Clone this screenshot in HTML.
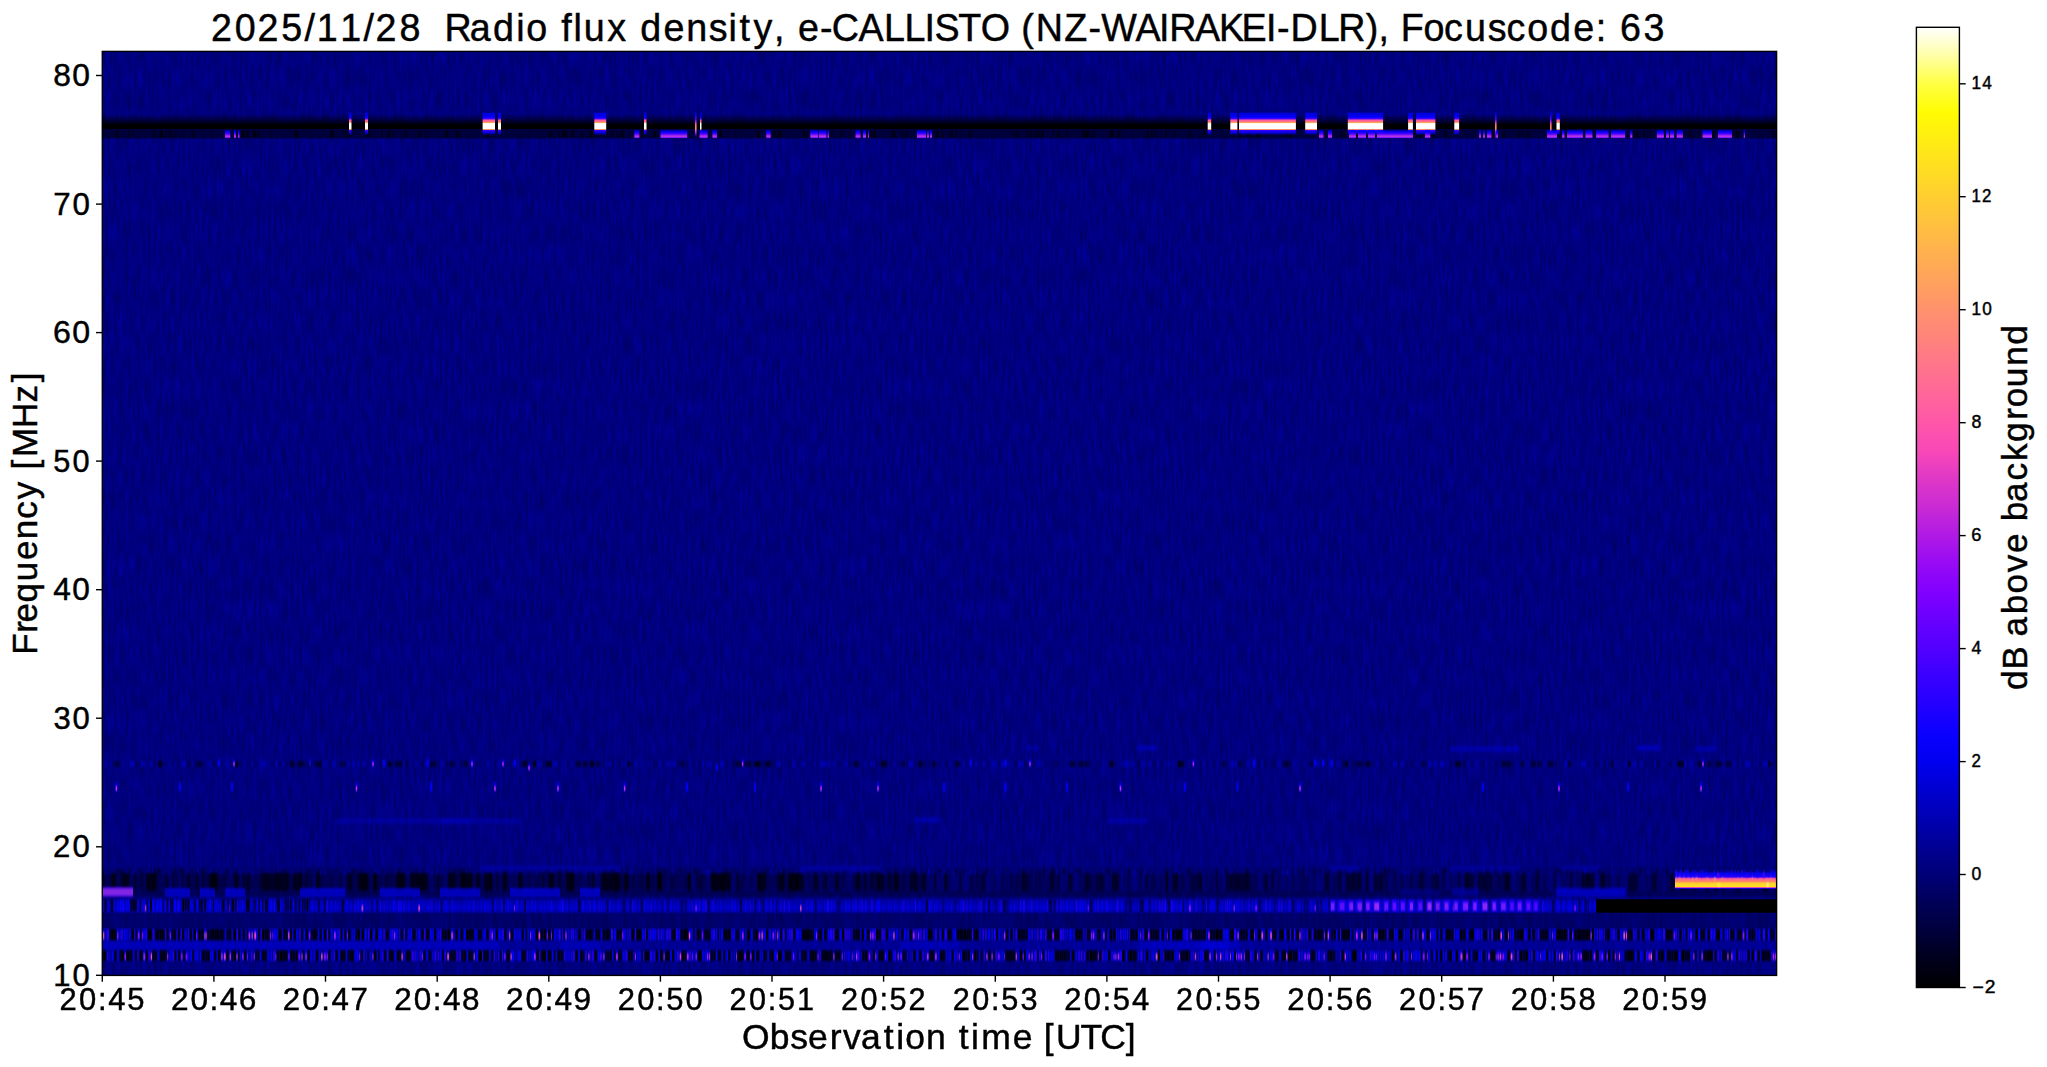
<!DOCTYPE html>
<html><head><meta charset="utf-8"><style>
html,body{margin:0;padding:0;background:#fff;width:2047px;height:1067px;overflow:hidden}
svg{display:block}
text{font-family:"Liberation Sans",sans-serif;fill:#000;stroke:#000;stroke-width:0.45px}
</style></head><body>
<svg width="2047" height="1067" viewBox="0 0 2047 1067">
<defs>
<linearGradient id="cb" x1="0" y1="1" x2="0" y2="0">
<stop offset="0.0000" stop-color="#000000"/>
<stop offset="0.0294" stop-color="#00001c"/>
<stop offset="0.0588" stop-color="#00003c"/>
<stop offset="0.0882" stop-color="#000058"/>
<stop offset="0.1176" stop-color="#000078"/>
<stop offset="0.1471" stop-color="#000094"/>
<stop offset="0.1765" stop-color="#0000b4"/>
<stop offset="0.2059" stop-color="#0000d0"/>
<stop offset="0.2353" stop-color="#0000f0"/>
<stop offset="0.2647" stop-color="#0a00ff"/>
<stop offset="0.2941" stop-color="#2300ff"/>
<stop offset="0.3235" stop-color="#3900ff"/>
<stop offset="0.3529" stop-color="#5200ff"/>
<stop offset="0.3824" stop-color="#6800ff"/>
<stop offset="0.4118" stop-color="#8100ff"/>
<stop offset="0.4412" stop-color="#970af5"/>
<stop offset="0.4706" stop-color="#b01ae5"/>
<stop offset="0.5000" stop-color="#c92ad5"/>
<stop offset="0.5294" stop-color="#df38c7"/>
<stop offset="0.5588" stop-color="#f848b7"/>
<stop offset="0.5882" stop-color="#ff56a9"/>
<stop offset="0.6176" stop-color="#ff6699"/>
<stop offset="0.6471" stop-color="#ff748b"/>
<stop offset="0.6765" stop-color="#ff847b"/>
<stop offset="0.7059" stop-color="#ff926d"/>
<stop offset="0.7353" stop-color="#ffa25d"/>
<stop offset="0.7647" stop-color="#ffb04f"/>
<stop offset="0.7941" stop-color="#ffc03f"/>
<stop offset="0.8235" stop-color="#ffce31"/>
<stop offset="0.8529" stop-color="#ffde21"/>
<stop offset="0.8824" stop-color="#ffec13"/>
<stop offset="0.9118" stop-color="#fffc03"/>
<stop offset="0.9412" stop-color="#ffff43"/>
<stop offset="0.9706" stop-color="#ffffa7"/>
<stop offset="1.0000" stop-color="#ffffff"/>
</linearGradient>
</defs>

<rect x="102.3" y="51.4" width="1674.3" height="924.0" fill="#00007d"/>
<defs><filter id="tex" x="0" y="0" width="100%" height="100%" color-interpolation-filters="sRGB">
<feTurbulence type="fractalNoise" baseFrequency="0.35 0.045" numOctaves="3" seed="3"/>
<feColorMatrix type="matrix" values="0 0 0 0 0  0 0 0 0 0  0.3 0 0 0 0.345  0 0 0 0 1"/>
</filter>
<linearGradient id="gTopDark" x1="0" y1="0" x2="0" y2="1"><stop offset="0" stop-color="#000" stop-opacity="0"/><stop offset="1" stop-color="#000" stop-opacity="0.8"/></linearGradient>
<linearGradient id="gWhite" x1="0" y1="0" x2="0" y2="1">
<stop offset="0" stop-color="#0000ff" stop-opacity="0"/>
<stop offset="0.065" stop-color="#0000ff" stop-opacity="0.7"/>
<stop offset="0.217" stop-color="#0000ff"/>
<stop offset="0.296" stop-color="#4000ff"/>
<stop offset="0.348" stop-color="#ff56a9"/>
<stop offset="0.448" stop-color="#ff8070"/>
<stop offset="0.474" stop-color="#ffe030"/>
<stop offset="0.504" stop-color="#ffffff"/>
<stop offset="0.717" stop-color="#ffffff"/>
<stop offset="0.748" stop-color="#ffd040"/>
<stop offset="0.774" stop-color="#ff5090"/>
<stop offset="0.804" stop-color="#3000ff"/>
<stop offset="0.913" stop-color="#0000ff" stop-opacity="0.8"/>
<stop offset="1" stop-color="#0000ff" stop-opacity="0"/>
</linearGradient>
<linearGradient id="gThin" x1="0" y1="0" x2="0" y2="1">
<stop offset="0" stop-color="#0000ff" stop-opacity="0"/>
<stop offset="0.15" stop-color="#0000ff" stop-opacity="0.8"/>
<stop offset="0.35" stop-color="#6000ff"/>
<stop offset="0.5" stop-color="#ff60a0"/>
<stop offset="0.65" stop-color="#ff9060"/>
<stop offset="0.8" stop-color="#c030e0"/>
<stop offset="1" stop-color="#0000ff" stop-opacity="0"/>
</linearGradient>
<linearGradient id="gPurp" x1="0" y1="0" x2="0" y2="1">
<stop offset="0" stop-color="#0000ff" stop-opacity="0.2"/>
<stop offset="0.25" stop-color="#0000ff"/>
<stop offset="0.5" stop-color="#5000ff"/>
<stop offset="0.75" stop-color="#c038e0"/>
<stop offset="0.9" stop-color="#8010ff"/>
<stop offset="1" stop-color="#2000ff" stop-opacity="0.4"/>
</linearGradient>
<linearGradient id="gYel" x1="0" y1="0" x2="0" y2="1">
<stop offset="0" stop-color="#0000ff" stop-opacity="0"/>
<stop offset="0.06" stop-color="#0000ff" stop-opacity="0.8"/>
<stop offset="0.29" stop-color="#2000ff"/>
<stop offset="0.34" stop-color="#d040c0"/>
<stop offset="0.40" stop-color="#ff6090"/>
<stop offset="0.57" stop-color="#ff9060"/>
<stop offset="0.63" stop-color="#ffd030"/>
<stop offset="0.83" stop-color="#ffe020"/>
<stop offset="0.88" stop-color="#ff60a0"/>
<stop offset="0.92" stop-color="#3000ff"/>
<stop offset="1" stop-color="#0000ff" stop-opacity="0"/>
</linearGradient>
<linearGradient id="gFade" x1="0" y1="0" x2="0" y2="1">
<stop offset="0" stop-color="#fff" stop-opacity="0"/>
<stop offset="0.25" stop-color="#fff" stop-opacity="1"/>
<stop offset="0.8" stop-color="#fff" stop-opacity="1"/>
<stop offset="1" stop-color="#fff" stop-opacity="0"/>
</linearGradient>
<mask id="m1" maskUnits="userSpaceOnUse" x="102.3" y="128.3" width="1674.3" height="11.2"><rect x="102.3" y="129.3" width="1674.3" height="9.2" fill="url(#gFade)"/></mask><filter id="blx" x="-2%" y="-20%" width="104%" height="140%"><feGaussianBlur stdDeviation="0.6 0.2"/></filter><filter id="bl" x="-2%" y="-50%" width="104%" height="200%"><feGaussianBlur stdDeviation="0.35 1.0"/></filter><filter id="bl2" x="-2%" y="-50%" width="104%" height="200%"><feGaussianBlur stdDeviation="0.8 1.5"/></filter><clipPath id="plotclip"><rect x="102.3" y="51.4" width="1674.3" height="924.0"/></clipPath></defs>
<g clip-path="url(#plotclip)">
<rect x="102.3" y="51.4" width="1674.3" height="924.0" fill="#000078"/>
<rect x="102.3" y="51.4" width="1674.3" height="924.0" filter="url(#tex)"/>
<rect x="102.3" y="114.0" width="1674.3" height="9.3" fill="url(#gTopDark)"/>
<rect x="102.3" y="123.3" width="1674.3" height="6.0" fill="#000"/>
<rect x="102.3" y="129.3" width="1674.3" height="9.2" fill="#000020" opacity="0.7"/>
<g mask="url(#m1)"><rect x="115.0" y="129.3" width="3.4" height="9.2" fill="#000" opacity="0.45"/><rect x="128.1" y="129.3" width="2.8" height="9.2" fill="#000" opacity="0.31"/><rect x="132.6" y="129.3" width="1.2" height="9.2" fill="#000" opacity="0.42"/><rect x="153.2" y="129.3" width="3.1" height="9.2" fill="#000" opacity="0.41"/><rect x="159.6" y="129.3" width="3.5" height="9.2" fill="#000" opacity="0.78"/><rect x="165.6" y="129.3" width="1.0" height="9.2" fill="#000" opacity="0.76"/><rect x="168.1" y="129.3" width="3.9" height="9.2" fill="#000" opacity="0.34"/><rect x="173.9" y="129.3" width="3.3" height="9.2" fill="#000" opacity="0.34"/><rect x="182.5" y="129.3" width="1.7" height="9.2" fill="#000" opacity="0.33"/><rect x="191.4" y="129.3" width="2.9" height="9.2" fill="#000" opacity="0.51"/><rect x="210.6" y="129.3" width="1.9" height="9.2" fill="#000" opacity="0.35"/><rect x="228.1" y="129.3" width="1.7" height="9.2" fill="#000" opacity="0.67"/><rect x="241.8" y="129.3" width="3.1" height="9.2" fill="#000" opacity="0.71"/><rect x="246.7" y="129.3" width="1.9" height="9.2" fill="#000" opacity="0.66"/><rect x="253.0" y="129.3" width="2.8" height="9.2" fill="#000" opacity="0.76"/><rect x="256.5" y="129.3" width="1.0" height="9.2" fill="#000" opacity="0.52"/><rect x="257.7" y="129.3" width="1.5" height="9.2" fill="#000" opacity="0.59"/><rect x="269.4" y="129.3" width="1.4" height="9.2" fill="#000" opacity="0.31"/><rect x="294.9" y="129.3" width="3.7" height="9.2" fill="#000" opacity="0.64"/><rect x="330.4" y="129.3" width="3.5" height="9.2" fill="#000" opacity="0.68"/><rect x="342.4" y="129.3" width="3.8" height="9.2" fill="#000" opacity="0.31"/><rect x="347.1" y="129.3" width="3.0" height="9.2" fill="#000" opacity="0.38"/><rect x="366.1" y="129.3" width="3.6" height="9.2" fill="#000" opacity="0.59"/><rect x="381.0" y="129.3" width="1.8" height="9.2" fill="#000" opacity="0.53"/><rect x="387.2" y="129.3" width="2.5" height="9.2" fill="#000" opacity="0.72"/><rect x="392.6" y="129.3" width="2.4" height="9.2" fill="#000" opacity="0.32"/><rect x="403.9" y="129.3" width="3.5" height="9.2" fill="#000" opacity="0.37"/><rect x="418.1" y="129.3" width="3.1" height="9.2" fill="#000" opacity="0.54"/><rect x="424.9" y="129.3" width="1.5" height="9.2" fill="#000" opacity="0.47"/><rect x="444.9" y="129.3" width="3.7" height="9.2" fill="#000" opacity="0.58"/><rect x="456.1" y="129.3" width="3.0" height="9.2" fill="#000" opacity="0.66"/><rect x="486.3" y="129.3" width="3.4" height="9.2" fill="#000" opacity="0.70"/><rect x="548.8" y="129.3" width="3.8" height="9.2" fill="#000" opacity="0.54"/><rect x="558.0" y="129.3" width="2.4" height="9.2" fill="#000" opacity="0.40"/><rect x="562.3" y="129.3" width="3.8" height="9.2" fill="#000" opacity="0.69"/><rect x="566.1" y="129.3" width="1.6" height="9.2" fill="#000" opacity="0.64"/><rect x="571.0" y="129.3" width="3.2" height="9.2" fill="#000" opacity="0.56"/><rect x="581.6" y="129.3" width="1.5" height="9.2" fill="#000" opacity="0.62"/><rect x="589.4" y="129.3" width="3.6" height="9.2" fill="#000" opacity="0.67"/><rect x="595.4" y="129.3" width="3.7" height="9.2" fill="#000" opacity="0.46"/><rect x="606.2" y="129.3" width="1.4" height="9.2" fill="#000" opacity="0.66"/><rect x="610.9" y="129.3" width="3.4" height="9.2" fill="#000" opacity="0.50"/><rect x="616.4" y="129.3" width="1.1" height="9.2" fill="#000" opacity="0.64"/><rect x="620.2" y="129.3" width="3.9" height="9.2" fill="#000" opacity="0.55"/><rect x="629.4" y="129.3" width="1.2" height="9.2" fill="#000" opacity="0.32"/><rect x="635.3" y="129.3" width="1.6" height="9.2" fill="#000" opacity="0.72"/><rect x="639.8" y="129.3" width="3.8" height="9.2" fill="#000" opacity="0.33"/><rect x="653.5" y="129.3" width="2.8" height="9.2" fill="#000" opacity="0.65"/><rect x="662.6" y="129.3" width="2.2" height="9.2" fill="#000" opacity="0.38"/><rect x="706.8" y="129.3" width="1.2" height="9.2" fill="#000" opacity="0.53"/><rect x="719.4" y="129.3" width="2.6" height="9.2" fill="#000" opacity="0.80"/><rect x="735.2" y="129.3" width="1.6" height="9.2" fill="#000" opacity="0.35"/><rect x="755.8" y="129.3" width="3.8" height="9.2" fill="#000" opacity="0.54"/><rect x="768.1" y="129.3" width="2.8" height="9.2" fill="#000" opacity="0.44"/><rect x="772.9" y="129.3" width="2.7" height="9.2" fill="#000" opacity="0.66"/><rect x="776.5" y="129.3" width="1.0" height="9.2" fill="#000" opacity="0.32"/><rect x="778.0" y="129.3" width="3.3" height="9.2" fill="#000" opacity="0.75"/><rect x="802.7" y="129.3" width="2.8" height="9.2" fill="#000" opacity="0.61"/><rect x="806.9" y="129.3" width="1.6" height="9.2" fill="#000" opacity="0.56"/><rect x="830.2" y="129.3" width="2.9" height="9.2" fill="#000" opacity="0.44"/><rect x="839.8" y="129.3" width="3.3" height="9.2" fill="#000" opacity="0.42"/><rect x="849.8" y="129.3" width="1.2" height="9.2" fill="#000" opacity="0.51"/><rect x="857.3" y="129.3" width="2.9" height="9.2" fill="#000" opacity="0.54"/><rect x="865.4" y="129.3" width="1.2" height="9.2" fill="#000" opacity="0.70"/><rect x="868.5" y="129.3" width="3.3" height="9.2" fill="#000" opacity="0.51"/><rect x="872.6" y="129.3" width="3.4" height="9.2" fill="#000" opacity="0.63"/><rect x="892.3" y="129.3" width="3.1" height="9.2" fill="#000" opacity="0.69"/><rect x="901.4" y="129.3" width="1.8" height="9.2" fill="#000" opacity="0.48"/><rect x="905.5" y="129.3" width="2.1" height="9.2" fill="#000" opacity="0.65"/><rect x="919.0" y="129.3" width="2.0" height="9.2" fill="#000" opacity="0.77"/><rect x="923.6" y="129.3" width="1.7" height="9.2" fill="#000" opacity="0.48"/><rect x="926.5" y="129.3" width="2.2" height="9.2" fill="#000" opacity="0.40"/><rect x="936.2" y="129.3" width="2.7" height="9.2" fill="#000" opacity="0.68"/><rect x="941.6" y="129.3" width="1.8" height="9.2" fill="#000" opacity="0.56"/><rect x="949.7" y="129.3" width="3.4" height="9.2" fill="#000" opacity="0.57"/><rect x="955.5" y="129.3" width="1.3" height="9.2" fill="#000" opacity="0.67"/><rect x="968.3" y="129.3" width="3.3" height="9.2" fill="#000" opacity="0.47"/><rect x="1013.0" y="129.3" width="1.5" height="9.2" fill="#000" opacity="0.51"/><rect x="1015.3" y="129.3" width="3.9" height="9.2" fill="#000" opacity="0.45"/><rect x="1026.0" y="129.3" width="3.7" height="9.2" fill="#000" opacity="0.35"/><rect x="1030.3" y="129.3" width="1.7" height="9.2" fill="#000" opacity="0.66"/><rect x="1033.7" y="129.3" width="1.7" height="9.2" fill="#000" opacity="0.44"/><rect x="1035.9" y="129.3" width="3.3" height="9.2" fill="#000" opacity="0.57"/><rect x="1041.6" y="129.3" width="2.4" height="9.2" fill="#000" opacity="0.74"/><rect x="1051.7" y="129.3" width="2.4" height="9.2" fill="#000" opacity="0.32"/><rect x="1057.0" y="129.3" width="3.4" height="9.2" fill="#000" opacity="0.56"/><rect x="1065.8" y="129.3" width="1.7" height="9.2" fill="#000" opacity="0.54"/><rect x="1073.8" y="129.3" width="1.5" height="9.2" fill="#000" opacity="0.46"/><rect x="1081.6" y="129.3" width="4.0" height="9.2" fill="#000" opacity="0.57"/><rect x="1086.0" y="129.3" width="3.3" height="9.2" fill="#000" opacity="0.71"/><rect x="1091.8" y="129.3" width="3.5" height="9.2" fill="#000" opacity="0.43"/><rect x="1109.8" y="129.3" width="3.8" height="9.2" fill="#000" opacity="0.71"/><rect x="1117.2" y="129.3" width="3.5" height="9.2" fill="#000" opacity="0.46"/><rect x="1146.2" y="129.3" width="2.8" height="9.2" fill="#000" opacity="0.49"/><rect x="1150.7" y="129.3" width="1.9" height="9.2" fill="#000" opacity="0.50"/><rect x="1154.6" y="129.3" width="1.8" height="9.2" fill="#000" opacity="0.67"/><rect x="1165.6" y="129.3" width="1.4" height="9.2" fill="#000" opacity="0.64"/><rect x="1173.2" y="129.3" width="2.8" height="9.2" fill="#000" opacity="0.41"/><rect x="1188.7" y="129.3" width="2.2" height="9.2" fill="#000" opacity="0.51"/><rect x="1201.3" y="129.3" width="1.1" height="9.2" fill="#000" opacity="0.47"/><rect x="1204.3" y="129.3" width="1.3" height="9.2" fill="#000" opacity="0.55"/><rect x="1232.2" y="129.3" width="1.2" height="9.2" fill="#000" opacity="0.59"/><rect x="1238.6" y="129.3" width="2.4" height="9.2" fill="#000" opacity="0.79"/><rect x="1246.8" y="129.3" width="2.7" height="9.2" fill="#000" opacity="0.75"/><rect x="1256.3" y="129.3" width="3.5" height="9.2" fill="#000" opacity="0.75"/><rect x="1263.8" y="129.3" width="2.6" height="9.2" fill="#000" opacity="0.32"/><rect x="1281.6" y="129.3" width="1.0" height="9.2" fill="#000" opacity="0.53"/><rect x="1285.7" y="129.3" width="2.6" height="9.2" fill="#000" opacity="0.58"/><rect x="1289.3" y="129.3" width="2.9" height="9.2" fill="#000" opacity="0.64"/><rect x="1340.3" y="129.3" width="2.2" height="9.2" fill="#000" opacity="0.65"/><rect x="1344.1" y="129.3" width="1.7" height="9.2" fill="#000" opacity="0.50"/><rect x="1354.9" y="129.3" width="3.4" height="9.2" fill="#000" opacity="0.67"/><rect x="1360.0" y="129.3" width="3.7" height="9.2" fill="#000" opacity="0.70"/><rect x="1366.7" y="129.3" width="1.7" height="9.2" fill="#000" opacity="0.46"/><rect x="1383.1" y="129.3" width="2.4" height="9.2" fill="#000" opacity="0.45"/><rect x="1388.3" y="129.3" width="3.7" height="9.2" fill="#000" opacity="0.72"/><rect x="1393.1" y="129.3" width="2.4" height="9.2" fill="#000" opacity="0.74"/><rect x="1400.7" y="129.3" width="3.6" height="9.2" fill="#000" opacity="0.35"/><rect x="1411.0" y="129.3" width="3.1" height="9.2" fill="#000" opacity="0.65"/><rect x="1417.0" y="129.3" width="2.3" height="9.2" fill="#000" opacity="0.41"/><rect x="1420.2" y="129.3" width="3.1" height="9.2" fill="#000" opacity="0.39"/><rect x="1432.9" y="129.3" width="1.7" height="9.2" fill="#000" opacity="0.76"/><rect x="1444.3" y="129.3" width="2.6" height="9.2" fill="#000" opacity="0.60"/><rect x="1482.3" y="129.3" width="3.3" height="9.2" fill="#000" opacity="0.60"/><rect x="1491.0" y="129.3" width="3.4" height="9.2" fill="#000" opacity="0.54"/><rect x="1502.4" y="129.3" width="3.6" height="9.2" fill="#000" opacity="0.38"/><rect x="1517.2" y="129.3" width="3.4" height="9.2" fill="#000" opacity="0.37"/><rect x="1521.6" y="129.3" width="1.1" height="9.2" fill="#000" opacity="0.61"/><rect x="1526.3" y="129.3" width="3.5" height="9.2" fill="#000" opacity="0.43"/><rect x="1548.8" y="129.3" width="1.1" height="9.2" fill="#000" opacity="0.75"/><rect x="1550.4" y="129.3" width="2.2" height="9.2" fill="#000" opacity="0.51"/><rect x="1556.2" y="129.3" width="3.2" height="9.2" fill="#000" opacity="0.43"/><rect x="1565.6" y="129.3" width="2.1" height="9.2" fill="#000" opacity="0.79"/><rect x="1572.6" y="129.3" width="1.2" height="9.2" fill="#000" opacity="0.65"/><rect x="1583.8" y="129.3" width="3.3" height="9.2" fill="#000" opacity="0.47"/><rect x="1587.7" y="129.3" width="2.6" height="9.2" fill="#000" opacity="0.40"/><rect x="1591.0" y="129.3" width="2.4" height="9.2" fill="#000" opacity="0.52"/><rect x="1600.0" y="129.3" width="2.1" height="9.2" fill="#000" opacity="0.65"/><rect x="1603.3" y="129.3" width="1.8" height="9.2" fill="#000" opacity="0.39"/><rect x="1610.2" y="129.3" width="1.8" height="9.2" fill="#000" opacity="0.38"/><rect x="1619.1" y="129.3" width="3.7" height="9.2" fill="#000" opacity="0.46"/><rect x="1629.6" y="129.3" width="2.2" height="9.2" fill="#000" opacity="0.32"/><rect x="1632.3" y="129.3" width="2.8" height="9.2" fill="#000" opacity="0.46"/><rect x="1636.3" y="129.3" width="2.6" height="9.2" fill="#000" opacity="0.65"/><rect x="1643.4" y="129.3" width="1.6" height="9.2" fill="#000" opacity="0.66"/><rect x="1649.0" y="129.3" width="1.9" height="9.2" fill="#000" opacity="0.41"/><rect x="1667.7" y="129.3" width="3.6" height="9.2" fill="#000" opacity="0.62"/><rect x="1671.6" y="129.3" width="2.3" height="9.2" fill="#000" opacity="0.33"/><rect x="1683.0" y="129.3" width="1.3" height="9.2" fill="#000" opacity="0.51"/><rect x="1689.1" y="129.3" width="3.1" height="9.2" fill="#000" opacity="0.50"/><rect x="1698.6" y="129.3" width="2.0" height="9.2" fill="#000" opacity="0.31"/><rect x="1706.0" y="129.3" width="3.0" height="9.2" fill="#000" opacity="0.53"/><rect x="1710.9" y="129.3" width="3.9" height="9.2" fill="#000" opacity="0.59"/><rect x="1730.4" y="129.3" width="3.7" height="9.2" fill="#000" opacity="0.37"/><rect x="1735.7" y="129.3" width="1.9" height="9.2" fill="#000" opacity="0.79"/><rect x="1738.1" y="129.3" width="1.6" height="9.2" fill="#000" opacity="0.64"/><rect x="1772.1" y="129.3" width="2.1" height="9.2" fill="#000" opacity="0.67"/><rect x="1775.8" y="129.3" width="1.7" height="9.2" fill="#000" opacity="0.46"/></g>
<g filter="url(#blx)"><rect x="349.0" y="112.0" width="2.5" height="23.0" fill="url(#gWhite)"/><rect x="365.0" y="112.0" width="3.0" height="23.0" fill="url(#gWhite)"/><rect x="482.6" y="112.0" width="12.4" height="23.0" fill="url(#gWhite)"/><rect x="498.0" y="112.0" width="3.0" height="23.0" fill="url(#gWhite)"/><rect x="594.3" y="112.0" width="11.9" height="23.0" fill="url(#gWhite)"/><rect x="644.0" y="112.0" width="2.5" height="23.0" fill="url(#gWhite)"/><rect x="700.0" y="112.0" width="1.5" height="23.0" fill="url(#gWhite)"/><rect x="1207.7" y="112.0" width="3.5" height="23.0" fill="url(#gWhite)"/><rect x="1230.3" y="112.0" width="7.1" height="23.0" fill="url(#gWhite)"/><rect x="1239.0" y="112.0" width="56.9" height="23.0" fill="url(#gWhite)"/><rect x="1305.2" y="112.0" width="11.8" height="23.0" fill="url(#gWhite)"/><rect x="1347.8" y="112.0" width="35.3" height="23.0" fill="url(#gWhite)"/><rect x="1408.1" y="112.0" width="4.8" height="23.0" fill="url(#gWhite)"/><rect x="1416.0" y="112.0" width="19.4" height="23.0" fill="url(#gWhite)"/><rect x="1454.3" y="112.0" width="4.8" height="23.0" fill="url(#gWhite)"/><rect x="1556.5" y="112.0" width="3.3" height="23.0" fill="url(#gWhite)"/><rect x="695.0" y="110.0" width="1.6" height="28.0" fill="url(#gThin)"/><rect x="1495.0" y="110.0" width="1.6" height="28.0" fill="url(#gThin)"/><rect x="1550.0" y="110.0" width="1.6" height="28.0" fill="url(#gThin)"/></g>
<g filter="url(#blx)"><rect x="225.0" y="129.5" width="5.3" height="9.0" fill="url(#gPurp)"/><rect x="234.0" y="129.5" width="2.0" height="9.0" fill="url(#gPurp)"/><rect x="238.0" y="129.5" width="1.5" height="9.0" fill="url(#gPurp)"/><rect x="634.3" y="129.5" width="5.1" height="9.0" fill="url(#gPurp)"/><rect x="660.5" y="129.5" width="26.7" height="9.0" fill="url(#gPurp)"/><rect x="699.5" y="129.5" width="8.2" height="9.0" fill="url(#gPurp)"/><rect x="712.4" y="129.5" width="4.5" height="9.0" fill="url(#gPurp)"/><rect x="766.2" y="129.5" width="4.5" height="9.0" fill="url(#gPurp)"/><rect x="810.3" y="129.5" width="7.7" height="9.0" fill="url(#gPurp)"/><rect x="818.8" y="129.5" width="7.6" height="9.0" fill="url(#gPurp)"/><rect x="827.5" y="129.5" width="1.5" height="9.0" fill="url(#gPurp)"/><rect x="855.5" y="129.5" width="5.0" height="9.0" fill="url(#gPurp)"/><rect x="863.0" y="129.5" width="3.0" height="9.0" fill="url(#gPurp)"/><rect x="868.0" y="129.5" width="1.0" height="9.0" fill="url(#gPurp)"/><rect x="917.0" y="129.5" width="9.0" height="9.0" fill="url(#gPurp)"/><rect x="927.0" y="129.5" width="2.0" height="9.0" fill="url(#gPurp)"/><rect x="930.0" y="129.5" width="2.0" height="9.0" fill="url(#gPurp)"/><rect x="1319.0" y="129.5" width="4.5" height="9.0" fill="url(#gPurp)"/><rect x="1328.0" y="129.5" width="4.0" height="9.0" fill="url(#gPurp)"/><rect x="1349.0" y="129.5" width="7.0" height="9.0" fill="url(#gPurp)"/><rect x="1358.0" y="129.5" width="8.0" height="9.0" fill="url(#gPurp)"/><rect x="1368.0" y="129.5" width="7.0" height="9.0" fill="url(#gPurp)"/><rect x="1377.0" y="129.5" width="36.0" height="9.0" fill="url(#gPurp)"/><rect x="1425.0" y="129.5" width="5.3" height="9.0" fill="url(#gPurp)"/><rect x="1479.0" y="129.5" width="2.0" height="9.0" fill="url(#gPurp)"/><rect x="1483.0" y="129.5" width="2.0" height="9.0" fill="url(#gPurp)"/><rect x="1487.0" y="129.5" width="4.5" height="9.0" fill="url(#gPurp)"/><rect x="1495.6" y="129.5" width="2.4" height="9.0" fill="url(#gPurp)"/><rect x="1547.0" y="129.5" width="10.0" height="9.0" fill="url(#gPurp)"/><rect x="1562.0" y="129.5" width="2.6" height="9.0" fill="url(#gPurp)"/><rect x="1567.0" y="129.5" width="15.9" height="9.0" fill="url(#gPurp)"/><rect x="1585.3" y="129.5" width="7.2" height="9.0" fill="url(#gPurp)"/><rect x="1596.1" y="129.5" width="12.5" height="9.0" fill="url(#gPurp)"/><rect x="1611.0" y="129.5" width="14.2" height="9.0" fill="url(#gPurp)"/><rect x="1630.2" y="129.5" width="2.2" height="9.0" fill="url(#gPurp)"/><rect x="1656.8" y="129.5" width="7.1" height="9.0" fill="url(#gPurp)"/><rect x="1666.0" y="129.5" width="3.0" height="9.0" fill="url(#gPurp)"/><rect x="1670.0" y="129.5" width="4.2" height="9.0" fill="url(#gPurp)"/><rect x="1676.7" y="129.5" width="6.2" height="9.0" fill="url(#gPurp)"/><rect x="1702.5" y="129.5" width="9.5" height="9.0" fill="url(#gPurp)"/><rect x="1718.0" y="129.5" width="13.9" height="9.0" fill="url(#gPurp)"/><rect x="1743.7" y="129.5" width="1.3" height="9.0" fill="url(#gPurp)"/></g>
<g filter="url(#bl2)"><rect x="102.3" y="874.0" width="797.7" height="15.0" fill="#000010" opacity="0.6"/><rect x="900.0" y="874.0" width="876.6" height="15.0" fill="#000010" opacity="0.45"/><rect x="102.3" y="868.0" width="1674.3" height="6.0" fill="#000020" opacity="0.25"/><rect x="102.3" y="889.0" width="1674.3" height="8.0" fill="#000020" opacity="0.45"/></g>
<g filter="url(#bl)"><rect x="102.3" y="869.0" width="2.0" height="6.0" fill="#000" opacity="0.22"/><rect x="104.7" y="869.0" width="1.2" height="6.0" fill="#0000ff" opacity="0.35"/><rect x="110.0" y="869.0" width="1.1" height="6.0" fill="#0000c0" opacity="0.36"/><rect x="112.6" y="869.0" width="2.0" height="6.0" fill="#0000c0" opacity="0.18"/><rect x="116.8" y="869.0" width="2.4" height="6.0" fill="#000" opacity="0.46"/><rect x="120.4" y="869.0" width="2.1" height="6.0" fill="#000" opacity="0.50"/><rect x="126.4" y="869.0" width="1.3" height="6.0" fill="#0000c0" opacity="0.34"/><rect x="129.9" y="869.0" width="2.3" height="6.0" fill="#000" opacity="0.26"/><rect x="132.3" y="869.0" width="2.2" height="6.0" fill="#0000ff" opacity="0.18"/><rect x="136.0" y="869.0" width="2.3" height="6.0" fill="#0000ff" opacity="0.11"/><rect x="139.1" y="869.0" width="1.1" height="6.0" fill="#000" opacity="0.42"/><rect x="146.1" y="869.0" width="1.2" height="6.0" fill="#0000ff" opacity="0.35"/><rect x="148.4" y="869.0" width="1.1" height="6.0" fill="#0000c0" opacity="0.17"/><rect x="152.0" y="869.0" width="1.3" height="6.0" fill="#0000ff" opacity="0.26"/><rect x="154.1" y="869.0" width="1.4" height="6.0" fill="#000" opacity="0.48"/><rect x="157.0" y="869.0" width="2.0" height="6.0" fill="#000" opacity="0.30"/><rect x="159.1" y="869.0" width="2.1" height="6.0" fill="#000" opacity="0.39"/><rect x="162.9" y="869.0" width="1.5" height="6.0" fill="#0000c0" opacity="0.27"/><rect x="165.2" y="869.0" width="1.0" height="6.0" fill="#0000ff" opacity="0.10"/><rect x="167.1" y="869.0" width="2.6" height="6.0" fill="#0000c0" opacity="0.25"/><rect x="174.5" y="869.0" width="1.8" height="6.0" fill="#000" opacity="0.37"/><rect x="180.2" y="869.0" width="2.2" height="6.0" fill="#000" opacity="0.48"/><rect x="187.7" y="869.0" width="3.0" height="6.0" fill="#0000ff" opacity="0.15"/><rect x="191.7" y="869.0" width="1.2" height="6.0" fill="#000" opacity="0.31"/><rect x="197.4" y="869.0" width="1.6" height="6.0" fill="#0000ff" opacity="0.37"/><rect x="201.2" y="869.0" width="2.5" height="6.0" fill="#000" opacity="0.27"/><rect x="209.3" y="869.0" width="2.0" height="6.0" fill="#0000ff" opacity="0.38"/><rect x="216.3" y="869.0" width="1.8" height="6.0" fill="#0000ff" opacity="0.10"/><rect x="220.1" y="869.0" width="2.4" height="6.0" fill="#0000c0" opacity="0.34"/><rect x="226.4" y="869.0" width="1.7" height="6.0" fill="#000" opacity="0.47"/><rect x="230.0" y="869.0" width="1.2" height="6.0" fill="#0000ff" opacity="0.16"/><rect x="234.5" y="869.0" width="2.4" height="6.0" fill="#000" opacity="0.23"/><rect x="237.7" y="869.0" width="1.7" height="6.0" fill="#0000ff" opacity="0.22"/><rect x="240.0" y="869.0" width="2.9" height="6.0" fill="#0000ff" opacity="0.11"/><rect x="243.3" y="869.0" width="2.2" height="6.0" fill="#0000c0" opacity="0.23"/><rect x="246.8" y="869.0" width="1.8" height="6.0" fill="#0000ff" opacity="0.34"/><rect x="250.9" y="869.0" width="2.8" height="6.0" fill="#0000c0" opacity="0.26"/><rect x="258.1" y="869.0" width="2.3" height="6.0" fill="#0000ff" opacity="0.16"/><rect x="265.8" y="869.0" width="2.7" height="6.0" fill="#0000ff" opacity="0.14"/><rect x="273.0" y="869.0" width="1.9" height="6.0" fill="#0000c0" opacity="0.25"/><rect x="278.1" y="869.0" width="1.1" height="6.0" fill="#0000c0" opacity="0.23"/><rect x="282.7" y="869.0" width="2.9" height="6.0" fill="#000" opacity="0.34"/><rect x="291.6" y="869.0" width="2.5" height="6.0" fill="#0000c0" opacity="0.40"/><rect x="299.2" y="869.0" width="1.3" height="6.0" fill="#0000c0" opacity="0.13"/><rect x="306.0" y="869.0" width="2.6" height="6.0" fill="#000" opacity="0.23"/><rect x="309.3" y="869.0" width="1.5" height="6.0" fill="#000" opacity="0.26"/><rect x="311.0" y="869.0" width="1.7" height="6.0" fill="#0000c0" opacity="0.24"/><rect x="317.9" y="869.0" width="1.4" height="6.0" fill="#000" opacity="0.39"/><rect x="319.7" y="869.0" width="2.1" height="6.0" fill="#0000c0" opacity="0.36"/><rect x="324.8" y="869.0" width="1.1" height="6.0" fill="#0000ff" opacity="0.34"/><rect x="328.1" y="869.0" width="1.2" height="6.0" fill="#000" opacity="0.30"/><rect x="334.5" y="869.0" width="2.7" height="6.0" fill="#000" opacity="0.25"/><rect x="339.5" y="869.0" width="2.7" height="6.0" fill="#0000c0" opacity="0.12"/><rect x="343.4" y="869.0" width="2.3" height="6.0" fill="#0000ff" opacity="0.27"/><rect x="347.9" y="869.0" width="2.6" height="6.0" fill="#0000c0" opacity="0.30"/><rect x="351.8" y="869.0" width="2.5" height="6.0" fill="#000" opacity="0.37"/><rect x="354.6" y="869.0" width="1.6" height="6.0" fill="#000" opacity="0.30"/><rect x="359.9" y="869.0" width="1.6" height="6.0" fill="#000" opacity="0.22"/><rect x="362.8" y="869.0" width="2.4" height="6.0" fill="#0000c0" opacity="0.16"/><rect x="366.8" y="869.0" width="1.7" height="6.0" fill="#0000c0" opacity="0.24"/><rect x="374.2" y="869.0" width="1.7" height="6.0" fill="#0000ff" opacity="0.25"/><rect x="376.6" y="869.0" width="2.8" height="6.0" fill="#0000ff" opacity="0.30"/><rect x="385.0" y="869.0" width="1.8" height="6.0" fill="#0000ff" opacity="0.23"/><rect x="389.3" y="869.0" width="1.6" height="6.0" fill="#0000c0" opacity="0.19"/><rect x="394.9" y="869.0" width="1.5" height="6.0" fill="#0000ff" opacity="0.28"/><rect x="398.7" y="869.0" width="1.6" height="6.0" fill="#000" opacity="0.46"/><rect x="404.9" y="869.0" width="1.2" height="6.0" fill="#0000c0" opacity="0.37"/><rect x="408.2" y="869.0" width="1.7" height="6.0" fill="#0000c0" opacity="0.40"/><rect x="415.2" y="869.0" width="2.3" height="6.0" fill="#000" opacity="0.22"/><rect x="418.6" y="869.0" width="2.0" height="6.0" fill="#0000ff" opacity="0.39"/><rect x="426.6" y="869.0" width="1.8" height="6.0" fill="#0000ff" opacity="0.40"/><rect x="431.1" y="869.0" width="1.8" height="6.0" fill="#0000ff" opacity="0.26"/><rect x="435.9" y="869.0" width="2.7" height="6.0" fill="#0000ff" opacity="0.32"/><rect x="439.6" y="869.0" width="2.3" height="6.0" fill="#0000c0" opacity="0.30"/><rect x="444.7" y="869.0" width="2.8" height="6.0" fill="#0000ff" opacity="0.10"/><rect x="453.1" y="869.0" width="2.8" height="6.0" fill="#000" opacity="0.31"/><rect x="459.2" y="869.0" width="2.1" height="6.0" fill="#000" opacity="0.44"/><rect x="463.0" y="869.0" width="2.0" height="6.0" fill="#000" opacity="0.37"/><rect x="465.8" y="869.0" width="1.2" height="6.0" fill="#0000c0" opacity="0.21"/><rect x="470.5" y="869.0" width="1.9" height="6.0" fill="#0000c0" opacity="0.15"/><rect x="473.3" y="869.0" width="2.8" height="6.0" fill="#0000ff" opacity="0.14"/><rect x="477.1" y="869.0" width="2.2" height="6.0" fill="#0000ff" opacity="0.22"/><rect x="480.3" y="869.0" width="2.6" height="6.0" fill="#0000c0" opacity="0.15"/><rect x="483.1" y="869.0" width="1.2" height="6.0" fill="#0000ff" opacity="0.22"/><rect x="485.6" y="869.0" width="2.1" height="6.0" fill="#0000c0" opacity="0.20"/><rect x="491.6" y="869.0" width="2.8" height="6.0" fill="#0000ff" opacity="0.22"/><rect x="498.8" y="869.0" width="1.5" height="6.0" fill="#0000c0" opacity="0.34"/><rect x="504.2" y="869.0" width="1.7" height="6.0" fill="#000" opacity="0.29"/><rect x="509.1" y="869.0" width="1.3" height="6.0" fill="#0000c0" opacity="0.22"/><rect x="511.0" y="869.0" width="1.7" height="6.0" fill="#0000c0" opacity="0.39"/><rect x="515.9" y="869.0" width="2.5" height="6.0" fill="#0000ff" opacity="0.10"/><rect x="524.1" y="869.0" width="1.7" height="6.0" fill="#0000c0" opacity="0.35"/><rect x="530.4" y="869.0" width="1.1" height="6.0" fill="#000" opacity="0.24"/><rect x="536.1" y="869.0" width="1.7" height="6.0" fill="#0000ff" opacity="0.18"/><rect x="542.6" y="869.0" width="1.9" height="6.0" fill="#0000c0" opacity="0.13"/><rect x="545.0" y="869.0" width="1.8" height="6.0" fill="#000" opacity="0.28"/><rect x="547.0" y="869.0" width="1.3" height="6.0" fill="#000" opacity="0.29"/><rect x="550.0" y="869.0" width="3.0" height="6.0" fill="#0000c0" opacity="0.29"/><rect x="558.6" y="869.0" width="2.3" height="6.0" fill="#000" opacity="0.48"/><rect x="565.3" y="869.0" width="2.2" height="6.0" fill="#000" opacity="0.42"/><rect x="570.0" y="869.0" width="2.4" height="6.0" fill="#0000ff" opacity="0.15"/><rect x="576.5" y="869.0" width="1.3" height="6.0" fill="#0000c0" opacity="0.34"/><rect x="583.2" y="869.0" width="2.5" height="6.0" fill="#0000c0" opacity="0.30"/><rect x="586.3" y="869.0" width="1.2" height="6.0" fill="#0000ff" opacity="0.38"/><rect x="590.0" y="869.0" width="2.1" height="6.0" fill="#0000ff" opacity="0.15"/><rect x="594.5" y="869.0" width="2.8" height="6.0" fill="#0000ff" opacity="0.30"/><rect x="600.3" y="869.0" width="2.4" height="6.0" fill="#0000c0" opacity="0.13"/><rect x="603.7" y="869.0" width="2.2" height="6.0" fill="#000" opacity="0.30"/><rect x="606.8" y="869.0" width="1.7" height="6.0" fill="#0000c0" opacity="0.24"/><rect x="611.3" y="869.0" width="2.5" height="6.0" fill="#000" opacity="0.41"/><rect x="616.2" y="869.0" width="1.2" height="6.0" fill="#0000c0" opacity="0.21"/><rect x="617.7" y="869.0" width="2.8" height="6.0" fill="#0000c0" opacity="0.21"/><rect x="623.1" y="869.0" width="2.2" height="6.0" fill="#0000c0" opacity="0.37"/><rect x="628.3" y="869.0" width="1.5" height="6.0" fill="#0000ff" opacity="0.30"/><rect x="630.6" y="869.0" width="3.0" height="6.0" fill="#0000ff" opacity="0.27"/><rect x="634.5" y="869.0" width="2.9" height="6.0" fill="#0000c0" opacity="0.13"/><rect x="638.7" y="869.0" width="1.4" height="6.0" fill="#0000c0" opacity="0.14"/><rect x="643.6" y="869.0" width="2.8" height="6.0" fill="#0000c0" opacity="0.21"/><rect x="650.7" y="869.0" width="1.6" height="6.0" fill="#0000c0" opacity="0.13"/><rect x="653.4" y="869.0" width="2.8" height="6.0" fill="#0000c0" opacity="0.18"/><rect x="659.0" y="869.0" width="1.5" height="6.0" fill="#000" opacity="0.28"/><rect x="663.6" y="869.0" width="2.7" height="6.0" fill="#000" opacity="0.46"/><rect x="671.5" y="869.0" width="2.2" height="6.0" fill="#0000ff" opacity="0.26"/><rect x="679.3" y="869.0" width="2.6" height="6.0" fill="#000" opacity="0.22"/><rect x="687.4" y="869.0" width="1.7" height="6.0" fill="#0000ff" opacity="0.24"/><rect x="691.2" y="869.0" width="1.4" height="6.0" fill="#0000c0" opacity="0.27"/><rect x="694.0" y="869.0" width="2.9" height="6.0" fill="#000" opacity="0.48"/><rect x="700.9" y="869.0" width="1.1" height="6.0" fill="#0000ff" opacity="0.38"/><rect x="703.2" y="869.0" width="1.7" height="6.0" fill="#0000ff" opacity="0.12"/><rect x="705.3" y="869.0" width="1.1" height="6.0" fill="#0000ff" opacity="0.23"/><rect x="706.9" y="869.0" width="2.4" height="6.0" fill="#0000ff" opacity="0.36"/><rect x="710.1" y="869.0" width="1.4" height="6.0" fill="#0000ff" opacity="0.27"/><rect x="714.9" y="869.0" width="1.3" height="6.0" fill="#0000c0" opacity="0.17"/><rect x="717.1" y="869.0" width="2.1" height="6.0" fill="#0000ff" opacity="0.36"/><rect x="719.3" y="869.0" width="2.0" height="6.0" fill="#0000c0" opacity="0.38"/><rect x="724.4" y="869.0" width="2.9" height="6.0" fill="#000" opacity="0.23"/><rect x="732.5" y="869.0" width="2.9" height="6.0" fill="#000" opacity="0.21"/><rect x="740.4" y="869.0" width="2.4" height="6.0" fill="#0000ff" opacity="0.10"/><rect x="747.5" y="869.0" width="3.0" height="6.0" fill="#0000c0" opacity="0.21"/><rect x="752.9" y="869.0" width="2.8" height="6.0" fill="#000" opacity="0.21"/><rect x="757.9" y="869.0" width="2.4" height="6.0" fill="#0000c0" opacity="0.24"/><rect x="765.6" y="869.0" width="1.4" height="6.0" fill="#000" opacity="0.28"/><rect x="769.8" y="869.0" width="2.6" height="6.0" fill="#0000ff" opacity="0.30"/><rect x="776.0" y="869.0" width="2.1" height="6.0" fill="#0000ff" opacity="0.16"/><rect x="779.9" y="869.0" width="1.7" height="6.0" fill="#0000ff" opacity="0.34"/><rect x="782.1" y="869.0" width="2.5" height="6.0" fill="#000" opacity="0.27"/><rect x="787.1" y="869.0" width="3.0" height="6.0" fill="#0000c0" opacity="0.12"/><rect x="795.1" y="869.0" width="3.0" height="6.0" fill="#0000ff" opacity="0.20"/><rect x="800.3" y="869.0" width="1.6" height="6.0" fill="#0000ff" opacity="0.24"/><rect x="802.0" y="869.0" width="2.0" height="6.0" fill="#0000ff" opacity="0.23"/><rect x="804.4" y="869.0" width="1.3" height="6.0" fill="#0000ff" opacity="0.38"/><rect x="811.3" y="869.0" width="1.3" height="6.0" fill="#0000ff" opacity="0.16"/><rect x="816.7" y="869.0" width="2.8" height="6.0" fill="#0000c0" opacity="0.21"/><rect x="825.0" y="869.0" width="1.3" height="6.0" fill="#0000ff" opacity="0.32"/><rect x="827.0" y="869.0" width="1.6" height="6.0" fill="#0000c0" opacity="0.26"/><rect x="832.0" y="869.0" width="2.5" height="6.0" fill="#0000ff" opacity="0.12"/><rect x="835.0" y="869.0" width="1.6" height="6.0" fill="#0000ff" opacity="0.15"/><rect x="840.1" y="869.0" width="1.6" height="6.0" fill="#0000c0" opacity="0.21"/><rect x="844.6" y="869.0" width="1.1" height="6.0" fill="#000" opacity="0.34"/><rect x="849.7" y="869.0" width="1.9" height="6.0" fill="#0000ff" opacity="0.18"/><rect x="854.0" y="869.0" width="2.6" height="6.0" fill="#0000ff" opacity="0.17"/><rect x="859.7" y="869.0" width="2.3" height="6.0" fill="#0000ff" opacity="0.20"/><rect x="867.8" y="869.0" width="1.7" height="6.0" fill="#0000c0" opacity="0.31"/><rect x="873.9" y="869.0" width="1.3" height="6.0" fill="#000" opacity="0.37"/><rect x="878.9" y="869.0" width="1.9" height="6.0" fill="#0000c0" opacity="0.20"/><rect x="882.2" y="869.0" width="2.9" height="6.0" fill="#0000ff" opacity="0.24"/><rect x="890.6" y="869.0" width="2.5" height="6.0" fill="#0000c0" opacity="0.17"/><rect x="894.0" y="869.0" width="2.9" height="6.0" fill="#000" opacity="0.23"/><rect x="901.1" y="869.0" width="1.7" height="6.0" fill="#0000c0" opacity="0.32"/><rect x="906.7" y="869.0" width="2.4" height="6.0" fill="#0000c0" opacity="0.18"/><rect x="912.8" y="869.0" width="1.9" height="6.0" fill="#000" opacity="0.35"/><rect x="917.6" y="869.0" width="2.3" height="6.0" fill="#0000c0" opacity="0.26"/><rect x="921.6" y="869.0" width="1.1" height="6.0" fill="#0000c0" opacity="0.34"/><rect x="928.1" y="869.0" width="2.0" height="6.0" fill="#0000ff" opacity="0.38"/><rect x="933.0" y="869.0" width="1.6" height="6.0" fill="#0000c0" opacity="0.38"/><rect x="938.7" y="869.0" width="1.9" height="6.0" fill="#000" opacity="0.40"/><rect x="941.4" y="869.0" width="1.5" height="6.0" fill="#0000c0" opacity="0.34"/><rect x="944.0" y="869.0" width="2.6" height="6.0" fill="#0000ff" opacity="0.11"/><rect x="952.3" y="869.0" width="2.3" height="6.0" fill="#0000c0" opacity="0.38"/><rect x="955.0" y="869.0" width="2.3" height="6.0" fill="#000" opacity="0.49"/><rect x="962.6" y="869.0" width="1.6" height="6.0" fill="#000" opacity="0.41"/><rect x="968.8" y="869.0" width="3.0" height="6.0" fill="#0000ff" opacity="0.32"/><rect x="974.3" y="869.0" width="1.8" height="6.0" fill="#0000ff" opacity="0.27"/><rect x="980.0" y="869.0" width="2.0" height="6.0" fill="#0000c0" opacity="0.11"/><rect x="985.0" y="869.0" width="3.0" height="6.0" fill="#000" opacity="0.39"/><rect x="988.6" y="869.0" width="1.3" height="6.0" fill="#0000c0" opacity="0.18"/><rect x="993.8" y="869.0" width="2.4" height="6.0" fill="#0000c0" opacity="0.20"/><rect x="996.4" y="869.0" width="2.1" height="6.0" fill="#0000c0" opacity="0.39"/><rect x="1000.4" y="869.0" width="1.6" height="6.0" fill="#0000c0" opacity="0.12"/><rect x="1006.2" y="869.0" width="1.1" height="6.0" fill="#0000ff" opacity="0.19"/><rect x="1009.5" y="869.0" width="1.9" height="6.0" fill="#0000c0" opacity="0.12"/><rect x="1014.5" y="869.0" width="2.9" height="6.0" fill="#0000c0" opacity="0.16"/><rect x="1022.2" y="869.0" width="2.8" height="6.0" fill="#000" opacity="0.33"/><rect x="1027.9" y="869.0" width="1.8" height="6.0" fill="#0000c0" opacity="0.28"/><rect x="1029.8" y="869.0" width="1.2" height="6.0" fill="#000" opacity="0.50"/><rect x="1034.6" y="869.0" width="1.4" height="6.0" fill="#0000c0" opacity="0.18"/><rect x="1036.3" y="869.0" width="1.1" height="6.0" fill="#000" opacity="0.49"/><rect x="1043.1" y="869.0" width="1.4" height="6.0" fill="#000" opacity="0.47"/><rect x="1047.8" y="869.0" width="1.0" height="6.0" fill="#0000c0" opacity="0.36"/><rect x="1051.8" y="869.0" width="2.6" height="6.0" fill="#000" opacity="0.44"/><rect x="1055.8" y="869.0" width="2.7" height="6.0" fill="#0000ff" opacity="0.31"/><rect x="1058.8" y="869.0" width="1.9" height="6.0" fill="#000" opacity="0.22"/><rect x="1063.1" y="869.0" width="1.9" height="6.0" fill="#000" opacity="0.49"/><rect x="1070.2" y="869.0" width="2.0" height="6.0" fill="#0000c0" opacity="0.38"/><rect x="1074.2" y="869.0" width="1.0" height="6.0" fill="#0000c0" opacity="0.32"/><rect x="1076.4" y="869.0" width="1.1" height="6.0" fill="#000" opacity="0.28"/><rect x="1078.7" y="869.0" width="2.3" height="6.0" fill="#000" opacity="0.33"/><rect x="1082.3" y="869.0" width="1.0" height="6.0" fill="#0000ff" opacity="0.24"/><rect x="1088.6" y="869.0" width="1.9" height="6.0" fill="#0000c0" opacity="0.37"/><rect x="1091.8" y="869.0" width="1.5" height="6.0" fill="#0000c0" opacity="0.23"/><rect x="1094.7" y="869.0" width="2.5" height="6.0" fill="#0000c0" opacity="0.27"/><rect x="1102.2" y="869.0" width="1.7" height="6.0" fill="#0000ff" opacity="0.28"/><rect x="1106.3" y="869.0" width="3.0" height="6.0" fill="#000" opacity="0.47"/><rect x="1109.7" y="869.0" width="2.2" height="6.0" fill="#0000c0" opacity="0.12"/><rect x="1116.1" y="869.0" width="1.7" height="6.0" fill="#0000c0" opacity="0.18"/><rect x="1121.2" y="869.0" width="2.1" height="6.0" fill="#0000ff" opacity="0.33"/><rect x="1128.1" y="869.0" width="2.0" height="6.0" fill="#000" opacity="0.43"/><rect x="1132.2" y="869.0" width="2.9" height="6.0" fill="#0000c0" opacity="0.30"/><rect x="1139.9" y="869.0" width="1.8" height="6.0" fill="#000" opacity="0.38"/><rect x="1144.5" y="869.0" width="2.1" height="6.0" fill="#0000ff" opacity="0.39"/><rect x="1151.1" y="869.0" width="1.2" height="6.0" fill="#0000ff" opacity="0.31"/><rect x="1154.6" y="869.0" width="1.5" height="6.0" fill="#0000ff" opacity="0.26"/><rect x="1158.5" y="869.0" width="2.6" height="6.0" fill="#0000ff" opacity="0.16"/><rect x="1166.6" y="869.0" width="2.3" height="6.0" fill="#000" opacity="0.26"/><rect x="1169.0" y="869.0" width="1.1" height="6.0" fill="#0000c0" opacity="0.36"/><rect x="1174.3" y="869.0" width="2.4" height="6.0" fill="#0000ff" opacity="0.35"/><rect x="1176.9" y="869.0" width="2.8" height="6.0" fill="#0000c0" opacity="0.28"/><rect x="1181.1" y="869.0" width="1.4" height="6.0" fill="#0000ff" opacity="0.29"/><rect x="1187.2" y="869.0" width="2.8" height="6.0" fill="#000" opacity="0.25"/><rect x="1193.6" y="869.0" width="2.5" height="6.0" fill="#0000c0" opacity="0.16"/><rect x="1201.3" y="869.0" width="1.5" height="6.0" fill="#0000ff" opacity="0.25"/><rect x="1207.9" y="869.0" width="2.5" height="6.0" fill="#0000ff" opacity="0.13"/><rect x="1212.5" y="869.0" width="3.0" height="6.0" fill="#0000c0" opacity="0.12"/><rect x="1215.6" y="869.0" width="2.4" height="6.0" fill="#000" opacity="0.28"/><rect x="1222.0" y="869.0" width="2.4" height="6.0" fill="#0000c0" opacity="0.33"/><rect x="1224.5" y="869.0" width="1.5" height="6.0" fill="#000" opacity="0.48"/><rect x="1227.8" y="869.0" width="1.0" height="6.0" fill="#0000c0" opacity="0.28"/><rect x="1229.5" y="869.0" width="2.7" height="6.0" fill="#0000ff" opacity="0.19"/><rect x="1236.7" y="869.0" width="2.2" height="6.0" fill="#0000ff" opacity="0.22"/><rect x="1242.0" y="869.0" width="1.9" height="6.0" fill="#0000ff" opacity="0.19"/><rect x="1246.3" y="869.0" width="2.3" height="6.0" fill="#000" opacity="0.34"/><rect x="1251.7" y="869.0" width="1.7" height="6.0" fill="#0000c0" opacity="0.31"/><rect x="1256.2" y="869.0" width="1.8" height="6.0" fill="#0000ff" opacity="0.12"/><rect x="1263.8" y="869.0" width="2.1" height="6.0" fill="#0000c0" opacity="0.11"/><rect x="1268.0" y="869.0" width="2.9" height="6.0" fill="#0000ff" opacity="0.10"/><rect x="1273.3" y="869.0" width="2.3" height="6.0" fill="#000" opacity="0.37"/><rect x="1281.2" y="869.0" width="1.9" height="6.0" fill="#0000ff" opacity="0.27"/><rect x="1285.8" y="869.0" width="2.8" height="6.0" fill="#0000ff" opacity="0.38"/><rect x="1293.5" y="869.0" width="3.0" height="6.0" fill="#0000ff" opacity="0.10"/><rect x="1302.0" y="869.0" width="2.2" height="6.0" fill="#000" opacity="0.29"/><rect x="1305.3" y="869.0" width="2.8" height="6.0" fill="#0000ff" opacity="0.18"/><rect x="1312.4" y="869.0" width="2.5" height="6.0" fill="#000" opacity="0.21"/><rect x="1319.7" y="869.0" width="1.3" height="6.0" fill="#000" opacity="0.21"/><rect x="1322.0" y="869.0" width="1.9" height="6.0" fill="#0000c0" opacity="0.34"/><rect x="1328.4" y="869.0" width="1.6" height="6.0" fill="#000" opacity="0.20"/><rect x="1334.1" y="869.0" width="2.7" height="6.0" fill="#0000c0" opacity="0.22"/><rect x="1339.4" y="869.0" width="2.3" height="6.0" fill="#000" opacity="0.38"/><rect x="1343.3" y="869.0" width="1.4" height="6.0" fill="#000" opacity="0.28"/><rect x="1348.9" y="869.0" width="1.8" height="6.0" fill="#0000ff" opacity="0.39"/><rect x="1354.4" y="869.0" width="1.8" height="6.0" fill="#0000c0" opacity="0.10"/><rect x="1359.7" y="869.0" width="1.2" height="6.0" fill="#000" opacity="0.24"/><rect x="1363.1" y="869.0" width="2.2" height="6.0" fill="#0000c0" opacity="0.14"/><rect x="1370.8" y="869.0" width="1.4" height="6.0" fill="#0000c0" opacity="0.30"/><rect x="1375.9" y="869.0" width="1.9" height="6.0" fill="#0000ff" opacity="0.12"/><rect x="1378.0" y="869.0" width="1.4" height="6.0" fill="#0000c0" opacity="0.29"/><rect x="1384.0" y="869.0" width="2.4" height="6.0" fill="#000" opacity="0.45"/><rect x="1387.3" y="869.0" width="1.3" height="6.0" fill="#000" opacity="0.21"/><rect x="1393.9" y="869.0" width="1.8" height="6.0" fill="#000" opacity="0.21"/><rect x="1400.7" y="869.0" width="2.2" height="6.0" fill="#0000ff" opacity="0.28"/><rect x="1404.0" y="869.0" width="1.9" height="6.0" fill="#0000ff" opacity="0.29"/><rect x="1406.9" y="869.0" width="2.1" height="6.0" fill="#0000ff" opacity="0.21"/><rect x="1409.6" y="869.0" width="1.0" height="6.0" fill="#0000ff" opacity="0.16"/><rect x="1410.6" y="869.0" width="2.8" height="6.0" fill="#0000c0" opacity="0.19"/><rect x="1417.4" y="869.0" width="1.3" height="6.0" fill="#0000c0" opacity="0.38"/><rect x="1422.6" y="869.0" width="1.5" height="6.0" fill="#000" opacity="0.27"/><rect x="1430.1" y="869.0" width="1.2" height="6.0" fill="#0000ff" opacity="0.29"/><rect x="1433.4" y="869.0" width="1.5" height="6.0" fill="#0000ff" opacity="0.32"/><rect x="1437.1" y="869.0" width="2.2" height="6.0" fill="#0000c0" opacity="0.40"/><rect x="1443.2" y="869.0" width="2.9" height="6.0" fill="#000" opacity="0.32"/><rect x="1449.5" y="869.0" width="1.3" height="6.0" fill="#0000ff" opacity="0.23"/><rect x="1452.0" y="869.0" width="2.9" height="6.0" fill="#0000c0" opacity="0.23"/><rect x="1460.9" y="869.0" width="1.5" height="6.0" fill="#0000ff" opacity="0.26"/><rect x="1464.7" y="869.0" width="2.2" height="6.0" fill="#0000ff" opacity="0.10"/><rect x="1468.9" y="869.0" width="1.6" height="6.0" fill="#0000ff" opacity="0.12"/><rect x="1471.8" y="869.0" width="2.0" height="6.0" fill="#0000c0" opacity="0.38"/><rect x="1475.7" y="869.0" width="1.8" height="6.0" fill="#0000c0" opacity="0.26"/><rect x="1483.0" y="869.0" width="2.3" height="6.0" fill="#0000ff" opacity="0.28"/><rect x="1485.5" y="869.0" width="1.8" height="6.0" fill="#000" opacity="0.42"/><rect x="1490.7" y="869.0" width="2.3" height="6.0" fill="#0000ff" opacity="0.21"/><rect x="1493.9" y="869.0" width="2.4" height="6.0" fill="#000" opacity="0.28"/><rect x="1499.0" y="869.0" width="2.7" height="6.0" fill="#0000ff" opacity="0.29"/><rect x="1503.1" y="869.0" width="1.1" height="6.0" fill="#000" opacity="0.22"/><rect x="1507.3" y="869.0" width="1.3" height="6.0" fill="#0000c0" opacity="0.38"/><rect x="1512.5" y="869.0" width="1.7" height="6.0" fill="#0000ff" opacity="0.36"/><rect x="1520.0" y="869.0" width="1.6" height="6.0" fill="#0000c0" opacity="0.24"/><rect x="1524.5" y="869.0" width="1.5" height="6.0" fill="#0000ff" opacity="0.25"/><rect x="1526.8" y="869.0" width="2.2" height="6.0" fill="#0000c0" opacity="0.12"/><rect x="1531.5" y="869.0" width="1.6" height="6.0" fill="#0000c0" opacity="0.38"/><rect x="1538.2" y="869.0" width="1.2" height="6.0" fill="#000" opacity="0.41"/><rect x="1542.6" y="869.0" width="2.9" height="6.0" fill="#0000c0" opacity="0.14"/><rect x="1549.1" y="869.0" width="2.5" height="6.0" fill="#0000c0" opacity="0.19"/><rect x="1557.1" y="869.0" width="2.5" height="6.0" fill="#000" opacity="0.25"/><rect x="1560.4" y="869.0" width="1.3" height="6.0" fill="#000" opacity="0.46"/><rect x="1566.2" y="869.0" width="2.1" height="6.0" fill="#000" opacity="0.30"/><rect x="1569.4" y="869.0" width="3.0" height="6.0" fill="#000" opacity="0.21"/><rect x="1576.6" y="869.0" width="1.8" height="6.0" fill="#000" opacity="0.37"/><rect x="1584.3" y="869.0" width="1.7" height="6.0" fill="#0000ff" opacity="0.35"/><rect x="1587.0" y="869.0" width="2.0" height="6.0" fill="#0000c0" opacity="0.16"/><rect x="1589.4" y="869.0" width="2.8" height="6.0" fill="#0000ff" opacity="0.20"/><rect x="1597.7" y="869.0" width="2.6" height="6.0" fill="#000" opacity="0.35"/><rect x="1601.1" y="869.0" width="2.1" height="6.0" fill="#0000c0" opacity="0.17"/><rect x="1605.1" y="869.0" width="1.3" height="6.0" fill="#0000ff" opacity="0.20"/><rect x="1610.7" y="869.0" width="2.5" height="6.0" fill="#0000ff" opacity="0.25"/><rect x="1614.6" y="869.0" width="1.8" height="6.0" fill="#0000c0" opacity="0.21"/><rect x="1617.5" y="869.0" width="2.9" height="6.0" fill="#0000ff" opacity="0.13"/><rect x="1623.5" y="869.0" width="3.0" height="6.0" fill="#0000c0" opacity="0.22"/><rect x="1628.7" y="869.0" width="1.8" height="6.0" fill="#0000c0" opacity="0.21"/><rect x="1635.6" y="869.0" width="2.6" height="6.0" fill="#0000c0" opacity="0.22"/><rect x="1639.7" y="869.0" width="1.6" height="6.0" fill="#000" opacity="0.44"/><rect x="1646.9" y="869.0" width="1.6" height="6.0" fill="#0000ff" opacity="0.31"/><rect x="1651.7" y="869.0" width="2.3" height="6.0" fill="#0000c0" opacity="0.17"/><rect x="1656.1" y="869.0" width="1.9" height="6.0" fill="#000" opacity="0.29"/><rect x="1660.6" y="869.0" width="1.6" height="6.0" fill="#0000ff" opacity="0.16"/><rect x="1666.8" y="869.0" width="2.0" height="6.0" fill="#000" opacity="0.33"/><rect x="1669.3" y="869.0" width="2.5" height="6.0" fill="#0000ff" opacity="0.24"/><rect x="1673.7" y="869.0" width="1.1" height="6.0" fill="#0000c0" opacity="0.18"/><rect x="1678.5" y="869.0" width="2.5" height="6.0" fill="#0000ff" opacity="0.14"/><rect x="1681.6" y="869.0" width="2.1" height="6.0" fill="#000" opacity="0.23"/><rect x="1686.1" y="869.0" width="1.3" height="6.0" fill="#0000c0" opacity="0.37"/><rect x="1692.0" y="869.0" width="2.3" height="6.0" fill="#0000c0" opacity="0.30"/><rect x="1697.5" y="869.0" width="1.8" height="6.0" fill="#0000c0" opacity="0.13"/><rect x="1699.6" y="869.0" width="1.3" height="6.0" fill="#0000c0" opacity="0.13"/><rect x="1701.9" y="869.0" width="2.1" height="6.0" fill="#0000c0" opacity="0.13"/><rect x="1706.6" y="869.0" width="2.0" height="6.0" fill="#0000ff" opacity="0.12"/><rect x="1713.2" y="869.0" width="2.2" height="6.0" fill="#0000c0" opacity="0.20"/><rect x="1717.9" y="869.0" width="1.1" height="6.0" fill="#000" opacity="0.34"/><rect x="1722.3" y="869.0" width="2.2" height="6.0" fill="#0000c0" opacity="0.10"/><rect x="1729.5" y="869.0" width="1.8" height="6.0" fill="#000" opacity="0.45"/><rect x="1737.1" y="869.0" width="1.4" height="6.0" fill="#0000c0" opacity="0.38"/><rect x="1739.2" y="869.0" width="1.3" height="6.0" fill="#000" opacity="0.47"/><rect x="1746.0" y="869.0" width="1.9" height="6.0" fill="#000" opacity="0.31"/><rect x="1749.4" y="869.0" width="2.3" height="6.0" fill="#0000c0" opacity="0.23"/><rect x="1754.5" y="869.0" width="1.7" height="6.0" fill="#0000c0" opacity="0.39"/><rect x="1757.1" y="869.0" width="2.1" height="6.0" fill="#0000ff" opacity="0.27"/><rect x="1763.2" y="869.0" width="1.4" height="6.0" fill="#0000ff" opacity="0.20"/><rect x="1766.5" y="869.0" width="1.3" height="6.0" fill="#0000c0" opacity="0.20"/><rect x="1769.8" y="869.0" width="1.9" height="6.0" fill="#0000ff" opacity="0.32"/><rect x="1772.2" y="869.0" width="1.4" height="6.0" fill="#0000ff" opacity="0.32"/><rect x="1776.3" y="869.0" width="0.3" height="6.0" fill="#0000c0" opacity="0.38"/></g>
<g filter="url(#bl2)"><rect x="102.3" y="873.0" width="1.7" height="18.0" fill="#000" opacity="0.64"/><rect x="105.0" y="873.0" width="1.7" height="18.0" fill="#0000b0" opacity="0.13"/><rect x="107.2" y="873.0" width="2.7" height="18.0" fill="#0000b0" opacity="0.12"/><rect x="110.8" y="873.0" width="1.1" height="18.0" fill="#000" opacity="0.97"/><rect x="112.9" y="873.0" width="1.8" height="18.0" fill="#000" opacity="0.94"/><rect x="115.2" y="873.0" width="1.8" height="18.0" fill="#000" opacity="0.84"/><rect x="117.5" y="873.0" width="2.0" height="18.0" fill="#0000e0" opacity="0.20"/><rect x="120.0" y="873.0" width="2.1" height="18.0" fill="#000" opacity="0.61"/><rect x="122.9" y="873.0" width="1.7" height="18.0" fill="#000" opacity="0.75"/><rect x="124.9" y="873.0" width="1.1" height="18.0" fill="#000" opacity="0.72"/><rect x="126.2" y="873.0" width="1.1" height="18.0" fill="#000" opacity="0.61"/><rect x="128.3" y="873.0" width="1.7" height="18.0" fill="#000" opacity="0.81"/><rect x="130.0" y="873.0" width="1.2" height="18.0" fill="#0000e0" opacity="0.12"/><rect x="131.6" y="873.0" width="1.8" height="18.0" fill="#0000b0" opacity="0.27"/><rect x="134.0" y="873.0" width="2.2" height="18.0" fill="#000" opacity="0.93"/><rect x="137.2" y="873.0" width="1.1" height="18.0" fill="#0000b0" opacity="0.25"/><rect x="138.3" y="873.0" width="2.2" height="18.0" fill="#0000e0" opacity="0.14"/><rect x="141.0" y="873.0" width="2.5" height="18.0" fill="#000" opacity="0.95"/><rect x="143.5" y="873.0" width="1.4" height="18.0" fill="#0000e0" opacity="0.34"/><rect x="145.5" y="873.0" width="2.9" height="18.0" fill="#000" opacity="0.88"/><rect x="148.5" y="873.0" width="1.9" height="18.0" fill="#000" opacity="0.67"/><rect x="151.1" y="873.0" width="1.8" height="18.0" fill="#000" opacity="0.92"/><rect x="153.0" y="873.0" width="2.1" height="18.0" fill="#000" opacity="0.67"/><rect x="155.5" y="873.0" width="2.0" height="18.0" fill="#000" opacity="0.65"/><rect x="157.9" y="873.0" width="1.0" height="18.0" fill="#0000b0" opacity="0.28"/><rect x="160.1" y="873.0" width="2.0" height="18.0" fill="#0000e0" opacity="0.18"/><rect x="162.2" y="873.0" width="1.4" height="18.0" fill="#0000b0" opacity="0.26"/><rect x="163.7" y="873.0" width="1.2" height="18.0" fill="#0000b0" opacity="0.21"/><rect x="166.0" y="873.0" width="2.2" height="18.0" fill="#000" opacity="0.74"/><rect x="169.2" y="873.0" width="2.5" height="18.0" fill="#0000e0" opacity="0.29"/><rect x="172.0" y="873.0" width="2.9" height="18.0" fill="#000" opacity="0.90"/><rect x="175.1" y="873.0" width="1.1" height="18.0" fill="#0000e0" opacity="0.31"/><rect x="176.8" y="873.0" width="1.1" height="18.0" fill="#0000b0" opacity="0.11"/><rect x="178.9" y="873.0" width="2.0" height="18.0" fill="#0000e0" opacity="0.31"/><rect x="181.2" y="873.0" width="1.9" height="18.0" fill="#000" opacity="0.99"/><rect x="184.0" y="873.0" width="1.8" height="18.0" fill="#0000e0" opacity="0.22"/><rect x="186.3" y="873.0" width="2.4" height="18.0" fill="#000" opacity="0.64"/><rect x="188.7" y="873.0" width="1.8" height="18.0" fill="#000" opacity="0.69"/><rect x="190.7" y="873.0" width="1.8" height="18.0" fill="#0000b0" opacity="0.27"/><rect x="193.6" y="873.0" width="2.2" height="18.0" fill="#0000b0" opacity="0.19"/><rect x="195.9" y="873.0" width="2.3" height="18.0" fill="#000" opacity="0.87"/><rect x="199.3" y="873.0" width="2.3" height="18.0" fill="#0000b0" opacity="0.34"/><rect x="202.9" y="873.0" width="1.9" height="18.0" fill="#000" opacity="0.85"/><rect x="205.5" y="873.0" width="2.7" height="18.0" fill="#0000e0" opacity="0.12"/><rect x="208.7" y="873.0" width="2.0" height="18.0" fill="#000" opacity="0.68"/><rect x="210.7" y="873.0" width="2.2" height="18.0" fill="#000" opacity="0.96"/><rect x="213.6" y="873.0" width="2.4" height="18.0" fill="#000" opacity="0.97"/><rect x="216.1" y="873.0" width="2.1" height="18.0" fill="#000" opacity="0.63"/><rect x="219.3" y="873.0" width="2.2" height="18.0" fill="#0000b0" opacity="0.12"/><rect x="221.9" y="873.0" width="1.1" height="18.0" fill="#0000b0" opacity="0.24"/><rect x="223.4" y="873.0" width="2.0" height="18.0" fill="#000" opacity="0.88"/><rect x="225.8" y="873.0" width="2.7" height="18.0" fill="#0000e0" opacity="0.12"/><rect x="228.9" y="873.0" width="2.6" height="18.0" fill="#0000b0" opacity="0.32"/><rect x="231.6" y="873.0" width="1.3" height="18.0" fill="#0000b0" opacity="0.31"/><rect x="233.4" y="873.0" width="1.9" height="18.0" fill="#000" opacity="0.73"/><rect x="236.5" y="873.0" width="1.1" height="18.0" fill="#000" opacity="0.93"/><rect x="238.5" y="873.0" width="1.0" height="18.0" fill="#000" opacity="0.67"/><rect x="240.0" y="873.0" width="1.9" height="18.0" fill="#0000b0" opacity="0.32"/><rect x="242.2" y="873.0" width="2.6" height="18.0" fill="#000" opacity="0.83"/><rect x="244.9" y="873.0" width="1.2" height="18.0" fill="#0000b0" opacity="0.16"/><rect x="246.8" y="873.0" width="2.7" height="18.0" fill="#000" opacity="0.94"/><rect x="250.4" y="873.0" width="2.5" height="18.0" fill="#0000e0" opacity="0.11"/><rect x="252.9" y="873.0" width="2.1" height="18.0" fill="#0000b0" opacity="0.18"/><rect x="255.5" y="873.0" width="2.4" height="18.0" fill="#0000b0" opacity="0.20"/><rect x="258.3" y="873.0" width="1.6" height="18.0" fill="#0000e0" opacity="0.12"/><rect x="260.1" y="873.0" width="2.8" height="18.0" fill="#000" opacity="0.64"/><rect x="264.1" y="873.0" width="2.6" height="18.0" fill="#000" opacity="0.79"/><rect x="267.7" y="873.0" width="2.4" height="18.0" fill="#000" opacity="0.76"/><rect x="271.3" y="873.0" width="1.5" height="18.0" fill="#000" opacity="0.61"/><rect x="273.9" y="873.0" width="1.3" height="18.0" fill="#000" opacity="0.77"/><rect x="275.9" y="873.0" width="2.8" height="18.0" fill="#000" opacity="0.68"/><rect x="279.2" y="873.0" width="1.9" height="18.0" fill="#000" opacity="0.85"/><rect x="281.7" y="873.0" width="1.5" height="18.0" fill="#000" opacity="0.73"/><rect x="284.2" y="873.0" width="2.6" height="18.0" fill="#000" opacity="0.72"/><rect x="287.4" y="873.0" width="2.0" height="18.0" fill="#000" opacity="0.69"/><rect x="290.0" y="873.0" width="2.6" height="18.0" fill="#0000b0" opacity="0.12"/><rect x="292.7" y="873.0" width="2.8" height="18.0" fill="#000" opacity="0.63"/><rect x="295.9" y="873.0" width="1.4" height="18.0" fill="#000" opacity="0.85"/><rect x="298.1" y="873.0" width="1.2" height="18.0" fill="#000" opacity="0.62"/><rect x="299.8" y="873.0" width="2.6" height="18.0" fill="#000" opacity="0.93"/><rect x="302.7" y="873.0" width="1.8" height="18.0" fill="#0000b0" opacity="0.24"/><rect x="304.8" y="873.0" width="1.9" height="18.0" fill="#000" opacity="0.79"/><rect x="307.9" y="873.0" width="1.2" height="18.0" fill="#0000b0" opacity="0.24"/><rect x="310.0" y="873.0" width="1.8" height="18.0" fill="#000" opacity="0.65"/><rect x="312.9" y="873.0" width="2.7" height="18.0" fill="#0000e0" opacity="0.35"/><rect x="315.7" y="873.0" width="1.9" height="18.0" fill="#000" opacity="1.00"/><rect x="317.9" y="873.0" width="1.9" height="18.0" fill="#000" opacity="0.94"/><rect x="320.8" y="873.0" width="1.8" height="18.0" fill="#0000b0" opacity="0.13"/><rect x="323.4" y="873.0" width="2.3" height="18.0" fill="#0000b0" opacity="0.25"/><rect x="326.1" y="873.0" width="2.0" height="18.0" fill="#0000b0" opacity="0.27"/><rect x="328.8" y="873.0" width="2.8" height="18.0" fill="#0000b0" opacity="0.18"/><rect x="332.1" y="873.0" width="1.9" height="18.0" fill="#000" opacity="0.65"/><rect x="334.4" y="873.0" width="2.5" height="18.0" fill="#0000e0" opacity="0.29"/><rect x="338.0" y="873.0" width="1.5" height="18.0" fill="#0000b0" opacity="0.35"/><rect x="340.2" y="873.0" width="2.2" height="18.0" fill="#000" opacity="0.81"/><rect x="342.9" y="873.0" width="3.0" height="18.0" fill="#0000e0" opacity="0.30"/><rect x="346.9" y="873.0" width="1.9" height="18.0" fill="#000" opacity="0.62"/><rect x="349.8" y="873.0" width="2.1" height="18.0" fill="#000" opacity="0.66"/><rect x="352.5" y="873.0" width="1.1" height="18.0" fill="#000" opacity="0.63"/><rect x="354.1" y="873.0" width="1.3" height="18.0" fill="#0000b0" opacity="0.32"/><rect x="355.6" y="873.0" width="1.6" height="18.0" fill="#0000b0" opacity="0.11"/><rect x="357.2" y="873.0" width="2.5" height="18.0" fill="#000" opacity="0.63"/><rect x="359.9" y="873.0" width="1.4" height="18.0" fill="#000" opacity="0.94"/><rect x="362.0" y="873.0" width="1.9" height="18.0" fill="#000" opacity="0.76"/><rect x="364.0" y="873.0" width="2.7" height="18.0" fill="#000" opacity="0.86"/><rect x="367.1" y="873.0" width="1.7" height="18.0" fill="#000" opacity="0.68"/><rect x="370.0" y="873.0" width="2.1" height="18.0" fill="#0000e0" opacity="0.17"/><rect x="372.9" y="873.0" width="2.6" height="18.0" fill="#000" opacity="0.82"/><rect x="375.7" y="873.0" width="2.1" height="18.0" fill="#000" opacity="0.92"/><rect x="377.9" y="873.0" width="2.5" height="18.0" fill="#0000b0" opacity="0.16"/><rect x="381.3" y="873.0" width="1.3" height="18.0" fill="#0000e0" opacity="0.15"/><rect x="382.6" y="873.0" width="2.3" height="18.0" fill="#0000b0" opacity="0.25"/><rect x="385.6" y="873.0" width="2.2" height="18.0" fill="#000" opacity="0.75"/><rect x="388.4" y="873.0" width="1.5" height="18.0" fill="#0000b0" opacity="0.28"/><rect x="390.0" y="873.0" width="1.7" height="18.0" fill="#000" opacity="0.94"/><rect x="392.4" y="873.0" width="2.0" height="18.0" fill="#0000b0" opacity="0.27"/><rect x="395.1" y="873.0" width="1.5" height="18.0" fill="#000" opacity="0.78"/><rect x="397.6" y="873.0" width="2.9" height="18.0" fill="#000" opacity="0.83"/><rect x="401.1" y="873.0" width="1.9" height="18.0" fill="#000" opacity="0.92"/><rect x="403.1" y="873.0" width="1.5" height="18.0" fill="#000" opacity="0.68"/><rect x="404.8" y="873.0" width="1.2" height="18.0" fill="#000" opacity="0.67"/><rect x="406.7" y="873.0" width="2.2" height="18.0" fill="#0000e0" opacity="0.22"/><rect x="409.5" y="873.0" width="2.1" height="18.0" fill="#000" opacity="0.71"/><rect x="411.7" y="873.0" width="2.9" height="18.0" fill="#000" opacity="0.71"/><rect x="415.5" y="873.0" width="1.4" height="18.0" fill="#000" opacity="0.91"/><rect x="417.5" y="873.0" width="2.8" height="18.0" fill="#000" opacity="0.74"/><rect x="420.5" y="873.0" width="2.0" height="18.0" fill="#000" opacity="0.74"/><rect x="422.6" y="873.0" width="1.9" height="18.0" fill="#000" opacity="0.73"/><rect x="425.4" y="873.0" width="2.7" height="18.0" fill="#000" opacity="0.91"/><rect x="429.3" y="873.0" width="2.0" height="18.0" fill="#0000e0" opacity="0.27"/><rect x="431.4" y="873.0" width="2.3" height="18.0" fill="#0000e0" opacity="0.22"/><rect x="434.6" y="873.0" width="1.8" height="18.0" fill="#0000e0" opacity="0.14"/><rect x="436.6" y="873.0" width="2.4" height="18.0" fill="#000" opacity="0.81"/><rect x="440.3" y="873.0" width="1.2" height="18.0" fill="#0000b0" opacity="0.24"/><rect x="442.5" y="873.0" width="1.2" height="18.0" fill="#0000b0" opacity="0.31"/><rect x="444.0" y="873.0" width="2.6" height="18.0" fill="#0000e0" opacity="0.30"/><rect x="447.3" y="873.0" width="1.8" height="18.0" fill="#000" opacity="1.00"/><rect x="449.9" y="873.0" width="1.7" height="18.0" fill="#000" opacity="0.84"/><rect x="452.7" y="873.0" width="1.5" height="18.0" fill="#000" opacity="0.80"/><rect x="454.7" y="873.0" width="1.4" height="18.0" fill="#000" opacity="0.74"/><rect x="457.2" y="873.0" width="1.9" height="18.0" fill="#0000b0" opacity="0.16"/><rect x="459.8" y="873.0" width="1.7" height="18.0" fill="#000" opacity="0.89"/><rect x="462.0" y="873.0" width="2.4" height="18.0" fill="#000" opacity="0.94"/><rect x="464.7" y="873.0" width="2.7" height="18.0" fill="#000" opacity="0.76"/><rect x="468.1" y="873.0" width="2.0" height="18.0" fill="#000" opacity="0.82"/><rect x="471.3" y="873.0" width="2.5" height="18.0" fill="#000" opacity="1.00"/><rect x="473.8" y="873.0" width="1.1" height="18.0" fill="#0000e0" opacity="0.34"/><rect x="476.0" y="873.0" width="1.2" height="18.0" fill="#000" opacity="0.98"/><rect x="477.6" y="873.0" width="2.4" height="18.0" fill="#000" opacity="0.79"/><rect x="481.0" y="873.0" width="2.2" height="18.0" fill="#0000b0" opacity="0.25"/><rect x="484.0" y="873.0" width="1.5" height="18.0" fill="#000" opacity="0.79"/><rect x="485.6" y="873.0" width="2.8" height="18.0" fill="#000" opacity="0.68"/><rect x="489.1" y="873.0" width="2.6" height="18.0" fill="#000" opacity="0.84"/><rect x="491.8" y="873.0" width="1.5" height="18.0" fill="#000" opacity="0.80"/><rect x="494.1" y="873.0" width="1.5" height="18.0" fill="#0000e0" opacity="0.29"/><rect x="496.0" y="873.0" width="3.0" height="18.0" fill="#000" opacity="0.80"/><rect x="499.2" y="873.0" width="1.2" height="18.0" fill="#0000b0" opacity="0.31"/><rect x="500.4" y="873.0" width="1.1" height="18.0" fill="#0000e0" opacity="0.18"/><rect x="502.5" y="873.0" width="2.1" height="18.0" fill="#000" opacity="0.89"/><rect x="504.8" y="873.0" width="2.5" height="18.0" fill="#000" opacity="0.81"/><rect x="507.4" y="873.0" width="2.6" height="18.0" fill="#0000b0" opacity="0.23"/><rect x="510.7" y="873.0" width="1.6" height="18.0" fill="#0000e0" opacity="0.33"/><rect x="513.0" y="873.0" width="1.5" height="18.0" fill="#000" opacity="0.99"/><rect x="514.9" y="873.0" width="1.8" height="18.0" fill="#0000e0" opacity="0.27"/><rect x="517.3" y="873.0" width="1.7" height="18.0" fill="#000" opacity="0.91"/><rect x="519.0" y="873.0" width="2.0" height="18.0" fill="#000" opacity="0.66"/><rect x="521.9" y="873.0" width="1.5" height="18.0" fill="#000" opacity="0.70"/><rect x="524.1" y="873.0" width="1.9" height="18.0" fill="#0000e0" opacity="0.23"/><rect x="526.8" y="873.0" width="2.0" height="18.0" fill="#0000e0" opacity="0.21"/><rect x="528.9" y="873.0" width="1.7" height="18.0" fill="#000" opacity="0.96"/><rect x="531.1" y="873.0" width="2.7" height="18.0" fill="#0000b0" opacity="0.33"/><rect x="534.2" y="873.0" width="1.0" height="18.0" fill="#0000b0" opacity="0.11"/><rect x="535.3" y="873.0" width="1.5" height="18.0" fill="#0000b0" opacity="0.22"/><rect x="537.5" y="873.0" width="1.4" height="18.0" fill="#000" opacity="0.69"/><rect x="539.8" y="873.0" width="1.6" height="18.0" fill="#0000e0" opacity="0.22"/><rect x="542.0" y="873.0" width="2.3" height="18.0" fill="#000" opacity="0.94"/><rect x="544.9" y="873.0" width="2.8" height="18.0" fill="#0000b0" opacity="0.25"/><rect x="548.0" y="873.0" width="2.3" height="18.0" fill="#000" opacity="0.77"/><rect x="550.7" y="873.0" width="2.8" height="18.0" fill="#000" opacity="0.96"/><rect x="553.6" y="873.0" width="1.3" height="18.0" fill="#000" opacity="0.80"/><rect x="554.9" y="873.0" width="2.1" height="18.0" fill="#0000b0" opacity="0.29"/><rect x="557.9" y="873.0" width="2.9" height="18.0" fill="#000" opacity="0.78"/><rect x="561.7" y="873.0" width="1.6" height="18.0" fill="#0000e0" opacity="0.16"/><rect x="563.8" y="873.0" width="1.6" height="18.0" fill="#0000e0" opacity="0.23"/><rect x="565.5" y="873.0" width="3.0" height="18.0" fill="#000" opacity="0.87"/><rect x="569.4" y="873.0" width="2.3" height="18.0" fill="#000" opacity="0.98"/><rect x="572.1" y="873.0" width="2.3" height="18.0" fill="#000" opacity="0.85"/><rect x="575.6" y="873.0" width="2.8" height="18.0" fill="#0000e0" opacity="0.16"/><rect x="579.2" y="873.0" width="2.3" height="18.0" fill="#0000e0" opacity="0.16"/><rect x="582.3" y="873.0" width="2.2" height="18.0" fill="#0000e0" opacity="0.22"/><rect x="584.5" y="873.0" width="2.1" height="18.0" fill="#0000e0" opacity="0.29"/><rect x="587.7" y="873.0" width="1.7" height="18.0" fill="#000" opacity="1.00"/><rect x="589.9" y="873.0" width="1.5" height="18.0" fill="#0000b0" opacity="0.31"/><rect x="591.6" y="873.0" width="1.9" height="18.0" fill="#000" opacity="0.74"/><rect x="594.3" y="873.0" width="1.3" height="18.0" fill="#000" opacity="0.65"/><rect x="595.6" y="873.0" width="2.1" height="18.0" fill="#0000e0" opacity="0.31"/><rect x="598.1" y="873.0" width="1.7" height="18.0" fill="#0000e0" opacity="0.29"/><rect x="600.0" y="873.0" width="1.9" height="18.0" fill="#000" opacity="0.64"/><rect x="602.0" y="873.0" width="1.6" height="18.0" fill="#000" opacity="0.70"/><rect x="603.9" y="873.0" width="1.5" height="18.0" fill="#000" opacity="0.86"/><rect x="605.8" y="873.0" width="2.6" height="18.0" fill="#000" opacity="0.67"/><rect x="609.5" y="873.0" width="1.4" height="18.0" fill="#000" opacity="0.80"/><rect x="611.2" y="873.0" width="1.8" height="18.0" fill="#000" opacity="0.67"/><rect x="613.5" y="873.0" width="1.1" height="18.0" fill="#000" opacity="0.76"/><rect x="615.0" y="873.0" width="2.9" height="18.0" fill="#000" opacity="0.92"/><rect x="617.9" y="873.0" width="2.4" height="18.0" fill="#000" opacity="0.63"/><rect x="621.5" y="873.0" width="1.6" height="18.0" fill="#0000b0" opacity="0.20"/><rect x="623.7" y="873.0" width="1.5" height="18.0" fill="#000" opacity="0.98"/><rect x="625.7" y="873.0" width="1.5" height="18.0" fill="#000" opacity="0.87"/><rect x="628.3" y="873.0" width="1.2" height="18.0" fill="#000" opacity="0.89"/><rect x="630.0" y="873.0" width="2.4" height="18.0" fill="#0000b0" opacity="0.26"/><rect x="632.9" y="873.0" width="1.5" height="18.0" fill="#000" opacity="0.88"/><rect x="634.8" y="873.0" width="2.4" height="18.0" fill="#0000b0" opacity="0.27"/><rect x="637.7" y="873.0" width="2.1" height="18.0" fill="#0000b0" opacity="0.17"/><rect x="640.4" y="873.0" width="2.0" height="18.0" fill="#000" opacity="0.61"/><rect x="643.4" y="873.0" width="1.8" height="18.0" fill="#0000b0" opacity="0.26"/><rect x="646.2" y="873.0" width="2.4" height="18.0" fill="#000" opacity="0.94"/><rect x="649.0" y="873.0" width="1.9" height="18.0" fill="#000" opacity="0.71"/><rect x="651.0" y="873.0" width="1.2" height="18.0" fill="#0000e0" opacity="0.21"/><rect x="652.3" y="873.0" width="1.6" height="18.0" fill="#000" opacity="0.91"/><rect x="654.4" y="873.0" width="1.6" height="18.0" fill="#0000e0" opacity="0.18"/><rect x="656.5" y="873.0" width="2.4" height="18.0" fill="#000" opacity="0.91"/><rect x="659.2" y="873.0" width="3.0" height="18.0" fill="#000" opacity="0.92"/><rect x="663.3" y="873.0" width="2.2" height="18.0" fill="#0000e0" opacity="0.12"/><rect x="666.0" y="873.0" width="2.4" height="18.0" fill="#0000e0" opacity="0.21"/><rect x="668.4" y="873.0" width="1.5" height="18.0" fill="#0000b0" opacity="0.34"/><rect x="670.8" y="873.0" width="1.7" height="18.0" fill="#000" opacity="0.80"/><rect x="673.4" y="873.0" width="1.8" height="18.0" fill="#0000e0" opacity="0.11"/><rect x="675.4" y="873.0" width="2.1" height="18.0" fill="#0000b0" opacity="0.23"/><rect x="677.7" y="873.0" width="2.3" height="18.0" fill="#0000e0" opacity="0.17"/><rect x="681.0" y="873.0" width="1.6" height="18.0" fill="#0000e0" opacity="0.23"/><rect x="683.4" y="873.0" width="2.7" height="18.0" fill="#0000b0" opacity="0.22"/><rect x="687.1" y="873.0" width="1.3" height="18.0" fill="#000" opacity="0.78"/><rect x="689.1" y="873.0" width="2.7" height="18.0" fill="#000" opacity="0.96"/><rect x="691.9" y="873.0" width="1.4" height="18.0" fill="#0000e0" opacity="0.33"/><rect x="693.4" y="873.0" width="2.1" height="18.0" fill="#0000e0" opacity="0.34"/><rect x="695.6" y="873.0" width="2.4" height="18.0" fill="#000" opacity="0.67"/><rect x="698.3" y="873.0" width="1.1" height="18.0" fill="#0000b0" opacity="0.26"/><rect x="699.9" y="873.0" width="2.5" height="18.0" fill="#000" opacity="0.62"/><rect x="702.8" y="873.0" width="2.7" height="18.0" fill="#0000b0" opacity="0.16"/><rect x="706.6" y="873.0" width="1.8" height="18.0" fill="#0000e0" opacity="0.29"/><rect x="708.5" y="873.0" width="1.6" height="18.0" fill="#0000b0" opacity="0.28"/><rect x="710.4" y="873.0" width="1.9" height="18.0" fill="#000" opacity="0.78"/><rect x="712.4" y="873.0" width="1.5" height="18.0" fill="#000" opacity="0.93"/><rect x="714.6" y="873.0" width="2.5" height="18.0" fill="#000" opacity="0.94"/><rect x="717.7" y="873.0" width="1.9" height="18.0" fill="#000" opacity="0.76"/><rect x="719.8" y="873.0" width="3.0" height="18.0" fill="#000" opacity="0.78"/><rect x="722.9" y="873.0" width="1.9" height="18.0" fill="#000" opacity="0.95"/><rect x="725.7" y="873.0" width="1.6" height="18.0" fill="#000" opacity="0.97"/><rect x="728.1" y="873.0" width="2.9" height="18.0" fill="#000" opacity="0.69"/><rect x="732.2" y="873.0" width="2.4" height="18.0" fill="#0000e0" opacity="0.34"/><rect x="735.0" y="873.0" width="1.2" height="18.0" fill="#0000b0" opacity="0.30"/><rect x="736.5" y="873.0" width="1.9" height="18.0" fill="#000" opacity="0.93"/><rect x="738.6" y="873.0" width="1.0" height="18.0" fill="#000" opacity="0.62"/><rect x="739.7" y="873.0" width="2.2" height="18.0" fill="#0000b0" opacity="0.22"/><rect x="742.0" y="873.0" width="1.3" height="18.0" fill="#000" opacity="0.83"/><rect x="743.6" y="873.0" width="2.0" height="18.0" fill="#0000e0" opacity="0.15"/><rect x="746.0" y="873.0" width="3.0" height="18.0" fill="#0000e0" opacity="0.30"/><rect x="750.1" y="873.0" width="3.0" height="18.0" fill="#0000e0" opacity="0.10"/><rect x="753.2" y="873.0" width="2.9" height="18.0" fill="#0000e0" opacity="0.29"/><rect x="757.2" y="873.0" width="2.0" height="18.0" fill="#000" opacity="1.00"/><rect x="759.4" y="873.0" width="1.8" height="18.0" fill="#000" opacity="0.83"/><rect x="761.7" y="873.0" width="1.6" height="18.0" fill="#000" opacity="0.68"/><rect x="764.3" y="873.0" width="2.8" height="18.0" fill="#000" opacity="0.62"/><rect x="767.5" y="873.0" width="2.9" height="18.0" fill="#0000b0" opacity="0.27"/><rect x="770.5" y="873.0" width="1.2" height="18.0" fill="#0000e0" opacity="0.12"/><rect x="772.3" y="873.0" width="2.6" height="18.0" fill="#0000b0" opacity="0.25"/><rect x="775.3" y="873.0" width="1.8" height="18.0" fill="#0000b0" opacity="0.20"/><rect x="777.2" y="873.0" width="1.9" height="18.0" fill="#000" opacity="0.69"/><rect x="779.8" y="873.0" width="1.4" height="18.0" fill="#000" opacity="0.92"/><rect x="781.9" y="873.0" width="2.9" height="18.0" fill="#000" opacity="0.79"/><rect x="785.7" y="873.0" width="1.2" height="18.0" fill="#0000b0" opacity="0.33"/><rect x="787.1" y="873.0" width="1.9" height="18.0" fill="#000" opacity="0.81"/><rect x="789.1" y="873.0" width="1.3" height="18.0" fill="#000" opacity="0.82"/><rect x="790.6" y="873.0" width="2.2" height="18.0" fill="#000" opacity="0.88"/><rect x="792.9" y="873.0" width="2.7" height="18.0" fill="#000" opacity="0.67"/><rect x="795.9" y="873.0" width="2.3" height="18.0" fill="#000" opacity="0.96"/><rect x="798.4" y="873.0" width="1.8" height="18.0" fill="#000" opacity="0.78"/><rect x="801.4" y="873.0" width="1.4" height="18.0" fill="#000" opacity="0.82"/><rect x="803.5" y="873.0" width="1.3" height="18.0" fill="#000" opacity="0.84"/><rect x="805.1" y="873.0" width="1.1" height="18.0" fill="#0000e0" opacity="0.30"/><rect x="806.4" y="873.0" width="1.6" height="18.0" fill="#0000e0" opacity="0.24"/><rect x="808.3" y="873.0" width="1.2" height="18.0" fill="#000" opacity="0.83"/><rect x="809.6" y="873.0" width="2.8" height="18.0" fill="#0000b0" opacity="0.21"/><rect x="813.1" y="873.0" width="1.8" height="18.0" fill="#000" opacity="0.67"/><rect x="815.8" y="873.0" width="2.7" height="18.0" fill="#000" opacity="0.60"/><rect x="819.2" y="873.0" width="1.6" height="18.0" fill="#0000e0" opacity="0.32"/><rect x="821.8" y="873.0" width="1.7" height="18.0" fill="#0000b0" opacity="0.19"/><rect x="824.0" y="873.0" width="1.3" height="18.0" fill="#000" opacity="0.65"/><rect x="826.2" y="873.0" width="1.5" height="18.0" fill="#000" opacity="0.92"/><rect x="828.4" y="873.0" width="2.8" height="18.0" fill="#0000e0" opacity="0.29"/><rect x="832.3" y="873.0" width="2.2" height="18.0" fill="#0000e0" opacity="0.23"/><rect x="834.9" y="873.0" width="1.4" height="18.0" fill="#000" opacity="0.72"/><rect x="837.1" y="873.0" width="2.3" height="18.0" fill="#000" opacity="0.68"/><rect x="840.1" y="873.0" width="1.8" height="18.0" fill="#0000e0" opacity="0.19"/><rect x="842.4" y="873.0" width="1.7" height="18.0" fill="#000" opacity="0.78"/><rect x="845.0" y="873.0" width="1.3" height="18.0" fill="#0000e0" opacity="0.35"/><rect x="846.9" y="873.0" width="2.6" height="18.0" fill="#0000b0" opacity="0.35"/><rect x="849.9" y="873.0" width="2.2" height="18.0" fill="#0000e0" opacity="0.32"/><rect x="852.4" y="873.0" width="2.8" height="18.0" fill="#0000b0" opacity="0.12"/><rect x="855.3" y="873.0" width="1.1" height="18.0" fill="#000" opacity="0.80"/><rect x="856.7" y="873.0" width="1.3" height="18.0" fill="#000" opacity="0.81"/><rect x="859.0" y="873.0" width="1.6" height="18.0" fill="#000" opacity="0.81"/><rect x="861.6" y="873.0" width="1.6" height="18.0" fill="#0000e0" opacity="0.16"/><rect x="863.6" y="873.0" width="1.3" height="18.0" fill="#000" opacity="0.87"/><rect x="865.8" y="873.0" width="1.2" height="18.0" fill="#000" opacity="0.99"/><rect x="867.5" y="873.0" width="2.1" height="18.0" fill="#0000b0" opacity="0.29"/><rect x="870.3" y="873.0" width="2.8" height="18.0" fill="#000" opacity="0.96"/><rect x="873.7" y="873.0" width="2.0" height="18.0" fill="#0000b0" opacity="0.24"/><rect x="875.7" y="873.0" width="1.5" height="18.0" fill="#000" opacity="0.81"/><rect x="877.9" y="873.0" width="1.2" height="18.0" fill="#000" opacity="0.88"/><rect x="880.1" y="873.0" width="1.1" height="18.0" fill="#000" opacity="0.97"/><rect x="881.9" y="873.0" width="2.2" height="18.0" fill="#000" opacity="0.63"/><rect x="885.1" y="873.0" width="2.2" height="18.0" fill="#0000e0" opacity="0.15"/><rect x="888.3" y="873.0" width="2.7" height="18.0" fill="#000" opacity="0.87"/><rect x="891.3" y="873.0" width="1.4" height="18.0" fill="#0000b0" opacity="0.10"/><rect x="893.5" y="873.0" width="1.8" height="18.0" fill="#000" opacity="0.65"/><rect x="895.6" y="873.0" width="1.9" height="18.0" fill="#000" opacity="0.88"/><rect x="898.7" y="873.0" width="1.3" height="18.0" fill="#000" opacity="0.63"/></g>
<g filter="url(#bl2)"><rect x="900.0" y="873.0" width="1.1" height="18.0" fill="#0000ff" opacity="0.30"/><rect x="901.6" y="873.0" width="1.5" height="18.0" fill="#000" opacity="0.72"/><rect x="903.7" y="873.0" width="1.3" height="18.0" fill="#000" opacity="0.56"/><rect x="906.2" y="873.0" width="1.7" height="18.0" fill="#0000ff" opacity="0.16"/><rect x="909.1" y="873.0" width="1.7" height="18.0" fill="#000" opacity="0.71"/><rect x="911.1" y="873.0" width="1.2" height="18.0" fill="#000" opacity="0.36"/><rect x="912.8" y="873.0" width="1.6" height="18.0" fill="#000" opacity="0.78"/><rect x="915.4" y="873.0" width="2.1" height="18.0" fill="#000" opacity="0.81"/><rect x="917.5" y="873.0" width="1.1" height="18.0" fill="#000" opacity="0.63"/><rect x="919.2" y="873.0" width="1.3" height="18.0" fill="#0000c0" opacity="0.11"/><rect x="920.9" y="873.0" width="1.6" height="18.0" fill="#000" opacity="0.53"/><rect x="922.8" y="873.0" width="2.3" height="18.0" fill="#000" opacity="0.51"/><rect x="925.4" y="873.0" width="2.3" height="18.0" fill="#000" opacity="0.57"/><rect x="928.0" y="873.0" width="1.4" height="18.0" fill="#0000ff" opacity="0.32"/><rect x="930.8" y="873.0" width="2.4" height="18.0" fill="#0000c0" opacity="0.26"/><rect x="933.4" y="873.0" width="1.4" height="18.0" fill="#000" opacity="0.66"/><rect x="935.6" y="873.0" width="1.1" height="18.0" fill="#000" opacity="0.40"/><rect x="938.0" y="873.0" width="2.0" height="18.0" fill="#0000ff" opacity="0.30"/><rect x="941.4" y="873.0" width="1.4" height="18.0" fill="#0000ff" opacity="0.25"/><rect x="944.2" y="873.0" width="2.3" height="18.0" fill="#000" opacity="0.78"/><rect x="946.7" y="873.0" width="1.5" height="18.0" fill="#000" opacity="0.37"/><rect x="948.9" y="873.0" width="1.0" height="18.0" fill="#0000ff" opacity="0.14"/><rect x="951.0" y="873.0" width="2.3" height="18.0" fill="#0000ff" opacity="0.23"/><rect x="953.5" y="873.0" width="1.6" height="18.0" fill="#0000ff" opacity="0.23"/><rect x="956.1" y="873.0" width="1.8" height="18.0" fill="#0000ff" opacity="0.26"/><rect x="959.1" y="873.0" width="2.3" height="18.0" fill="#000" opacity="0.79"/><rect x="962.9" y="873.0" width="1.5" height="18.0" fill="#0000ff" opacity="0.31"/><rect x="965.0" y="873.0" width="1.3" height="18.0" fill="#0000c0" opacity="0.31"/><rect x="966.3" y="873.0" width="2.3" height="18.0" fill="#0000ff" opacity="0.27"/><rect x="969.9" y="873.0" width="1.2" height="18.0" fill="#000" opacity="0.54"/><rect x="972.2" y="873.0" width="1.5" height="18.0" fill="#000" opacity="0.60"/><rect x="973.9" y="873.0" width="1.1" height="18.0" fill="#0000c0" opacity="0.36"/><rect x="976.1" y="873.0" width="2.1" height="18.0" fill="#000" opacity="0.55"/><rect x="978.9" y="873.0" width="1.2" height="18.0" fill="#0000ff" opacity="0.13"/><rect x="980.1" y="873.0" width="1.3" height="18.0" fill="#000" opacity="0.39"/><rect x="981.6" y="873.0" width="2.4" height="18.0" fill="#000" opacity="0.39"/><rect x="984.5" y="873.0" width="2.2" height="18.0" fill="#000" opacity="0.47"/><rect x="987.1" y="873.0" width="1.9" height="18.0" fill="#0000ff" opacity="0.34"/><rect x="989.5" y="873.0" width="1.6" height="18.0" fill="#000" opacity="0.73"/><rect x="991.3" y="873.0" width="1.8" height="18.0" fill="#0000ff" opacity="0.30"/><rect x="994.2" y="873.0" width="1.8" height="18.0" fill="#000" opacity="0.43"/><rect x="996.5" y="873.0" width="2.1" height="18.0" fill="#0000ff" opacity="0.26"/><rect x="999.1" y="873.0" width="1.3" height="18.0" fill="#0000c0" opacity="0.40"/><rect x="1001.7" y="873.0" width="2.0" height="18.0" fill="#000" opacity="0.50"/><rect x="1004.7" y="873.0" width="2.1" height="18.0" fill="#0000ff" opacity="0.13"/><rect x="1007.7" y="873.0" width="1.5" height="18.0" fill="#0000c0" opacity="0.39"/><rect x="1010.1" y="873.0" width="2.4" height="18.0" fill="#000" opacity="0.48"/><rect x="1013.5" y="873.0" width="1.1" height="18.0" fill="#0000c0" opacity="0.21"/><rect x="1015.3" y="873.0" width="2.2" height="18.0" fill="#000" opacity="0.53"/><rect x="1018.7" y="873.0" width="1.4" height="18.0" fill="#0000c0" opacity="0.11"/><rect x="1021.6" y="873.0" width="1.6" height="18.0" fill="#000" opacity="0.85"/><rect x="1024.1" y="873.0" width="2.0" height="18.0" fill="#000" opacity="0.66"/><rect x="1026.7" y="873.0" width="1.4" height="18.0" fill="#000" opacity="0.46"/><rect x="1029.2" y="873.0" width="1.1" height="18.0" fill="#000" opacity="0.60"/><rect x="1031.8" y="873.0" width="2.2" height="18.0" fill="#0000ff" opacity="0.16"/><rect x="1034.0" y="873.0" width="1.8" height="18.0" fill="#000" opacity="0.41"/><rect x="1035.9" y="873.0" width="1.5" height="18.0" fill="#000" opacity="0.46"/><rect x="1037.6" y="873.0" width="1.2" height="18.0" fill="#0000c0" opacity="0.27"/><rect x="1039.1" y="873.0" width="2.1" height="18.0" fill="#000" opacity="0.55"/><rect x="1042.4" y="873.0" width="1.8" height="18.0" fill="#0000c0" opacity="0.32"/><rect x="1045.5" y="873.0" width="2.5" height="18.0" fill="#0000c0" opacity="0.23"/><rect x="1049.4" y="873.0" width="1.9" height="18.0" fill="#000" opacity="0.57"/><rect x="1052.6" y="873.0" width="2.1" height="18.0" fill="#000" opacity="0.82"/><rect x="1055.7" y="873.0" width="1.3" height="18.0" fill="#0000c0" opacity="0.23"/><rect x="1057.2" y="873.0" width="1.2" height="18.0" fill="#000" opacity="0.67"/><rect x="1058.7" y="873.0" width="1.9" height="18.0" fill="#000" opacity="0.78"/><rect x="1060.7" y="873.0" width="2.0" height="18.0" fill="#0000ff" opacity="0.27"/><rect x="1063.4" y="873.0" width="1.1" height="18.0" fill="#0000ff" opacity="0.32"/><rect x="1065.3" y="873.0" width="2.0" height="18.0" fill="#0000ff" opacity="0.15"/><rect x="1068.3" y="873.0" width="2.2" height="18.0" fill="#000" opacity="0.78"/><rect x="1071.7" y="873.0" width="1.2" height="18.0" fill="#000" opacity="0.68"/><rect x="1073.9" y="873.0" width="1.2" height="18.0" fill="#0000c0" opacity="0.25"/><rect x="1075.1" y="873.0" width="1.6" height="18.0" fill="#0000ff" opacity="0.37"/><rect x="1077.4" y="873.0" width="1.3" height="18.0" fill="#0000ff" opacity="0.29"/><rect x="1080.0" y="873.0" width="1.1" height="18.0" fill="#000" opacity="0.69"/><rect x="1081.2" y="873.0" width="1.6" height="18.0" fill="#0000c0" opacity="0.27"/><rect x="1084.0" y="873.0" width="1.5" height="18.0" fill="#000" opacity="0.38"/><rect x="1085.5" y="873.0" width="1.2" height="18.0" fill="#000" opacity="0.59"/><rect x="1087.0" y="873.0" width="1.9" height="18.0" fill="#000" opacity="0.46"/><rect x="1089.9" y="873.0" width="1.9" height="18.0" fill="#000" opacity="0.57"/><rect x="1092.8" y="873.0" width="1.1" height="18.0" fill="#0000ff" opacity="0.18"/><rect x="1094.4" y="873.0" width="2.5" height="18.0" fill="#000" opacity="0.38"/><rect x="1097.4" y="873.0" width="1.7" height="18.0" fill="#000" opacity="0.45"/><rect x="1100.4" y="873.0" width="1.9" height="18.0" fill="#000" opacity="0.58"/><rect x="1103.6" y="873.0" width="1.2" height="18.0" fill="#000" opacity="0.72"/><rect x="1105.7" y="873.0" width="2.4" height="18.0" fill="#0000c0" opacity="0.36"/><rect x="1108.9" y="873.0" width="1.9" height="18.0" fill="#0000ff" opacity="0.11"/><rect x="1112.2" y="873.0" width="1.4" height="18.0" fill="#000" opacity="0.79"/><rect x="1114.0" y="873.0" width="1.2" height="18.0" fill="#000" opacity="0.58"/><rect x="1115.9" y="873.0" width="1.7" height="18.0" fill="#000" opacity="0.74"/><rect x="1118.2" y="873.0" width="1.5" height="18.0" fill="#000" opacity="0.52"/><rect x="1120.8" y="873.0" width="2.0" height="18.0" fill="#0000ff" opacity="0.38"/><rect x="1123.1" y="873.0" width="1.0" height="18.0" fill="#000" opacity="0.62"/><rect x="1125.4" y="873.0" width="1.2" height="18.0" fill="#0000ff" opacity="0.25"/><rect x="1127.7" y="873.0" width="1.3" height="18.0" fill="#000" opacity="0.64"/><rect x="1129.4" y="873.0" width="2.3" height="18.0" fill="#0000c0" opacity="0.18"/><rect x="1132.5" y="873.0" width="1.2" height="18.0" fill="#0000ff" opacity="0.38"/><rect x="1134.2" y="873.0" width="2.1" height="18.0" fill="#0000ff" opacity="0.30"/><rect x="1136.9" y="873.0" width="1.6" height="18.0" fill="#0000c0" opacity="0.36"/><rect x="1139.4" y="873.0" width="1.8" height="18.0" fill="#000" opacity="0.43"/><rect x="1141.9" y="873.0" width="2.2" height="18.0" fill="#0000ff" opacity="0.28"/><rect x="1145.5" y="873.0" width="2.2" height="18.0" fill="#000" opacity="0.80"/><rect x="1148.7" y="873.0" width="1.5" height="18.0" fill="#0000ff" opacity="0.22"/><rect x="1151.1" y="873.0" width="1.6" height="18.0" fill="#000" opacity="0.48"/><rect x="1153.3" y="873.0" width="1.1" height="18.0" fill="#0000c0" opacity="0.13"/><rect x="1154.9" y="873.0" width="2.0" height="18.0" fill="#000" opacity="0.50"/><rect x="1157.2" y="873.0" width="1.4" height="18.0" fill="#0000ff" opacity="0.29"/><rect x="1159.8" y="873.0" width="1.6" height="18.0" fill="#000" opacity="0.68"/><rect x="1161.7" y="873.0" width="2.1" height="18.0" fill="#0000c0" opacity="0.29"/><rect x="1164.9" y="873.0" width="2.0" height="18.0" fill="#000" opacity="0.50"/><rect x="1167.0" y="873.0" width="2.2" height="18.0" fill="#000" opacity="0.83"/><rect x="1169.4" y="873.0" width="1.7" height="18.0" fill="#0000ff" opacity="0.31"/><rect x="1171.9" y="873.0" width="2.0" height="18.0" fill="#000" opacity="0.39"/><rect x="1174.5" y="873.0" width="2.0" height="18.0" fill="#000" opacity="0.83"/><rect x="1177.0" y="873.0" width="1.7" height="18.0" fill="#000" opacity="0.84"/><rect x="1178.9" y="873.0" width="1.4" height="18.0" fill="#0000ff" opacity="0.15"/><rect x="1181.5" y="873.0" width="2.0" height="18.0" fill="#000" opacity="0.37"/><rect x="1184.5" y="873.0" width="1.5" height="18.0" fill="#0000c0" opacity="0.12"/><rect x="1186.3" y="873.0" width="2.2" height="18.0" fill="#0000c0" opacity="0.35"/><rect x="1189.2" y="873.0" width="1.3" height="18.0" fill="#000" opacity="0.44"/><rect x="1191.6" y="873.0" width="2.3" height="18.0" fill="#000" opacity="0.36"/><rect x="1195.2" y="873.0" width="1.1" height="18.0" fill="#000" opacity="0.41"/><rect x="1197.6" y="873.0" width="1.2" height="18.0" fill="#000" opacity="0.40"/><rect x="1199.8" y="873.0" width="2.4" height="18.0" fill="#000" opacity="0.76"/><rect x="1203.6" y="873.0" width="1.3" height="18.0" fill="#0000ff" opacity="0.39"/><rect x="1206.4" y="873.0" width="1.1" height="18.0" fill="#000" opacity="0.83"/><rect x="1208.3" y="873.0" width="1.7" height="18.0" fill="#0000c0" opacity="0.38"/><rect x="1210.5" y="873.0" width="1.9" height="18.0" fill="#000" opacity="0.50"/><rect x="1212.9" y="873.0" width="1.8" height="18.0" fill="#0000c0" opacity="0.35"/><rect x="1216.0" y="873.0" width="2.1" height="18.0" fill="#000" opacity="0.70"/><rect x="1218.9" y="873.0" width="1.2" height="18.0" fill="#0000c0" opacity="0.37"/><rect x="1221.2" y="873.0" width="1.1" height="18.0" fill="#000" opacity="0.50"/><rect x="1223.0" y="873.0" width="1.6" height="18.0" fill="#0000ff" opacity="0.32"/><rect x="1225.7" y="873.0" width="1.5" height="18.0" fill="#000" opacity="0.71"/><rect x="1228.6" y="873.0" width="1.4" height="18.0" fill="#000" opacity="0.62"/><rect x="1231.1" y="873.0" width="1.5" height="18.0" fill="#000" opacity="0.73"/><rect x="1234.0" y="873.0" width="1.8" height="18.0" fill="#000" opacity="0.58"/><rect x="1236.0" y="873.0" width="1.7" height="18.0" fill="#000" opacity="0.53"/><rect x="1238.6" y="873.0" width="1.1" height="18.0" fill="#000" opacity="0.83"/><rect x="1239.8" y="873.0" width="1.9" height="18.0" fill="#000" opacity="0.39"/><rect x="1243.0" y="873.0" width="2.1" height="18.0" fill="#000" opacity="0.68"/><rect x="1246.0" y="873.0" width="2.0" height="18.0" fill="#000" opacity="0.71"/><rect x="1249.0" y="873.0" width="1.7" height="18.0" fill="#000" opacity="0.78"/><rect x="1251.6" y="873.0" width="1.4" height="18.0" fill="#0000c0" opacity="0.14"/><rect x="1254.4" y="873.0" width="1.1" height="18.0" fill="#000" opacity="0.65"/><rect x="1256.8" y="873.0" width="1.8" height="18.0" fill="#0000ff" opacity="0.18"/><rect x="1259.4" y="873.0" width="2.1" height="18.0" fill="#0000ff" opacity="0.33"/><rect x="1261.9" y="873.0" width="1.5" height="18.0" fill="#0000c0" opacity="0.15"/><rect x="1263.4" y="873.0" width="1.7" height="18.0" fill="#000" opacity="0.52"/><rect x="1266.3" y="873.0" width="1.3" height="18.0" fill="#000" opacity="0.79"/><rect x="1268.9" y="873.0" width="1.5" height="18.0" fill="#0000c0" opacity="0.27"/><rect x="1271.0" y="873.0" width="1.7" height="18.0" fill="#000" opacity="0.57"/><rect x="1273.0" y="873.0" width="1.1" height="18.0" fill="#000" opacity="0.36"/><rect x="1275.2" y="873.0" width="1.1" height="18.0" fill="#0000ff" opacity="0.36"/><rect x="1277.4" y="873.0" width="1.4" height="18.0" fill="#000" opacity="0.59"/><rect x="1279.7" y="873.0" width="1.4" height="18.0" fill="#0000c0" opacity="0.31"/><rect x="1282.0" y="873.0" width="1.5" height="18.0" fill="#0000ff" opacity="0.26"/><rect x="1283.9" y="873.0" width="1.1" height="18.0" fill="#0000c0" opacity="0.27"/><rect x="1285.7" y="873.0" width="2.3" height="18.0" fill="#0000ff" opacity="0.13"/><rect x="1288.8" y="873.0" width="2.2" height="18.0" fill="#0000ff" opacity="0.26"/><rect x="1291.4" y="873.0" width="1.6" height="18.0" fill="#000" opacity="0.71"/><rect x="1294.2" y="873.0" width="2.1" height="18.0" fill="#0000c0" opacity="0.33"/><rect x="1297.5" y="873.0" width="1.6" height="18.0" fill="#0000c0" opacity="0.27"/><rect x="1300.2" y="873.0" width="1.6" height="18.0" fill="#0000c0" opacity="0.16"/><rect x="1302.7" y="873.0" width="1.0" height="18.0" fill="#000" opacity="0.36"/><rect x="1305.1" y="873.0" width="2.3" height="18.0" fill="#0000c0" opacity="0.28"/><rect x="1307.7" y="873.0" width="1.2" height="18.0" fill="#000" opacity="0.82"/><rect x="1309.9" y="873.0" width="2.0" height="18.0" fill="#0000ff" opacity="0.36"/><rect x="1313.3" y="873.0" width="1.9" height="18.0" fill="#0000c0" opacity="0.21"/><rect x="1316.4" y="873.0" width="1.3" height="18.0" fill="#0000ff" opacity="0.29"/><rect x="1317.9" y="873.0" width="1.8" height="18.0" fill="#0000ff" opacity="0.39"/><rect x="1320.7" y="873.0" width="1.2" height="18.0" fill="#0000ff" opacity="0.25"/><rect x="1322.2" y="873.0" width="1.2" height="18.0" fill="#0000ff" opacity="0.32"/><rect x="1324.0" y="873.0" width="1.8" height="18.0" fill="#000" opacity="0.68"/><rect x="1326.5" y="873.0" width="2.2" height="18.0" fill="#000" opacity="0.54"/><rect x="1328.8" y="873.0" width="1.1" height="18.0" fill="#000" opacity="0.36"/><rect x="1330.5" y="873.0" width="1.6" height="18.0" fill="#0000c0" opacity="0.34"/><rect x="1333.1" y="873.0" width="1.1" height="18.0" fill="#000" opacity="0.43"/><rect x="1334.7" y="873.0" width="2.1" height="18.0" fill="#0000c0" opacity="0.18"/><rect x="1337.3" y="873.0" width="1.8" height="18.0" fill="#000" opacity="0.56"/><rect x="1340.5" y="873.0" width="1.4" height="18.0" fill="#000" opacity="0.80"/><rect x="1342.5" y="873.0" width="2.2" height="18.0" fill="#0000ff" opacity="0.22"/><rect x="1346.0" y="873.0" width="1.2" height="18.0" fill="#000" opacity="0.83"/><rect x="1348.1" y="873.0" width="2.5" height="18.0" fill="#000" opacity="0.55"/><rect x="1352.0" y="873.0" width="2.2" height="18.0" fill="#000" opacity="0.56"/><rect x="1355.2" y="873.0" width="1.8" height="18.0" fill="#000" opacity="0.37"/><rect x="1357.4" y="873.0" width="1.5" height="18.0" fill="#000" opacity="0.56"/><rect x="1359.8" y="873.0" width="2.4" height="18.0" fill="#000" opacity="0.72"/><rect x="1362.6" y="873.0" width="1.9" height="18.0" fill="#0000ff" opacity="0.31"/><rect x="1365.7" y="873.0" width="2.5" height="18.0" fill="#000" opacity="0.81"/><rect x="1368.3" y="873.0" width="1.2" height="18.0" fill="#000" opacity="0.44"/><rect x="1369.8" y="873.0" width="2.4" height="18.0" fill="#0000ff" opacity="0.38"/><rect x="1373.7" y="873.0" width="1.8" height="18.0" fill="#000" opacity="0.67"/><rect x="1376.5" y="873.0" width="1.4" height="18.0" fill="#000" opacity="0.36"/><rect x="1378.5" y="873.0" width="2.3" height="18.0" fill="#000" opacity="0.37"/><rect x="1381.3" y="873.0" width="1.6" height="18.0" fill="#000" opacity="0.75"/><rect x="1384.1" y="873.0" width="1.0" height="18.0" fill="#0000c0" opacity="0.14"/><rect x="1385.4" y="873.0" width="2.1" height="18.0" fill="#000" opacity="0.37"/><rect x="1388.5" y="873.0" width="1.4" height="18.0" fill="#0000c0" opacity="0.25"/><rect x="1390.0" y="873.0" width="2.4" height="18.0" fill="#0000c0" opacity="0.33"/><rect x="1393.7" y="873.0" width="1.2" height="18.0" fill="#000" opacity="0.54"/><rect x="1395.5" y="873.0" width="1.3" height="18.0" fill="#0000c0" opacity="0.16"/><rect x="1398.1" y="873.0" width="2.0" height="18.0" fill="#0000c0" opacity="0.38"/><rect x="1400.8" y="873.0" width="2.5" height="18.0" fill="#000" opacity="0.44"/><rect x="1404.2" y="873.0" width="2.2" height="18.0" fill="#0000ff" opacity="0.26"/><rect x="1407.5" y="873.0" width="2.2" height="18.0" fill="#0000c0" opacity="0.24"/><rect x="1410.4" y="873.0" width="2.4" height="18.0" fill="#000" opacity="0.61"/><rect x="1413.6" y="873.0" width="1.8" height="18.0" fill="#0000c0" opacity="0.33"/><rect x="1416.3" y="873.0" width="2.3" height="18.0" fill="#0000c0" opacity="0.12"/><rect x="1419.1" y="873.0" width="1.1" height="18.0" fill="#000" opacity="0.53"/><rect x="1420.8" y="873.0" width="1.1" height="18.0" fill="#000" opacity="0.83"/><rect x="1422.8" y="873.0" width="1.3" height="18.0" fill="#000" opacity="0.53"/><rect x="1424.8" y="873.0" width="1.3" height="18.0" fill="#0000c0" opacity="0.29"/><rect x="1427.3" y="873.0" width="1.8" height="18.0" fill="#0000c0" opacity="0.21"/><rect x="1429.8" y="873.0" width="2.2" height="18.0" fill="#0000c0" opacity="0.14"/><rect x="1432.7" y="873.0" width="1.6" height="18.0" fill="#000" opacity="0.42"/><rect x="1435.7" y="873.0" width="1.6" height="18.0" fill="#000" opacity="0.48"/><rect x="1437.6" y="873.0" width="2.5" height="18.0" fill="#000" opacity="0.42"/><rect x="1440.2" y="873.0" width="1.5" height="18.0" fill="#0000c0" opacity="0.36"/><rect x="1442.4" y="873.0" width="2.2" height="18.0" fill="#000" opacity="0.60"/><rect x="1444.7" y="873.0" width="1.7" height="18.0" fill="#0000ff" opacity="0.19"/><rect x="1447.1" y="873.0" width="1.7" height="18.0" fill="#0000ff" opacity="0.39"/><rect x="1450.1" y="873.0" width="2.0" height="18.0" fill="#0000c0" opacity="0.15"/><rect x="1452.3" y="873.0" width="1.8" height="18.0" fill="#0000ff" opacity="0.14"/><rect x="1455.5" y="873.0" width="1.3" height="18.0" fill="#0000ff" opacity="0.27"/><rect x="1457.2" y="873.0" width="1.5" height="18.0" fill="#000" opacity="0.61"/><rect x="1459.1" y="873.0" width="1.5" height="18.0" fill="#000" opacity="0.70"/><rect x="1461.3" y="873.0" width="2.0" height="18.0" fill="#0000ff" opacity="0.27"/><rect x="1463.9" y="873.0" width="2.5" height="18.0" fill="#000" opacity="0.60"/><rect x="1466.4" y="873.0" width="1.4" height="18.0" fill="#000" opacity="0.66"/><rect x="1468.1" y="873.0" width="1.3" height="18.0" fill="#000" opacity="0.72"/><rect x="1470.3" y="873.0" width="1.4" height="18.0" fill="#000" opacity="0.49"/><rect x="1472.6" y="873.0" width="1.9" height="18.0" fill="#000" opacity="0.43"/><rect x="1475.4" y="873.0" width="1.4" height="18.0" fill="#0000c0" opacity="0.36"/><rect x="1477.4" y="873.0" width="1.6" height="18.0" fill="#000" opacity="0.52"/><rect x="1479.2" y="873.0" width="2.5" height="18.0" fill="#000" opacity="0.44"/><rect x="1482.9" y="873.0" width="2.2" height="18.0" fill="#000" opacity="0.63"/><rect x="1486.6" y="873.0" width="2.3" height="18.0" fill="#000" opacity="0.39"/><rect x="1490.2" y="873.0" width="2.4" height="18.0" fill="#000" opacity="0.74"/><rect x="1492.7" y="873.0" width="1.6" height="18.0" fill="#0000ff" opacity="0.18"/><rect x="1495.5" y="873.0" width="1.2" height="18.0" fill="#0000c0" opacity="0.28"/><rect x="1498.1" y="873.0" width="2.2" height="18.0" fill="#000" opacity="0.55"/><rect x="1500.4" y="873.0" width="1.5" height="18.0" fill="#0000c0" opacity="0.27"/><rect x="1503.0" y="873.0" width="1.8" height="18.0" fill="#000" opacity="0.44"/><rect x="1506.0" y="873.0" width="1.9" height="18.0" fill="#000" opacity="0.84"/><rect x="1508.7" y="873.0" width="2.1" height="18.0" fill="#000" opacity="0.53"/><rect x="1511.7" y="873.0" width="1.4" height="18.0" fill="#0000c0" opacity="0.29"/><rect x="1513.5" y="873.0" width="2.2" height="18.0" fill="#0000ff" opacity="0.30"/><rect x="1516.3" y="873.0" width="1.2" height="18.0" fill="#000" opacity="0.77"/><rect x="1517.5" y="873.0" width="2.0" height="18.0" fill="#0000c0" opacity="0.21"/><rect x="1520.9" y="873.0" width="2.0" height="18.0" fill="#000" opacity="0.42"/><rect x="1523.6" y="873.0" width="1.0" height="18.0" fill="#000" opacity="0.78"/><rect x="1524.8" y="873.0" width="1.8" height="18.0" fill="#000" opacity="0.70"/><rect x="1527.8" y="873.0" width="2.3" height="18.0" fill="#0000ff" opacity="0.36"/><rect x="1531.5" y="873.0" width="1.3" height="18.0" fill="#000" opacity="0.70"/><rect x="1532.9" y="873.0" width="2.4" height="18.0" fill="#0000c0" opacity="0.18"/><rect x="1535.4" y="873.0" width="1.2" height="18.0" fill="#000" opacity="0.57"/><rect x="1537.5" y="873.0" width="2.4" height="18.0" fill="#000" opacity="0.49"/><rect x="1540.1" y="873.0" width="2.4" height="18.0" fill="#0000ff" opacity="0.17"/><rect x="1543.2" y="873.0" width="2.4" height="18.0" fill="#000" opacity="0.47"/><rect x="1546.7" y="873.0" width="1.1" height="18.0" fill="#0000ff" opacity="0.20"/><rect x="1548.1" y="873.0" width="1.5" height="18.0" fill="#0000ff" opacity="0.23"/><rect x="1549.9" y="873.0" width="1.8" height="18.0" fill="#0000ff" opacity="0.35"/><rect x="1552.6" y="873.0" width="1.1" height="18.0" fill="#0000c0" opacity="0.11"/><rect x="1554.9" y="873.0" width="1.7" height="18.0" fill="#000" opacity="0.84"/><rect x="1557.0" y="873.0" width="1.3" height="18.0" fill="#0000ff" opacity="0.31"/><rect x="1558.3" y="873.0" width="1.3" height="18.0" fill="#0000c0" opacity="0.35"/><rect x="1560.0" y="873.0" width="2.2" height="18.0" fill="#0000ff" opacity="0.27"/><rect x="1563.2" y="873.0" width="2.0" height="18.0" fill="#0000c0" opacity="0.20"/><rect x="1565.9" y="873.0" width="1.2" height="18.0" fill="#0000c0" opacity="0.35"/><rect x="1567.6" y="873.0" width="1.0" height="18.0" fill="#0000c0" opacity="0.32"/><rect x="1569.1" y="873.0" width="1.3" height="18.0" fill="#000" opacity="0.84"/><rect x="1571.9" y="873.0" width="1.1" height="18.0" fill="#000" opacity="0.39"/><rect x="1574.3" y="873.0" width="2.5" height="18.0" fill="#0000c0" opacity="0.32"/><rect x="1576.9" y="873.0" width="1.0" height="18.0" fill="#000" opacity="0.37"/><rect x="1578.4" y="873.0" width="1.7" height="18.0" fill="#0000ff" opacity="0.12"/><rect x="1581.3" y="873.0" width="2.4" height="18.0" fill="#000" opacity="0.68"/><rect x="1584.9" y="873.0" width="2.3" height="18.0" fill="#000" opacity="0.45"/><rect x="1587.3" y="873.0" width="2.0" height="18.0" fill="#000" opacity="0.70"/><rect x="1589.6" y="873.0" width="2.0" height="18.0" fill="#000" opacity="0.57"/><rect x="1592.5" y="873.0" width="2.4" height="18.0" fill="#000" opacity="0.74"/><rect x="1595.0" y="873.0" width="1.3" height="18.0" fill="#0000c0" opacity="0.35"/><rect x="1596.6" y="873.0" width="1.8" height="18.0" fill="#0000ff" opacity="0.37"/><rect x="1599.3" y="873.0" width="1.1" height="18.0" fill="#000" opacity="0.51"/><rect x="1601.5" y="873.0" width="2.5" height="18.0" fill="#000" opacity="0.75"/><rect x="1604.5" y="873.0" width="1.0" height="18.0" fill="#000" opacity="0.49"/><rect x="1606.2" y="873.0" width="2.3" height="18.0" fill="#0000c0" opacity="0.12"/><rect x="1609.2" y="873.0" width="1.3" height="18.0" fill="#000" opacity="0.76"/><rect x="1611.0" y="873.0" width="2.3" height="18.0" fill="#0000ff" opacity="0.13"/><rect x="1613.6" y="873.0" width="2.5" height="18.0" fill="#0000c0" opacity="0.36"/><rect x="1617.0" y="873.0" width="1.7" height="18.0" fill="#0000c0" opacity="0.14"/><rect x="1619.4" y="873.0" width="1.7" height="18.0" fill="#000" opacity="0.47"/><rect x="1621.4" y="873.0" width="1.4" height="18.0" fill="#0000ff" opacity="0.35"/><rect x="1623.1" y="873.0" width="2.1" height="18.0" fill="#000" opacity="0.42"/><rect x="1625.3" y="873.0" width="1.6" height="18.0" fill="#0000ff" opacity="0.34"/><rect x="1627.4" y="873.0" width="1.7" height="18.0" fill="#000" opacity="0.70"/><rect x="1630.0" y="873.0" width="2.1" height="18.0" fill="#000" opacity="0.50"/><rect x="1632.5" y="873.0" width="1.7" height="18.0" fill="#000" opacity="0.40"/><rect x="1634.4" y="873.0" width="1.1" height="18.0" fill="#000" opacity="0.67"/><rect x="1636.9" y="873.0" width="1.9" height="18.0" fill="#000" opacity="0.66"/><rect x="1639.6" y="873.0" width="1.4" height="18.0" fill="#0000ff" opacity="0.34"/><rect x="1642.0" y="873.0" width="2.0" height="18.0" fill="#0000c0" opacity="0.32"/><rect x="1644.4" y="873.0" width="1.5" height="18.0" fill="#0000ff" opacity="0.26"/><rect x="1647.0" y="873.0" width="1.1" height="18.0" fill="#000" opacity="0.53"/><rect x="1648.3" y="873.0" width="1.9" height="18.0" fill="#0000ff" opacity="0.19"/><rect x="1651.0" y="873.0" width="1.2" height="18.0" fill="#000" opacity="0.75"/><rect x="1653.5" y="873.0" width="1.2" height="18.0" fill="#000" opacity="0.52"/><rect x="1654.9" y="873.0" width="2.1" height="18.0" fill="#000" opacity="0.40"/><rect x="1658.4" y="873.0" width="1.2" height="18.0" fill="#0000ff" opacity="0.15"/><rect x="1659.9" y="873.0" width="2.0" height="18.0" fill="#0000c0" opacity="0.21"/><rect x="1662.9" y="873.0" width="2.0" height="18.0" fill="#0000ff" opacity="0.30"/><rect x="1665.6" y="873.0" width="2.0" height="18.0" fill="#0000c0" opacity="0.25"/><rect x="1668.4" y="873.0" width="1.1" height="18.0" fill="#0000c0" opacity="0.16"/><rect x="1670.3" y="873.0" width="2.3" height="18.0" fill="#000" opacity="0.82"/><rect x="1673.9" y="873.0" width="1.1" height="18.0" fill="#000" opacity="0.85"/><rect x="1675.7" y="873.0" width="2.2" height="18.0" fill="#0000ff" opacity="0.26"/><rect x="1679.2" y="873.0" width="2.3" height="18.0" fill="#000" opacity="0.38"/><rect x="1682.3" y="873.0" width="2.0" height="18.0" fill="#000" opacity="0.39"/><rect x="1685.6" y="873.0" width="1.1" height="18.0" fill="#000" opacity="0.51"/><rect x="1687.6" y="873.0" width="1.2" height="18.0" fill="#000" opacity="0.61"/><rect x="1689.3" y="873.0" width="1.5" height="18.0" fill="#0000ff" opacity="0.18"/><rect x="1691.9" y="873.0" width="2.4" height="18.0" fill="#000" opacity="0.50"/><rect x="1695.0" y="873.0" width="1.1" height="18.0" fill="#000" opacity="0.63"/><rect x="1696.4" y="873.0" width="1.4" height="18.0" fill="#0000ff" opacity="0.11"/><rect x="1699.0" y="873.0" width="2.2" height="18.0" fill="#000" opacity="0.70"/><rect x="1701.4" y="873.0" width="2.4" height="18.0" fill="#0000ff" opacity="0.27"/><rect x="1703.7" y="873.0" width="1.5" height="18.0" fill="#000" opacity="0.39"/><rect x="1705.5" y="873.0" width="1.6" height="18.0" fill="#000" opacity="0.62"/><rect x="1708.4" y="873.0" width="1.5" height="18.0" fill="#000" opacity="0.55"/><rect x="1711.0" y="873.0" width="1.4" height="18.0" fill="#0000ff" opacity="0.19"/><rect x="1713.1" y="873.0" width="2.4" height="18.0" fill="#000" opacity="0.80"/><rect x="1716.4" y="873.0" width="2.4" height="18.0" fill="#000" opacity="0.68"/><rect x="1718.8" y="873.0" width="1.3" height="18.0" fill="#0000ff" opacity="0.14"/><rect x="1720.7" y="873.0" width="1.1" height="18.0" fill="#000" opacity="0.83"/><rect x="1723.3" y="873.0" width="1.3" height="18.0" fill="#000" opacity="0.53"/><rect x="1726.1" y="873.0" width="1.5" height="18.0" fill="#0000ff" opacity="0.12"/><rect x="1728.3" y="873.0" width="1.4" height="18.0" fill="#0000ff" opacity="0.23"/><rect x="1731.1" y="873.0" width="1.0" height="18.0" fill="#000" opacity="0.65"/><rect x="1733.2" y="873.0" width="2.2" height="18.0" fill="#0000c0" opacity="0.18"/><rect x="1736.4" y="873.0" width="1.6" height="18.0" fill="#000" opacity="0.78"/><rect x="1738.6" y="873.0" width="2.3" height="18.0" fill="#000" opacity="0.76"/><rect x="1742.4" y="873.0" width="1.1" height="18.0" fill="#0000ff" opacity="0.12"/><rect x="1744.8" y="873.0" width="1.1" height="18.0" fill="#0000ff" opacity="0.29"/><rect x="1746.6" y="873.0" width="1.7" height="18.0" fill="#0000ff" opacity="0.16"/><rect x="1748.6" y="873.0" width="1.5" height="18.0" fill="#000" opacity="0.68"/><rect x="1750.1" y="873.0" width="1.8" height="18.0" fill="#0000c0" opacity="0.11"/><rect x="1752.1" y="873.0" width="1.4" height="18.0" fill="#0000ff" opacity="0.33"/><rect x="1754.8" y="873.0" width="1.5" height="18.0" fill="#000" opacity="0.48"/><rect x="1756.6" y="873.0" width="1.9" height="18.0" fill="#000" opacity="0.42"/><rect x="1758.9" y="873.0" width="2.1" height="18.0" fill="#0000c0" opacity="0.18"/><rect x="1762.2" y="873.0" width="2.3" height="18.0" fill="#000" opacity="0.55"/><rect x="1765.1" y="873.0" width="2.1" height="18.0" fill="#000" opacity="0.85"/><rect x="1767.3" y="873.0" width="2.3" height="18.0" fill="#000" opacity="0.38"/><rect x="1770.1" y="873.0" width="2.0" height="18.0" fill="#0000ff" opacity="0.13"/><rect x="1772.6" y="873.0" width="1.3" height="18.0" fill="#0000c0" opacity="0.29"/><rect x="1774.0" y="873.0" width="1.8" height="18.0" fill="#000" opacity="0.63"/><rect x="1776.1" y="873.0" width="0.5" height="18.0" fill="#0000c0" opacity="0.33"/></g>
<g filter="url(#bl2)"><rect x="480.0" y="866.0" width="140.0" height="5.0" fill="#0000ff" opacity="0.3"/><rect x="800.0" y="866.0" width="80.0" height="5.0" fill="#0000ff" opacity="0.3"/><rect x="1330.0" y="866.0" width="30.0" height="5.0" fill="#0000ff" opacity="0.3"/><rect x="1450.0" y="866.0" width="70.0" height="5.0" fill="#0000ff" opacity="0.25"/><rect x="1560.0" y="866.0" width="40.0" height="5.0" fill="#0000ff" opacity="0.25"/></g>
<g filter="url(#bl2)"><rect x="102.3" y="899.0" width="1674.3" height="13.0" fill="#0000c0" opacity="0.35"/><rect x="102.3" y="904.0" width="1674.3" height="7.0" fill="#0000ff" opacity="0.3"/></g>
<g filter="url(#bl)"><rect x="102.3" y="900.0" width="1.2" height="12.0" fill="#1800ff" opacity="0.57"/><rect x="106.0" y="900.0" width="1.7" height="12.0" fill="#1800ff" opacity="0.54"/><rect x="108.0" y="900.0" width="1.5" height="12.0" fill="#0000ff" opacity="0.36"/><rect x="110.1" y="900.0" width="1.5" height="12.0" fill="#000" opacity="0.57"/><rect x="111.8" y="900.0" width="1.4" height="12.0" fill="#000" opacity="0.58"/><rect x="113.8" y="900.0" width="1.8" height="12.0" fill="#000" opacity="0.53"/><rect x="116.4" y="900.0" width="2.3" height="12.0" fill="#1800ff" opacity="0.29"/><rect x="118.8" y="900.0" width="1.4" height="12.0" fill="#0000ff" opacity="0.34"/><rect x="120.3" y="900.0" width="1.0" height="12.0" fill="#1800ff" opacity="0.62"/><rect x="122.7" y="900.0" width="1.8" height="12.0" fill="#1800ff" opacity="0.64"/><rect x="125.9" y="900.0" width="2.0" height="12.0" fill="#0000ff" opacity="0.55"/><rect x="129.9" y="900.0" width="1.1" height="12.0" fill="#000" opacity="0.50"/><rect x="132.1" y="900.0" width="1.9" height="12.0" fill="#1800ff" opacity="0.78"/><rect x="136.2" y="900.0" width="2.4" height="12.0" fill="#0000ff" opacity="0.56"/><rect x="139.1" y="900.0" width="1.4" height="12.0" fill="#0000e0" opacity="0.26"/><rect x="141.0" y="900.0" width="2.1" height="12.0" fill="#1800ff" opacity="0.40"/><rect x="144.5" y="900.0" width="1.9" height="12.0" fill="#0000e0" opacity="0.58"/><rect x="144.7" y="906.0" width="1.6" height="4.8" fill="#ff56a9" opacity="0.67"/><rect x="147.4" y="900.0" width="2.4" height="12.0" fill="#0000e0" opacity="0.71"/><rect x="152.0" y="900.0" width="2.2" height="12.0" fill="#0000ff" opacity="0.70"/><rect x="156.4" y="900.0" width="1.1" height="12.0" fill="#0000ff" opacity="0.65"/><rect x="157.7" y="900.0" width="2.4" height="12.0" fill="#0000e0" opacity="0.70"/><rect x="160.2" y="900.0" width="1.6" height="12.0" fill="#0000ff" opacity="0.59"/><rect x="162.4" y="900.0" width="2.0" height="12.0" fill="#0000e0" opacity="0.77"/><rect x="165.4" y="900.0" width="1.9" height="12.0" fill="#1800ff" opacity="0.74"/><rect x="168.9" y="900.0" width="1.2" height="12.0" fill="#1800ff" opacity="0.59"/><rect x="171.7" y="900.0" width="1.1" height="12.0" fill="#0000e0" opacity="0.62"/><rect x="174.4" y="900.0" width="1.5" height="12.0" fill="#0000ff" opacity="0.62"/><rect x="177.3" y="900.0" width="1.9" height="12.0" fill="#1800ff" opacity="0.76"/><rect x="180.9" y="900.0" width="1.0" height="12.0" fill="#0000e0" opacity="0.32"/><rect x="184.3" y="900.0" width="2.0" height="12.0" fill="#1800ff" opacity="0.67"/><rect x="187.5" y="900.0" width="2.1" height="12.0" fill="#0000e0" opacity="0.68"/><rect x="191.2" y="900.0" width="1.8" height="12.0" fill="#0000e0" opacity="0.69"/><rect x="195.4" y="900.0" width="1.2" height="12.0" fill="#000" opacity="0.38"/><rect x="196.8" y="900.0" width="2.4" height="12.0" fill="#0000e0" opacity="0.52"/><rect x="201.5" y="900.0" width="1.3" height="12.0" fill="#000" opacity="0.65"/><rect x="205.2" y="900.0" width="1.5" height="12.0" fill="#1800ff" opacity="0.35"/><rect x="207.5" y="900.0" width="2.1" height="12.0" fill="#0000e0" opacity="0.52"/><rect x="212.1" y="900.0" width="1.7" height="12.0" fill="#1800ff" opacity="0.27"/><rect x="214.1" y="900.0" width="1.7" height="12.0" fill="#0000ff" opacity="0.46"/><rect x="217.9" y="900.0" width="1.2" height="12.0" fill="#1800ff" opacity="0.33"/><rect x="221.5" y="900.0" width="1.9" height="12.0" fill="#0000e0" opacity="0.71"/><rect x="224.4" y="900.0" width="1.8" height="12.0" fill="#0000ff" opacity="0.62"/><rect x="227.7" y="900.0" width="1.9" height="12.0" fill="#0000e0" opacity="0.75"/><rect x="227.9" y="906.0" width="1.6" height="4.8" fill="#9010ff" opacity="1.00"/><rect x="229.8" y="900.0" width="1.6" height="12.0" fill="#0000e0" opacity="0.70"/><rect x="233.9" y="900.0" width="1.1" height="12.0" fill="#1800ff" opacity="0.55"/><rect x="236.4" y="900.0" width="1.8" height="12.0" fill="#1800ff" opacity="0.66"/><rect x="239.6" y="900.0" width="1.3" height="12.0" fill="#0000e0" opacity="0.33"/><rect x="242.0" y="900.0" width="2.3" height="12.0" fill="#1800ff" opacity="0.31"/><rect x="245.3" y="900.0" width="1.1" height="12.0" fill="#1800ff" opacity="0.35"/><rect x="247.4" y="900.0" width="2.1" height="12.0" fill="#000" opacity="0.63"/><rect x="251.9" y="900.0" width="1.4" height="12.0" fill="#000" opacity="0.61"/><rect x="254.3" y="900.0" width="2.1" height="12.0" fill="#0000ff" opacity="0.39"/><rect x="256.9" y="900.0" width="1.7" height="12.0" fill="#0000e0" opacity="0.72"/><rect x="260.2" y="900.0" width="1.7" height="12.0" fill="#0000ff" opacity="0.68"/><rect x="263.1" y="900.0" width="1.9" height="12.0" fill="#0000ff" opacity="0.37"/><rect x="266.6" y="900.0" width="1.4" height="12.0" fill="#000" opacity="0.69"/><rect x="270.3" y="900.0" width="1.5" height="12.0" fill="#0000ff" opacity="0.45"/><rect x="273.5" y="900.0" width="1.7" height="12.0" fill="#1800ff" opacity="0.59"/><rect x="277.1" y="900.0" width="1.2" height="12.0" fill="#0000ff" opacity="0.27"/><rect x="279.7" y="900.0" width="1.9" height="12.0" fill="#0000e0" opacity="0.78"/><rect x="283.0" y="900.0" width="1.9" height="12.0" fill="#000" opacity="0.66"/><rect x="286.6" y="900.0" width="1.3" height="12.0" fill="#0000ff" opacity="0.67"/><rect x="288.0" y="900.0" width="1.8" height="12.0" fill="#0000e0" opacity="0.79"/><rect x="290.5" y="900.0" width="1.3" height="12.0" fill="#0000e0" opacity="0.76"/><rect x="293.9" y="900.0" width="2.2" height="12.0" fill="#0000e0" opacity="0.44"/><rect x="297.6" y="900.0" width="1.4" height="12.0" fill="#0000ff" opacity="0.37"/><rect x="301.3" y="900.0" width="1.4" height="12.0" fill="#0000e0" opacity="0.66"/><rect x="304.1" y="900.0" width="1.1" height="12.0" fill="#0000ff" opacity="0.37"/><rect x="305.4" y="900.0" width="1.9" height="12.0" fill="#0000ff" opacity="0.73"/><rect x="309.7" y="900.0" width="1.8" height="12.0" fill="#0000ff" opacity="0.37"/><rect x="311.6" y="900.0" width="2.0" height="12.0" fill="#0000ff" opacity="0.55"/><rect x="315.3" y="900.0" width="1.7" height="12.0" fill="#0000e0" opacity="0.50"/><rect x="318.5" y="900.0" width="1.1" height="12.0" fill="#000" opacity="0.65"/><rect x="320.7" y="900.0" width="2.0" height="12.0" fill="#0000e0" opacity="0.55"/><rect x="324.1" y="900.0" width="1.2" height="12.0" fill="#000" opacity="0.63"/><rect x="326.5" y="900.0" width="1.7" height="12.0" fill="#1800ff" opacity="0.66"/><rect x="330.7" y="900.0" width="2.3" height="12.0" fill="#0000e0" opacity="0.72"/><rect x="335.0" y="900.0" width="1.3" height="12.0" fill="#0000ff" opacity="0.68"/><rect x="337.0" y="900.0" width="2.2" height="12.0" fill="#0000e0" opacity="0.38"/><rect x="341.6" y="900.0" width="2.2" height="12.0" fill="#000" opacity="0.61"/><rect x="345.8" y="900.0" width="2.1" height="12.0" fill="#0000ff" opacity="0.60"/><rect x="350.1" y="900.0" width="1.7" height="12.0" fill="#0000ff" opacity="0.46"/><rect x="354.1" y="900.0" width="2.4" height="12.0" fill="#1800ff" opacity="0.38"/><rect x="357.1" y="900.0" width="2.0" height="12.0" fill="#0000ff" opacity="0.76"/><rect x="361.3" y="900.0" width="2.2" height="12.0" fill="#0000ff" opacity="0.79"/><rect x="361.5" y="906.0" width="1.8" height="4.8" fill="#ff56a9" opacity="0.71"/><rect x="364.4" y="900.0" width="2.1" height="12.0" fill="#0000e0" opacity="0.58"/><rect x="368.8" y="900.0" width="1.7" height="12.0" fill="#1800ff" opacity="0.27"/><rect x="371.2" y="900.0" width="1.6" height="12.0" fill="#000" opacity="0.31"/><rect x="374.1" y="900.0" width="1.7" height="12.0" fill="#0000ff" opacity="0.47"/><rect x="376.4" y="900.0" width="1.6" height="12.0" fill="#000" opacity="0.40"/><rect x="379.8" y="900.0" width="1.1" height="12.0" fill="#1800ff" opacity="0.59"/><rect x="382.8" y="900.0" width="2.2" height="12.0" fill="#1800ff" opacity="0.35"/><rect x="386.2" y="900.0" width="1.6" height="12.0" fill="#0000ff" opacity="0.26"/><rect x="389.4" y="900.0" width="1.7" height="12.0" fill="#0000e0" opacity="0.41"/><rect x="393.1" y="900.0" width="2.2" height="12.0" fill="#0000ff" opacity="0.77"/><rect x="395.5" y="900.0" width="1.1" height="12.0" fill="#0000e0" opacity="0.68"/><rect x="397.7" y="900.0" width="1.9" height="12.0" fill="#1800ff" opacity="0.71"/><rect x="400.0" y="900.0" width="2.3" height="12.0" fill="#0000ff" opacity="0.75"/><rect x="403.5" y="900.0" width="1.5" height="12.0" fill="#1800ff" opacity="0.55"/><rect x="405.9" y="900.0" width="1.4" height="12.0" fill="#0000ff" opacity="0.45"/><rect x="408.2" y="900.0" width="2.2" height="12.0" fill="#0000ff" opacity="0.44"/><rect x="412.4" y="900.0" width="2.1" height="12.0" fill="#0000ff" opacity="0.26"/><rect x="416.8" y="900.0" width="1.3" height="12.0" fill="#0000e0" opacity="0.28"/><rect x="418.2" y="900.0" width="1.8" height="12.0" fill="#0000ff" opacity="0.52"/><rect x="418.4" y="906.0" width="1.4" height="4.8" fill="#ff56a9" opacity="0.96"/><rect x="420.4" y="900.0" width="1.2" height="12.0" fill="#0000e0" opacity="0.50"/><rect x="422.6" y="900.0" width="1.9" height="12.0" fill="#0000ff" opacity="0.42"/><rect x="425.9" y="900.0" width="1.6" height="12.0" fill="#0000ff" opacity="0.33"/><rect x="428.0" y="900.0" width="1.5" height="12.0" fill="#0000ff" opacity="0.60"/><rect x="430.6" y="900.0" width="2.0" height="12.0" fill="#1800ff" opacity="0.45"/><rect x="435.0" y="900.0" width="2.1" height="12.0" fill="#0000e0" opacity="0.51"/><rect x="438.7" y="900.0" width="1.2" height="12.0" fill="#1800ff" opacity="0.48"/><rect x="440.6" y="900.0" width="1.9" height="12.0" fill="#000" opacity="0.38"/><rect x="443.2" y="900.0" width="2.0" height="12.0" fill="#0000e0" opacity="0.68"/><rect x="445.5" y="900.0" width="1.7" height="12.0" fill="#0000ff" opacity="0.71"/><rect x="447.9" y="900.0" width="1.2" height="12.0" fill="#0000e0" opacity="0.26"/><rect x="451.5" y="900.0" width="1.5" height="12.0" fill="#0000ff" opacity="0.67"/><rect x="453.5" y="900.0" width="2.4" height="12.0" fill="#0000ff" opacity="0.27"/><rect x="457.1" y="900.0" width="1.6" height="12.0" fill="#0000ff" opacity="0.28"/><rect x="459.2" y="900.0" width="2.1" height="12.0" fill="#0000e0" opacity="0.36"/><rect x="463.3" y="900.0" width="2.4" height="12.0" fill="#0000ff" opacity="0.32"/><rect x="468.1" y="900.0" width="2.1" height="12.0" fill="#0000e0" opacity="0.67"/><rect x="471.2" y="900.0" width="1.8" height="12.0" fill="#0000ff" opacity="0.34"/><rect x="473.3" y="900.0" width="1.5" height="12.0" fill="#1800ff" opacity="0.51"/><rect x="476.2" y="900.0" width="2.2" height="12.0" fill="#0000e0" opacity="0.40"/><rect x="480.7" y="900.0" width="1.4" height="12.0" fill="#0000e0" opacity="0.66"/><rect x="484.0" y="900.0" width="1.4" height="12.0" fill="#0000ff" opacity="0.78"/><rect x="486.8" y="900.0" width="2.1" height="12.0" fill="#0000e0" opacity="0.71"/><rect x="489.3" y="900.0" width="1.3" height="12.0" fill="#0000ff" opacity="0.50"/><rect x="492.0" y="900.0" width="2.1" height="12.0" fill="#000" opacity="0.38"/><rect x="494.4" y="900.0" width="1.7" height="12.0" fill="#0000ff" opacity="0.73"/><rect x="497.4" y="900.0" width="1.8" height="12.0" fill="#0000e0" opacity="0.28"/><rect x="501.1" y="900.0" width="1.5" height="12.0" fill="#1800ff" opacity="0.50"/><rect x="503.4" y="900.0" width="1.5" height="12.0" fill="#000" opacity="0.52"/><rect x="504.9" y="900.0" width="1.2" height="12.0" fill="#0000e0" opacity="0.40"/><rect x="507.3" y="900.0" width="1.7" height="12.0" fill="#0000ff" opacity="0.79"/><rect x="509.8" y="900.0" width="2.0" height="12.0" fill="#0000e0" opacity="0.40"/><rect x="513.7" y="900.0" width="1.4" height="12.0" fill="#0000ff" opacity="0.31"/><rect x="513.9" y="906.0" width="1.1" height="4.8" fill="#b028e8" opacity="0.68"/><rect x="515.6" y="900.0" width="2.3" height="12.0" fill="#1800ff" opacity="0.60"/><rect x="518.1" y="900.0" width="1.1" height="12.0" fill="#0000ff" opacity="0.26"/><rect x="520.6" y="900.0" width="1.9" height="12.0" fill="#0000e0" opacity="0.70"/><rect x="524.4" y="900.0" width="1.7" height="12.0" fill="#000" opacity="0.63"/><rect x="526.2" y="900.0" width="1.2" height="12.0" fill="#1800ff" opacity="0.44"/><rect x="527.8" y="900.0" width="1.7" height="12.0" fill="#0000e0" opacity="0.43"/><rect x="531.3" y="900.0" width="1.7" height="12.0" fill="#0000ff" opacity="0.65"/><rect x="534.8" y="900.0" width="1.3" height="12.0" fill="#0000ff" opacity="0.66"/><rect x="537.5" y="900.0" width="1.0" height="12.0" fill="#0000e0" opacity="0.42"/><rect x="540.6" y="900.0" width="1.8" height="12.0" fill="#0000e0" opacity="0.72"/><rect x="544.0" y="900.0" width="1.8" height="12.0" fill="#0000ff" opacity="0.40"/><rect x="547.2" y="900.0" width="2.4" height="12.0" fill="#0000e0" opacity="0.59"/><rect x="550.4" y="900.0" width="2.1" height="12.0" fill="#0000ff" opacity="0.71"/><rect x="553.6" y="900.0" width="1.4" height="12.0" fill="#0000e0" opacity="0.43"/><rect x="557.2" y="900.0" width="2.2" height="12.0" fill="#0000ff" opacity="0.34"/><rect x="559.7" y="900.0" width="1.6" height="12.0" fill="#0000ff" opacity="0.52"/><rect x="561.8" y="900.0" width="2.1" height="12.0" fill="#1800ff" opacity="0.66"/><rect x="565.0" y="900.0" width="1.2" height="12.0" fill="#0000e0" opacity="0.64"/><rect x="566.7" y="900.0" width="1.2" height="12.0" fill="#0000ff" opacity="0.55"/><rect x="570.1" y="900.0" width="1.3" height="12.0" fill="#0000e0" opacity="0.44"/><rect x="572.6" y="900.0" width="2.0" height="12.0" fill="#0000e0" opacity="0.58"/><rect x="575.6" y="900.0" width="1.3" height="12.0" fill="#0000ff" opacity="0.44"/><rect x="578.3" y="900.0" width="2.2" height="12.0" fill="#000" opacity="0.63"/><rect x="582.3" y="900.0" width="1.9" height="12.0" fill="#0000ff" opacity="0.80"/><rect x="586.5" y="900.0" width="2.0" height="12.0" fill="#0000e0" opacity="0.57"/><rect x="589.5" y="900.0" width="1.3" height="12.0" fill="#1800ff" opacity="0.57"/><rect x="593.2" y="900.0" width="2.3" height="12.0" fill="#0000ff" opacity="0.68"/><rect x="597.9" y="900.0" width="1.8" height="12.0" fill="#1800ff" opacity="0.43"/><rect x="600.8" y="900.0" width="1.1" height="12.0" fill="#1800ff" opacity="0.52"/><rect x="602.8" y="900.0" width="2.0" height="12.0" fill="#0000ff" opacity="0.51"/><rect x="606.8" y="900.0" width="1.8" height="12.0" fill="#000" opacity="0.56"/><rect x="608.9" y="900.0" width="1.8" height="12.0" fill="#0000ff" opacity="0.69"/><rect x="612.5" y="900.0" width="2.0" height="12.0" fill="#0000ff" opacity="0.28"/><rect x="617.0" y="900.0" width="2.3" height="12.0" fill="#0000ff" opacity="0.38"/><rect x="619.7" y="900.0" width="1.0" height="12.0" fill="#0000e0" opacity="0.37"/><rect x="623.1" y="900.0" width="2.1" height="12.0" fill="#000" opacity="0.49"/><rect x="627.1" y="900.0" width="1.2" height="12.0" fill="#0000ff" opacity="0.59"/><rect x="629.6" y="900.0" width="1.3" height="12.0" fill="#000" opacity="0.36"/><rect x="632.2" y="900.0" width="1.2" height="12.0" fill="#1800ff" opacity="0.77"/><rect x="634.3" y="900.0" width="2.1" height="12.0" fill="#0000e0" opacity="0.62"/><rect x="638.4" y="900.0" width="1.4" height="12.0" fill="#0000ff" opacity="0.29"/><rect x="641.0" y="900.0" width="2.0" height="12.0" fill="#000" opacity="0.58"/><rect x="643.4" y="900.0" width="2.1" height="12.0" fill="#0000ff" opacity="0.59"/><rect x="646.9" y="900.0" width="2.2" height="12.0" fill="#0000e0" opacity="0.58"/><rect x="650.5" y="900.0" width="1.7" height="12.0" fill="#1800ff" opacity="0.47"/><rect x="653.7" y="900.0" width="2.0" height="12.0" fill="#0000e0" opacity="0.56"/><rect x="657.7" y="900.0" width="2.0" height="12.0" fill="#0000e0" opacity="0.31"/><rect x="662.0" y="900.0" width="1.1" height="12.0" fill="#000" opacity="0.31"/><rect x="663.6" y="900.0" width="2.3" height="12.0" fill="#0000ff" opacity="0.52"/><rect x="667.5" y="900.0" width="1.1" height="12.0" fill="#000" opacity="0.46"/><rect x="670.1" y="900.0" width="1.8" height="12.0" fill="#0000ff" opacity="0.46"/><rect x="673.8" y="900.0" width="1.6" height="12.0" fill="#0000ff" opacity="0.26"/><rect x="676.8" y="900.0" width="2.3" height="12.0" fill="#0000e0" opacity="0.55"/><rect x="680.9" y="900.0" width="1.9" height="12.0" fill="#000" opacity="0.50"/><rect x="684.8" y="900.0" width="2.0" height="12.0" fill="#000" opacity="0.33"/><rect x="688.9" y="900.0" width="1.5" height="12.0" fill="#0000ff" opacity="0.34"/><rect x="691.1" y="900.0" width="2.4" height="12.0" fill="#1800ff" opacity="0.45"/><rect x="695.0" y="900.0" width="2.3" height="12.0" fill="#0000ff" opacity="0.71"/><rect x="695.2" y="906.0" width="1.8" height="4.8" fill="#9010ff" opacity="0.68"/><rect x="698.5" y="900.0" width="2.0" height="12.0" fill="#1800ff" opacity="0.56"/><rect x="702.0" y="900.0" width="2.1" height="12.0" fill="#0000ff" opacity="0.66"/><rect x="704.6" y="900.0" width="2.3" height="12.0" fill="#1800ff" opacity="0.65"/><rect x="707.8" y="900.0" width="1.9" height="12.0" fill="#000" opacity="0.45"/><rect x="709.9" y="900.0" width="1.9" height="12.0" fill="#0000e0" opacity="0.41"/><rect x="712.4" y="900.0" width="1.4" height="12.0" fill="#1800ff" opacity="0.64"/><rect x="714.1" y="900.0" width="1.1" height="12.0" fill="#0000e0" opacity="0.59"/><rect x="716.6" y="900.0" width="2.2" height="12.0" fill="#0000e0" opacity="0.53"/><rect x="720.0" y="900.0" width="2.1" height="12.0" fill="#0000e0" opacity="0.58"/><rect x="724.5" y="900.0" width="1.9" height="12.0" fill="#0000ff" opacity="0.25"/><rect x="727.9" y="900.0" width="1.7" height="12.0" fill="#0000e0" opacity="0.36"/><rect x="731.1" y="900.0" width="2.1" height="12.0" fill="#1800ff" opacity="0.32"/><rect x="733.7" y="900.0" width="2.3" height="12.0" fill="#0000ff" opacity="0.52"/><rect x="737.6" y="900.0" width="2.0" height="12.0" fill="#0000e0" opacity="0.42"/><rect x="739.8" y="900.0" width="1.9" height="12.0" fill="#000" opacity="0.57"/><rect x="743.0" y="900.0" width="1.4" height="12.0" fill="#0000e0" opacity="0.52"/><rect x="744.8" y="900.0" width="1.3" height="12.0" fill="#1800ff" opacity="0.52"/><rect x="746.8" y="900.0" width="1.5" height="12.0" fill="#0000e0" opacity="0.66"/><rect x="749.4" y="900.0" width="1.9" height="12.0" fill="#1800ff" opacity="0.42"/><rect x="752.7" y="900.0" width="1.1" height="12.0" fill="#1800ff" opacity="0.35"/><rect x="754.7" y="900.0" width="1.4" height="12.0" fill="#000" opacity="0.48"/><rect x="758.6" y="900.0" width="1.6" height="12.0" fill="#1800ff" opacity="0.48"/><rect x="762.6" y="900.0" width="1.6" height="12.0" fill="#000" opacity="0.46"/><rect x="765.4" y="900.0" width="1.3" height="12.0" fill="#0000ff" opacity="0.60"/><rect x="767.2" y="900.0" width="1.2" height="12.0" fill="#0000e0" opacity="0.73"/><rect x="770.0" y="900.0" width="1.6" height="12.0" fill="#1800ff" opacity="0.46"/><rect x="774.0" y="900.0" width="1.5" height="12.0" fill="#0000e0" opacity="0.52"/><rect x="776.0" y="900.0" width="1.5" height="12.0" fill="#000" opacity="0.33"/><rect x="779.7" y="900.0" width="2.2" height="12.0" fill="#1800ff" opacity="0.37"/><rect x="783.6" y="900.0" width="1.6" height="12.0" fill="#1800ff" opacity="0.66"/><rect x="787.7" y="900.0" width="2.4" height="12.0" fill="#1800ff" opacity="0.58"/><rect x="791.3" y="900.0" width="1.4" height="12.0" fill="#0000ff" opacity="0.33"/><rect x="794.2" y="900.0" width="1.3" height="12.0" fill="#0000e0" opacity="0.31"/><rect x="796.4" y="900.0" width="1.5" height="12.0" fill="#0000e0" opacity="0.30"/><rect x="800.0" y="900.0" width="1.7" height="12.0" fill="#0000e0" opacity="0.52"/><rect x="800.2" y="906.0" width="1.3" height="4.8" fill="#ff56a9" opacity="0.98"/><rect x="803.6" y="900.0" width="1.6" height="12.0" fill="#0000e0" opacity="0.29"/><rect x="806.4" y="900.0" width="1.2" height="12.0" fill="#1800ff" opacity="0.57"/><rect x="808.6" y="900.0" width="1.4" height="12.0" fill="#1800ff" opacity="0.37"/><rect x="810.9" y="900.0" width="2.0" height="12.0" fill="#0000ff" opacity="0.76"/><rect x="814.8" y="900.0" width="1.9" height="12.0" fill="#000" opacity="0.44"/><rect x="817.5" y="900.0" width="1.3" height="12.0" fill="#0000ff" opacity="0.30"/><rect x="819.4" y="900.0" width="2.1" height="12.0" fill="#0000e0" opacity="0.33"/><rect x="823.9" y="900.0" width="1.8" height="12.0" fill="#0000e0" opacity="0.54"/><rect x="826.9" y="900.0" width="2.3" height="12.0" fill="#1800ff" opacity="0.71"/><rect x="830.7" y="900.0" width="1.9" height="12.0" fill="#0000ff" opacity="0.77"/><rect x="833.6" y="900.0" width="1.3" height="12.0" fill="#1800ff" opacity="0.43"/><rect x="837.2" y="900.0" width="1.8" height="12.0" fill="#000" opacity="0.36"/><rect x="839.3" y="900.0" width="1.1" height="12.0" fill="#000" opacity="0.40"/><rect x="840.9" y="900.0" width="1.8" height="12.0" fill="#0000e0" opacity="0.39"/><rect x="844.7" y="900.0" width="2.3" height="12.0" fill="#0000ff" opacity="0.60"/><rect x="847.9" y="900.0" width="1.0" height="12.0" fill="#0000e0" opacity="0.36"/><rect x="849.1" y="900.0" width="1.2" height="12.0" fill="#0000ff" opacity="0.69"/><rect x="852.2" y="900.0" width="1.7" height="12.0" fill="#1800ff" opacity="0.37"/><rect x="854.8" y="900.0" width="2.2" height="12.0" fill="#0000ff" opacity="0.60"/><rect x="858.3" y="900.0" width="2.2" height="12.0" fill="#1800ff" opacity="0.29"/><rect x="861.1" y="900.0" width="2.1" height="12.0" fill="#1800ff" opacity="0.55"/><rect x="864.7" y="900.0" width="1.9" height="12.0" fill="#1800ff" opacity="0.58"/><rect x="867.5" y="900.0" width="1.3" height="12.0" fill="#0000e0" opacity="0.31"/><rect x="870.9" y="900.0" width="1.1" height="12.0" fill="#1800ff" opacity="0.54"/><rect x="872.3" y="900.0" width="1.2" height="12.0" fill="#1800ff" opacity="0.56"/><rect x="875.9" y="900.0" width="1.5" height="12.0" fill="#0000ff" opacity="0.67"/><rect x="877.8" y="900.0" width="2.4" height="12.0" fill="#0000ff" opacity="0.70"/><rect x="882.4" y="900.0" width="1.6" height="12.0" fill="#0000e0" opacity="0.50"/><rect x="885.4" y="900.0" width="1.1" height="12.0" fill="#0000e0" opacity="0.40"/><rect x="888.0" y="900.0" width="1.8" height="12.0" fill="#0000ff" opacity="0.31"/><rect x="890.6" y="900.0" width="1.5" height="12.0" fill="#0000e0" opacity="0.46"/><rect x="893.6" y="900.0" width="1.1" height="12.0" fill="#1800ff" opacity="0.49"/><rect x="895.3" y="900.0" width="2.3" height="12.0" fill="#0000e0" opacity="0.33"/><rect x="899.9" y="900.0" width="1.7" height="12.0" fill="#0000ff" opacity="0.37"/><rect x="902.3" y="900.0" width="2.3" height="12.0" fill="#1800ff" opacity="0.55"/><rect x="906.7" y="900.0" width="2.2" height="12.0" fill="#0000ff" opacity="0.44"/><rect x="911.0" y="900.0" width="1.6" height="12.0" fill="#0000e0" opacity="0.37"/><rect x="914.8" y="900.0" width="1.3" height="12.0" fill="#1800ff" opacity="0.80"/><rect x="918.5" y="900.0" width="2.2" height="12.0" fill="#0000ff" opacity="0.54"/><rect x="923.1" y="900.0" width="1.3" height="12.0" fill="#0000e0" opacity="0.54"/><rect x="926.2" y="900.0" width="1.7" height="12.0" fill="#000" opacity="0.68"/><rect x="928.7" y="900.0" width="1.2" height="12.0" fill="#1800ff" opacity="0.54"/><rect x="930.6" y="900.0" width="1.5" height="12.0" fill="#0000ff" opacity="0.72"/><rect x="933.9" y="900.0" width="1.3" height="12.0" fill="#1800ff" opacity="0.45"/><rect x="935.9" y="900.0" width="1.5" height="12.0" fill="#0000ff" opacity="0.42"/><rect x="938.9" y="900.0" width="1.9" height="12.0" fill="#0000ff" opacity="0.26"/><rect x="942.7" y="900.0" width="1.3" height="12.0" fill="#000" opacity="0.33"/><rect x="946.2" y="900.0" width="1.1" height="12.0" fill="#0000e0" opacity="0.31"/><rect x="947.7" y="900.0" width="2.2" height="12.0" fill="#0000e0" opacity="0.31"/><rect x="951.1" y="900.0" width="1.6" height="12.0" fill="#1800ff" opacity="0.31"/><rect x="954.7" y="900.0" width="1.5" height="12.0" fill="#000" opacity="0.31"/><rect x="957.0" y="900.0" width="1.1" height="12.0" fill="#0000e0" opacity="0.32"/><rect x="960.1" y="900.0" width="1.7" height="12.0" fill="#0000e0" opacity="0.69"/><rect x="962.6" y="900.0" width="1.8" height="12.0" fill="#1800ff" opacity="0.72"/><rect x="965.9" y="900.0" width="2.0" height="12.0" fill="#1800ff" opacity="0.34"/><rect x="968.9" y="900.0" width="2.4" height="12.0" fill="#0000ff" opacity="0.41"/><rect x="973.5" y="900.0" width="2.4" height="12.0" fill="#0000e0" opacity="0.26"/><rect x="978.3" y="900.0" width="1.2" height="12.0" fill="#1800ff" opacity="0.54"/><rect x="979.9" y="900.0" width="2.3" height="12.0" fill="#1800ff" opacity="0.46"/><rect x="983.5" y="900.0" width="1.1" height="12.0" fill="#000" opacity="0.54"/><rect x="985.5" y="900.0" width="2.2" height="12.0" fill="#0000e0" opacity="0.65"/><rect x="988.3" y="900.0" width="1.3" height="12.0" fill="#000" opacity="0.65"/><rect x="990.9" y="900.0" width="2.2" height="12.0" fill="#0000e0" opacity="0.37"/><rect x="995.1" y="900.0" width="1.3" height="12.0" fill="#000" opacity="0.53"/><rect x="998.7" y="900.0" width="1.1" height="12.0" fill="#0000e0" opacity="0.75"/><rect x="1000.5" y="900.0" width="1.4" height="12.0" fill="#1800ff" opacity="0.79"/><rect x="1003.4" y="900.0" width="2.1" height="12.0" fill="#000" opacity="0.69"/><rect x="1006.5" y="900.0" width="1.6" height="12.0" fill="#000" opacity="0.33"/><rect x="1010.4" y="900.0" width="1.3" height="12.0" fill="#0000e0" opacity="0.67"/><rect x="1013.6" y="900.0" width="1.8" height="12.0" fill="#1800ff" opacity="0.45"/><rect x="1017.1" y="900.0" width="1.2" height="12.0" fill="#0000e0" opacity="0.45"/><rect x="1019.9" y="900.0" width="1.4" height="12.0" fill="#1800ff" opacity="0.76"/><rect x="1022.9" y="900.0" width="2.4" height="12.0" fill="#1800ff" opacity="0.68"/><rect x="1027.4" y="900.0" width="2.1" height="12.0" fill="#0000e0" opacity="0.48"/><rect x="1030.5" y="900.0" width="2.1" height="12.0" fill="#1800ff" opacity="0.54"/><rect x="1033.8" y="900.0" width="1.2" height="12.0" fill="#0000e0" opacity="0.79"/><rect x="1036.6" y="900.0" width="1.3" height="12.0" fill="#0000ff" opacity="0.59"/><rect x="1037.9" y="900.0" width="1.4" height="12.0" fill="#0000e0" opacity="0.44"/><rect x="1040.1" y="900.0" width="2.0" height="12.0" fill="#0000ff" opacity="0.28"/><rect x="1042.7" y="900.0" width="2.0" height="12.0" fill="#0000ff" opacity="0.47"/><rect x="1046.1" y="900.0" width="1.8" height="12.0" fill="#1800ff" opacity="0.55"/><rect x="1049.5" y="900.0" width="2.0" height="12.0" fill="#000" opacity="0.66"/><rect x="1053.5" y="900.0" width="2.0" height="12.0" fill="#000" opacity="0.42"/><rect x="1056.1" y="900.0" width="2.2" height="12.0" fill="#1800ff" opacity="0.31"/><rect x="1060.3" y="900.0" width="1.6" height="12.0" fill="#1800ff" opacity="0.45"/><rect x="1063.1" y="900.0" width="1.3" height="12.0" fill="#0000ff" opacity="0.74"/><rect x="1066.1" y="900.0" width="1.9" height="12.0" fill="#0000ff" opacity="0.58"/><rect x="1069.4" y="900.0" width="1.5" height="12.0" fill="#0000e0" opacity="0.73"/><rect x="1071.2" y="900.0" width="2.3" height="12.0" fill="#0000e0" opacity="0.42"/><rect x="1075.6" y="900.0" width="1.8" height="12.0" fill="#1800ff" opacity="0.79"/><rect x="1078.2" y="900.0" width="1.3" height="12.0" fill="#0000e0" opacity="0.59"/><rect x="1079.5" y="900.0" width="1.9" height="12.0" fill="#0000ff" opacity="0.71"/><rect x="1082.0" y="900.0" width="2.2" height="12.0" fill="#0000ff" opacity="0.71"/><rect x="1084.7" y="900.0" width="1.8" height="12.0" fill="#1800ff" opacity="0.36"/><rect x="1087.6" y="900.0" width="1.4" height="12.0" fill="#0000ff" opacity="0.56"/><rect x="1087.7" y="906.0" width="1.1" height="4.8" fill="#9010ff" opacity="0.71"/><rect x="1090.0" y="900.0" width="2.3" height="12.0" fill="#000" opacity="0.49"/><rect x="1094.7" y="900.0" width="1.5" height="12.0" fill="#0000ff" opacity="0.71"/><rect x="1097.2" y="900.0" width="2.0" height="12.0" fill="#1800ff" opacity="0.58"/><rect x="1101.1" y="900.0" width="2.3" height="12.0" fill="#0000ff" opacity="0.67"/><rect x="1105.2" y="900.0" width="1.7" height="12.0" fill="#1800ff" opacity="0.48"/><rect x="1106.9" y="900.0" width="2.2" height="12.0" fill="#0000ff" opacity="0.61"/><rect x="1110.2" y="900.0" width="1.6" height="12.0" fill="#0000ff" opacity="0.40"/><rect x="1113.2" y="900.0" width="2.1" height="12.0" fill="#0000e0" opacity="0.44"/><rect x="1116.3" y="900.0" width="2.2" height="12.0" fill="#1800ff" opacity="0.72"/><rect x="1121.0" y="900.0" width="1.6" height="12.0" fill="#0000ff" opacity="0.76"/><rect x="1125.1" y="900.0" width="2.0" height="12.0" fill="#000" opacity="0.37"/><rect x="1129.1" y="900.0" width="2.3" height="12.0" fill="#000" opacity="0.55"/><rect x="1133.5" y="900.0" width="1.9" height="12.0" fill="#0000ff" opacity="0.35"/><rect x="1137.7" y="900.0" width="1.3" height="12.0" fill="#0000ff" opacity="0.46"/><rect x="1139.6" y="900.0" width="1.7" height="12.0" fill="#000" opacity="0.55"/><rect x="1141.7" y="900.0" width="1.6" height="12.0" fill="#000" opacity="0.69"/><rect x="1144.8" y="900.0" width="1.5" height="12.0" fill="#0000ff" opacity="0.52"/><rect x="1146.4" y="900.0" width="1.5" height="12.0" fill="#1800ff" opacity="0.36"/><rect x="1149.2" y="900.0" width="1.3" height="12.0" fill="#000" opacity="0.34"/><rect x="1151.7" y="900.0" width="1.6" height="12.0" fill="#0000e0" opacity="0.66"/><rect x="1155.1" y="900.0" width="1.5" height="12.0" fill="#1800ff" opacity="0.44"/><rect x="1158.9" y="900.0" width="1.7" height="12.0" fill="#1800ff" opacity="0.67"/><rect x="1161.4" y="900.0" width="1.7" height="12.0" fill="#1800ff" opacity="0.66"/><rect x="1164.1" y="900.0" width="2.1" height="12.0" fill="#1800ff" opacity="0.77"/><rect x="1168.4" y="900.0" width="1.8" height="12.0" fill="#000" opacity="0.57"/><rect x="1170.8" y="900.0" width="2.1" height="12.0" fill="#1800ff" opacity="0.72"/><rect x="1173.2" y="900.0" width="2.2" height="12.0" fill="#0000ff" opacity="0.71"/><rect x="1176.1" y="900.0" width="1.8" height="12.0" fill="#1800ff" opacity="0.29"/><rect x="1178.1" y="900.0" width="1.3" height="12.0" fill="#0000ff" opacity="0.27"/><rect x="1180.2" y="900.0" width="2.1" height="12.0" fill="#0000ff" opacity="0.76"/><rect x="1182.5" y="900.0" width="1.6" height="12.0" fill="#000" opacity="0.48"/><rect x="1184.8" y="900.0" width="1.7" height="12.0" fill="#0000e0" opacity="0.46"/><rect x="1188.7" y="900.0" width="2.4" height="12.0" fill="#1800ff" opacity="0.74"/><rect x="1188.9" y="906.0" width="1.9" height="4.8" fill="#b028e8" opacity="0.73"/><rect x="1191.1" y="900.0" width="1.9" height="12.0" fill="#0000e0" opacity="0.69"/><rect x="1195.0" y="900.0" width="2.2" height="12.0" fill="#1800ff" opacity="0.40"/><rect x="1199.5" y="900.0" width="1.3" height="12.0" fill="#0000e0" opacity="0.65"/><rect x="1202.7" y="900.0" width="1.6" height="12.0" fill="#000" opacity="0.40"/><rect x="1205.8" y="900.0" width="1.2" height="12.0" fill="#1800ff" opacity="0.67"/><rect x="1207.1" y="900.0" width="1.4" height="12.0" fill="#000" opacity="0.31"/><rect x="1210.1" y="900.0" width="2.0" height="12.0" fill="#0000ff" opacity="0.64"/><rect x="1212.7" y="900.0" width="1.0" height="12.0" fill="#1800ff" opacity="0.78"/><rect x="1214.4" y="900.0" width="1.3" height="12.0" fill="#0000e0" opacity="0.65"/><rect x="1216.9" y="900.0" width="1.6" height="12.0" fill="#000" opacity="0.56"/><rect x="1219.7" y="900.0" width="1.8" height="12.0" fill="#0000ff" opacity="0.48"/><rect x="1222.2" y="900.0" width="1.1" height="12.0" fill="#1800ff" opacity="0.50"/><rect x="1225.1" y="900.0" width="1.1" height="12.0" fill="#1800ff" opacity="0.58"/><rect x="1226.4" y="900.0" width="1.8" height="12.0" fill="#1800ff" opacity="0.65"/><rect x="1228.9" y="900.0" width="1.1" height="12.0" fill="#1800ff" opacity="0.73"/><rect x="1230.6" y="900.0" width="1.3" height="12.0" fill="#0000ff" opacity="0.73"/><rect x="1233.4" y="900.0" width="1.5" height="12.0" fill="#0000ff" opacity="0.74"/><rect x="1233.6" y="906.0" width="1.2" height="4.8" fill="#b028e8" opacity="0.84"/><rect x="1235.6" y="900.0" width="1.4" height="12.0" fill="#0000ff" opacity="0.67"/><rect x="1237.4" y="900.0" width="2.3" height="12.0" fill="#0000ff" opacity="0.60"/><rect x="1241.6" y="900.0" width="1.5" height="12.0" fill="#1800ff" opacity="0.34"/><rect x="1245.3" y="900.0" width="1.8" height="12.0" fill="#0000e0" opacity="0.39"/><rect x="1248.3" y="900.0" width="1.7" height="12.0" fill="#1800ff" opacity="0.43"/><rect x="1251.8" y="900.0" width="1.3" height="12.0" fill="#1800ff" opacity="0.62"/><rect x="1255.1" y="900.0" width="2.3" height="12.0" fill="#0000ff" opacity="0.66"/><rect x="1255.3" y="906.0" width="1.8" height="4.8" fill="#9010ff" opacity="0.81"/><rect x="1258.7" y="900.0" width="2.2" height="12.0" fill="#000" opacity="0.50"/><rect x="1263.3" y="900.0" width="1.3" height="12.0" fill="#1800ff" opacity="0.29"/><rect x="1265.4" y="900.0" width="1.5" height="12.0" fill="#1800ff" opacity="0.79"/><rect x="1269.1" y="900.0" width="1.6" height="12.0" fill="#0000ff" opacity="0.77"/><rect x="1271.8" y="900.0" width="1.4" height="12.0" fill="#0000ff" opacity="0.27"/><rect x="1273.8" y="900.0" width="1.8" height="12.0" fill="#000" opacity="0.35"/><rect x="1278.0" y="900.0" width="2.1" height="12.0" fill="#1800ff" opacity="0.52"/><rect x="1281.0" y="900.0" width="1.4" height="12.0" fill="#1800ff" opacity="0.66"/><rect x="1284.5" y="900.0" width="2.4" height="12.0" fill="#0000e0" opacity="0.34"/><rect x="1288.5" y="900.0" width="2.1" height="12.0" fill="#1800ff" opacity="0.57"/><rect x="1292.3" y="900.0" width="2.2" height="12.0" fill="#000" opacity="0.50"/><rect x="1296.9" y="900.0" width="1.5" height="12.0" fill="#1800ff" opacity="0.38"/><rect x="1298.9" y="900.0" width="1.6" height="12.0" fill="#0000ff" opacity="0.40"/><rect x="1302.6" y="900.0" width="1.1" height="12.0" fill="#1800ff" opacity="0.44"/><rect x="1303.7" y="900.0" width="1.4" height="12.0" fill="#000" opacity="0.57"/><rect x="1306.4" y="900.0" width="1.8" height="12.0" fill="#000" opacity="0.34"/><rect x="1310.1" y="900.0" width="1.9" height="12.0" fill="#1800ff" opacity="0.37"/><rect x="1312.3" y="900.0" width="1.1" height="12.0" fill="#0000e0" opacity="0.68"/><rect x="1314.5" y="900.0" width="1.1" height="12.0" fill="#0000e0" opacity="0.76"/><rect x="1314.7" y="906.0" width="0.9" height="4.8" fill="#b028e8" opacity="0.86"/><rect x="1316.9" y="900.0" width="1.9" height="12.0" fill="#000" opacity="0.35"/><rect x="1320.6" y="900.0" width="1.3" height="12.0" fill="#000" opacity="0.47"/><rect x="1323.4" y="900.0" width="1.5" height="12.0" fill="#0000e0" opacity="0.78"/><rect x="1325.6" y="900.0" width="2.4" height="12.0" fill="#0000e0" opacity="0.50"/><rect x="1328.7" y="900.0" width="2.2" height="12.0" fill="#000" opacity="0.41"/><rect x="1332.7" y="900.0" width="2.1" height="12.0" fill="#0000e0" opacity="0.51"/><rect x="1337.3" y="900.0" width="2.2" height="12.0" fill="#1800ff" opacity="0.46"/><rect x="1340.6" y="900.0" width="1.2" height="12.0" fill="#1800ff" opacity="0.33"/><rect x="1343.1" y="900.0" width="2.3" height="12.0" fill="#1800ff" opacity="0.32"/><rect x="1346.2" y="900.0" width="1.7" height="12.0" fill="#0000ff" opacity="0.64"/><rect x="1348.8" y="900.0" width="1.2" height="12.0" fill="#0000ff" opacity="0.75"/><rect x="1352.2" y="900.0" width="1.5" height="12.0" fill="#000" opacity="0.62"/><rect x="1355.0" y="900.0" width="2.3" height="12.0" fill="#0000ff" opacity="0.59"/><rect x="1358.8" y="900.0" width="2.3" height="12.0" fill="#1800ff" opacity="0.62"/><rect x="1359.1" y="906.0" width="1.9" height="4.8" fill="#c030e0" opacity="0.68"/><rect x="1362.2" y="900.0" width="2.4" height="12.0" fill="#000" opacity="0.33"/><rect x="1366.9" y="900.0" width="2.1" height="12.0" fill="#0000e0" opacity="0.45"/><rect x="1370.3" y="900.0" width="1.7" height="12.0" fill="#1800ff" opacity="0.53"/><rect x="1372.2" y="900.0" width="1.9" height="12.0" fill="#1800ff" opacity="0.42"/><rect x="1376.6" y="900.0" width="2.2" height="12.0" fill="#0000ff" opacity="0.59"/><rect x="1380.2" y="900.0" width="2.0" height="12.0" fill="#0000e0" opacity="0.63"/><rect x="1382.5" y="900.0" width="1.2" height="12.0" fill="#1800ff" opacity="0.46"/><rect x="1384.1" y="900.0" width="1.6" height="12.0" fill="#0000e0" opacity="0.37"/><rect x="1384.3" y="906.0" width="1.3" height="4.8" fill="#b028e8" opacity="0.67"/><rect x="1387.9" y="900.0" width="2.1" height="12.0" fill="#0000e0" opacity="0.30"/><rect x="1392.1" y="900.0" width="2.3" height="12.0" fill="#0000e0" opacity="0.74"/><rect x="1394.7" y="900.0" width="1.3" height="12.0" fill="#1800ff" opacity="0.40"/><rect x="1397.3" y="900.0" width="1.7" height="12.0" fill="#1800ff" opacity="0.78"/><rect x="1401.4" y="900.0" width="1.3" height="12.0" fill="#0000e0" opacity="0.50"/><rect x="1403.4" y="900.0" width="2.3" height="12.0" fill="#0000ff" opacity="0.50"/><rect x="1407.5" y="900.0" width="2.2" height="12.0" fill="#1800ff" opacity="0.55"/><rect x="1410.4" y="900.0" width="1.5" height="12.0" fill="#0000ff" opacity="0.48"/><rect x="1413.3" y="900.0" width="1.7" height="12.0" fill="#0000ff" opacity="0.56"/><rect x="1416.9" y="900.0" width="2.3" height="12.0" fill="#0000e0" opacity="0.71"/><rect x="1419.7" y="900.0" width="1.5" height="12.0" fill="#000" opacity="0.41"/><rect x="1422.0" y="900.0" width="1.2" height="12.0" fill="#0000e0" opacity="0.42"/><rect x="1423.2" y="900.0" width="2.1" height="12.0" fill="#000" opacity="0.35"/><rect x="1427.6" y="900.0" width="2.1" height="12.0" fill="#000" opacity="0.39"/><rect x="1430.8" y="900.0" width="1.0" height="12.0" fill="#1800ff" opacity="0.42"/><rect x="1431.9" y="900.0" width="1.5" height="12.0" fill="#000" opacity="0.36"/><rect x="1435.7" y="900.0" width="2.4" height="12.0" fill="#000" opacity="0.48"/><rect x="1440.2" y="900.0" width="1.1" height="12.0" fill="#0000e0" opacity="0.25"/><rect x="1441.4" y="900.0" width="1.5" height="12.0" fill="#0000ff" opacity="0.36"/><rect x="1443.4" y="900.0" width="1.3" height="12.0" fill="#1800ff" opacity="0.48"/><rect x="1446.9" y="900.0" width="1.2" height="12.0" fill="#0000ff" opacity="0.33"/><rect x="1449.1" y="900.0" width="2.1" height="12.0" fill="#0000ff" opacity="0.75"/><rect x="1452.5" y="900.0" width="2.0" height="12.0" fill="#0000e0" opacity="0.67"/><rect x="1452.7" y="906.0" width="1.6" height="4.8" fill="#b028e8" opacity="0.72"/><rect x="1454.8" y="900.0" width="2.4" height="12.0" fill="#0000e0" opacity="0.64"/><rect x="1458.0" y="900.0" width="2.1" height="12.0" fill="#0000e0" opacity="0.64"/><rect x="1460.7" y="900.0" width="2.3" height="12.0" fill="#0000ff" opacity="0.47"/><rect x="1464.7" y="900.0" width="1.4" height="12.0" fill="#1800ff" opacity="0.53"/><rect x="1467.5" y="900.0" width="1.4" height="12.0" fill="#000" opacity="0.51"/><rect x="1471.1" y="900.0" width="1.9" height="12.0" fill="#0000ff" opacity="0.28"/><rect x="1474.0" y="900.0" width="1.0" height="12.0" fill="#000" opacity="0.62"/><rect x="1476.2" y="900.0" width="1.9" height="12.0" fill="#0000ff" opacity="0.76"/><rect x="1478.6" y="900.0" width="1.5" height="12.0" fill="#1800ff" opacity="0.43"/><rect x="1481.3" y="900.0" width="2.1" height="12.0" fill="#0000e0" opacity="0.61"/><rect x="1483.8" y="900.0" width="1.3" height="12.0" fill="#000" opacity="0.40"/><rect x="1486.8" y="900.0" width="2.0" height="12.0" fill="#0000e0" opacity="0.30"/><rect x="1488.9" y="900.0" width="1.7" height="12.0" fill="#000" opacity="0.42"/><rect x="1491.5" y="900.0" width="1.4" height="12.0" fill="#0000ff" opacity="0.67"/><rect x="1495.4" y="900.0" width="2.0" height="12.0" fill="#0000e0" opacity="0.69"/><rect x="1499.3" y="900.0" width="1.5" height="12.0" fill="#1800ff" opacity="0.26"/><rect x="1500.8" y="900.0" width="1.4" height="12.0" fill="#0000ff" opacity="0.44"/><rect x="1503.4" y="900.0" width="1.9" height="12.0" fill="#0000e0" opacity="0.59"/><rect x="1506.2" y="900.0" width="1.0" height="12.0" fill="#0000ff" opacity="0.75"/><rect x="1509.5" y="900.0" width="1.4" height="12.0" fill="#1800ff" opacity="0.71"/><rect x="1513.2" y="900.0" width="1.9" height="12.0" fill="#0000e0" opacity="0.48"/><rect x="1517.4" y="900.0" width="1.5" height="12.0" fill="#0000e0" opacity="0.63"/><rect x="1520.2" y="900.0" width="1.6" height="12.0" fill="#1800ff" opacity="0.47"/><rect x="1523.2" y="900.0" width="1.0" height="12.0" fill="#0000e0" opacity="0.62"/><rect x="1524.8" y="900.0" width="2.2" height="12.0" fill="#1800ff" opacity="0.35"/><rect x="1527.1" y="900.0" width="1.5" height="12.0" fill="#1800ff" opacity="0.27"/><rect x="1528.9" y="900.0" width="1.3" height="12.0" fill="#000" opacity="0.42"/><rect x="1530.4" y="900.0" width="1.2" height="12.0" fill="#1800ff" opacity="0.60"/><rect x="1532.9" y="900.0" width="1.2" height="12.0" fill="#1800ff" opacity="0.64"/><rect x="1536.2" y="900.0" width="1.6" height="12.0" fill="#0000ff" opacity="0.28"/><rect x="1538.3" y="900.0" width="1.3" height="12.0" fill="#1800ff" opacity="0.34"/><rect x="1542.0" y="900.0" width="1.6" height="12.0" fill="#1800ff" opacity="0.74"/><rect x="1544.5" y="900.0" width="1.8" height="12.0" fill="#0000ff" opacity="0.30"/><rect x="1546.5" y="900.0" width="2.3" height="12.0" fill="#0000ff" opacity="0.43"/><rect x="1550.0" y="900.0" width="1.2" height="12.0" fill="#1800ff" opacity="0.30"/><rect x="1552.0" y="900.0" width="2.4" height="12.0" fill="#000" opacity="0.45"/><rect x="1556.6" y="900.0" width="1.7" height="12.0" fill="#0000ff" opacity="0.69"/><rect x="1558.4" y="900.0" width="1.7" height="12.0" fill="#1800ff" opacity="0.43"/><rect x="1562.4" y="900.0" width="2.2" height="12.0" fill="#0000ff" opacity="0.67"/><rect x="1564.7" y="900.0" width="1.1" height="12.0" fill="#0000e0" opacity="0.35"/><rect x="1567.5" y="900.0" width="2.0" height="12.0" fill="#0000ff" opacity="0.66"/><rect x="1570.1" y="900.0" width="2.1" height="12.0" fill="#0000ff" opacity="0.54"/><rect x="1574.1" y="900.0" width="2.2" height="12.0" fill="#0000e0" opacity="0.78"/><rect x="1574.3" y="906.0" width="1.8" height="4.8" fill="#9010ff" opacity="0.72"/><rect x="1576.8" y="900.0" width="1.4" height="12.0" fill="#1800ff" opacity="0.40"/><rect x="1578.8" y="900.0" width="1.2" height="12.0" fill="#000" opacity="0.44"/><rect x="1582.1" y="900.0" width="1.8" height="12.0" fill="#0000ff" opacity="0.53"/><rect x="1584.6" y="900.0" width="2.3" height="12.0" fill="#000" opacity="0.39"/><rect x="1587.8" y="900.0" width="1.2" height="12.0" fill="#000" opacity="0.42"/><rect x="1589.1" y="900.0" width="1.8" height="12.0" fill="#0000ff" opacity="0.58"/><rect x="1592.2" y="900.0" width="1.3" height="12.0" fill="#0000e0" opacity="0.31"/><rect x="1593.9" y="900.0" width="2.2" height="12.0" fill="#0000ff" opacity="0.55"/><rect x="1596.4" y="900.0" width="2.3" height="12.0" fill="#0000ff" opacity="0.42"/><rect x="1600.0" y="900.0" width="2.3" height="12.0" fill="#0000e0" opacity="0.31"/><rect x="1604.1" y="900.0" width="1.8" height="12.0" fill="#0000e0" opacity="0.77"/><rect x="1606.6" y="900.0" width="1.1" height="12.0" fill="#1800ff" opacity="0.45"/><rect x="1609.4" y="900.0" width="1.7" height="12.0" fill="#1800ff" opacity="0.71"/><rect x="1613.3" y="900.0" width="1.9" height="12.0" fill="#1800ff" opacity="0.70"/><rect x="1615.7" y="900.0" width="2.1" height="12.0" fill="#0000ff" opacity="0.50"/><rect x="1619.4" y="900.0" width="1.7" height="12.0" fill="#000" opacity="0.46"/><rect x="1621.5" y="900.0" width="1.8" height="12.0" fill="#1800ff" opacity="0.59"/><rect x="1625.2" y="900.0" width="1.3" height="12.0" fill="#1800ff" opacity="0.34"/><rect x="1628.0" y="900.0" width="2.2" height="12.0" fill="#1800ff" opacity="0.60"/><rect x="1632.0" y="900.0" width="1.4" height="12.0" fill="#1800ff" opacity="0.35"/><rect x="1635.5" y="900.0" width="1.4" height="12.0" fill="#1800ff" opacity="0.74"/><rect x="1639.4" y="900.0" width="1.1" height="12.0" fill="#1800ff" opacity="0.68"/><rect x="1642.8" y="900.0" width="2.2" height="12.0" fill="#0000ff" opacity="0.43"/><rect x="1647.4" y="900.0" width="1.5" height="12.0" fill="#000" opacity="0.65"/><rect x="1650.7" y="900.0" width="1.1" height="12.0" fill="#1800ff" opacity="0.66"/><rect x="1654.1" y="900.0" width="2.3" height="12.0" fill="#0000e0" opacity="0.79"/><rect x="1657.9" y="900.0" width="1.8" height="12.0" fill="#0000e0" opacity="0.57"/><rect x="1661.2" y="900.0" width="1.3" height="12.0" fill="#0000ff" opacity="0.39"/><rect x="1664.3" y="900.0" width="1.6" height="12.0" fill="#1800ff" opacity="0.79"/><rect x="1667.5" y="900.0" width="2.4" height="12.0" fill="#1800ff" opacity="0.43"/><rect x="1671.1" y="900.0" width="1.8" height="12.0" fill="#1800ff" opacity="0.34"/><rect x="1674.5" y="900.0" width="2.3" height="12.0" fill="#1800ff" opacity="0.35"/><rect x="1677.5" y="900.0" width="1.5" height="12.0" fill="#1800ff" opacity="0.35"/><rect x="1681.1" y="900.0" width="2.1" height="12.0" fill="#1800ff" opacity="0.76"/><rect x="1684.0" y="900.0" width="1.6" height="12.0" fill="#000" opacity="0.52"/><rect x="1687.0" y="900.0" width="1.8" height="12.0" fill="#0000e0" opacity="0.32"/><rect x="1690.8" y="900.0" width="2.0" height="12.0" fill="#0000ff" opacity="0.60"/><rect x="1692.9" y="900.0" width="1.8" height="12.0" fill="#1800ff" opacity="0.35"/><rect x="1695.4" y="900.0" width="1.8" height="12.0" fill="#0000e0" opacity="0.71"/><rect x="1698.7" y="900.0" width="1.0" height="12.0" fill="#1800ff" opacity="0.51"/><rect x="1702.0" y="900.0" width="1.3" height="12.0" fill="#000" opacity="0.60"/><rect x="1703.5" y="900.0" width="1.7" height="12.0" fill="#0000ff" opacity="0.54"/><rect x="1705.6" y="900.0" width="1.4" height="12.0" fill="#1800ff" opacity="0.56"/><rect x="1708.5" y="900.0" width="2.4" height="12.0" fill="#0000e0" opacity="0.55"/><rect x="1711.2" y="900.0" width="2.4" height="12.0" fill="#1800ff" opacity="0.55"/><rect x="1714.0" y="900.0" width="1.7" height="12.0" fill="#0000ff" opacity="0.48"/><rect x="1716.5" y="900.0" width="1.2" height="12.0" fill="#0000e0" opacity="0.33"/><rect x="1718.9" y="900.0" width="1.8" height="12.0" fill="#0000e0" opacity="0.74"/><rect x="1721.9" y="900.0" width="2.2" height="12.0" fill="#0000e0" opacity="0.37"/><rect x="1725.8" y="900.0" width="1.6" height="12.0" fill="#1800ff" opacity="0.79"/><rect x="1729.3" y="900.0" width="1.1" height="12.0" fill="#0000ff" opacity="0.34"/><rect x="1732.7" y="900.0" width="1.2" height="12.0" fill="#000" opacity="0.44"/><rect x="1734.8" y="900.0" width="1.4" height="12.0" fill="#1800ff" opacity="0.30"/><rect x="1737.6" y="900.0" width="2.3" height="12.0" fill="#0000e0" opacity="0.27"/><rect x="1740.4" y="900.0" width="1.2" height="12.0" fill="#1800ff" opacity="0.80"/><rect x="1740.5" y="906.0" width="1.0" height="4.8" fill="#c030e0" opacity="0.72"/><rect x="1741.7" y="900.0" width="1.8" height="12.0" fill="#0000e0" opacity="0.51"/><rect x="1743.5" y="900.0" width="1.7" height="12.0" fill="#000" opacity="0.69"/><rect x="1747.4" y="900.0" width="1.2" height="12.0" fill="#0000e0" opacity="0.54"/><rect x="1749.0" y="900.0" width="2.4" height="12.0" fill="#1800ff" opacity="0.57"/><rect x="1751.4" y="900.0" width="1.4" height="12.0" fill="#0000e0" opacity="0.42"/><rect x="1753.0" y="900.0" width="2.0" height="12.0" fill="#000" opacity="0.32"/><rect x="1756.7" y="900.0" width="1.6" height="12.0" fill="#0000e0" opacity="0.47"/><rect x="1758.4" y="900.0" width="1.1" height="12.0" fill="#000" opacity="0.48"/><rect x="1760.0" y="900.0" width="1.2" height="12.0" fill="#1800ff" opacity="0.68"/><rect x="1762.1" y="900.0" width="1.4" height="12.0" fill="#1800ff" opacity="0.42"/><rect x="1765.0" y="900.0" width="1.3" height="12.0" fill="#000" opacity="0.37"/><rect x="1768.4" y="900.0" width="2.2" height="12.0" fill="#1800ff" opacity="0.36"/><rect x="1773.0" y="900.0" width="2.1" height="12.0" fill="#0000ff" opacity="0.53"/><rect x="1775.9" y="900.0" width="0.7" height="12.0" fill="#0000e0" opacity="0.33"/></g>
<g filter="url(#bl)"><rect x="102.3" y="899.0" width="1.2" height="12.5" fill="#0000ff" opacity="0.52"/><rect x="104.7" y="899.0" width="1.2" height="12.5" fill="#000" opacity="0.89"/><rect x="106.0" y="899.0" width="1.1" height="12.5" fill="#000" opacity="0.63"/><rect x="109.4" y="899.0" width="1.1" height="12.5" fill="#0000ff" opacity="0.54"/><rect x="111.3" y="899.0" width="1.6" height="12.5" fill="#000" opacity="0.69"/><rect x="113.5" y="899.0" width="2.0" height="12.5" fill="#0000ff" opacity="0.78"/><rect x="117.4" y="899.0" width="1.7" height="12.5" fill="#0000ff" opacity="0.64"/><rect x="120.2" y="899.0" width="1.2" height="12.5" fill="#0000ff" opacity="0.90"/><rect x="121.7" y="899.0" width="1.1" height="12.5" fill="#0000ff" opacity="0.86"/><rect x="125.6" y="899.0" width="1.5" height="12.5" fill="#0000ff" opacity="0.51"/><rect x="128.0" y="899.0" width="1.5" height="12.5" fill="#0000ff" opacity="0.78"/><rect x="131.0" y="899.0" width="1.2" height="12.5" fill="#000" opacity="0.75"/><rect x="132.3" y="899.0" width="1.9" height="12.5" fill="#000" opacity="0.91"/><rect x="134.3" y="899.0" width="1.5" height="12.5" fill="#000" opacity="0.91"/><rect x="135.8" y="899.0" width="1.1" height="12.5" fill="#000" opacity="0.87"/><rect x="139.7" y="899.0" width="1.6" height="12.5" fill="#000" opacity="0.65"/><rect x="143.4" y="899.0" width="1.2" height="12.5" fill="#0000ff" opacity="0.86"/><rect x="146.8" y="899.0" width="1.3" height="12.5" fill="#000" opacity="0.68"/><rect x="150.0" y="899.0" width="1.8" height="12.5" fill="#000" opacity="0.94"/><rect x="152.5" y="899.0" width="1.8" height="12.5" fill="#0000ff" opacity="0.58"/><rect x="157.2" y="899.0" width="1.0" height="12.5" fill="#0000ff" opacity="0.90"/><rect x="159.7" y="899.0" width="1.8" height="12.5" fill="#0000ff" opacity="0.82"/><rect x="162.7" y="899.0" width="1.2" height="12.5" fill="#000" opacity="0.65"/><rect x="166.3" y="899.0" width="1.6" height="12.5" fill="#000" opacity="0.64"/><rect x="170.4" y="899.0" width="1.1" height="12.5" fill="#000" opacity="0.93"/><rect x="171.8" y="899.0" width="1.1" height="12.5" fill="#000" opacity="0.86"/><rect x="174.3" y="899.0" width="1.8" height="12.5" fill="#0000ff" opacity="0.86"/><rect x="178.6" y="899.0" width="1.4" height="12.5" fill="#0000ff" opacity="0.72"/><rect x="182.5" y="899.0" width="1.9" height="12.5" fill="#000" opacity="0.97"/><rect x="184.8" y="899.0" width="1.2" height="12.5" fill="#000" opacity="0.97"/><rect x="186.3" y="899.0" width="1.1" height="12.5" fill="#000" opacity="0.66"/><rect x="187.6" y="899.0" width="1.7" height="12.5" fill="#000" opacity="0.98"/><rect x="190.2" y="899.0" width="1.1" height="12.5" fill="#0000ff" opacity="0.61"/><rect x="194.3" y="899.0" width="1.1" height="12.5" fill="#000" opacity="0.66"/><rect x="196.0" y="899.0" width="2.0" height="12.5" fill="#0000ff" opacity="0.57"/><rect x="198.9" y="899.0" width="1.2" height="12.5" fill="#000" opacity="0.73"/><rect x="200.6" y="899.0" width="1.7" height="12.5" fill="#000" opacity="0.89"/><rect x="204.5" y="899.0" width="1.6" height="12.5" fill="#000" opacity="0.87"/><rect x="209.1" y="899.0" width="1.9" height="12.5" fill="#0000ff" opacity="0.90"/><rect x="213.1" y="899.0" width="1.0" height="12.5" fill="#000" opacity="0.99"/><rect x="215.7" y="899.0" width="1.6" height="12.5" fill="#0000ff" opacity="0.70"/><rect x="220.2" y="899.0" width="1.4" height="12.5" fill="#0000ff" opacity="0.62"/><rect x="221.6" y="899.0" width="1.1" height="12.5" fill="#000" opacity="0.79"/><rect x="222.8" y="899.0" width="1.9" height="12.5" fill="#000" opacity="0.86"/><rect x="227.6" y="899.0" width="1.3" height="12.5" fill="#000" opacity="0.98"/><rect x="231.6" y="899.0" width="1.8" height="12.5" fill="#000" opacity="0.96"/><rect x="233.4" y="899.0" width="1.1" height="12.5" fill="#000" opacity="0.62"/><rect x="234.9" y="899.0" width="2.0" height="12.5" fill="#000" opacity="0.65"/><rect x="239.5" y="899.0" width="1.2" height="12.5" fill="#0000ff" opacity="0.60"/><rect x="242.0" y="899.0" width="1.0" height="12.5" fill="#0000ff" opacity="0.52"/><rect x="245.9" y="899.0" width="1.3" height="12.5" fill="#000" opacity="0.75"/><rect x="247.3" y="899.0" width="1.6" height="12.5" fill="#000" opacity="0.94"/><rect x="251.4" y="899.0" width="1.5" height="12.5" fill="#0000ff" opacity="0.64"/><rect x="254.5" y="899.0" width="1.1" height="12.5" fill="#000" opacity="0.90"/><rect x="258.6" y="899.0" width="1.0" height="12.5" fill="#000" opacity="0.91"/><rect x="262.1" y="899.0" width="1.2" height="12.5" fill="#000" opacity="0.84"/><rect x="265.0" y="899.0" width="1.4" height="12.5" fill="#000" opacity="0.98"/><rect x="269.1" y="899.0" width="1.3" height="12.5" fill="#0000ff" opacity="0.59"/><rect x="270.9" y="899.0" width="1.1" height="12.5" fill="#0000ff" opacity="0.82"/><rect x="273.4" y="899.0" width="1.8" height="12.5" fill="#0000ff" opacity="0.89"/><rect x="277.1" y="899.0" width="1.5" height="12.5" fill="#000" opacity="0.94"/><rect x="278.7" y="899.0" width="1.1" height="12.5" fill="#000" opacity="0.97"/><rect x="282.7" y="899.0" width="1.9" height="12.5" fill="#0000ff" opacity="0.65"/><rect x="285.0" y="899.0" width="1.1" height="12.5" fill="#000" opacity="0.61"/><rect x="286.4" y="899.0" width="1.4" height="12.5" fill="#000" opacity="0.78"/><rect x="288.0" y="899.0" width="1.1" height="12.5" fill="#000" opacity="0.84"/><rect x="290.0" y="899.0" width="1.5" height="12.5" fill="#000" opacity="0.95"/><rect x="292.9" y="899.0" width="1.2" height="12.5" fill="#0000ff" opacity="0.67"/><rect x="294.7" y="899.0" width="1.9" height="12.5" fill="#000" opacity="0.69"/><rect x="298.6" y="899.0" width="1.4" height="12.5" fill="#000" opacity="0.84"/><rect x="301.9" y="899.0" width="1.5" height="12.5" fill="#000" opacity="0.79"/><rect x="304.1" y="899.0" width="1.6" height="12.5" fill="#000" opacity="0.64"/><rect x="306.4" y="899.0" width="1.8" height="12.5" fill="#000" opacity="0.99"/><rect x="309.4" y="899.0" width="0.6" height="12.5" fill="#000" opacity="0.64"/></g>
<rect x="102.3" y="913.0" width="1674.3" height="15.0" fill="#000000" opacity="0.15"/>
<g filter="url(#bl)"><rect x="102.3" y="929.0" width="1674.3" height="11.5" fill="#000000" opacity="0.3"/><rect x="102.3" y="929.0" width="2.3" height="11.5" fill="#0000ff" opacity="0.97"/><rect x="102.5" y="933.0" width="1.8" height="5.8" fill="#ff56a9" opacity="0.87"/><rect x="105.5" y="929.0" width="1.4" height="11.5" fill="#0000ff" opacity="0.72"/><rect x="107.0" y="929.0" width="2.0" height="11.5" fill="#2000ff" opacity="0.98"/><rect x="109.6" y="929.0" width="1.2" height="11.5" fill="#000" opacity="0.80"/><rect x="111.4" y="929.0" width="2.1" height="11.5" fill="#000" opacity="0.99"/><rect x="113.6" y="929.0" width="2.4" height="11.5" fill="#000" opacity="0.85"/><rect x="117.0" y="929.0" width="1.7" height="11.5" fill="#0000ff" opacity="0.99"/><rect x="117.2" y="933.0" width="1.3" height="5.8" fill="#c030e0" opacity="0.64"/><rect x="119.4" y="929.0" width="1.6" height="11.5" fill="#0000ff" opacity="0.75"/><rect x="121.1" y="929.0" width="1.8" height="11.5" fill="#2000ff" opacity="0.84"/><rect x="123.7" y="929.0" width="1.3" height="11.5" fill="#0000ff" opacity="0.99"/><rect x="125.3" y="929.0" width="1.4" height="11.5" fill="#0000ff" opacity="0.83"/><rect x="127.1" y="929.0" width="1.2" height="11.5" fill="#0000ff" opacity="0.82"/><rect x="129.0" y="929.0" width="1.8" height="11.5" fill="#0000ff" opacity="0.83"/><rect x="131.7" y="929.0" width="2.0" height="11.5" fill="#000" opacity="0.92"/><rect x="134.2" y="929.0" width="1.2" height="11.5" fill="#2000ff" opacity="0.84"/><rect x="135.6" y="929.0" width="1.3" height="11.5" fill="#000" opacity="0.81"/><rect x="137.6" y="929.0" width="2.2" height="11.5" fill="#0000ff" opacity="0.88"/><rect x="137.8" y="933.0" width="1.7" height="5.8" fill="#9010ff" opacity="0.93"/><rect x="140.0" y="929.0" width="1.1" height="11.5" fill="#000" opacity="0.81"/><rect x="141.7" y="929.0" width="1.7" height="11.5" fill="#0000ff" opacity="0.73"/><rect x="141.9" y="933.0" width="1.4" height="5.8" fill="#9010ff" opacity="0.78"/><rect x="143.5" y="929.0" width="1.8" height="11.5" fill="#0000ff" opacity="0.95"/><rect x="145.5" y="929.0" width="1.8" height="11.5" fill="#2000ff" opacity="0.92"/><rect x="147.7" y="929.0" width="1.6" height="11.5" fill="#000" opacity="0.97"/><rect x="149.5" y="929.0" width="2.2" height="11.5" fill="#000" opacity="0.99"/><rect x="152.4" y="929.0" width="2.2" height="11.5" fill="#2000ff" opacity="0.78"/><rect x="155.5" y="929.0" width="1.5" height="11.5" fill="#000" opacity="0.88"/><rect x="157.2" y="929.0" width="1.8" height="11.5" fill="#000" opacity="0.83"/><rect x="159.9" y="929.0" width="1.8" height="11.5" fill="#000" opacity="0.98"/><rect x="161.9" y="929.0" width="1.4" height="11.5" fill="#000" opacity="0.95"/><rect x="163.7" y="929.0" width="1.0" height="11.5" fill="#000" opacity="0.81"/><rect x="164.9" y="929.0" width="1.6" height="11.5" fill="#2000ff" opacity="0.76"/><rect x="166.8" y="929.0" width="1.5" height="11.5" fill="#000" opacity="0.81"/><rect x="169.4" y="929.0" width="1.8" height="11.5" fill="#0000ff" opacity="0.77"/><rect x="169.6" y="933.0" width="1.4" height="5.8" fill="#9010ff" opacity="0.74"/><rect x="171.9" y="929.0" width="1.3" height="11.5" fill="#000" opacity="0.84"/><rect x="174.2" y="929.0" width="1.4" height="11.5" fill="#000" opacity="0.83"/><rect x="176.3" y="929.0" width="1.4" height="11.5" fill="#2000ff" opacity="0.70"/><rect x="177.8" y="929.0" width="1.6" height="11.5" fill="#000" opacity="0.85"/><rect x="180.5" y="929.0" width="1.6" height="11.5" fill="#2000ff" opacity="0.79"/><rect x="182.3" y="929.0" width="2.1" height="11.5" fill="#000" opacity="0.88"/><rect x="184.6" y="929.0" width="2.0" height="11.5" fill="#0000ff" opacity="0.86"/><rect x="187.7" y="929.0" width="1.6" height="11.5" fill="#2000ff" opacity="0.79"/><rect x="189.8" y="929.0" width="1.7" height="11.5" fill="#000" opacity="0.83"/><rect x="192.1" y="929.0" width="1.2" height="11.5" fill="#0000ff" opacity="0.83"/><rect x="193.7" y="929.0" width="2.0" height="11.5" fill="#000" opacity="0.95"/><rect x="196.0" y="929.0" width="1.7" height="11.5" fill="#0000ff" opacity="0.93"/><rect x="196.2" y="933.0" width="1.3" height="5.8" fill="#9010ff" opacity="0.71"/><rect x="198.7" y="929.0" width="1.8" height="11.5" fill="#000" opacity="0.92"/><rect x="201.4" y="929.0" width="1.8" height="11.5" fill="#000" opacity="0.92"/><rect x="204.3" y="929.0" width="1.7" height="11.5" fill="#2000ff" opacity="0.86"/><rect x="204.4" y="933.0" width="1.3" height="5.8" fill="#ff56a9" opacity="0.77"/><rect x="205.9" y="929.0" width="1.0" height="11.5" fill="#0000ff" opacity="0.96"/><rect x="206.0" y="933.0" width="0.8" height="5.8" fill="#c030e0" opacity="0.83"/><rect x="207.0" y="929.0" width="2.1" height="11.5" fill="#000" opacity="0.87"/><rect x="210.2" y="929.0" width="1.1" height="11.5" fill="#000" opacity="0.99"/><rect x="211.9" y="929.0" width="1.8" height="11.5" fill="#000" opacity="1.00"/><rect x="214.5" y="929.0" width="2.2" height="11.5" fill="#000" opacity="0.83"/><rect x="217.0" y="929.0" width="2.1" height="11.5" fill="#000" opacity="0.99"/><rect x="220.2" y="929.0" width="1.5" height="11.5" fill="#000" opacity="0.92"/><rect x="222.4" y="929.0" width="1.2" height="11.5" fill="#000" opacity="0.82"/><rect x="224.8" y="929.0" width="1.3" height="11.5" fill="#0000ff" opacity="0.77"/><rect x="227.2" y="929.0" width="1.1" height="11.5" fill="#000" opacity="0.93"/><rect x="229.4" y="929.0" width="1.9" height="11.5" fill="#000" opacity="0.98"/><rect x="231.4" y="929.0" width="1.5" height="11.5" fill="#0000ff" opacity="0.80"/><rect x="233.7" y="929.0" width="2.3" height="11.5" fill="#000" opacity="0.97"/><rect x="236.2" y="929.0" width="1.8" height="11.5" fill="#2000ff" opacity="0.86"/><rect x="239.0" y="929.0" width="1.5" height="11.5" fill="#000" opacity="0.87"/><rect x="240.8" y="929.0" width="1.5" height="11.5" fill="#0000ff" opacity="0.72"/><rect x="243.0" y="929.0" width="2.2" height="11.5" fill="#000" opacity="0.84"/><rect x="245.3" y="929.0" width="1.3" height="11.5" fill="#0000ff" opacity="0.89"/><rect x="247.1" y="929.0" width="1.2" height="11.5" fill="#000" opacity="0.81"/><rect x="248.4" y="929.0" width="2.0" height="11.5" fill="#0000ff" opacity="0.78"/><rect x="248.6" y="933.0" width="1.6" height="5.8" fill="#c030e0" opacity="0.96"/><rect x="251.3" y="929.0" width="1.8" height="11.5" fill="#0000ff" opacity="0.82"/><rect x="251.5" y="933.0" width="1.4" height="5.8" fill="#b028e8" opacity="0.91"/><rect x="254.0" y="929.0" width="2.4" height="11.5" fill="#2000ff" opacity="0.92"/><rect x="254.3" y="933.0" width="1.9" height="5.8" fill="#ff56a9" opacity="0.86"/><rect x="256.5" y="929.0" width="1.5" height="11.5" fill="#0000ff" opacity="0.74"/><rect x="258.1" y="929.0" width="1.2" height="11.5" fill="#000" opacity="0.89"/><rect x="260.5" y="929.0" width="1.4" height="11.5" fill="#2000ff" opacity="0.86"/><rect x="261.9" y="929.0" width="2.1" height="11.5" fill="#000" opacity="0.84"/><rect x="265.0" y="929.0" width="1.0" height="11.5" fill="#000" opacity="0.89"/><rect x="266.4" y="929.0" width="2.1" height="11.5" fill="#000" opacity="0.90"/><rect x="268.6" y="929.0" width="1.0" height="11.5" fill="#000" opacity="0.82"/><rect x="269.7" y="929.0" width="1.5" height="11.5" fill="#2000ff" opacity="0.74"/><rect x="269.9" y="933.0" width="1.2" height="5.8" fill="#9010ff" opacity="0.88"/><rect x="272.1" y="929.0" width="1.4" height="11.5" fill="#0000ff" opacity="0.76"/><rect x="272.3" y="933.0" width="1.1" height="5.8" fill="#9010ff" opacity="0.69"/><rect x="273.9" y="929.0" width="2.1" height="11.5" fill="#0000ff" opacity="0.85"/><rect x="276.6" y="929.0" width="1.6" height="11.5" fill="#0000ff" opacity="0.88"/><rect x="278.9" y="929.0" width="2.2" height="11.5" fill="#000" opacity="0.87"/><rect x="282.0" y="929.0" width="1.1" height="11.5" fill="#0000ff" opacity="0.79"/><rect x="283.5" y="929.0" width="1.7" height="11.5" fill="#000" opacity="0.95"/><rect x="285.9" y="929.0" width="1.2" height="11.5" fill="#000" opacity="0.81"/><rect x="287.9" y="929.0" width="1.8" height="11.5" fill="#2000ff" opacity="0.99"/><rect x="288.1" y="933.0" width="1.5" height="5.8" fill="#ff56a9" opacity="0.78"/><rect x="289.9" y="929.0" width="2.0" height="11.5" fill="#000" opacity="0.80"/><rect x="292.0" y="929.0" width="1.2" height="11.5" fill="#0000ff" opacity="0.95"/><rect x="293.7" y="929.0" width="1.9" height="11.5" fill="#000" opacity="0.86"/><rect x="296.1" y="929.0" width="2.1" height="11.5" fill="#0000ff" opacity="0.76"/><rect x="298.9" y="929.0" width="2.1" height="11.5" fill="#2000ff" opacity="0.71"/><rect x="301.1" y="929.0" width="2.3" height="11.5" fill="#000" opacity="0.85"/><rect x="303.4" y="929.0" width="1.7" height="11.5" fill="#0000ff" opacity="0.98"/><rect x="305.8" y="929.0" width="1.7" height="11.5" fill="#000" opacity="0.96"/><rect x="308.6" y="929.0" width="2.0" height="11.5" fill="#0000ff" opacity="0.87"/><rect x="308.8" y="933.0" width="1.6" height="5.8" fill="#9010ff" opacity="0.81"/><rect x="311.2" y="929.0" width="1.4" height="11.5" fill="#000" opacity="0.87"/><rect x="313.3" y="929.0" width="2.4" height="11.5" fill="#000" opacity="0.87"/><rect x="315.7" y="929.0" width="1.2" height="11.5" fill="#000" opacity="0.91"/><rect x="317.7" y="929.0" width="1.5" height="11.5" fill="#0000ff" opacity="0.81"/><rect x="319.8" y="929.0" width="1.3" height="11.5" fill="#000" opacity="0.90"/><rect x="322.0" y="929.0" width="1.5" height="11.5" fill="#0000ff" opacity="0.94"/><rect x="323.8" y="929.0" width="2.2" height="11.5" fill="#000" opacity="0.82"/><rect x="327.0" y="929.0" width="1.2" height="11.5" fill="#2000ff" opacity="0.99"/><rect x="328.9" y="929.0" width="1.4" height="11.5" fill="#000" opacity="0.85"/><rect x="330.5" y="929.0" width="2.4" height="11.5" fill="#0000ff" opacity="0.80"/><rect x="333.8" y="929.0" width="2.1" height="11.5" fill="#0000ff" opacity="0.97"/><rect x="334.0" y="933.0" width="1.7" height="5.8" fill="#b028e8" opacity="0.90"/><rect x="336.4" y="929.0" width="1.9" height="11.5" fill="#0000ff" opacity="0.83"/><rect x="338.3" y="929.0" width="2.2" height="11.5" fill="#2000ff" opacity="0.75"/><rect x="340.8" y="929.0" width="1.4" height="11.5" fill="#000" opacity="0.96"/><rect x="342.9" y="929.0" width="1.4" height="11.5" fill="#0000ff" opacity="0.93"/><rect x="344.7" y="929.0" width="1.3" height="11.5" fill="#000" opacity="0.92"/><rect x="346.7" y="929.0" width="1.1" height="11.5" fill="#0000ff" opacity="0.83"/><rect x="346.8" y="933.0" width="0.9" height="5.8" fill="#c030e0" opacity="0.69"/><rect x="348.6" y="929.0" width="1.6" height="11.5" fill="#000" opacity="0.93"/><rect x="351.3" y="929.0" width="2.0" height="11.5" fill="#0000ff" opacity="0.75"/><rect x="353.7" y="929.0" width="1.3" height="11.5" fill="#0000ff" opacity="0.81"/><rect x="355.9" y="929.0" width="1.2" height="11.5" fill="#000" opacity="0.99"/><rect x="358.0" y="929.0" width="1.8" height="11.5" fill="#000" opacity="0.85"/><rect x="360.2" y="929.0" width="1.1" height="11.5" fill="#0000ff" opacity="0.73"/><rect x="361.9" y="929.0" width="2.1" height="11.5" fill="#000" opacity="0.87"/><rect x="364.5" y="929.0" width="2.4" height="11.5" fill="#0000ff" opacity="0.96"/><rect x="368.0" y="929.0" width="1.7" height="11.5" fill="#2000ff" opacity="0.82"/><rect x="370.1" y="929.0" width="2.0" height="11.5" fill="#000" opacity="0.96"/><rect x="372.7" y="929.0" width="2.2" height="11.5" fill="#0000ff" opacity="0.87"/><rect x="375.8" y="929.0" width="2.0" height="11.5" fill="#000" opacity="0.94"/><rect x="378.2" y="929.0" width="1.6" height="11.5" fill="#0000ff" opacity="0.87"/><rect x="379.8" y="929.0" width="2.4" height="11.5" fill="#0000ff" opacity="0.86"/><rect x="383.2" y="929.0" width="2.1" height="11.5" fill="#2000ff" opacity="0.71"/><rect x="386.4" y="929.0" width="2.1" height="11.5" fill="#000" opacity="0.85"/><rect x="389.6" y="929.0" width="2.3" height="11.5" fill="#0000ff" opacity="0.89"/><rect x="391.9" y="929.0" width="1.7" height="11.5" fill="#2000ff" opacity="0.82"/><rect x="393.9" y="929.0" width="1.6" height="11.5" fill="#0000ff" opacity="0.94"/><rect x="394.0" y="933.0" width="1.3" height="5.8" fill="#b028e8" opacity="0.88"/><rect x="395.8" y="929.0" width="2.0" height="11.5" fill="#0000ff" opacity="0.82"/><rect x="398.9" y="929.0" width="1.4" height="11.5" fill="#0000ff" opacity="0.81"/><rect x="401.3" y="929.0" width="1.5" height="11.5" fill="#000" opacity="0.96"/><rect x="403.6" y="929.0" width="1.6" height="11.5" fill="#2000ff" opacity="0.88"/><rect x="405.4" y="929.0" width="1.2" height="11.5" fill="#000" opacity="0.98"/><rect x="407.6" y="929.0" width="2.3" height="11.5" fill="#0000ff" opacity="0.77"/><rect x="410.4" y="929.0" width="1.6" height="11.5" fill="#0000ff" opacity="0.95"/><rect x="412.9" y="929.0" width="2.2" height="11.5" fill="#000" opacity="0.81"/><rect x="416.1" y="929.0" width="1.0" height="11.5" fill="#0000ff" opacity="0.79"/><rect x="418.3" y="929.0" width="2.2" height="11.5" fill="#0000ff" opacity="0.96"/><rect x="421.5" y="929.0" width="1.9" height="11.5" fill="#000" opacity="0.97"/><rect x="423.9" y="929.0" width="1.7" height="11.5" fill="#2000ff" opacity="0.84"/><rect x="426.4" y="929.0" width="1.5" height="11.5" fill="#000" opacity="0.97"/><rect x="428.1" y="929.0" width="1.1" height="11.5" fill="#000" opacity="0.95"/><rect x="429.8" y="929.0" width="2.0" height="11.5" fill="#0000ff" opacity="0.96"/><rect x="432.3" y="929.0" width="1.6" height="11.5" fill="#0000ff" opacity="0.92"/><rect x="434.0" y="929.0" width="1.8" height="11.5" fill="#000" opacity="0.91"/><rect x="436.5" y="929.0" width="1.1" height="11.5" fill="#0000ff" opacity="0.74"/><rect x="437.6" y="929.0" width="1.7" height="11.5" fill="#0000ff" opacity="0.90"/><rect x="439.7" y="929.0" width="1.9" height="11.5" fill="#2000ff" opacity="0.81"/><rect x="441.9" y="929.0" width="1.5" height="11.5" fill="#000" opacity="0.95"/><rect x="444.5" y="929.0" width="2.3" height="11.5" fill="#000" opacity="0.82"/><rect x="447.9" y="929.0" width="2.4" height="11.5" fill="#000" opacity="0.95"/><rect x="451.0" y="929.0" width="2.3" height="11.5" fill="#0000ff" opacity="0.89"/><rect x="451.3" y="933.0" width="1.9" height="5.8" fill="#c030e0" opacity="0.93"/><rect x="454.3" y="929.0" width="1.2" height="11.5" fill="#0000ff" opacity="0.81"/><rect x="455.5" y="929.0" width="1.7" height="11.5" fill="#000" opacity="0.99"/><rect x="458.3" y="929.0" width="1.6" height="11.5" fill="#0000ff" opacity="0.77"/><rect x="461.1" y="929.0" width="2.0" height="11.5" fill="#000" opacity="0.86"/><rect x="463.5" y="929.0" width="2.4" height="11.5" fill="#0000ff" opacity="0.86"/><rect x="466.3" y="929.0" width="1.9" height="11.5" fill="#000" opacity="0.95"/><rect x="469.0" y="929.0" width="2.1" height="11.5" fill="#000" opacity="0.93"/><rect x="471.5" y="929.0" width="1.0" height="11.5" fill="#000" opacity="0.88"/><rect x="472.8" y="929.0" width="1.7" height="11.5" fill="#000" opacity="0.81"/><rect x="474.4" y="929.0" width="1.6" height="11.5" fill="#0000ff" opacity="0.85"/><rect x="476.4" y="929.0" width="1.1" height="11.5" fill="#0000ff" opacity="0.91"/><rect x="478.2" y="929.0" width="1.3" height="11.5" fill="#000" opacity="0.87"/><rect x="480.5" y="929.0" width="1.1" height="11.5" fill="#000" opacity="0.93"/><rect x="482.7" y="929.0" width="1.1" height="11.5" fill="#0000ff" opacity="0.86"/><rect x="484.1" y="929.0" width="2.4" height="11.5" fill="#0000ff" opacity="0.80"/><rect x="486.5" y="929.0" width="1.9" height="11.5" fill="#000" opacity="0.95"/><rect x="489.3" y="929.0" width="1.8" height="11.5" fill="#2000ff" opacity="0.84"/><rect x="491.3" y="929.0" width="1.8" height="11.5" fill="#2000ff" opacity="0.93"/><rect x="491.5" y="933.0" width="1.4" height="5.8" fill="#b028e8" opacity="0.88"/><rect x="493.8" y="929.0" width="1.7" height="11.5" fill="#0000ff" opacity="0.98"/><rect x="495.7" y="929.0" width="2.1" height="11.5" fill="#000" opacity="0.84"/><rect x="498.3" y="929.0" width="1.7" height="11.5" fill="#0000ff" opacity="0.94"/><rect x="500.3" y="929.0" width="1.6" height="11.5" fill="#0000ff" opacity="0.89"/><rect x="502.0" y="929.0" width="1.9" height="11.5" fill="#2000ff" opacity="0.83"/><rect x="504.7" y="929.0" width="1.5" height="11.5" fill="#000" opacity="0.84"/><rect x="507.4" y="929.0" width="1.3" height="11.5" fill="#0000ff" opacity="0.86"/><rect x="509.0" y="929.0" width="1.5" height="11.5" fill="#2000ff" opacity="0.78"/><rect x="509.1" y="933.0" width="1.2" height="5.8" fill="#ff56a9" opacity="0.82"/><rect x="510.9" y="929.0" width="2.4" height="11.5" fill="#000" opacity="0.97"/><rect x="513.6" y="929.0" width="1.3" height="11.5" fill="#0000ff" opacity="0.81"/><rect x="515.1" y="929.0" width="1.1" height="11.5" fill="#0000ff" opacity="0.78"/><rect x="516.7" y="929.0" width="1.9" height="11.5" fill="#0000ff" opacity="0.76"/><rect x="519.0" y="929.0" width="2.1" height="11.5" fill="#0000ff" opacity="0.77"/><rect x="522.0" y="929.0" width="1.4" height="11.5" fill="#000" opacity="0.80"/><rect x="524.0" y="929.0" width="1.1" height="11.5" fill="#0000ff" opacity="0.91"/><rect x="526.1" y="929.0" width="1.0" height="11.5" fill="#000" opacity="0.93"/><rect x="527.4" y="929.0" width="1.5" height="11.5" fill="#0000ff" opacity="0.90"/><rect x="530.0" y="929.0" width="1.1" height="11.5" fill="#0000ff" opacity="0.78"/><rect x="530.1" y="933.0" width="0.9" height="5.8" fill="#c030e0" opacity="0.81"/><rect x="531.3" y="929.0" width="2.2" height="11.5" fill="#0000ff" opacity="0.97"/><rect x="533.8" y="929.0" width="1.5" height="11.5" fill="#0000ff" opacity="0.72"/><rect x="535.8" y="929.0" width="2.0" height="11.5" fill="#000" opacity="0.99"/><rect x="538.4" y="929.0" width="2.0" height="11.5" fill="#0000ff" opacity="0.75"/><rect x="538.6" y="933.0" width="1.6" height="5.8" fill="#ff56a9" opacity="0.97"/><rect x="540.7" y="929.0" width="2.3" height="11.5" fill="#000" opacity="0.88"/><rect x="544.0" y="929.0" width="2.0" height="11.5" fill="#000" opacity="0.91"/><rect x="546.7" y="929.0" width="1.2" height="11.5" fill="#0000ff" opacity="0.80"/><rect x="546.8" y="933.0" width="0.9" height="5.8" fill="#c030e0" opacity="0.73"/><rect x="548.4" y="929.0" width="2.3" height="11.5" fill="#000" opacity="0.83"/><rect x="551.1" y="929.0" width="1.1" height="11.5" fill="#2000ff" opacity="0.75"/><rect x="551.2" y="933.0" width="0.9" height="5.8" fill="#b028e8" opacity="0.77"/><rect x="552.3" y="929.0" width="1.1" height="11.5" fill="#000" opacity="0.91"/><rect x="554.2" y="929.0" width="2.2" height="11.5" fill="#0000ff" opacity="0.91"/><rect x="557.1" y="929.0" width="1.5" height="11.5" fill="#0000ff" opacity="0.82"/><rect x="559.0" y="929.0" width="1.7" height="11.5" fill="#2000ff" opacity="0.99"/><rect x="561.8" y="929.0" width="1.0" height="11.5" fill="#2000ff" opacity="0.88"/><rect x="563.7" y="929.0" width="1.2" height="11.5" fill="#000" opacity="1.00"/><rect x="565.0" y="929.0" width="2.0" height="11.5" fill="#0000ff" opacity="0.91"/><rect x="565.2" y="933.0" width="1.6" height="5.8" fill="#9010ff" opacity="0.95"/><rect x="567.8" y="929.0" width="1.8" height="11.5" fill="#0000ff" opacity="0.75"/><rect x="570.6" y="929.0" width="2.0" height="11.5" fill="#2000ff" opacity="0.79"/><rect x="572.7" y="929.0" width="1.5" height="11.5" fill="#2000ff" opacity="0.86"/><rect x="575.1" y="929.0" width="1.2" height="11.5" fill="#0000ff" opacity="0.94"/><rect x="576.6" y="929.0" width="1.1" height="11.5" fill="#0000ff" opacity="0.74"/><rect x="578.5" y="929.0" width="1.8" height="11.5" fill="#000" opacity="0.86"/><rect x="581.5" y="929.0" width="1.1" height="11.5" fill="#2000ff" opacity="0.78"/><rect x="583.5" y="929.0" width="1.9" height="11.5" fill="#2000ff" opacity="0.80"/><rect x="585.8" y="929.0" width="1.7" height="11.5" fill="#000" opacity="0.81"/><rect x="588.6" y="929.0" width="2.3" height="11.5" fill="#000" opacity="0.86"/><rect x="591.3" y="929.0" width="1.1" height="11.5" fill="#000" opacity="0.97"/><rect x="593.6" y="929.0" width="1.3" height="11.5" fill="#0000ff" opacity="0.75"/><rect x="595.9" y="929.0" width="1.5" height="11.5" fill="#000" opacity="0.92"/><rect x="598.3" y="929.0" width="1.5" height="11.5" fill="#000" opacity="0.91"/><rect x="600.8" y="929.0" width="1.4" height="11.5" fill="#0000ff" opacity="0.91"/><rect x="602.9" y="929.0" width="2.3" height="11.5" fill="#000" opacity="0.83"/><rect x="606.3" y="929.0" width="2.3" height="11.5" fill="#000" opacity="0.84"/><rect x="609.2" y="929.0" width="1.4" height="11.5" fill="#000" opacity="0.97"/><rect x="610.8" y="929.0" width="2.2" height="11.5" fill="#2000ff" opacity="0.97"/><rect x="614.1" y="929.0" width="2.2" height="11.5" fill="#0000ff" opacity="0.94"/><rect x="616.8" y="929.0" width="2.3" height="11.5" fill="#000" opacity="0.95"/><rect x="620.1" y="929.0" width="1.3" height="11.5" fill="#000" opacity="0.98"/><rect x="622.2" y="929.0" width="1.4" height="11.5" fill="#2000ff" opacity="0.90"/><rect x="622.3" y="933.0" width="1.1" height="5.8" fill="#9010ff" opacity="0.93"/><rect x="623.7" y="929.0" width="2.1" height="11.5" fill="#0000ff" opacity="0.82"/><rect x="627.0" y="929.0" width="1.6" height="11.5" fill="#0000ff" opacity="0.76"/><rect x="629.4" y="929.0" width="1.3" height="11.5" fill="#2000ff" opacity="0.93"/><rect x="631.8" y="929.0" width="2.4" height="11.5" fill="#000" opacity="0.91"/><rect x="634.9" y="929.0" width="1.3" height="11.5" fill="#2000ff" opacity="0.90"/><rect x="636.7" y="929.0" width="2.0" height="11.5" fill="#000" opacity="0.97"/><rect x="638.8" y="929.0" width="2.3" height="11.5" fill="#000" opacity="0.95"/><rect x="642.1" y="929.0" width="1.9" height="11.5" fill="#0000ff" opacity="0.91"/><rect x="644.7" y="929.0" width="1.2" height="11.5" fill="#2000ff" opacity="0.90"/><rect x="646.5" y="929.0" width="1.3" height="11.5" fill="#000" opacity="0.86"/><rect x="647.9" y="929.0" width="1.9" height="11.5" fill="#0000ff" opacity="0.76"/><rect x="650.1" y="929.0" width="1.6" height="11.5" fill="#2000ff" opacity="0.75"/><rect x="652.1" y="929.0" width="2.2" height="11.5" fill="#0000ff" opacity="0.91"/><rect x="654.5" y="929.0" width="1.9" height="11.5" fill="#0000ff" opacity="0.92"/><rect x="657.6" y="929.0" width="1.4" height="11.5" fill="#2000ff" opacity="0.86"/><rect x="659.4" y="929.0" width="1.1" height="11.5" fill="#2000ff" opacity="0.70"/><rect x="660.8" y="929.0" width="1.2" height="11.5" fill="#2000ff" opacity="0.77"/><rect x="662.3" y="929.0" width="1.6" height="11.5" fill="#0000ff" opacity="0.81"/><rect x="664.6" y="929.0" width="1.1" height="11.5" fill="#0000ff" opacity="0.75"/><rect x="666.3" y="929.0" width="2.4" height="11.5" fill="#2000ff" opacity="0.85"/><rect x="669.1" y="929.0" width="1.8" height="11.5" fill="#2000ff" opacity="0.92"/><rect x="671.8" y="929.0" width="1.3" height="11.5" fill="#000" opacity="0.92"/><rect x="673.7" y="929.0" width="2.0" height="11.5" fill="#000" opacity="0.90"/><rect x="675.8" y="929.0" width="2.0" height="11.5" fill="#2000ff" opacity="0.90"/><rect x="678.5" y="929.0" width="1.6" height="11.5" fill="#0000ff" opacity="0.99"/><rect x="680.8" y="929.0" width="1.8" height="11.5" fill="#000" opacity="0.94"/><rect x="683.5" y="929.0" width="2.4" height="11.5" fill="#000" opacity="0.88"/><rect x="686.4" y="929.0" width="1.7" height="11.5" fill="#000" opacity="0.94"/><rect x="688.7" y="929.0" width="1.9" height="11.5" fill="#0000ff" opacity="0.91"/><rect x="688.8" y="933.0" width="1.5" height="5.8" fill="#ff56a9" opacity="0.96"/><rect x="690.9" y="929.0" width="1.9" height="11.5" fill="#0000ff" opacity="0.88"/><rect x="693.3" y="929.0" width="1.0" height="11.5" fill="#000" opacity="0.83"/><rect x="695.3" y="929.0" width="1.2" height="11.5" fill="#0000ff" opacity="0.80"/><rect x="696.9" y="929.0" width="2.0" height="11.5" fill="#000" opacity="0.95"/><rect x="699.4" y="929.0" width="1.2" height="11.5" fill="#000" opacity="0.85"/><rect x="701.7" y="929.0" width="1.7" height="11.5" fill="#2000ff" opacity="0.81"/><rect x="701.8" y="933.0" width="1.3" height="5.8" fill="#9010ff" opacity="0.64"/><rect x="704.4" y="929.0" width="1.1" height="11.5" fill="#000" opacity="0.95"/><rect x="706.3" y="929.0" width="1.2" height="11.5" fill="#000" opacity="0.91"/><rect x="708.6" y="929.0" width="1.8" height="11.5" fill="#000" opacity="0.85"/><rect x="711.1" y="929.0" width="1.8" height="11.5" fill="#0000ff" opacity="0.92"/><rect x="713.1" y="929.0" width="2.1" height="11.5" fill="#2000ff" opacity="0.84"/><rect x="715.7" y="929.0" width="1.7" height="11.5" fill="#0000ff" opacity="0.88"/><rect x="717.7" y="929.0" width="1.4" height="11.5" fill="#000" opacity="0.98"/><rect x="719.3" y="929.0" width="1.0" height="11.5" fill="#0000ff" opacity="0.99"/><rect x="721.1" y="929.0" width="1.9" height="11.5" fill="#0000ff" opacity="0.97"/><rect x="723.2" y="929.0" width="1.9" height="11.5" fill="#000" opacity="0.98"/><rect x="725.4" y="929.0" width="2.0" height="11.5" fill="#000" opacity="0.93"/><rect x="728.3" y="929.0" width="2.2" height="11.5" fill="#000" opacity="0.97"/><rect x="731.4" y="929.0" width="1.2" height="11.5" fill="#2000ff" opacity="0.85"/><rect x="732.9" y="929.0" width="2.3" height="11.5" fill="#0000ff" opacity="0.98"/><rect x="735.4" y="929.0" width="1.1" height="11.5" fill="#000" opacity="0.92"/><rect x="737.5" y="929.0" width="2.0" height="11.5" fill="#000" opacity="0.89"/><rect x="739.5" y="929.0" width="1.4" height="11.5" fill="#0000ff" opacity="1.00"/><rect x="741.7" y="929.0" width="2.3" height="11.5" fill="#0000ff" opacity="0.80"/><rect x="741.9" y="933.0" width="1.8" height="5.8" fill="#c030e0" opacity="0.72"/><rect x="745.1" y="929.0" width="1.3" height="11.5" fill="#0000ff" opacity="0.73"/><rect x="747.5" y="929.0" width="2.4" height="11.5" fill="#000" opacity="1.00"/><rect x="750.7" y="929.0" width="2.2" height="11.5" fill="#0000ff" opacity="0.91"/><rect x="753.0" y="929.0" width="1.4" height="11.5" fill="#000" opacity="0.93"/><rect x="755.3" y="929.0" width="2.3" height="11.5" fill="#000" opacity="0.88"/><rect x="758.4" y="929.0" width="2.1" height="11.5" fill="#0000ff" opacity="0.73"/><rect x="758.6" y="933.0" width="1.7" height="5.8" fill="#b028e8" opacity="0.90"/><rect x="761.2" y="929.0" width="2.1" height="11.5" fill="#2000ff" opacity="0.91"/><rect x="761.4" y="933.0" width="1.7" height="5.8" fill="#ff56a9" opacity="0.64"/><rect x="764.0" y="929.0" width="1.7" height="11.5" fill="#0000ff" opacity="0.96"/><rect x="766.0" y="929.0" width="1.9" height="11.5" fill="#000" opacity="0.88"/><rect x="768.9" y="929.0" width="2.2" height="11.5" fill="#0000ff" opacity="0.93"/><rect x="772.2" y="929.0" width="2.3" height="11.5" fill="#0000ff" opacity="0.71"/><rect x="772.4" y="933.0" width="1.8" height="5.8" fill="#b028e8" opacity="0.70"/><rect x="774.8" y="929.0" width="1.3" height="11.5" fill="#2000ff" opacity="0.82"/><rect x="777.2" y="929.0" width="1.2" height="11.5" fill="#2000ff" opacity="0.83"/><rect x="777.3" y="933.0" width="1.0" height="5.8" fill="#ff56a9" opacity="0.78"/><rect x="778.8" y="929.0" width="1.4" height="11.5" fill="#0000ff" opacity="0.89"/><rect x="780.3" y="929.0" width="1.8" height="11.5" fill="#000" opacity="0.82"/><rect x="782.6" y="929.0" width="2.1" height="11.5" fill="#2000ff" opacity="0.93"/><rect x="785.4" y="929.0" width="1.4" height="11.5" fill="#000" opacity="0.82"/><rect x="786.8" y="929.0" width="1.9" height="11.5" fill="#0000ff" opacity="0.81"/><rect x="789.1" y="929.0" width="1.5" height="11.5" fill="#2000ff" opacity="0.83"/><rect x="790.7" y="929.0" width="2.2" height="11.5" fill="#2000ff" opacity="0.90"/><rect x="793.6" y="929.0" width="1.8" height="11.5" fill="#000" opacity="0.93"/><rect x="795.7" y="929.0" width="1.5" height="11.5" fill="#0000ff" opacity="0.88"/><rect x="797.2" y="929.0" width="1.8" height="11.5" fill="#0000ff" opacity="0.98"/><rect x="799.3" y="929.0" width="2.2" height="11.5" fill="#0000ff" opacity="0.71"/><rect x="802.6" y="929.0" width="2.3" height="11.5" fill="#000" opacity="0.97"/><rect x="805.2" y="929.0" width="1.7" height="11.5" fill="#000" opacity="0.90"/><rect x="807.1" y="929.0" width="2.4" height="11.5" fill="#000" opacity="0.97"/><rect x="810.3" y="929.0" width="1.8" height="11.5" fill="#000" opacity="0.82"/><rect x="812.9" y="929.0" width="1.1" height="11.5" fill="#000" opacity="0.82"/><rect x="814.0" y="929.0" width="1.7" height="11.5" fill="#0000ff" opacity="0.73"/><rect x="815.9" y="929.0" width="1.5" height="11.5" fill="#0000ff" opacity="0.96"/><rect x="816.0" y="933.0" width="1.2" height="5.8" fill="#b028e8" opacity="0.74"/><rect x="818.5" y="929.0" width="1.0" height="11.5" fill="#000" opacity="0.83"/><rect x="820.4" y="929.0" width="1.3" height="11.5" fill="#000" opacity="0.98"/><rect x="822.6" y="929.0" width="1.6" height="11.5" fill="#0000ff" opacity="0.92"/><rect x="824.4" y="929.0" width="2.0" height="11.5" fill="#000" opacity="0.98"/><rect x="827.6" y="929.0" width="2.0" height="11.5" fill="#0000ff" opacity="0.97"/><rect x="829.8" y="929.0" width="2.2" height="11.5" fill="#2000ff" opacity="0.92"/><rect x="832.4" y="929.0" width="2.3" height="11.5" fill="#2000ff" opacity="0.88"/><rect x="834.9" y="929.0" width="1.5" height="11.5" fill="#000" opacity="0.94"/><rect x="836.7" y="929.0" width="2.2" height="11.5" fill="#000" opacity="0.83"/><rect x="839.4" y="929.0" width="2.3" height="11.5" fill="#0000ff" opacity="0.90"/><rect x="842.2" y="929.0" width="2.3" height="11.5" fill="#000" opacity="0.96"/><rect x="844.6" y="929.0" width="1.3" height="11.5" fill="#2000ff" opacity="0.95"/><rect x="846.3" y="929.0" width="1.7" height="11.5" fill="#2000ff" opacity="0.75"/><rect x="848.4" y="929.0" width="1.9" height="11.5" fill="#2000ff" opacity="0.83"/><rect x="851.1" y="929.0" width="1.6" height="11.5" fill="#0000ff" opacity="0.72"/><rect x="853.3" y="929.0" width="2.0" height="11.5" fill="#000" opacity="0.95"/><rect x="856.1" y="929.0" width="1.1" height="11.5" fill="#000" opacity="0.87"/><rect x="857.4" y="929.0" width="2.2" height="11.5" fill="#000" opacity="0.81"/><rect x="860.2" y="929.0" width="1.4" height="11.5" fill="#0000ff" opacity="0.89"/><rect x="861.6" y="929.0" width="2.3" height="11.5" fill="#000" opacity="0.91"/><rect x="864.2" y="929.0" width="2.4" height="11.5" fill="#0000ff" opacity="0.85"/><rect x="867.0" y="929.0" width="2.3" height="11.5" fill="#000" opacity="0.82"/><rect x="869.9" y="929.0" width="1.5" height="11.5" fill="#0000ff" opacity="0.82"/><rect x="870.1" y="933.0" width="1.2" height="5.8" fill="#b028e8" opacity="0.98"/><rect x="871.6" y="929.0" width="2.3" height="11.5" fill="#2000ff" opacity="0.82"/><rect x="871.9" y="933.0" width="1.8" height="5.8" fill="#b028e8" opacity="0.67"/><rect x="874.2" y="929.0" width="1.7" height="11.5" fill="#2000ff" opacity="0.97"/><rect x="876.0" y="929.0" width="2.2" height="11.5" fill="#000" opacity="0.86"/><rect x="879.0" y="929.0" width="1.9" height="11.5" fill="#000" opacity="0.96"/><rect x="881.3" y="929.0" width="2.4" height="11.5" fill="#2000ff" opacity="0.85"/><rect x="883.7" y="929.0" width="1.8" height="11.5" fill="#2000ff" opacity="0.72"/><rect x="886.5" y="929.0" width="1.3" height="11.5" fill="#000" opacity="0.97"/><rect x="888.7" y="929.0" width="1.4" height="11.5" fill="#0000ff" opacity="0.89"/><rect x="890.6" y="929.0" width="2.0" height="11.5" fill="#0000ff" opacity="0.75"/><rect x="892.8" y="929.0" width="2.2" height="11.5" fill="#0000ff" opacity="0.71"/><rect x="893.0" y="933.0" width="1.8" height="5.8" fill="#c030e0" opacity="0.90"/><rect x="896.0" y="929.0" width="2.2" height="11.5" fill="#0000ff" opacity="0.79"/><rect x="899.4" y="929.0" width="1.3" height="11.5" fill="#0000ff" opacity="0.80"/><rect x="901.1" y="929.0" width="2.2" height="11.5" fill="#000" opacity="0.81"/><rect x="903.9" y="929.0" width="1.9" height="11.5" fill="#0000ff" opacity="0.97"/><rect x="906.9" y="929.0" width="2.0" height="11.5" fill="#0000ff" opacity="0.87"/><rect x="909.8" y="929.0" width="1.9" height="11.5" fill="#000" opacity="0.81"/><rect x="912.6" y="929.0" width="2.3" height="11.5" fill="#2000ff" opacity="0.76"/><rect x="912.8" y="933.0" width="1.8" height="5.8" fill="#b028e8" opacity="0.89"/><rect x="915.3" y="929.0" width="2.2" height="11.5" fill="#2000ff" opacity="0.74"/><rect x="918.0" y="929.0" width="1.4" height="11.5" fill="#0000ff" opacity="0.93"/><rect x="918.1" y="933.0" width="1.1" height="5.8" fill="#b028e8" opacity="0.75"/><rect x="919.6" y="929.0" width="2.4" height="11.5" fill="#2000ff" opacity="0.73"/><rect x="923.1" y="929.0" width="2.1" height="11.5" fill="#2000ff" opacity="0.90"/><rect x="926.1" y="929.0" width="1.4" height="11.5" fill="#0000ff" opacity="0.89"/><rect x="928.0" y="929.0" width="1.9" height="11.5" fill="#000" opacity="0.89"/><rect x="930.4" y="929.0" width="1.8" height="11.5" fill="#000" opacity="0.91"/><rect x="933.4" y="929.0" width="1.1" height="11.5" fill="#0000ff" opacity="0.75"/><rect x="935.0" y="929.0" width="2.2" height="11.5" fill="#2000ff" opacity="0.77"/><rect x="937.5" y="929.0" width="1.5" height="11.5" fill="#000" opacity="0.85"/><rect x="939.0" y="929.0" width="2.4" height="11.5" fill="#0000ff" opacity="0.87"/><rect x="942.1" y="929.0" width="1.6" height="11.5" fill="#000" opacity="0.94"/><rect x="944.5" y="929.0" width="2.4" height="11.5" fill="#2000ff" opacity="0.93"/><rect x="948.0" y="929.0" width="1.4" height="11.5" fill="#000" opacity="1.00"/><rect x="950.4" y="929.0" width="1.1" height="11.5" fill="#000" opacity="0.94"/><rect x="952.5" y="929.0" width="2.4" height="11.5" fill="#0000ff" opacity="0.75"/><rect x="954.9" y="929.0" width="1.2" height="11.5" fill="#0000ff" opacity="0.94"/><rect x="957.2" y="929.0" width="1.8" height="11.5" fill="#000" opacity="0.98"/><rect x="959.5" y="929.0" width="1.6" height="11.5" fill="#000" opacity="0.83"/><rect x="961.3" y="929.0" width="2.2" height="11.5" fill="#000" opacity="0.89"/><rect x="964.1" y="929.0" width="2.1" height="11.5" fill="#000" opacity="1.00"/><rect x="966.8" y="929.0" width="1.4" height="11.5" fill="#000" opacity="0.87"/><rect x="968.7" y="929.0" width="1.2" height="11.5" fill="#000" opacity="0.89"/><rect x="970.4" y="929.0" width="1.3" height="11.5" fill="#000" opacity="0.87"/><rect x="971.8" y="929.0" width="1.6" height="11.5" fill="#2000ff" opacity="0.98"/><rect x="973.6" y="929.0" width="1.9" height="11.5" fill="#000" opacity="0.92"/><rect x="976.0" y="929.0" width="1.2" height="11.5" fill="#000" opacity="0.98"/><rect x="977.4" y="929.0" width="1.1" height="11.5" fill="#000" opacity="0.84"/><rect x="979.1" y="929.0" width="2.0" height="11.5" fill="#0000ff" opacity="0.74"/><rect x="982.3" y="929.0" width="1.8" height="11.5" fill="#2000ff" opacity="0.83"/><rect x="985.0" y="929.0" width="1.9" height="11.5" fill="#2000ff" opacity="0.78"/><rect x="987.9" y="929.0" width="2.1" height="11.5" fill="#0000ff" opacity="0.95"/><rect x="991.2" y="929.0" width="1.8" height="11.5" fill="#0000ff" opacity="0.88"/><rect x="993.9" y="929.0" width="1.8" height="11.5" fill="#2000ff" opacity="0.95"/><rect x="996.5" y="929.0" width="1.3" height="11.5" fill="#000" opacity="0.82"/><rect x="998.3" y="929.0" width="2.1" height="11.5" fill="#0000ff" opacity="0.79"/><rect x="1001.4" y="929.0" width="1.2" height="11.5" fill="#0000ff" opacity="0.80"/><rect x="1003.7" y="929.0" width="1.8" height="11.5" fill="#0000ff" opacity="0.72"/><rect x="1003.9" y="933.0" width="1.4" height="5.8" fill="#c030e0" opacity="0.86"/><rect x="1006.5" y="929.0" width="2.0" height="11.5" fill="#000" opacity="0.92"/><rect x="1008.7" y="929.0" width="1.4" height="11.5" fill="#0000ff" opacity="0.76"/><rect x="1010.8" y="929.0" width="1.7" height="11.5" fill="#000" opacity="0.93"/><rect x="1013.1" y="929.0" width="1.2" height="11.5" fill="#0000ff" opacity="0.89"/><rect x="1015.4" y="929.0" width="1.8" height="11.5" fill="#2000ff" opacity="0.83"/><rect x="1018.3" y="929.0" width="1.7" height="11.5" fill="#000" opacity="0.94"/><rect x="1020.9" y="929.0" width="1.9" height="11.5" fill="#000" opacity="0.91"/><rect x="1023.3" y="929.0" width="1.7" height="11.5" fill="#000" opacity="0.83"/><rect x="1026.1" y="929.0" width="1.0" height="11.5" fill="#000" opacity="0.97"/><rect x="1028.2" y="929.0" width="2.4" height="11.5" fill="#0000ff" opacity="0.84"/><rect x="1031.3" y="929.0" width="1.6" height="11.5" fill="#2000ff" opacity="0.74"/><rect x="1033.8" y="929.0" width="2.1" height="11.5" fill="#0000ff" opacity="0.71"/><rect x="1036.7" y="929.0" width="2.0" height="11.5" fill="#2000ff" opacity="0.77"/><rect x="1039.8" y="929.0" width="2.4" height="11.5" fill="#2000ff" opacity="0.85"/><rect x="1042.7" y="929.0" width="1.2" height="11.5" fill="#0000ff" opacity="0.84"/><rect x="1044.9" y="929.0" width="1.8" height="11.5" fill="#2000ff" opacity="0.89"/><rect x="1047.2" y="929.0" width="2.0" height="11.5" fill="#000" opacity="0.91"/><rect x="1050.2" y="929.0" width="1.2" height="11.5" fill="#000" opacity="0.84"/><rect x="1052.1" y="929.0" width="2.3" height="11.5" fill="#2000ff" opacity="0.74"/><rect x="1052.3" y="933.0" width="1.9" height="5.8" fill="#9010ff" opacity="0.85"/><rect x="1054.4" y="929.0" width="2.2" height="11.5" fill="#000" opacity="0.97"/><rect x="1057.3" y="929.0" width="2.3" height="11.5" fill="#000" opacity="0.89"/><rect x="1059.7" y="929.0" width="2.2" height="11.5" fill="#2000ff" opacity="0.95"/><rect x="1062.3" y="929.0" width="1.5" height="11.5" fill="#2000ff" opacity="0.95"/><rect x="1064.4" y="929.0" width="2.0" height="11.5" fill="#0000ff" opacity="0.73"/><rect x="1067.2" y="929.0" width="1.1" height="11.5" fill="#0000ff" opacity="0.94"/><rect x="1069.3" y="929.0" width="2.4" height="11.5" fill="#0000ff" opacity="0.99"/><rect x="1072.7" y="929.0" width="2.2" height="11.5" fill="#0000ff" opacity="0.72"/><rect x="1075.5" y="929.0" width="2.1" height="11.5" fill="#000" opacity="0.96"/><rect x="1078.4" y="929.0" width="2.0" height="11.5" fill="#000" opacity="0.86"/><rect x="1080.9" y="929.0" width="1.5" height="11.5" fill="#000" opacity="0.94"/><rect x="1083.1" y="929.0" width="1.4" height="11.5" fill="#0000ff" opacity="0.84"/><rect x="1085.5" y="929.0" width="1.3" height="11.5" fill="#2000ff" opacity="0.71"/><rect x="1086.8" y="929.0" width="1.0" height="11.5" fill="#000" opacity="0.86"/><rect x="1088.7" y="929.0" width="2.0" height="11.5" fill="#000" opacity="0.99"/><rect x="1090.7" y="929.0" width="1.7" height="11.5" fill="#0000ff" opacity="0.80"/><rect x="1090.9" y="933.0" width="1.4" height="5.8" fill="#9010ff" opacity="0.82"/><rect x="1092.5" y="929.0" width="2.0" height="11.5" fill="#2000ff" opacity="0.70"/><rect x="1092.7" y="933.0" width="1.6" height="5.8" fill="#b028e8" opacity="0.84"/><rect x="1094.7" y="929.0" width="2.0" height="11.5" fill="#0000ff" opacity="0.79"/><rect x="1097.2" y="929.0" width="1.0" height="11.5" fill="#000" opacity="0.80"/><rect x="1098.8" y="929.0" width="1.7" height="11.5" fill="#000" opacity="0.91"/><rect x="1101.3" y="929.0" width="1.6" height="11.5" fill="#0000ff" opacity="0.70"/><rect x="1103.1" y="929.0" width="1.8" height="11.5" fill="#0000ff" opacity="0.74"/><rect x="1103.2" y="933.0" width="1.4" height="5.8" fill="#b028e8" opacity="0.87"/><rect x="1105.8" y="929.0" width="1.2" height="11.5" fill="#000" opacity="0.94"/><rect x="1107.3" y="929.0" width="2.0" height="11.5" fill="#0000ff" opacity="0.84"/><rect x="1109.7" y="929.0" width="2.2" height="11.5" fill="#000" opacity="0.82"/><rect x="1113.1" y="929.0" width="2.3" height="11.5" fill="#000" opacity="0.83"/><rect x="1115.9" y="929.0" width="1.3" height="11.5" fill="#0000ff" opacity="0.92"/><rect x="1118.1" y="929.0" width="1.2" height="11.5" fill="#0000ff" opacity="0.78"/><rect x="1119.8" y="929.0" width="1.9" height="11.5" fill="#2000ff" opacity="0.77"/><rect x="1122.5" y="929.0" width="1.7" height="11.5" fill="#0000ff" opacity="0.91"/><rect x="1124.7" y="929.0" width="1.5" height="11.5" fill="#0000ff" opacity="0.98"/><rect x="1126.8" y="929.0" width="1.1" height="11.5" fill="#2000ff" opacity="0.88"/><rect x="1129.1" y="929.0" width="1.0" height="11.5" fill="#0000ff" opacity="1.00"/><rect x="1130.6" y="929.0" width="1.3" height="11.5" fill="#000" opacity="0.86"/><rect x="1132.5" y="929.0" width="1.9" height="11.5" fill="#000" opacity="0.94"/><rect x="1135.5" y="929.0" width="2.3" height="11.5" fill="#000" opacity="0.82"/><rect x="1137.9" y="929.0" width="1.6" height="11.5" fill="#0000ff" opacity="0.87"/><rect x="1140.2" y="929.0" width="1.1" height="11.5" fill="#0000ff" opacity="0.78"/><rect x="1140.3" y="933.0" width="0.9" height="5.8" fill="#b028e8" opacity="0.67"/><rect x="1142.2" y="929.0" width="2.1" height="11.5" fill="#2000ff" opacity="0.86"/><rect x="1144.7" y="929.0" width="2.2" height="11.5" fill="#000" opacity="0.99"/><rect x="1147.9" y="929.0" width="1.9" height="11.5" fill="#2000ff" opacity="0.81"/><rect x="1148.0" y="933.0" width="1.5" height="5.8" fill="#9010ff" opacity="0.96"/><rect x="1150.5" y="929.0" width="1.3" height="11.5" fill="#000" opacity="0.86"/><rect x="1152.7" y="929.0" width="1.8" height="11.5" fill="#000" opacity="0.96"/><rect x="1155.4" y="929.0" width="1.6" height="11.5" fill="#000" opacity="0.84"/><rect x="1157.4" y="929.0" width="1.5" height="11.5" fill="#000" opacity="0.81"/><rect x="1159.5" y="929.0" width="1.6" height="11.5" fill="#0000ff" opacity="0.98"/><rect x="1161.6" y="929.0" width="2.0" height="11.5" fill="#000" opacity="0.85"/><rect x="1164.3" y="929.0" width="1.3" height="11.5" fill="#0000ff" opacity="0.82"/><rect x="1166.7" y="929.0" width="1.1" height="11.5" fill="#0000ff" opacity="0.72"/><rect x="1166.8" y="933.0" width="0.9" height="5.8" fill="#b028e8" opacity="0.86"/><rect x="1167.9" y="929.0" width="1.4" height="11.5" fill="#000" opacity="0.94"/><rect x="1169.8" y="929.0" width="2.2" height="11.5" fill="#0000ff" opacity="0.95"/><rect x="1172.4" y="929.0" width="2.3" height="11.5" fill="#000" opacity="0.96"/><rect x="1175.6" y="929.0" width="2.3" height="11.5" fill="#000" opacity="0.85"/><rect x="1178.1" y="929.0" width="1.8" height="11.5" fill="#000" opacity="0.89"/><rect x="1180.3" y="929.0" width="1.9" height="11.5" fill="#000" opacity="0.91"/><rect x="1183.2" y="929.0" width="2.0" height="11.5" fill="#0000ff" opacity="0.97"/><rect x="1185.6" y="929.0" width="2.3" height="11.5" fill="#2000ff" opacity="0.94"/><rect x="1188.5" y="929.0" width="1.1" height="11.5" fill="#0000ff" opacity="0.70"/><rect x="1190.5" y="929.0" width="1.2" height="11.5" fill="#0000ff" opacity="0.71"/><rect x="1190.6" y="933.0" width="0.9" height="5.8" fill="#c030e0" opacity="0.86"/><rect x="1192.8" y="929.0" width="1.4" height="11.5" fill="#000" opacity="0.94"/><rect x="1195.0" y="929.0" width="1.5" height="11.5" fill="#000" opacity="0.87"/><rect x="1197.3" y="929.0" width="2.3" height="11.5" fill="#000" opacity="0.92"/><rect x="1200.8" y="929.0" width="1.3" height="11.5" fill="#000" opacity="0.84"/><rect x="1203.1" y="929.0" width="2.1" height="11.5" fill="#000" opacity="0.84"/><rect x="1206.1" y="929.0" width="1.4" height="11.5" fill="#0000ff" opacity="0.75"/><rect x="1208.0" y="929.0" width="1.9" height="11.5" fill="#0000ff" opacity="0.82"/><rect x="1208.2" y="933.0" width="1.5" height="5.8" fill="#c030e0" opacity="0.92"/><rect x="1210.4" y="929.0" width="1.9" height="11.5" fill="#000" opacity="0.89"/><rect x="1213.4" y="929.0" width="1.8" height="11.5" fill="#000" opacity="0.86"/><rect x="1216.0" y="929.0" width="2.2" height="11.5" fill="#000" opacity="0.99"/><rect x="1218.6" y="929.0" width="1.0" height="11.5" fill="#000" opacity="0.94"/><rect x="1220.3" y="929.0" width="2.0" height="11.5" fill="#000" opacity="0.98"/><rect x="1223.1" y="929.0" width="2.2" height="11.5" fill="#0000ff" opacity="0.98"/><rect x="1225.8" y="929.0" width="2.4" height="11.5" fill="#0000ff" opacity="0.94"/><rect x="1228.4" y="929.0" width="1.0" height="11.5" fill="#0000ff" opacity="0.95"/><rect x="1229.6" y="929.0" width="1.9" height="11.5" fill="#000" opacity="0.98"/><rect x="1232.0" y="929.0" width="1.8" height="11.5" fill="#000" opacity="0.93"/><rect x="1234.0" y="929.0" width="2.2" height="11.5" fill="#2000ff" opacity="0.99"/><rect x="1237.1" y="929.0" width="2.1" height="11.5" fill="#0000ff" opacity="0.77"/><rect x="1237.3" y="933.0" width="1.7" height="5.8" fill="#b028e8" opacity="0.78"/><rect x="1240.4" y="929.0" width="1.3" height="11.5" fill="#000" opacity="0.99"/><rect x="1242.6" y="929.0" width="2.2" height="11.5" fill="#000" opacity="0.89"/><rect x="1245.9" y="929.0" width="1.4" height="11.5" fill="#000" opacity="0.82"/><rect x="1248.2" y="929.0" width="1.5" height="11.5" fill="#0000ff" opacity="0.86"/><rect x="1250.4" y="929.0" width="2.4" height="11.5" fill="#000" opacity="0.88"/><rect x="1252.8" y="929.0" width="1.1" height="11.5" fill="#000" opacity="0.95"/><rect x="1254.0" y="929.0" width="1.2" height="11.5" fill="#2000ff" opacity="0.96"/><rect x="1254.1" y="933.0" width="0.9" height="5.8" fill="#9010ff" opacity="0.73"/><rect x="1255.5" y="929.0" width="2.1" height="11.5" fill="#0000ff" opacity="0.73"/><rect x="1257.8" y="929.0" width="1.2" height="11.5" fill="#000" opacity="0.81"/><rect x="1259.2" y="929.0" width="1.9" height="11.5" fill="#000" opacity="0.84"/><rect x="1261.2" y="929.0" width="2.2" height="11.5" fill="#0000ff" opacity="0.96"/><rect x="1261.4" y="933.0" width="1.8" height="5.8" fill="#ff56a9" opacity="0.82"/><rect x="1263.6" y="929.0" width="1.3" height="11.5" fill="#0000ff" opacity="0.86"/><rect x="1265.1" y="929.0" width="2.0" height="11.5" fill="#000" opacity="0.85"/><rect x="1267.9" y="929.0" width="1.6" height="11.5" fill="#0000ff" opacity="0.75"/><rect x="1270.0" y="929.0" width="2.1" height="11.5" fill="#2000ff" opacity="0.88"/><rect x="1270.2" y="933.0" width="1.7" height="5.8" fill="#ff56a9" opacity="0.81"/><rect x="1272.6" y="929.0" width="1.0" height="11.5" fill="#000" opacity="0.80"/><rect x="1274.3" y="929.0" width="2.4" height="11.5" fill="#000" opacity="0.84"/><rect x="1276.9" y="929.0" width="1.8" height="11.5" fill="#0000ff" opacity="0.71"/><rect x="1279.6" y="929.0" width="1.7" height="11.5" fill="#000" opacity="0.91"/><rect x="1281.3" y="929.0" width="2.2" height="11.5" fill="#000" opacity="0.89"/><rect x="1284.3" y="929.0" width="2.1" height="11.5" fill="#0000ff" opacity="0.98"/><rect x="1287.3" y="929.0" width="1.7" height="11.5" fill="#000" opacity="0.96"/><rect x="1289.9" y="929.0" width="1.1" height="11.5" fill="#2000ff" opacity="0.89"/><rect x="1291.7" y="929.0" width="1.5" height="11.5" fill="#000" opacity="0.89"/><rect x="1293.8" y="929.0" width="1.7" height="11.5" fill="#2000ff" opacity="0.97"/><rect x="1296.7" y="929.0" width="2.4" height="11.5" fill="#000" opacity="0.82"/><rect x="1299.4" y="929.0" width="1.2" height="11.5" fill="#2000ff" opacity="0.79"/><rect x="1299.5" y="933.0" width="0.9" height="5.8" fill="#ff56a9" opacity="0.91"/><rect x="1301.2" y="929.0" width="1.4" height="11.5" fill="#2000ff" opacity="0.94"/><rect x="1303.2" y="929.0" width="2.2" height="11.5" fill="#0000ff" opacity="0.71"/><rect x="1306.2" y="929.0" width="1.8" height="11.5" fill="#2000ff" opacity="0.70"/><rect x="1309.0" y="929.0" width="1.6" height="11.5" fill="#000" opacity="0.95"/><rect x="1311.6" y="929.0" width="1.8" height="11.5" fill="#2000ff" opacity="0.78"/><rect x="1314.5" y="929.0" width="1.7" height="11.5" fill="#000" opacity="0.95"/><rect x="1317.4" y="929.0" width="2.3" height="11.5" fill="#000" opacity="0.95"/><rect x="1320.7" y="929.0" width="1.9" height="11.5" fill="#000" opacity="0.81"/><rect x="1323.8" y="929.0" width="1.0" height="11.5" fill="#0000ff" opacity="0.99"/><rect x="1323.9" y="933.0" width="0.8" height="5.8" fill="#ff56a9" opacity="0.61"/><rect x="1325.4" y="929.0" width="2.2" height="11.5" fill="#000" opacity="0.86"/><rect x="1327.6" y="929.0" width="1.5" height="11.5" fill="#2000ff" opacity="0.98"/><rect x="1327.7" y="933.0" width="1.2" height="5.8" fill="#ff56a9" opacity="0.87"/><rect x="1329.2" y="929.0" width="1.2" height="11.5" fill="#0000ff" opacity="0.92"/><rect x="1331.5" y="929.0" width="1.3" height="11.5" fill="#000" opacity="0.89"/><rect x="1334.0" y="929.0" width="1.7" height="11.5" fill="#000" opacity="0.95"/><rect x="1335.8" y="929.0" width="1.8" height="11.5" fill="#0000ff" opacity="0.83"/><rect x="1338.2" y="929.0" width="1.6" height="11.5" fill="#000" opacity="0.86"/><rect x="1339.8" y="929.0" width="1.2" height="11.5" fill="#2000ff" opacity="0.97"/><rect x="1341.5" y="929.0" width="1.3" height="11.5" fill="#000" opacity="0.95"/><rect x="1343.3" y="929.0" width="2.2" height="11.5" fill="#000" opacity="0.83"/><rect x="1345.5" y="929.0" width="2.2" height="11.5" fill="#000" opacity="0.83"/><rect x="1347.9" y="929.0" width="1.7" height="11.5" fill="#000" opacity="0.84"/><rect x="1350.0" y="929.0" width="1.3" height="11.5" fill="#0000ff" opacity="0.73"/><rect x="1351.9" y="929.0" width="1.4" height="11.5" fill="#000" opacity="0.91"/><rect x="1353.5" y="929.0" width="1.1" height="11.5" fill="#0000ff" opacity="0.94"/><rect x="1355.7" y="929.0" width="2.3" height="11.5" fill="#2000ff" opacity="0.75"/><rect x="1355.9" y="933.0" width="1.8" height="5.8" fill="#c030e0" opacity="0.92"/><rect x="1358.6" y="929.0" width="1.1" height="11.5" fill="#0000ff" opacity="0.86"/><rect x="1360.8" y="929.0" width="2.2" height="11.5" fill="#0000ff" opacity="0.89"/><rect x="1361.0" y="933.0" width="1.8" height="5.8" fill="#ff56a9" opacity="0.76"/><rect x="1363.0" y="929.0" width="1.6" height="11.5" fill="#000" opacity="0.87"/><rect x="1365.5" y="929.0" width="1.6" height="11.5" fill="#000" opacity="0.84"/><rect x="1367.1" y="929.0" width="1.4" height="11.5" fill="#2000ff" opacity="0.90"/><rect x="1369.4" y="929.0" width="1.6" height="11.5" fill="#0000ff" opacity="0.80"/><rect x="1371.9" y="929.0" width="1.0" height="11.5" fill="#000" opacity="0.81"/><rect x="1374.2" y="929.0" width="1.4" height="11.5" fill="#0000ff" opacity="0.99"/><rect x="1374.3" y="933.0" width="1.1" height="5.8" fill="#c030e0" opacity="0.92"/><rect x="1376.0" y="929.0" width="1.9" height="11.5" fill="#0000ff" opacity="0.97"/><rect x="1376.2" y="933.0" width="1.5" height="5.8" fill="#b028e8" opacity="0.66"/><rect x="1378.6" y="929.0" width="2.3" height="11.5" fill="#000" opacity="0.99"/><rect x="1381.6" y="929.0" width="2.2" height="11.5" fill="#000" opacity="0.85"/><rect x="1384.8" y="929.0" width="1.2" height="11.5" fill="#000" opacity="0.83"/><rect x="1386.7" y="929.0" width="1.8" height="11.5" fill="#2000ff" opacity="0.78"/><rect x="1389.4" y="929.0" width="1.6" height="11.5" fill="#000" opacity="0.95"/><rect x="1391.5" y="929.0" width="1.5" height="11.5" fill="#000" opacity="0.96"/><rect x="1394.1" y="929.0" width="1.2" height="11.5" fill="#2000ff" opacity="0.72"/><rect x="1395.6" y="929.0" width="2.3" height="11.5" fill="#0000ff" opacity="0.82"/><rect x="1399.0" y="929.0" width="1.3" height="11.5" fill="#000" opacity="0.89"/><rect x="1400.4" y="929.0" width="2.0" height="11.5" fill="#000" opacity="0.99"/><rect x="1403.4" y="929.0" width="1.6" height="11.5" fill="#0000ff" opacity="0.85"/><rect x="1406.2" y="929.0" width="1.5" height="11.5" fill="#0000ff" opacity="0.71"/><rect x="1408.4" y="929.0" width="1.4" height="11.5" fill="#0000ff" opacity="0.76"/><rect x="1410.2" y="929.0" width="2.2" height="11.5" fill="#000" opacity="0.82"/><rect x="1412.7" y="929.0" width="2.4" height="11.5" fill="#2000ff" opacity="0.88"/><rect x="1415.2" y="929.0" width="1.2" height="11.5" fill="#000" opacity="0.81"/><rect x="1416.7" y="929.0" width="1.9" height="11.5" fill="#2000ff" opacity="0.86"/><rect x="1419.7" y="929.0" width="1.3" height="11.5" fill="#000" opacity="0.81"/><rect x="1422.0" y="929.0" width="2.0" height="11.5" fill="#0000ff" opacity="0.96"/><rect x="1422.2" y="933.0" width="1.6" height="5.8" fill="#c030e0" opacity="0.82"/><rect x="1424.3" y="929.0" width="1.9" height="11.5" fill="#0000ff" opacity="0.79"/><rect x="1426.7" y="929.0" width="2.3" height="11.5" fill="#000" opacity="0.97"/><rect x="1429.7" y="929.0" width="1.4" height="11.5" fill="#0000ff" opacity="0.98"/><rect x="1429.9" y="933.0" width="1.2" height="5.8" fill="#c030e0" opacity="0.64"/><rect x="1431.4" y="929.0" width="1.1" height="11.5" fill="#2000ff" opacity="0.71"/><rect x="1432.8" y="929.0" width="1.3" height="11.5" fill="#0000ff" opacity="0.98"/><rect x="1434.4" y="929.0" width="1.7" height="11.5" fill="#0000ff" opacity="0.92"/><rect x="1437.0" y="929.0" width="1.2" height="11.5" fill="#000" opacity="1.00"/><rect x="1438.6" y="929.0" width="1.2" height="11.5" fill="#0000ff" opacity="0.90"/><rect x="1440.9" y="929.0" width="1.1" height="11.5" fill="#000" opacity="0.89"/><rect x="1443.1" y="929.0" width="2.1" height="11.5" fill="#0000ff" opacity="0.88"/><rect x="1445.8" y="929.0" width="2.1" height="11.5" fill="#000" opacity="0.88"/><rect x="1448.3" y="929.0" width="2.2" height="11.5" fill="#000" opacity="0.92"/><rect x="1451.7" y="929.0" width="1.2" height="11.5" fill="#000" opacity="0.98"/><rect x="1453.8" y="929.0" width="1.4" height="11.5" fill="#2000ff" opacity="0.75"/><rect x="1455.8" y="929.0" width="1.3" height="11.5" fill="#0000ff" opacity="0.72"/><rect x="1457.1" y="929.0" width="2.3" height="11.5" fill="#0000ff" opacity="0.86"/><rect x="1460.0" y="929.0" width="2.2" height="11.5" fill="#000" opacity="0.89"/><rect x="1463.2" y="929.0" width="2.1" height="11.5" fill="#000" opacity="0.80"/><rect x="1466.4" y="929.0" width="2.1" height="11.5" fill="#0000ff" opacity="0.89"/><rect x="1469.6" y="929.0" width="2.1" height="11.5" fill="#000" opacity="0.96"/><rect x="1472.1" y="929.0" width="2.0" height="11.5" fill="#000" opacity="0.95"/><rect x="1474.3" y="929.0" width="2.2" height="11.5" fill="#0000ff" opacity="0.81"/><rect x="1476.6" y="929.0" width="1.7" height="11.5" fill="#2000ff" opacity="0.92"/><rect x="1478.4" y="929.0" width="1.8" height="11.5" fill="#2000ff" opacity="0.71"/><rect x="1480.8" y="929.0" width="1.8" height="11.5" fill="#0000ff" opacity="0.95"/><rect x="1483.0" y="929.0" width="1.3" height="11.5" fill="#000" opacity="0.83"/><rect x="1484.7" y="929.0" width="2.0" height="11.5" fill="#000" opacity="0.98"/><rect x="1487.6" y="929.0" width="1.9" height="11.5" fill="#2000ff" opacity="0.83"/><rect x="1489.5" y="929.0" width="1.3" height="11.5" fill="#000" opacity="0.93"/><rect x="1491.1" y="929.0" width="2.1" height="11.5" fill="#2000ff" opacity="0.99"/><rect x="1493.5" y="929.0" width="1.6" height="11.5" fill="#000" opacity="0.86"/><rect x="1495.8" y="929.0" width="1.4" height="11.5" fill="#000" opacity="0.91"/><rect x="1498.2" y="929.0" width="1.6" height="11.5" fill="#000" opacity="0.92"/><rect x="1500.3" y="929.0" width="1.8" height="11.5" fill="#0000ff" opacity="0.82"/><rect x="1500.5" y="933.0" width="1.4" height="5.8" fill="#ff56a9" opacity="0.98"/><rect x="1502.6" y="929.0" width="1.6" height="11.5" fill="#0000ff" opacity="0.71"/><rect x="1505.1" y="929.0" width="2.0" height="11.5" fill="#000" opacity="0.85"/><rect x="1508.0" y="929.0" width="1.0" height="11.5" fill="#0000ff" opacity="0.91"/><rect x="1508.1" y="933.0" width="0.8" height="5.8" fill="#ff56a9" opacity="0.78"/><rect x="1510.1" y="929.0" width="1.1" height="11.5" fill="#2000ff" opacity="0.88"/><rect x="1512.2" y="929.0" width="1.9" height="11.5" fill="#0000ff" opacity="0.95"/><rect x="1514.9" y="929.0" width="1.2" height="11.5" fill="#000" opacity="1.00"/><rect x="1517.2" y="929.0" width="1.6" height="11.5" fill="#000" opacity="0.83"/><rect x="1519.5" y="929.0" width="1.3" height="11.5" fill="#000" opacity="0.99"/><rect x="1521.0" y="929.0" width="2.1" height="11.5" fill="#000" opacity="0.96"/><rect x="1524.1" y="929.0" width="1.8" height="11.5" fill="#2000ff" opacity="0.79"/><rect x="1525.9" y="929.0" width="1.8" height="11.5" fill="#0000ff" opacity="0.73"/><rect x="1528.6" y="929.0" width="2.0" height="11.5" fill="#000" opacity="0.80"/><rect x="1531.0" y="929.0" width="1.2" height="11.5" fill="#0000ff" opacity="0.76"/><rect x="1532.7" y="929.0" width="2.4" height="11.5" fill="#000" opacity="0.85"/><rect x="1535.5" y="929.0" width="1.1" height="11.5" fill="#0000ff" opacity="0.83"/><rect x="1537.5" y="929.0" width="1.8" height="11.5" fill="#2000ff" opacity="0.83"/><rect x="1540.1" y="929.0" width="1.3" height="11.5" fill="#000" opacity="0.92"/><rect x="1542.5" y="929.0" width="1.4" height="11.5" fill="#000" opacity="0.86"/><rect x="1544.6" y="929.0" width="2.0" height="11.5" fill="#000" opacity="0.83"/><rect x="1547.0" y="929.0" width="1.1" height="11.5" fill="#000" opacity="0.89"/><rect x="1549.0" y="929.0" width="2.0" height="11.5" fill="#0000ff" opacity="0.84"/><rect x="1552.1" y="929.0" width="1.2" height="11.5" fill="#0000ff" opacity="0.93"/><rect x="1552.2" y="933.0" width="1.0" height="5.8" fill="#b028e8" opacity="0.69"/><rect x="1554.0" y="929.0" width="1.7" height="11.5" fill="#0000ff" opacity="0.98"/><rect x="1556.8" y="929.0" width="1.9" height="11.5" fill="#000" opacity="0.94"/><rect x="1558.9" y="929.0" width="2.3" height="11.5" fill="#000" opacity="0.99"/><rect x="1561.4" y="929.0" width="1.6" height="11.5" fill="#000" opacity="0.91"/><rect x="1563.5" y="929.0" width="2.2" height="11.5" fill="#000" opacity="0.99"/><rect x="1566.2" y="929.0" width="1.4" height="11.5" fill="#000" opacity="0.81"/><rect x="1567.6" y="929.0" width="1.7" height="11.5" fill="#2000ff" opacity="1.00"/><rect x="1569.6" y="929.0" width="2.1" height="11.5" fill="#000" opacity="0.93"/><rect x="1571.9" y="929.0" width="1.7" height="11.5" fill="#0000ff" opacity="0.96"/><rect x="1572.1" y="933.0" width="1.4" height="5.8" fill="#9010ff" opacity="0.61"/><rect x="1574.5" y="929.0" width="2.0" height="11.5" fill="#000" opacity="0.84"/><rect x="1577.2" y="929.0" width="2.4" height="11.5" fill="#000" opacity="0.95"/><rect x="1579.6" y="929.0" width="1.9" height="11.5" fill="#000" opacity="0.98"/><rect x="1582.4" y="929.0" width="1.4" height="11.5" fill="#000" opacity="0.95"/><rect x="1584.1" y="929.0" width="1.5" height="11.5" fill="#000" opacity="0.90"/><rect x="1586.1" y="929.0" width="1.8" height="11.5" fill="#000" opacity="0.97"/><rect x="1588.5" y="929.0" width="1.5" height="11.5" fill="#000" opacity="0.97"/><rect x="1590.6" y="929.0" width="1.0" height="11.5" fill="#2000ff" opacity="0.89"/><rect x="1590.7" y="933.0" width="0.8" height="5.8" fill="#ff56a9" opacity="0.91"/><rect x="1591.9" y="929.0" width="1.9" height="11.5" fill="#000" opacity="0.99"/><rect x="1594.0" y="929.0" width="1.4" height="11.5" fill="#0000ff" opacity="0.75"/><rect x="1596.5" y="929.0" width="1.5" height="11.5" fill="#2000ff" opacity="0.89"/><rect x="1599.1" y="929.0" width="1.6" height="11.5" fill="#2000ff" opacity="0.91"/><rect x="1600.7" y="929.0" width="2.2" height="11.5" fill="#0000ff" opacity="0.92"/><rect x="1603.7" y="929.0" width="1.0" height="11.5" fill="#2000ff" opacity="0.81"/><rect x="1605.0" y="929.0" width="1.1" height="11.5" fill="#000" opacity="0.84"/><rect x="1607.4" y="929.0" width="2.1" height="11.5" fill="#000" opacity="0.91"/><rect x="1610.3" y="929.0" width="2.2" height="11.5" fill="#0000ff" opacity="0.71"/><rect x="1612.6" y="929.0" width="2.2" height="11.5" fill="#2000ff" opacity="0.82"/><rect x="1615.5" y="929.0" width="1.2" height="11.5" fill="#0000ff" opacity="0.83"/><rect x="1617.6" y="929.0" width="1.5" height="11.5" fill="#000" opacity="0.85"/><rect x="1620.1" y="929.0" width="2.3" height="11.5" fill="#0000ff" opacity="0.83"/><rect x="1623.2" y="929.0" width="2.2" height="11.5" fill="#2000ff" opacity="0.82"/><rect x="1623.4" y="933.0" width="1.7" height="5.8" fill="#ff56a9" opacity="0.92"/><rect x="1625.8" y="929.0" width="1.2" height="11.5" fill="#0000ff" opacity="0.89"/><rect x="1625.9" y="933.0" width="1.0" height="5.8" fill="#ff56a9" opacity="0.97"/><rect x="1628.2" y="929.0" width="1.3" height="11.5" fill="#000" opacity="0.93"/><rect x="1630.4" y="929.0" width="2.0" height="11.5" fill="#000" opacity="0.87"/><rect x="1633.1" y="929.0" width="1.6" height="11.5" fill="#2000ff" opacity="0.81"/><rect x="1635.3" y="929.0" width="1.6" height="11.5" fill="#0000ff" opacity="0.95"/><rect x="1637.6" y="929.0" width="1.4" height="11.5" fill="#000" opacity="0.87"/><rect x="1639.7" y="929.0" width="1.7" height="11.5" fill="#0000ff" opacity="0.72"/><rect x="1642.3" y="929.0" width="2.0" height="11.5" fill="#000" opacity="0.92"/><rect x="1645.3" y="929.0" width="2.2" height="11.5" fill="#0000ff" opacity="0.86"/><rect x="1648.2" y="929.0" width="1.8" height="11.5" fill="#2000ff" opacity="0.85"/><rect x="1650.6" y="929.0" width="1.4" height="11.5" fill="#000" opacity="1.00"/><rect x="1652.1" y="929.0" width="2.0" height="11.5" fill="#000" opacity="0.94"/><rect x="1654.7" y="929.0" width="1.6" height="11.5" fill="#0000ff" opacity="0.73"/><rect x="1656.7" y="929.0" width="1.3" height="11.5" fill="#0000ff" opacity="0.71"/><rect x="1658.4" y="929.0" width="1.9" height="11.5" fill="#0000ff" opacity="0.97"/><rect x="1660.4" y="929.0" width="1.4" height="11.5" fill="#0000ff" opacity="0.72"/><rect x="1662.9" y="929.0" width="2.3" height="11.5" fill="#2000ff" opacity="0.97"/><rect x="1665.9" y="929.0" width="2.1" height="11.5" fill="#000" opacity="0.88"/><rect x="1668.3" y="929.0" width="1.8" height="11.5" fill="#000" opacity="0.86"/><rect x="1670.5" y="929.0" width="2.1" height="11.5" fill="#000" opacity="0.96"/><rect x="1673.4" y="929.0" width="2.1" height="11.5" fill="#0000ff" opacity="0.94"/><rect x="1673.6" y="933.0" width="1.6" height="5.8" fill="#9010ff" opacity="0.74"/><rect x="1675.7" y="929.0" width="1.2" height="11.5" fill="#2000ff" opacity="0.99"/><rect x="1678.0" y="929.0" width="1.1" height="11.5" fill="#0000ff" opacity="0.81"/><rect x="1679.3" y="929.0" width="1.8" height="11.5" fill="#000" opacity="0.86"/><rect x="1682.1" y="929.0" width="1.2" height="11.5" fill="#0000ff" opacity="0.80"/><rect x="1684.0" y="929.0" width="1.2" height="11.5" fill="#0000ff" opacity="0.82"/><rect x="1686.1" y="929.0" width="1.1" height="11.5" fill="#000" opacity="0.93"/><rect x="1687.6" y="929.0" width="1.5" height="11.5" fill="#0000ff" opacity="1.00"/><rect x="1689.9" y="929.0" width="2.4" height="11.5" fill="#0000ff" opacity="0.98"/><rect x="1690.2" y="933.0" width="1.9" height="5.8" fill="#9010ff" opacity="0.69"/><rect x="1693.3" y="929.0" width="1.4" height="11.5" fill="#0000ff" opacity="0.72"/><rect x="1695.6" y="929.0" width="2.4" height="11.5" fill="#000" opacity="0.88"/><rect x="1698.1" y="929.0" width="2.0" height="11.5" fill="#0000ff" opacity="0.97"/><rect x="1701.1" y="929.0" width="1.4" height="11.5" fill="#000" opacity="0.83"/><rect x="1703.1" y="929.0" width="2.1" height="11.5" fill="#000" opacity="0.97"/><rect x="1705.3" y="929.0" width="1.8" height="11.5" fill="#0000ff" opacity="0.87"/><rect x="1707.8" y="929.0" width="1.6" height="11.5" fill="#000" opacity="0.86"/><rect x="1710.4" y="929.0" width="1.6" height="11.5" fill="#2000ff" opacity="0.95"/><rect x="1712.1" y="929.0" width="2.2" height="11.5" fill="#0000ff" opacity="0.87"/><rect x="1714.3" y="929.0" width="1.1" height="11.5" fill="#2000ff" opacity="0.96"/><rect x="1716.0" y="929.0" width="1.4" height="11.5" fill="#000" opacity="0.96"/><rect x="1717.7" y="929.0" width="2.1" height="11.5" fill="#000" opacity="0.91"/><rect x="1720.2" y="929.0" width="2.3" height="11.5" fill="#0000ff" opacity="0.87"/><rect x="1723.1" y="929.0" width="1.6" height="11.5" fill="#000" opacity="0.98"/><rect x="1724.7" y="929.0" width="1.8" height="11.5" fill="#0000ff" opacity="0.93"/><rect x="1726.8" y="929.0" width="1.1" height="11.5" fill="#2000ff" opacity="0.95"/><rect x="1728.9" y="929.0" width="1.1" height="11.5" fill="#2000ff" opacity="0.76"/><rect x="1730.9" y="929.0" width="1.6" height="11.5" fill="#000" opacity="0.87"/><rect x="1733.0" y="929.0" width="1.6" height="11.5" fill="#000" opacity="0.85"/><rect x="1734.7" y="929.0" width="1.9" height="11.5" fill="#0000ff" opacity="0.76"/><rect x="1737.7" y="929.0" width="1.5" height="11.5" fill="#000" opacity="0.95"/><rect x="1740.3" y="929.0" width="1.4" height="11.5" fill="#000" opacity="0.82"/><rect x="1742.5" y="929.0" width="2.0" height="11.5" fill="#2000ff" opacity="0.95"/><rect x="1742.7" y="933.0" width="1.6" height="5.8" fill="#c030e0" opacity="0.63"/><rect x="1744.9" y="929.0" width="1.1" height="11.5" fill="#000" opacity="0.82"/><rect x="1746.2" y="929.0" width="2.0" height="11.5" fill="#2000ff" opacity="0.96"/><rect x="1748.9" y="929.0" width="1.8" height="11.5" fill="#000" opacity="0.84"/><rect x="1751.8" y="929.0" width="1.6" height="11.5" fill="#000" opacity="0.92"/><rect x="1754.4" y="929.0" width="1.1" height="11.5" fill="#000" opacity="0.88"/><rect x="1755.6" y="929.0" width="1.6" height="11.5" fill="#0000ff" opacity="0.90"/><rect x="1758.3" y="929.0" width="2.0" height="11.5" fill="#0000ff" opacity="0.85"/><rect x="1761.5" y="929.0" width="1.1" height="11.5" fill="#000" opacity="0.88"/><rect x="1762.8" y="929.0" width="2.4" height="11.5" fill="#2000ff" opacity="1.00"/><rect x="1765.7" y="929.0" width="1.7" height="11.5" fill="#000" opacity="0.84"/><rect x="1767.6" y="929.0" width="2.1" height="11.5" fill="#0000ff" opacity="0.99"/><rect x="1770.3" y="929.0" width="1.5" height="11.5" fill="#000" opacity="0.81"/><rect x="1773.0" y="929.0" width="1.3" height="11.5" fill="#000" opacity="0.81"/><rect x="1775.2" y="929.0" width="1.4" height="11.5" fill="#2000ff" opacity="0.88"/></g>
<g filter="url(#bl2)"><rect x="102.3" y="941.0" width="1674.3" height="9.0" fill="#0000c0" opacity="0.35"/><rect x="102.0" y="941.0" width="398.0" height="9.0" fill="#0000ff" opacity="0.35"/><rect x="560.0" y="941.0" width="40.0" height="9.0" fill="#0000ff" opacity="0.3"/><rect x="900.0" y="941.0" width="60.0" height="9.0" fill="#0000ff" opacity="0.3"/><rect x="1140.0" y="941.0" width="90.0" height="9.0" fill="#0000ff" opacity="0.35"/><rect x="1200.0" y="941.0" width="40.0" height="9.0" fill="#0000ff" opacity="0.3"/></g>
<g filter="url(#bl)"><rect x="102.3" y="950.5" width="1674.3" height="10.5" fill="#000000" opacity="0.3"/><rect x="102.3" y="950.5" width="1.1" height="10.5" fill="#000" opacity="0.81"/><rect x="103.9" y="950.5" width="2.2" height="10.5" fill="#000" opacity="0.88"/><rect x="106.9" y="950.5" width="1.5" height="10.5" fill="#2000ff" opacity="0.84"/><rect x="109.1" y="950.5" width="1.4" height="10.5" fill="#0000ff" opacity="0.90"/><rect x="111.5" y="950.5" width="2.2" height="10.5" fill="#0000ff" opacity="0.92"/><rect x="114.7" y="950.5" width="1.9" height="10.5" fill="#000" opacity="0.94"/><rect x="117.0" y="950.5" width="2.2" height="10.5" fill="#0000ff" opacity="0.71"/><rect x="119.8" y="950.5" width="1.3" height="10.5" fill="#000" opacity="0.90"/><rect x="121.9" y="950.5" width="2.1" height="10.5" fill="#000" opacity="0.92"/><rect x="124.4" y="950.5" width="1.5" height="10.5" fill="#0000ff" opacity="0.87"/><rect x="124.6" y="954.2" width="1.2" height="5.2" fill="#c030e0" opacity="0.88"/><rect x="126.4" y="950.5" width="1.7" height="10.5" fill="#000" opacity="0.82"/><rect x="128.1" y="950.5" width="1.4" height="10.5" fill="#000" opacity="0.82"/><rect x="130.6" y="950.5" width="1.8" height="10.5" fill="#000" opacity="0.96"/><rect x="132.7" y="950.5" width="1.9" height="10.5" fill="#0000ff" opacity="0.74"/><rect x="135.3" y="950.5" width="1.3" height="10.5" fill="#000" opacity="0.97"/><rect x="137.2" y="950.5" width="1.6" height="10.5" fill="#2000ff" opacity="0.72"/><rect x="139.8" y="950.5" width="1.7" height="10.5" fill="#000" opacity="0.88"/><rect x="141.7" y="950.5" width="1.0" height="10.5" fill="#000" opacity="0.83"/><rect x="143.1" y="950.5" width="2.2" height="10.5" fill="#0000ff" opacity="0.94"/><rect x="143.4" y="954.2" width="1.8" height="5.2" fill="#c030e0" opacity="0.79"/><rect x="146.2" y="950.5" width="1.5" height="10.5" fill="#000" opacity="0.90"/><rect x="148.4" y="950.5" width="1.4" height="10.5" fill="#2000ff" opacity="0.93"/><rect x="150.6" y="950.5" width="1.6" height="10.5" fill="#2000ff" opacity="0.89"/><rect x="150.7" y="954.2" width="1.3" height="5.2" fill="#ff56a9" opacity="0.97"/><rect x="152.9" y="950.5" width="1.3" height="10.5" fill="#000" opacity="0.96"/><rect x="154.5" y="950.5" width="2.3" height="10.5" fill="#000" opacity="0.82"/><rect x="157.4" y="950.5" width="1.9" height="10.5" fill="#0000ff" opacity="0.74"/><rect x="160.2" y="950.5" width="2.3" height="10.5" fill="#000" opacity="0.93"/><rect x="163.3" y="950.5" width="1.7" height="10.5" fill="#000" opacity="0.95"/><rect x="165.7" y="950.5" width="1.0" height="10.5" fill="#000" opacity="0.97"/><rect x="167.2" y="950.5" width="1.1" height="10.5" fill="#0000ff" opacity="0.89"/><rect x="167.3" y="954.2" width="0.9" height="5.2" fill="#c030e0" opacity="0.97"/><rect x="169.5" y="950.5" width="2.0" height="10.5" fill="#0000ff" opacity="0.96"/><rect x="172.2" y="950.5" width="2.3" height="10.5" fill="#2000ff" opacity="0.87"/><rect x="174.5" y="950.5" width="1.4" height="10.5" fill="#000" opacity="0.97"/><rect x="176.7" y="950.5" width="1.2" height="10.5" fill="#0000ff" opacity="0.81"/><rect x="178.6" y="950.5" width="1.6" height="10.5" fill="#000" opacity="0.83"/><rect x="180.8" y="950.5" width="1.8" height="10.5" fill="#0000ff" opacity="0.98"/><rect x="181.0" y="954.2" width="1.5" height="5.2" fill="#9010ff" opacity="0.96"/><rect x="183.3" y="950.5" width="1.9" height="10.5" fill="#000" opacity="0.97"/><rect x="185.5" y="950.5" width="2.2" height="10.5" fill="#0000ff" opacity="0.83"/><rect x="185.7" y="954.2" width="1.8" height="5.2" fill="#9010ff" opacity="0.88"/><rect x="187.7" y="950.5" width="1.6" height="10.5" fill="#0000ff" opacity="0.93"/><rect x="190.3" y="950.5" width="1.9" height="10.5" fill="#0000ff" opacity="0.92"/><rect x="192.6" y="950.5" width="1.2" height="10.5" fill="#000" opacity="0.88"/><rect x="194.6" y="950.5" width="2.0" height="10.5" fill="#0000ff" opacity="0.97"/><rect x="196.9" y="950.5" width="1.7" height="10.5" fill="#0000ff" opacity="0.90"/><rect x="199.6" y="950.5" width="1.5" height="10.5" fill="#0000ff" opacity="0.84"/><rect x="202.2" y="950.5" width="2.4" height="10.5" fill="#000" opacity="0.82"/><rect x="205.7" y="950.5" width="1.5" height="10.5" fill="#000" opacity="0.87"/><rect x="207.8" y="950.5" width="1.6" height="10.5" fill="#000" opacity="0.91"/><rect x="210.0" y="950.5" width="1.5" height="10.5" fill="#0000ff" opacity="0.87"/><rect x="211.8" y="950.5" width="1.8" height="10.5" fill="#0000ff" opacity="0.92"/><rect x="214.7" y="950.5" width="1.3" height="10.5" fill="#000" opacity="0.80"/><rect x="216.7" y="950.5" width="1.1" height="10.5" fill="#0000ff" opacity="0.73"/><rect x="218.0" y="950.5" width="2.4" height="10.5" fill="#000" opacity="0.84"/><rect x="220.9" y="950.5" width="2.0" height="10.5" fill="#2000ff" opacity="0.88"/><rect x="221.1" y="954.2" width="1.6" height="5.2" fill="#b028e8" opacity="0.75"/><rect x="223.6" y="950.5" width="2.4" height="10.5" fill="#0000ff" opacity="0.94"/><rect x="223.8" y="954.2" width="1.9" height="5.2" fill="#ff56a9" opacity="0.85"/><rect x="226.9" y="950.5" width="1.5" height="10.5" fill="#000" opacity="0.94"/><rect x="229.5" y="950.5" width="1.6" height="10.5" fill="#2000ff" opacity="0.99"/><rect x="229.6" y="954.2" width="1.3" height="5.2" fill="#c030e0" opacity="0.90"/><rect x="231.8" y="950.5" width="1.2" height="10.5" fill="#000" opacity="0.93"/><rect x="234.0" y="950.5" width="1.7" height="10.5" fill="#000" opacity="0.98"/><rect x="236.4" y="950.5" width="1.3" height="10.5" fill="#0000ff" opacity="0.81"/><rect x="236.5" y="954.2" width="1.0" height="5.2" fill="#ff56a9" opacity="0.78"/><rect x="238.1" y="950.5" width="1.6" height="10.5" fill="#000" opacity="0.80"/><rect x="239.7" y="950.5" width="1.4" height="10.5" fill="#0000ff" opacity="0.97"/><rect x="242.1" y="950.5" width="1.6" height="10.5" fill="#0000ff" opacity="0.75"/><rect x="242.3" y="954.2" width="1.3" height="5.2" fill="#c030e0" opacity="0.79"/><rect x="244.4" y="950.5" width="1.6" height="10.5" fill="#000" opacity="0.97"/><rect x="247.0" y="950.5" width="1.2" height="10.5" fill="#0000ff" opacity="0.96"/><rect x="247.1" y="954.2" width="0.9" height="5.2" fill="#9010ff" opacity="0.71"/><rect x="248.4" y="950.5" width="1.2" height="10.5" fill="#0000ff" opacity="0.75"/><rect x="250.8" y="950.5" width="1.6" height="10.5" fill="#2000ff" opacity="0.91"/><rect x="253.6" y="950.5" width="1.4" height="10.5" fill="#0000ff" opacity="0.92"/><rect x="253.7" y="954.2" width="1.1" height="5.2" fill="#c030e0" opacity="0.72"/><rect x="255.6" y="950.5" width="1.3" height="10.5" fill="#000" opacity="0.92"/><rect x="258.0" y="950.5" width="1.2" height="10.5" fill="#000" opacity="0.84"/><rect x="259.8" y="950.5" width="1.7" height="10.5" fill="#0000ff" opacity="0.90"/><rect x="261.8" y="950.5" width="1.8" height="10.5" fill="#000" opacity="0.87"/><rect x="264.4" y="950.5" width="2.2" height="10.5" fill="#000" opacity="0.88"/><rect x="267.3" y="950.5" width="2.2" height="10.5" fill="#0000ff" opacity="0.82"/><rect x="270.5" y="950.5" width="1.4" height="10.5" fill="#0000ff" opacity="0.96"/><rect x="273.0" y="950.5" width="2.1" height="10.5" fill="#2000ff" opacity="0.94"/><rect x="275.3" y="950.5" width="1.1" height="10.5" fill="#0000ff" opacity="0.99"/><rect x="275.5" y="954.2" width="0.9" height="5.2" fill="#c030e0" opacity="0.79"/><rect x="276.7" y="950.5" width="2.3" height="10.5" fill="#000" opacity="0.94"/><rect x="280.1" y="950.5" width="2.3" height="10.5" fill="#000" opacity="0.99"/><rect x="282.7" y="950.5" width="1.5" height="10.5" fill="#000" opacity="0.80"/><rect x="284.3" y="950.5" width="1.3" height="10.5" fill="#000" opacity="0.95"/><rect x="285.9" y="950.5" width="1.2" height="10.5" fill="#000" opacity="0.93"/><rect x="288.3" y="950.5" width="1.4" height="10.5" fill="#0000ff" opacity="0.99"/><rect x="288.4" y="954.2" width="1.1" height="5.2" fill="#b028e8" opacity="0.64"/><rect x="290.5" y="950.5" width="1.3" height="10.5" fill="#000" opacity="0.98"/><rect x="292.7" y="950.5" width="2.0" height="10.5" fill="#000" opacity="0.89"/><rect x="295.9" y="950.5" width="1.8" height="10.5" fill="#000" opacity="0.98"/><rect x="298.2" y="950.5" width="2.3" height="10.5" fill="#0000ff" opacity="0.96"/><rect x="298.4" y="954.2" width="1.8" height="5.2" fill="#9010ff" opacity="0.71"/><rect x="301.4" y="950.5" width="1.3" height="10.5" fill="#0000ff" opacity="0.97"/><rect x="301.5" y="954.2" width="1.1" height="5.2" fill="#ff56a9" opacity="0.70"/><rect x="302.9" y="950.5" width="1.1" height="10.5" fill="#000" opacity="0.97"/><rect x="305.0" y="950.5" width="2.3" height="10.5" fill="#0000ff" opacity="0.89"/><rect x="305.2" y="954.2" width="1.9" height="5.2" fill="#b028e8" opacity="0.66"/><rect x="307.4" y="950.5" width="2.0" height="10.5" fill="#000" opacity="0.85"/><rect x="310.3" y="950.5" width="2.1" height="10.5" fill="#0000ff" opacity="0.83"/><rect x="313.4" y="950.5" width="1.8" height="10.5" fill="#0000ff" opacity="0.79"/><rect x="316.3" y="950.5" width="1.6" height="10.5" fill="#000" opacity="0.99"/><rect x="319.1" y="950.5" width="1.1" height="10.5" fill="#0000ff" opacity="0.89"/><rect x="320.9" y="950.5" width="1.9" height="10.5" fill="#0000ff" opacity="0.70"/><rect x="321.1" y="954.2" width="1.5" height="5.2" fill="#ff56a9" opacity="0.90"/><rect x="323.8" y="950.5" width="2.2" height="10.5" fill="#2000ff" opacity="0.79"/><rect x="324.0" y="954.2" width="1.7" height="5.2" fill="#b028e8" opacity="0.64"/><rect x="326.4" y="950.5" width="1.7" height="10.5" fill="#0000ff" opacity="0.83"/><rect x="326.5" y="954.2" width="1.3" height="5.2" fill="#9010ff" opacity="0.93"/><rect x="328.7" y="950.5" width="1.9" height="10.5" fill="#000" opacity="0.87"/><rect x="330.8" y="950.5" width="2.1" height="10.5" fill="#0000ff" opacity="0.74"/><rect x="333.3" y="950.5" width="1.7" height="10.5" fill="#2000ff" opacity="0.80"/><rect x="335.7" y="950.5" width="1.7" height="10.5" fill="#000" opacity="0.83"/><rect x="338.5" y="950.5" width="1.4" height="10.5" fill="#0000ff" opacity="0.98"/><rect x="341.0" y="950.5" width="2.3" height="10.5" fill="#000" opacity="0.82"/><rect x="343.3" y="950.5" width="2.2" height="10.5" fill="#000" opacity="0.85"/><rect x="345.7" y="950.5" width="1.3" height="10.5" fill="#0000ff" opacity="0.86"/><rect x="347.9" y="950.5" width="1.2" height="10.5" fill="#000" opacity="0.82"/><rect x="349.8" y="950.5" width="1.1" height="10.5" fill="#000" opacity="0.81"/><rect x="351.3" y="950.5" width="2.2" height="10.5" fill="#000" opacity="0.98"/><rect x="354.3" y="950.5" width="2.2" height="10.5" fill="#0000ff" opacity="0.74"/><rect x="356.6" y="950.5" width="1.5" height="10.5" fill="#0000ff" opacity="1.00"/><rect x="358.6" y="950.5" width="1.7" height="10.5" fill="#0000ff" opacity="0.79"/><rect x="358.8" y="954.2" width="1.4" height="5.2" fill="#9010ff" opacity="0.68"/><rect x="361.5" y="950.5" width="1.4" height="10.5" fill="#000" opacity="0.99"/><rect x="363.4" y="950.5" width="1.3" height="10.5" fill="#2000ff" opacity="0.91"/><rect x="365.7" y="950.5" width="1.4" height="10.5" fill="#0000ff" opacity="0.76"/><rect x="367.4" y="950.5" width="1.1" height="10.5" fill="#000" opacity="0.88"/><rect x="369.4" y="950.5" width="2.0" height="10.5" fill="#0000ff" opacity="0.83"/><rect x="372.3" y="950.5" width="1.4" height="10.5" fill="#0000ff" opacity="0.90"/><rect x="372.4" y="954.2" width="1.1" height="5.2" fill="#ff56a9" opacity="0.62"/><rect x="373.8" y="950.5" width="2.4" height="10.5" fill="#000" opacity="0.85"/><rect x="377.2" y="950.5" width="1.1" height="10.5" fill="#0000ff" opacity="0.81"/><rect x="378.5" y="950.5" width="1.1" height="10.5" fill="#000" opacity="0.95"/><rect x="379.8" y="950.5" width="2.0" height="10.5" fill="#0000ff" opacity="0.74"/><rect x="381.9" y="950.5" width="1.7" height="10.5" fill="#2000ff" opacity="0.76"/><rect x="384.3" y="950.5" width="1.5" height="10.5" fill="#000" opacity="0.86"/><rect x="386.8" y="950.5" width="1.7" height="10.5" fill="#2000ff" opacity="0.84"/><rect x="389.2" y="950.5" width="1.7" height="10.5" fill="#000" opacity="0.91"/><rect x="391.0" y="950.5" width="2.4" height="10.5" fill="#000" opacity="0.84"/><rect x="394.4" y="950.5" width="1.9" height="10.5" fill="#0000ff" opacity="0.83"/><rect x="397.4" y="950.5" width="1.9" height="10.5" fill="#000" opacity="0.95"/><rect x="399.8" y="950.5" width="1.4" height="10.5" fill="#000" opacity="0.95"/><rect x="401.2" y="950.5" width="2.1" height="10.5" fill="#2000ff" opacity="0.76"/><rect x="401.4" y="954.2" width="1.7" height="5.2" fill="#ff56a9" opacity="0.62"/><rect x="404.2" y="950.5" width="1.1" height="10.5" fill="#0000ff" opacity="0.86"/><rect x="406.5" y="950.5" width="2.3" height="10.5" fill="#000" opacity="0.82"/><rect x="409.3" y="950.5" width="1.1" height="10.5" fill="#000" opacity="0.88"/><rect x="411.5" y="950.5" width="2.3" height="10.5" fill="#2000ff" opacity="0.94"/><rect x="414.5" y="950.5" width="1.7" height="10.5" fill="#2000ff" opacity="0.78"/><rect x="416.5" y="950.5" width="1.9" height="10.5" fill="#0000ff" opacity="0.83"/><rect x="419.4" y="950.5" width="2.3" height="10.5" fill="#2000ff" opacity="0.80"/><rect x="421.7" y="950.5" width="1.4" height="10.5" fill="#0000ff" opacity="0.95"/><rect x="421.9" y="954.2" width="1.1" height="5.2" fill="#b028e8" opacity="0.61"/><rect x="423.5" y="950.5" width="1.6" height="10.5" fill="#000" opacity="0.94"/><rect x="426.0" y="950.5" width="2.3" height="10.5" fill="#0000ff" opacity="0.74"/><rect x="428.9" y="950.5" width="2.0" height="10.5" fill="#000" opacity="0.82"/><rect x="431.8" y="950.5" width="1.7" height="10.5" fill="#0000ff" opacity="0.81"/><rect x="434.4" y="950.5" width="2.2" height="10.5" fill="#2000ff" opacity="0.91"/><rect x="437.6" y="950.5" width="1.4" height="10.5" fill="#2000ff" opacity="0.88"/><rect x="439.7" y="950.5" width="1.8" height="10.5" fill="#0000ff" opacity="0.92"/><rect x="442.5" y="950.5" width="1.2" height="10.5" fill="#000" opacity="0.89"/><rect x="444.4" y="950.5" width="1.5" height="10.5" fill="#2000ff" opacity="1.00"/><rect x="447.1" y="950.5" width="2.0" height="10.5" fill="#0000ff" opacity="0.72"/><rect x="447.3" y="954.2" width="1.6" height="5.2" fill="#ff56a9" opacity="0.98"/><rect x="450.3" y="950.5" width="1.1" height="10.5" fill="#000" opacity="0.97"/><rect x="452.2" y="950.5" width="1.3" height="10.5" fill="#000" opacity="0.90"/><rect x="454.4" y="950.5" width="1.3" height="10.5" fill="#000" opacity="0.85"/><rect x="456.4" y="950.5" width="1.5" height="10.5" fill="#2000ff" opacity="0.88"/><rect x="458.7" y="950.5" width="2.4" height="10.5" fill="#2000ff" opacity="0.75"/><rect x="461.5" y="950.5" width="1.7" height="10.5" fill="#000" opacity="0.93"/><rect x="464.2" y="950.5" width="1.6" height="10.5" fill="#000" opacity="0.85"/><rect x="466.8" y="950.5" width="1.4" height="10.5" fill="#0000ff" opacity="0.87"/><rect x="468.6" y="950.5" width="1.9" height="10.5" fill="#000" opacity="0.90"/><rect x="471.5" y="950.5" width="1.2" height="10.5" fill="#000" opacity="0.94"/><rect x="473.5" y="950.5" width="1.6" height="10.5" fill="#0000ff" opacity="0.76"/><rect x="473.6" y="954.2" width="1.3" height="5.2" fill="#ff56a9" opacity="0.66"/><rect x="475.8" y="950.5" width="2.3" height="10.5" fill="#0000ff" opacity="0.99"/><rect x="478.5" y="950.5" width="1.2" height="10.5" fill="#000" opacity="0.84"/><rect x="479.9" y="950.5" width="2.0" height="10.5" fill="#000" opacity="0.99"/><rect x="482.1" y="950.5" width="1.1" height="10.5" fill="#2000ff" opacity="0.99"/><rect x="483.2" y="950.5" width="2.0" height="10.5" fill="#000" opacity="0.86"/><rect x="486.4" y="950.5" width="2.3" height="10.5" fill="#000" opacity="0.93"/><rect x="489.1" y="950.5" width="1.6" height="10.5" fill="#0000ff" opacity="0.75"/><rect x="491.6" y="950.5" width="1.4" height="10.5" fill="#000" opacity="0.86"/><rect x="493.5" y="950.5" width="1.5" height="10.5" fill="#2000ff" opacity="0.77"/><rect x="495.5" y="950.5" width="1.6" height="10.5" fill="#0000ff" opacity="0.73"/><rect x="498.0" y="950.5" width="1.6" height="10.5" fill="#2000ff" opacity="0.79"/><rect x="499.7" y="950.5" width="1.2" height="10.5" fill="#000" opacity="0.90"/><rect x="501.8" y="950.5" width="1.2" height="10.5" fill="#2000ff" opacity="0.94"/><rect x="503.7" y="950.5" width="2.1" height="10.5" fill="#0000ff" opacity="0.73"/><rect x="504.0" y="954.2" width="1.7" height="5.2" fill="#9010ff" opacity="0.70"/><rect x="506.9" y="950.5" width="2.4" height="10.5" fill="#000" opacity="0.83"/><rect x="510.4" y="950.5" width="1.3" height="10.5" fill="#0000ff" opacity="0.87"/><rect x="510.6" y="954.2" width="1.0" height="5.2" fill="#ff56a9" opacity="0.99"/><rect x="512.0" y="950.5" width="2.2" height="10.5" fill="#0000ff" opacity="0.94"/><rect x="515.2" y="950.5" width="1.1" height="10.5" fill="#0000ff" opacity="0.73"/><rect x="517.4" y="950.5" width="1.4" height="10.5" fill="#0000ff" opacity="0.95"/><rect x="519.0" y="950.5" width="2.1" height="10.5" fill="#0000ff" opacity="0.98"/><rect x="521.4" y="950.5" width="2.2" height="10.5" fill="#000" opacity="0.96"/><rect x="524.4" y="950.5" width="1.1" height="10.5" fill="#000" opacity="1.00"/><rect x="526.7" y="950.5" width="1.3" height="10.5" fill="#2000ff" opacity="0.81"/><rect x="528.7" y="950.5" width="1.8" height="10.5" fill="#0000ff" opacity="0.76"/><rect x="531.5" y="950.5" width="2.2" height="10.5" fill="#0000ff" opacity="0.91"/><rect x="533.8" y="950.5" width="2.1" height="10.5" fill="#0000ff" opacity="0.98"/><rect x="534.0" y="954.2" width="1.7" height="5.2" fill="#b028e8" opacity="0.96"/><rect x="536.7" y="950.5" width="2.4" height="10.5" fill="#000" opacity="0.84"/><rect x="539.0" y="950.5" width="1.4" height="10.5" fill="#2000ff" opacity="0.78"/><rect x="541.5" y="950.5" width="2.2" height="10.5" fill="#000" opacity="0.98"/><rect x="543.8" y="950.5" width="2.2" height="10.5" fill="#000" opacity="0.83"/><rect x="546.1" y="950.5" width="1.2" height="10.5" fill="#0000ff" opacity="0.80"/><rect x="547.8" y="950.5" width="1.6" height="10.5" fill="#000" opacity="0.83"/><rect x="549.6" y="950.5" width="2.0" height="10.5" fill="#000" opacity="0.87"/><rect x="551.7" y="950.5" width="1.9" height="10.5" fill="#0000ff" opacity="0.98"/><rect x="553.8" y="950.5" width="1.4" height="10.5" fill="#000" opacity="1.00"/><rect x="555.5" y="950.5" width="1.8" height="10.5" fill="#0000ff" opacity="0.70"/><rect x="557.6" y="950.5" width="2.1" height="10.5" fill="#000" opacity="0.89"/><rect x="560.7" y="950.5" width="1.9" height="10.5" fill="#000" opacity="0.94"/><rect x="563.8" y="950.5" width="1.7" height="10.5" fill="#2000ff" opacity="0.79"/><rect x="565.8" y="950.5" width="1.7" height="10.5" fill="#0000ff" opacity="0.79"/><rect x="568.1" y="950.5" width="2.2" height="10.5" fill="#0000ff" opacity="0.74"/><rect x="570.8" y="950.5" width="1.6" height="10.5" fill="#2000ff" opacity="0.81"/><rect x="572.9" y="950.5" width="2.0" height="10.5" fill="#2000ff" opacity="0.91"/><rect x="575.3" y="950.5" width="2.2" height="10.5" fill="#000" opacity="0.92"/><rect x="578.3" y="950.5" width="1.6" height="10.5" fill="#0000ff" opacity="0.91"/><rect x="580.3" y="950.5" width="2.1" height="10.5" fill="#000" opacity="0.82"/><rect x="583.3" y="950.5" width="1.0" height="10.5" fill="#000" opacity="0.82"/><rect x="584.9" y="950.5" width="2.2" height="10.5" fill="#2000ff" opacity="0.80"/><rect x="588.3" y="950.5" width="1.3" height="10.5" fill="#2000ff" opacity="0.93"/><rect x="588.4" y="954.2" width="1.0" height="5.2" fill="#ff56a9" opacity="0.82"/><rect x="589.7" y="950.5" width="1.1" height="10.5" fill="#2000ff" opacity="0.83"/><rect x="591.6" y="950.5" width="2.3" height="10.5" fill="#2000ff" opacity="0.88"/><rect x="594.9" y="950.5" width="2.2" height="10.5" fill="#000" opacity="0.94"/><rect x="597.5" y="950.5" width="2.1" height="10.5" fill="#0000ff" opacity="0.96"/><rect x="600.2" y="950.5" width="1.6" height="10.5" fill="#0000ff" opacity="0.92"/><rect x="600.4" y="954.2" width="1.2" height="5.2" fill="#9010ff" opacity="0.70"/><rect x="602.9" y="950.5" width="1.9" height="10.5" fill="#0000ff" opacity="0.78"/><rect x="603.1" y="954.2" width="1.5" height="5.2" fill="#c030e0" opacity="0.71"/><rect x="605.4" y="950.5" width="1.2" height="10.5" fill="#000" opacity="0.81"/><rect x="607.6" y="950.5" width="1.6" height="10.5" fill="#000" opacity="0.83"/><rect x="610.1" y="950.5" width="1.6" height="10.5" fill="#000" opacity="0.89"/><rect x="611.9" y="950.5" width="1.6" height="10.5" fill="#0000ff" opacity="0.95"/><rect x="613.9" y="950.5" width="1.1" height="10.5" fill="#000" opacity="0.95"/><rect x="615.8" y="950.5" width="2.1" height="10.5" fill="#0000ff" opacity="0.88"/><rect x="616.1" y="954.2" width="1.7" height="5.2" fill="#c030e0" opacity="0.94"/><rect x="618.5" y="950.5" width="1.2" height="10.5" fill="#000" opacity="0.89"/><rect x="620.7" y="950.5" width="1.2" height="10.5" fill="#000" opacity="0.91"/><rect x="622.5" y="950.5" width="2.3" height="10.5" fill="#0000ff" opacity="0.93"/><rect x="625.3" y="950.5" width="2.3" height="10.5" fill="#2000ff" opacity="0.89"/><rect x="628.3" y="950.5" width="1.5" height="10.5" fill="#000" opacity="0.93"/><rect x="630.9" y="950.5" width="1.9" height="10.5" fill="#000" opacity="0.99"/><rect x="633.3" y="950.5" width="1.2" height="10.5" fill="#0000ff" opacity="0.75"/><rect x="634.8" y="950.5" width="1.0" height="10.5" fill="#2000ff" opacity="0.99"/><rect x="634.9" y="954.2" width="0.8" height="5.2" fill="#c030e0" opacity="0.98"/><rect x="636.9" y="950.5" width="1.6" height="10.5" fill="#0000ff" opacity="0.94"/><rect x="639.0" y="950.5" width="2.1" height="10.5" fill="#0000ff" opacity="0.87"/><rect x="641.6" y="950.5" width="1.0" height="10.5" fill="#000" opacity="0.99"/><rect x="643.1" y="950.5" width="1.3" height="10.5" fill="#2000ff" opacity="0.74"/><rect x="644.8" y="950.5" width="2.1" height="10.5" fill="#000" opacity="0.87"/><rect x="647.3" y="950.5" width="1.7" height="10.5" fill="#000" opacity="0.96"/><rect x="650.0" y="950.5" width="2.3" height="10.5" fill="#2000ff" opacity="0.91"/><rect x="652.7" y="950.5" width="1.1" height="10.5" fill="#0000ff" opacity="0.92"/><rect x="654.0" y="950.5" width="1.6" height="10.5" fill="#2000ff" opacity="0.80"/><rect x="655.7" y="950.5" width="1.9" height="10.5" fill="#000" opacity="0.93"/><rect x="658.4" y="950.5" width="1.5" height="10.5" fill="#0000ff" opacity="0.77"/><rect x="660.3" y="950.5" width="2.2" height="10.5" fill="#000" opacity="0.80"/><rect x="663.5" y="950.5" width="1.2" height="10.5" fill="#2000ff" opacity="0.75"/><rect x="663.6" y="954.2" width="1.0" height="5.2" fill="#ff56a9" opacity="0.62"/><rect x="665.7" y="950.5" width="1.9" height="10.5" fill="#000" opacity="0.92"/><rect x="668.1" y="950.5" width="1.2" height="10.5" fill="#000" opacity="0.82"/><rect x="670.2" y="950.5" width="1.7" height="10.5" fill="#0000ff" opacity="0.95"/><rect x="672.1" y="950.5" width="2.1" height="10.5" fill="#000" opacity="0.83"/><rect x="674.5" y="950.5" width="2.0" height="10.5" fill="#0000ff" opacity="0.72"/><rect x="676.9" y="950.5" width="2.2" height="10.5" fill="#2000ff" opacity="0.81"/><rect x="679.5" y="950.5" width="1.9" height="10.5" fill="#2000ff" opacity="0.83"/><rect x="679.7" y="954.2" width="1.5" height="5.2" fill="#ff56a9" opacity="0.83"/><rect x="681.9" y="950.5" width="2.0" height="10.5" fill="#000" opacity="0.90"/><rect x="684.8" y="950.5" width="1.4" height="10.5" fill="#000" opacity="1.00"/><rect x="686.7" y="950.5" width="2.2" height="10.5" fill="#0000ff" opacity="0.79"/><rect x="686.9" y="954.2" width="1.7" height="5.2" fill="#ff56a9" opacity="0.71"/><rect x="689.1" y="950.5" width="1.8" height="10.5" fill="#2000ff" opacity="0.87"/><rect x="691.6" y="950.5" width="1.4" height="10.5" fill="#2000ff" opacity="0.80"/><rect x="691.7" y="954.2" width="1.1" height="5.2" fill="#9010ff" opacity="0.67"/><rect x="693.3" y="950.5" width="1.1" height="10.5" fill="#0000ff" opacity="0.93"/><rect x="695.3" y="950.5" width="1.8" height="10.5" fill="#0000ff" opacity="0.92"/><rect x="695.5" y="954.2" width="1.4" height="5.2" fill="#b028e8" opacity="0.70"/><rect x="698.0" y="950.5" width="2.0" height="10.5" fill="#000" opacity="0.91"/><rect x="700.1" y="950.5" width="1.7" height="10.5" fill="#000" opacity="0.86"/><rect x="702.1" y="950.5" width="1.7" height="10.5" fill="#0000ff" opacity="0.92"/><rect x="704.5" y="950.5" width="2.3" height="10.5" fill="#0000ff" opacity="0.85"/><rect x="706.9" y="950.5" width="1.1" height="10.5" fill="#0000ff" opacity="0.87"/><rect x="707.0" y="954.2" width="0.9" height="5.2" fill="#c030e0" opacity="0.86"/><rect x="708.5" y="950.5" width="1.7" height="10.5" fill="#0000ff" opacity="0.95"/><rect x="708.7" y="954.2" width="1.4" height="5.2" fill="#b028e8" opacity="0.93"/><rect x="710.9" y="950.5" width="2.2" height="10.5" fill="#000" opacity="0.83"/><rect x="713.8" y="950.5" width="1.2" height="10.5" fill="#000" opacity="0.95"/><rect x="715.9" y="950.5" width="1.3" height="10.5" fill="#0000ff" opacity="0.99"/><rect x="717.9" y="950.5" width="1.6" height="10.5" fill="#000" opacity="0.90"/><rect x="719.8" y="950.5" width="1.4" height="10.5" fill="#000" opacity="0.97"/><rect x="721.3" y="950.5" width="1.9" height="10.5" fill="#0000ff" opacity="0.85"/><rect x="723.3" y="950.5" width="1.6" height="10.5" fill="#000" opacity="0.92"/><rect x="725.5" y="950.5" width="1.1" height="10.5" fill="#0000ff" opacity="0.87"/><rect x="726.8" y="950.5" width="1.1" height="10.5" fill="#0000ff" opacity="0.97"/><rect x="728.5" y="950.5" width="1.5" height="10.5" fill="#000" opacity="0.87"/><rect x="731.1" y="950.5" width="1.4" height="10.5" fill="#0000ff" opacity="0.85"/><rect x="733.6" y="950.5" width="1.5" height="10.5" fill="#0000ff" opacity="0.77"/><rect x="736.0" y="950.5" width="1.2" height="10.5" fill="#2000ff" opacity="0.93"/><rect x="736.2" y="954.2" width="0.9" height="5.2" fill="#c030e0" opacity="0.84"/><rect x="737.2" y="950.5" width="1.4" height="10.5" fill="#000" opacity="1.00"/><rect x="739.0" y="950.5" width="1.9" height="10.5" fill="#000" opacity="0.93"/><rect x="741.0" y="950.5" width="2.2" height="10.5" fill="#000" opacity="0.86"/><rect x="744.1" y="950.5" width="2.0" height="10.5" fill="#0000ff" opacity="0.77"/><rect x="744.3" y="954.2" width="1.6" height="5.2" fill="#9010ff" opacity="0.84"/><rect x="746.9" y="950.5" width="2.2" height="10.5" fill="#000" opacity="0.89"/><rect x="750.0" y="950.5" width="1.6" height="10.5" fill="#0000ff" opacity="0.76"/><rect x="750.2" y="954.2" width="1.3" height="5.2" fill="#b028e8" opacity="0.79"/><rect x="752.2" y="950.5" width="1.9" height="10.5" fill="#000" opacity="0.89"/><rect x="754.8" y="950.5" width="1.2" height="10.5" fill="#0000ff" opacity="0.73"/><rect x="756.7" y="950.5" width="2.3" height="10.5" fill="#000" opacity="0.89"/><rect x="759.6" y="950.5" width="1.7" height="10.5" fill="#0000ff" opacity="0.76"/><rect x="761.8" y="950.5" width="1.1" height="10.5" fill="#0000ff" opacity="0.81"/><rect x="763.8" y="950.5" width="1.2" height="10.5" fill="#000" opacity="0.91"/><rect x="765.7" y="950.5" width="1.5" height="10.5" fill="#000" opacity="0.89"/><rect x="767.4" y="950.5" width="1.5" height="10.5" fill="#0000ff" opacity="0.97"/><rect x="769.3" y="950.5" width="1.4" height="10.5" fill="#000" opacity="0.93"/><rect x="771.5" y="950.5" width="2.0" height="10.5" fill="#000" opacity="0.83"/><rect x="774.2" y="950.5" width="2.3" height="10.5" fill="#0000ff" opacity="0.98"/><rect x="776.6" y="950.5" width="1.2" height="10.5" fill="#0000ff" opacity="0.96"/><rect x="776.7" y="954.2" width="1.0" height="5.2" fill="#c030e0" opacity="0.73"/><rect x="777.9" y="950.5" width="1.9" height="10.5" fill="#000" opacity="1.00"/><rect x="780.3" y="950.5" width="1.5" height="10.5" fill="#000" opacity="0.83"/><rect x="782.3" y="950.5" width="2.4" height="10.5" fill="#0000ff" opacity="0.75"/><rect x="785.1" y="950.5" width="1.1" height="10.5" fill="#000" opacity="0.98"/><rect x="786.7" y="950.5" width="1.6" height="10.5" fill="#000" opacity="0.95"/><rect x="789.5" y="950.5" width="1.3" height="10.5" fill="#000" opacity="0.94"/><rect x="791.7" y="950.5" width="1.0" height="10.5" fill="#0000ff" opacity="0.99"/><rect x="792.8" y="950.5" width="1.7" height="10.5" fill="#0000ff" opacity="0.87"/><rect x="793.0" y="954.2" width="1.3" height="5.2" fill="#9010ff" opacity="0.76"/><rect x="795.3" y="950.5" width="1.2" height="10.5" fill="#0000ff" opacity="0.89"/><rect x="797.6" y="950.5" width="1.0" height="10.5" fill="#000" opacity="0.81"/><rect x="798.8" y="950.5" width="2.1" height="10.5" fill="#0000ff" opacity="0.82"/><rect x="801.1" y="950.5" width="2.1" height="10.5" fill="#000" opacity="0.85"/><rect x="804.2" y="950.5" width="2.3" height="10.5" fill="#000" opacity="0.83"/><rect x="807.3" y="950.5" width="2.2" height="10.5" fill="#0000ff" opacity="0.73"/><rect x="809.7" y="950.5" width="1.4" height="10.5" fill="#000" opacity="0.98"/><rect x="811.6" y="950.5" width="1.3" height="10.5" fill="#000" opacity="0.88"/><rect x="813.0" y="950.5" width="1.5" height="10.5" fill="#000" opacity="0.86"/><rect x="814.6" y="950.5" width="1.8" height="10.5" fill="#000" opacity="0.93"/><rect x="817.5" y="950.5" width="1.2" height="10.5" fill="#2000ff" opacity="0.78"/><rect x="817.6" y="954.2" width="0.9" height="5.2" fill="#b028e8" opacity="0.75"/><rect x="819.3" y="950.5" width="1.5" height="10.5" fill="#2000ff" opacity="0.87"/><rect x="821.9" y="950.5" width="1.8" height="10.5" fill="#000" opacity="0.93"/><rect x="824.3" y="950.5" width="1.2" height="10.5" fill="#000" opacity="0.94"/><rect x="825.5" y="950.5" width="2.0" height="10.5" fill="#000" opacity="1.00"/><rect x="828.4" y="950.5" width="1.3" height="10.5" fill="#000" opacity="0.91"/><rect x="830.4" y="950.5" width="2.3" height="10.5" fill="#000" opacity="0.83"/><rect x="833.2" y="950.5" width="1.3" height="10.5" fill="#0000ff" opacity="0.86"/><rect x="833.3" y="954.2" width="1.1" height="5.2" fill="#c030e0" opacity="0.89"/><rect x="835.2" y="950.5" width="1.3" height="10.5" fill="#000" opacity="0.93"/><rect x="837.3" y="950.5" width="1.2" height="10.5" fill="#000" opacity="0.82"/><rect x="838.6" y="950.5" width="1.8" height="10.5" fill="#000" opacity="0.97"/><rect x="841.5" y="950.5" width="1.5" height="10.5" fill="#0000ff" opacity="0.91"/><rect x="841.7" y="954.2" width="1.2" height="5.2" fill="#9010ff" opacity="0.64"/><rect x="844.2" y="950.5" width="1.1" height="10.5" fill="#2000ff" opacity="0.97"/><rect x="846.0" y="950.5" width="1.1" height="10.5" fill="#0000ff" opacity="0.75"/><rect x="847.5" y="950.5" width="2.2" height="10.5" fill="#0000ff" opacity="0.91"/><rect x="850.8" y="950.5" width="1.0" height="10.5" fill="#0000ff" opacity="0.79"/><rect x="852.1" y="950.5" width="1.4" height="10.5" fill="#0000ff" opacity="0.74"/><rect x="852.2" y="954.2" width="1.1" height="5.2" fill="#b028e8" opacity="0.61"/><rect x="853.8" y="950.5" width="1.1" height="10.5" fill="#0000ff" opacity="0.95"/><rect x="855.8" y="950.5" width="1.8" height="10.5" fill="#2000ff" opacity="0.97"/><rect x="856.0" y="954.2" width="1.5" height="5.2" fill="#c030e0" opacity="0.94"/><rect x="857.8" y="950.5" width="1.7" height="10.5" fill="#2000ff" opacity="0.96"/><rect x="860.7" y="950.5" width="1.3" height="10.5" fill="#0000ff" opacity="0.75"/><rect x="862.6" y="950.5" width="1.4" height="10.5" fill="#000" opacity="0.86"/><rect x="864.9" y="950.5" width="2.4" height="10.5" fill="#000" opacity="0.91"/><rect x="868.4" y="950.5" width="2.0" height="10.5" fill="#2000ff" opacity="0.86"/><rect x="868.6" y="954.2" width="1.6" height="5.2" fill="#9010ff" opacity="0.96"/><rect x="871.4" y="950.5" width="1.3" height="10.5" fill="#0000ff" opacity="0.75"/><rect x="872.9" y="950.5" width="1.8" height="10.5" fill="#000" opacity="0.87"/><rect x="875.3" y="950.5" width="1.1" height="10.5" fill="#2000ff" opacity="0.89"/><rect x="875.4" y="954.2" width="0.9" height="5.2" fill="#ff56a9" opacity="0.72"/><rect x="876.7" y="950.5" width="1.5" height="10.5" fill="#0000ff" opacity="0.99"/><rect x="878.7" y="950.5" width="1.9" height="10.5" fill="#000" opacity="0.88"/><rect x="880.8" y="950.5" width="1.7" height="10.5" fill="#000" opacity="0.90"/><rect x="882.7" y="950.5" width="1.6" height="10.5" fill="#000" opacity="0.86"/><rect x="884.7" y="950.5" width="1.2" height="10.5" fill="#0000ff" opacity="0.88"/><rect x="884.9" y="954.2" width="1.0" height="5.2" fill="#9010ff" opacity="0.64"/><rect x="886.1" y="950.5" width="1.9" height="10.5" fill="#0000ff" opacity="0.91"/><rect x="888.3" y="950.5" width="1.5" height="10.5" fill="#000" opacity="0.89"/><rect x="890.6" y="950.5" width="1.1" height="10.5" fill="#000" opacity="0.99"/><rect x="892.8" y="950.5" width="1.4" height="10.5" fill="#0000ff" opacity="0.94"/><rect x="894.2" y="950.5" width="1.9" height="10.5" fill="#2000ff" opacity="0.87"/><rect x="897.3" y="950.5" width="1.8" height="10.5" fill="#0000ff" opacity="0.94"/><rect x="897.5" y="954.2" width="1.5" height="5.2" fill="#b028e8" opacity="0.68"/><rect x="900.1" y="950.5" width="2.0" height="10.5" fill="#0000ff" opacity="0.97"/><rect x="900.3" y="954.2" width="1.6" height="5.2" fill="#9010ff" opacity="0.72"/><rect x="903.2" y="950.5" width="1.2" height="10.5" fill="#000" opacity="0.93"/><rect x="905.6" y="950.5" width="1.1" height="10.5" fill="#000" opacity="1.00"/><rect x="907.0" y="950.5" width="1.4" height="10.5" fill="#0000ff" opacity="0.81"/><rect x="909.6" y="950.5" width="1.1" height="10.5" fill="#0000ff" opacity="0.97"/><rect x="911.5" y="950.5" width="1.3" height="10.5" fill="#2000ff" opacity="0.74"/><rect x="913.3" y="950.5" width="2.0" height="10.5" fill="#000" opacity="0.93"/><rect x="916.3" y="950.5" width="2.2" height="10.5" fill="#0000ff" opacity="0.91"/><rect x="919.5" y="950.5" width="1.6" height="10.5" fill="#000" opacity="0.86"/><rect x="922.2" y="950.5" width="2.1" height="10.5" fill="#2000ff" opacity="0.80"/><rect x="925.3" y="950.5" width="1.2" height="10.5" fill="#0000ff" opacity="0.81"/><rect x="926.7" y="950.5" width="2.1" height="10.5" fill="#0000ff" opacity="0.79"/><rect x="926.9" y="954.2" width="1.7" height="5.2" fill="#c030e0" opacity="0.97"/><rect x="929.8" y="950.5" width="2.2" height="10.5" fill="#000" opacity="0.87"/><rect x="932.4" y="950.5" width="1.7" height="10.5" fill="#000" opacity="0.85"/><rect x="934.7" y="950.5" width="2.3" height="10.5" fill="#2000ff" opacity="0.81"/><rect x="935.0" y="954.2" width="1.8" height="5.2" fill="#b028e8" opacity="0.88"/><rect x="937.9" y="950.5" width="1.6" height="10.5" fill="#0000ff" opacity="0.92"/><rect x="940.0" y="950.5" width="2.1" height="10.5" fill="#000" opacity="0.80"/><rect x="942.6" y="950.5" width="2.1" height="10.5" fill="#000" opacity="0.94"/><rect x="945.6" y="950.5" width="1.6" height="10.5" fill="#0000ff" opacity="0.75"/><rect x="948.2" y="950.5" width="1.1" height="10.5" fill="#0000ff" opacity="0.74"/><rect x="949.5" y="950.5" width="2.0" height="10.5" fill="#0000ff" opacity="0.96"/><rect x="951.5" y="950.5" width="1.7" height="10.5" fill="#000" opacity="0.87"/><rect x="954.0" y="950.5" width="1.6" height="10.5" fill="#0000ff" opacity="0.96"/><rect x="956.5" y="950.5" width="1.4" height="10.5" fill="#2000ff" opacity="0.83"/><rect x="958.6" y="950.5" width="1.2" height="10.5" fill="#0000ff" opacity="0.79"/><rect x="958.8" y="954.2" width="0.9" height="5.2" fill="#b028e8" opacity="0.87"/><rect x="960.3" y="950.5" width="1.6" height="10.5" fill="#0000ff" opacity="0.90"/><rect x="962.9" y="950.5" width="2.1" height="10.5" fill="#000" opacity="0.90"/><rect x="965.6" y="950.5" width="1.4" height="10.5" fill="#000" opacity="0.85"/><rect x="968.2" y="950.5" width="1.7" height="10.5" fill="#000" opacity="0.86"/><rect x="970.0" y="950.5" width="1.6" height="10.5" fill="#0000ff" opacity="0.74"/><rect x="972.1" y="950.5" width="1.4" height="10.5" fill="#0000ff" opacity="0.91"/><rect x="972.2" y="954.2" width="1.1" height="5.2" fill="#c030e0" opacity="0.95"/><rect x="973.9" y="950.5" width="2.2" height="10.5" fill="#000" opacity="0.81"/><rect x="977.1" y="950.5" width="1.3" height="10.5" fill="#000" opacity="0.93"/><rect x="978.9" y="950.5" width="1.8" height="10.5" fill="#0000ff" opacity="0.73"/><rect x="980.8" y="950.5" width="1.5" height="10.5" fill="#000" opacity="0.84"/><rect x="983.5" y="950.5" width="1.7" height="10.5" fill="#2000ff" opacity="0.80"/><rect x="986.3" y="950.5" width="1.4" height="10.5" fill="#0000ff" opacity="0.88"/><rect x="986.4" y="954.2" width="1.1" height="5.2" fill="#ff56a9" opacity="0.80"/><rect x="988.9" y="950.5" width="1.5" height="10.5" fill="#000" opacity="0.92"/><rect x="991.5" y="950.5" width="1.3" height="10.5" fill="#0000ff" opacity="0.91"/><rect x="991.6" y="954.2" width="1.0" height="5.2" fill="#ff56a9" opacity="0.73"/><rect x="993.5" y="950.5" width="1.3" height="10.5" fill="#000" opacity="0.82"/><rect x="995.3" y="950.5" width="2.1" height="10.5" fill="#2000ff" opacity="0.80"/><rect x="997.6" y="950.5" width="2.3" height="10.5" fill="#0000ff" opacity="0.77"/><rect x="997.8" y="954.2" width="1.9" height="5.2" fill="#9010ff" opacity="0.83"/><rect x="1000.4" y="950.5" width="1.5" height="10.5" fill="#0000ff" opacity="0.76"/><rect x="1002.1" y="950.5" width="1.6" height="10.5" fill="#0000ff" opacity="0.86"/><rect x="1003.9" y="950.5" width="1.1" height="10.5" fill="#0000ff" opacity="0.74"/><rect x="1004.0" y="954.2" width="0.9" height="5.2" fill="#9010ff" opacity="0.69"/><rect x="1005.3" y="950.5" width="1.3" height="10.5" fill="#000" opacity="0.87"/><rect x="1007.0" y="950.5" width="2.4" height="10.5" fill="#000" opacity="0.89"/><rect x="1010.2" y="950.5" width="1.7" height="10.5" fill="#000" opacity="0.81"/><rect x="1012.5" y="950.5" width="2.4" height="10.5" fill="#000" opacity="0.92"/><rect x="1015.5" y="950.5" width="1.7" height="10.5" fill="#2000ff" opacity="0.82"/><rect x="1015.7" y="954.2" width="1.4" height="5.2" fill="#ff56a9" opacity="0.65"/><rect x="1018.1" y="950.5" width="1.4" height="10.5" fill="#0000ff" opacity="0.92"/><rect x="1019.8" y="950.5" width="2.3" height="10.5" fill="#000" opacity="1.00"/><rect x="1022.6" y="950.5" width="1.1" height="10.5" fill="#0000ff" opacity="0.78"/><rect x="1022.7" y="954.2" width="0.9" height="5.2" fill="#b028e8" opacity="0.80"/><rect x="1024.0" y="950.5" width="1.7" height="10.5" fill="#000" opacity="0.82"/><rect x="1025.9" y="950.5" width="2.1" height="10.5" fill="#0000ff" opacity="0.81"/><rect x="1028.2" y="950.5" width="2.0" height="10.5" fill="#0000ff" opacity="0.72"/><rect x="1028.4" y="954.2" width="1.6" height="5.2" fill="#b028e8" opacity="0.71"/><rect x="1031.1" y="950.5" width="2.1" height="10.5" fill="#2000ff" opacity="0.80"/><rect x="1031.3" y="954.2" width="1.7" height="5.2" fill="#9010ff" opacity="0.62"/><rect x="1034.1" y="950.5" width="1.9" height="10.5" fill="#2000ff" opacity="0.95"/><rect x="1036.0" y="950.5" width="1.1" height="10.5" fill="#2000ff" opacity="0.91"/><rect x="1037.3" y="950.5" width="1.1" height="10.5" fill="#000" opacity="0.82"/><rect x="1039.1" y="950.5" width="1.5" height="10.5" fill="#2000ff" opacity="0.94"/><rect x="1040.9" y="950.5" width="1.6" height="10.5" fill="#0000ff" opacity="0.99"/><rect x="1041.0" y="954.2" width="1.3" height="5.2" fill="#9010ff" opacity="0.83"/><rect x="1042.7" y="950.5" width="1.6" height="10.5" fill="#000" opacity="0.92"/><rect x="1044.8" y="950.5" width="2.1" height="10.5" fill="#2000ff" opacity="0.97"/><rect x="1047.9" y="950.5" width="1.1" height="10.5" fill="#2000ff" opacity="0.95"/><rect x="1049.4" y="950.5" width="1.2" height="10.5" fill="#0000ff" opacity="0.96"/><rect x="1051.1" y="950.5" width="1.3" height="10.5" fill="#0000ff" opacity="0.85"/><rect x="1052.6" y="950.5" width="2.1" height="10.5" fill="#0000ff" opacity="0.83"/><rect x="1054.8" y="950.5" width="2.2" height="10.5" fill="#000" opacity="0.88"/><rect x="1057.5" y="950.5" width="1.5" height="10.5" fill="#000" opacity="0.96"/><rect x="1059.7" y="950.5" width="1.5" height="10.5" fill="#000" opacity="0.97"/><rect x="1061.5" y="950.5" width="1.2" height="10.5" fill="#000" opacity="0.81"/><rect x="1063.5" y="950.5" width="1.6" height="10.5" fill="#000" opacity="0.92"/><rect x="1065.7" y="950.5" width="1.1" height="10.5" fill="#000" opacity="0.97"/><rect x="1068.0" y="950.5" width="1.5" height="10.5" fill="#000" opacity="0.90"/><rect x="1069.8" y="950.5" width="1.7" height="10.5" fill="#0000ff" opacity="0.72"/><rect x="1071.8" y="950.5" width="2.4" height="10.5" fill="#000" opacity="0.87"/><rect x="1075.2" y="950.5" width="1.9" height="10.5" fill="#0000ff" opacity="0.82"/><rect x="1077.8" y="950.5" width="2.4" height="10.5" fill="#2000ff" opacity="0.79"/><rect x="1080.9" y="950.5" width="1.8" height="10.5" fill="#2000ff" opacity="0.91"/><rect x="1083.6" y="950.5" width="1.9" height="10.5" fill="#2000ff" opacity="0.92"/><rect x="1086.7" y="950.5" width="2.3" height="10.5" fill="#000" opacity="0.81"/><rect x="1090.0" y="950.5" width="2.2" height="10.5" fill="#000" opacity="1.00"/><rect x="1092.6" y="950.5" width="1.6" height="10.5" fill="#000" opacity="0.84"/><rect x="1094.5" y="950.5" width="1.3" height="10.5" fill="#000" opacity="0.99"/><rect x="1096.5" y="950.5" width="1.1" height="10.5" fill="#000" opacity="0.94"/><rect x="1097.7" y="950.5" width="1.3" height="10.5" fill="#2000ff" opacity="0.73"/><rect x="1097.8" y="954.2" width="1.0" height="5.2" fill="#b028e8" opacity="0.72"/><rect x="1099.3" y="950.5" width="2.0" height="10.5" fill="#000" opacity="0.99"/><rect x="1101.7" y="950.5" width="2.0" height="10.5" fill="#2000ff" opacity="0.80"/><rect x="1104.4" y="950.5" width="1.8" height="10.5" fill="#0000ff" opacity="0.86"/><rect x="1106.4" y="950.5" width="1.8" height="10.5" fill="#0000ff" opacity="0.73"/><rect x="1108.3" y="950.5" width="2.2" height="10.5" fill="#000" opacity="0.85"/><rect x="1110.8" y="950.5" width="2.3" height="10.5" fill="#0000ff" opacity="0.82"/><rect x="1113.4" y="950.5" width="1.4" height="10.5" fill="#0000ff" opacity="0.91"/><rect x="1113.5" y="954.2" width="1.1" height="5.2" fill="#9010ff" opacity="0.92"/><rect x="1115.2" y="950.5" width="1.3" height="10.5" fill="#0000ff" opacity="0.75"/><rect x="1115.4" y="954.2" width="1.0" height="5.2" fill="#c030e0" opacity="0.92"/><rect x="1117.4" y="950.5" width="2.1" height="10.5" fill="#0000ff" opacity="0.85"/><rect x="1117.7" y="954.2" width="1.7" height="5.2" fill="#b028e8" opacity="0.97"/><rect x="1119.8" y="950.5" width="2.3" height="10.5" fill="#2000ff" opacity="0.91"/><rect x="1122.3" y="950.5" width="2.3" height="10.5" fill="#000" opacity="0.93"/><rect x="1125.6" y="950.5" width="1.8" height="10.5" fill="#0000ff" opacity="0.96"/><rect x="1127.8" y="950.5" width="1.5" height="10.5" fill="#000" opacity="0.87"/><rect x="1129.9" y="950.5" width="2.4" height="10.5" fill="#000" opacity="0.95"/><rect x="1133.1" y="950.5" width="1.2" height="10.5" fill="#000" opacity="0.94"/><rect x="1134.5" y="950.5" width="1.9" height="10.5" fill="#000" opacity="0.80"/><rect x="1137.6" y="950.5" width="1.5" height="10.5" fill="#0000ff" opacity="0.97"/><rect x="1140.3" y="950.5" width="2.2" height="10.5" fill="#2000ff" opacity="0.99"/><rect x="1143.6" y="950.5" width="2.0" height="10.5" fill="#0000ff" opacity="0.70"/><rect x="1146.5" y="950.5" width="1.7" height="10.5" fill="#000" opacity="0.87"/><rect x="1148.8" y="950.5" width="1.1" height="10.5" fill="#0000ff" opacity="0.73"/><rect x="1151.0" y="950.5" width="1.6" height="10.5" fill="#0000ff" opacity="0.75"/><rect x="1152.6" y="950.5" width="1.9" height="10.5" fill="#0000ff" opacity="0.94"/><rect x="1155.5" y="950.5" width="2.2" height="10.5" fill="#0000ff" opacity="0.94"/><rect x="1155.7" y="954.2" width="1.8" height="5.2" fill="#ff56a9" opacity="0.93"/><rect x="1157.9" y="950.5" width="2.4" height="10.5" fill="#000" opacity="0.97"/><rect x="1160.3" y="950.5" width="1.8" height="10.5" fill="#0000ff" opacity="0.80"/><rect x="1162.7" y="950.5" width="1.9" height="10.5" fill="#2000ff" opacity="0.73"/><rect x="1164.6" y="950.5" width="1.8" height="10.5" fill="#000" opacity="0.94"/><rect x="1167.1" y="950.5" width="2.4" height="10.5" fill="#000" opacity="0.85"/><rect x="1170.5" y="950.5" width="1.0" height="10.5" fill="#000" opacity="0.99"/><rect x="1171.8" y="950.5" width="1.9" height="10.5" fill="#000" opacity="0.93"/><rect x="1174.1" y="950.5" width="1.5" height="10.5" fill="#0000ff" opacity="0.73"/><rect x="1175.7" y="950.5" width="2.1" height="10.5" fill="#0000ff" opacity="0.85"/><rect x="1178.7" y="950.5" width="1.7" height="10.5" fill="#0000ff" opacity="0.83"/><rect x="1178.8" y="954.2" width="1.3" height="5.2" fill="#9010ff" opacity="0.93"/><rect x="1180.6" y="950.5" width="1.2" height="10.5" fill="#000" opacity="0.90"/><rect x="1182.4" y="950.5" width="2.2" height="10.5" fill="#000" opacity="0.81"/><rect x="1185.6" y="950.5" width="2.4" height="10.5" fill="#000" opacity="0.95"/><rect x="1188.9" y="950.5" width="1.5" height="10.5" fill="#000" opacity="0.91"/><rect x="1190.6" y="950.5" width="1.8" height="10.5" fill="#0000ff" opacity="0.91"/><rect x="1192.7" y="950.5" width="1.5" height="10.5" fill="#2000ff" opacity="0.75"/><rect x="1194.6" y="950.5" width="1.8" height="10.5" fill="#0000ff" opacity="0.78"/><rect x="1194.8" y="954.2" width="1.4" height="5.2" fill="#ff56a9" opacity="0.76"/><rect x="1197.4" y="950.5" width="1.4" height="10.5" fill="#2000ff" opacity="0.79"/><rect x="1199.6" y="950.5" width="2.2" height="10.5" fill="#0000ff" opacity="0.97"/><rect x="1202.2" y="950.5" width="2.0" height="10.5" fill="#2000ff" opacity="0.78"/><rect x="1204.6" y="950.5" width="1.3" height="10.5" fill="#000" opacity="0.95"/><rect x="1206.6" y="950.5" width="1.9" height="10.5" fill="#000" opacity="0.96"/><rect x="1209.1" y="950.5" width="2.2" height="10.5" fill="#0000ff" opacity="0.88"/><rect x="1209.3" y="954.2" width="1.7" height="5.2" fill="#c030e0" opacity="0.75"/><rect x="1211.6" y="950.5" width="1.9" height="10.5" fill="#0000ff" opacity="0.78"/><rect x="1214.1" y="950.5" width="1.4" height="10.5" fill="#000" opacity="0.85"/><rect x="1215.7" y="950.5" width="1.6" height="10.5" fill="#2000ff" opacity="0.80"/><rect x="1215.9" y="954.2" width="1.3" height="5.2" fill="#b028e8" opacity="0.82"/><rect x="1218.2" y="950.5" width="1.4" height="10.5" fill="#0000ff" opacity="0.75"/><rect x="1219.9" y="950.5" width="1.8" height="10.5" fill="#0000ff" opacity="0.87"/><rect x="1220.0" y="954.2" width="1.4" height="5.2" fill="#ff56a9" opacity="0.83"/><rect x="1222.5" y="950.5" width="1.9" height="10.5" fill="#0000ff" opacity="0.94"/><rect x="1225.0" y="950.5" width="1.4" height="10.5" fill="#2000ff" opacity="0.75"/><rect x="1226.3" y="950.5" width="1.8" height="10.5" fill="#2000ff" opacity="0.96"/><rect x="1228.3" y="950.5" width="1.3" height="10.5" fill="#0000ff" opacity="0.82"/><rect x="1230.0" y="950.5" width="1.0" height="10.5" fill="#2000ff" opacity="0.95"/><rect x="1230.1" y="954.2" width="0.8" height="5.2" fill="#c030e0" opacity="0.96"/><rect x="1231.8" y="950.5" width="2.2" height="10.5" fill="#0000ff" opacity="0.94"/><rect x="1234.3" y="950.5" width="1.3" height="10.5" fill="#000" opacity="0.83"/><rect x="1236.0" y="950.5" width="1.3" height="10.5" fill="#0000ff" opacity="0.92"/><rect x="1236.1" y="954.2" width="1.0" height="5.2" fill="#b028e8" opacity="0.79"/><rect x="1237.9" y="950.5" width="1.9" height="10.5" fill="#0000ff" opacity="0.89"/><rect x="1238.1" y="954.2" width="1.5" height="5.2" fill="#9010ff" opacity="0.97"/><rect x="1240.4" y="950.5" width="1.7" height="10.5" fill="#0000ff" opacity="0.86"/><rect x="1240.5" y="954.2" width="1.4" height="5.2" fill="#c030e0" opacity="0.92"/><rect x="1242.4" y="950.5" width="1.4" height="10.5" fill="#2000ff" opacity="0.77"/><rect x="1243.9" y="950.5" width="1.1" height="10.5" fill="#2000ff" opacity="0.87"/><rect x="1244.0" y="954.2" width="0.8" height="5.2" fill="#c030e0" opacity="0.71"/><rect x="1245.4" y="950.5" width="1.6" height="10.5" fill="#000" opacity="0.81"/><rect x="1247.7" y="950.5" width="1.3" height="10.5" fill="#000" opacity="0.81"/><rect x="1250.0" y="950.5" width="2.4" height="10.5" fill="#2000ff" opacity="0.74"/><rect x="1252.5" y="950.5" width="1.8" height="10.5" fill="#0000ff" opacity="0.76"/><rect x="1254.9" y="950.5" width="1.9" height="10.5" fill="#000" opacity="0.91"/><rect x="1256.9" y="950.5" width="1.4" height="10.5" fill="#0000ff" opacity="0.82"/><rect x="1257.1" y="954.2" width="1.1" height="5.2" fill="#ff56a9" opacity="0.66"/><rect x="1258.7" y="950.5" width="1.0" height="10.5" fill="#2000ff" opacity="0.86"/><rect x="1260.8" y="950.5" width="1.9" height="10.5" fill="#000" opacity="0.87"/><rect x="1263.3" y="950.5" width="1.3" height="10.5" fill="#0000ff" opacity="0.87"/><rect x="1265.3" y="950.5" width="1.3" height="10.5" fill="#0000ff" opacity="0.75"/><rect x="1267.4" y="950.5" width="1.4" height="10.5" fill="#0000ff" opacity="0.84"/><rect x="1267.6" y="954.2" width="1.1" height="5.2" fill="#ff56a9" opacity="0.75"/><rect x="1269.7" y="950.5" width="2.4" height="10.5" fill="#0000ff" opacity="0.77"/><rect x="1272.5" y="950.5" width="2.0" height="10.5" fill="#2000ff" opacity="0.75"/><rect x="1272.7" y="954.2" width="1.6" height="5.2" fill="#9010ff" opacity="0.84"/><rect x="1275.6" y="950.5" width="1.0" height="10.5" fill="#000" opacity="0.81"/><rect x="1277.0" y="950.5" width="1.5" height="10.5" fill="#000" opacity="1.00"/><rect x="1279.1" y="950.5" width="2.1" height="10.5" fill="#0000ff" opacity="0.76"/><rect x="1281.6" y="950.5" width="1.3" height="10.5" fill="#000" opacity="0.90"/><rect x="1283.4" y="950.5" width="2.2" height="10.5" fill="#000" opacity="0.83"/><rect x="1286.0" y="950.5" width="1.6" height="10.5" fill="#0000ff" opacity="0.76"/><rect x="1286.2" y="954.2" width="1.3" height="5.2" fill="#ff56a9" opacity="0.90"/><rect x="1287.8" y="950.5" width="1.8" height="10.5" fill="#000" opacity="0.80"/><rect x="1290.0" y="950.5" width="2.1" height="10.5" fill="#000" opacity="0.88"/><rect x="1293.0" y="950.5" width="1.5" height="10.5" fill="#000" opacity="0.94"/><rect x="1295.5" y="950.5" width="1.7" height="10.5" fill="#000" opacity="0.94"/><rect x="1298.4" y="950.5" width="1.9" height="10.5" fill="#2000ff" opacity="0.93"/><rect x="1301.1" y="950.5" width="2.0" height="10.5" fill="#0000ff" opacity="1.00"/><rect x="1304.1" y="950.5" width="2.0" height="10.5" fill="#0000ff" opacity="0.73"/><rect x="1304.3" y="954.2" width="1.6" height="5.2" fill="#9010ff" opacity="0.92"/><rect x="1306.7" y="950.5" width="1.1" height="10.5" fill="#0000ff" opacity="0.95"/><rect x="1306.8" y="954.2" width="0.9" height="5.2" fill="#c030e0" opacity="0.66"/><rect x="1308.1" y="950.5" width="2.1" height="10.5" fill="#0000ff" opacity="0.76"/><rect x="1308.3" y="954.2" width="1.7" height="5.2" fill="#9010ff" opacity="0.78"/><rect x="1311.3" y="950.5" width="2.1" height="10.5" fill="#000" opacity="0.88"/><rect x="1313.5" y="950.5" width="1.5" height="10.5" fill="#000" opacity="0.82"/><rect x="1315.8" y="950.5" width="1.3" height="10.5" fill="#0000ff" opacity="0.88"/><rect x="1318.1" y="950.5" width="1.9" height="10.5" fill="#2000ff" opacity="0.94"/><rect x="1320.7" y="950.5" width="2.1" height="10.5" fill="#0000ff" opacity="0.76"/><rect x="1323.5" y="950.5" width="1.2" height="10.5" fill="#2000ff" opacity="0.95"/><rect x="1323.7" y="954.2" width="1.0" height="5.2" fill="#c030e0" opacity="0.63"/><rect x="1325.5" y="950.5" width="1.1" height="10.5" fill="#0000ff" opacity="0.97"/><rect x="1327.7" y="950.5" width="1.4" height="10.5" fill="#000" opacity="0.98"/><rect x="1330.1" y="950.5" width="2.1" height="10.5" fill="#000" opacity="0.85"/><rect x="1333.1" y="950.5" width="1.7" height="10.5" fill="#000" opacity="0.82"/><rect x="1335.7" y="950.5" width="1.0" height="10.5" fill="#0000ff" opacity="0.78"/><rect x="1337.6" y="950.5" width="1.0" height="10.5" fill="#0000ff" opacity="0.71"/><rect x="1339.6" y="950.5" width="1.5" height="10.5" fill="#2000ff" opacity="0.77"/><rect x="1341.7" y="950.5" width="1.7" height="10.5" fill="#000" opacity="0.97"/><rect x="1344.6" y="950.5" width="1.4" height="10.5" fill="#2000ff" opacity="0.79"/><rect x="1344.7" y="954.2" width="1.1" height="5.2" fill="#ff56a9" opacity="0.89"/><rect x="1346.3" y="950.5" width="1.8" height="10.5" fill="#0000ff" opacity="0.82"/><rect x="1348.7" y="950.5" width="2.4" height="10.5" fill="#0000ff" opacity="0.77"/><rect x="1352.0" y="950.5" width="1.8" height="10.5" fill="#000" opacity="0.92"/><rect x="1354.0" y="950.5" width="2.3" height="10.5" fill="#000" opacity="0.95"/><rect x="1357.4" y="950.5" width="1.4" height="10.5" fill="#0000ff" opacity="0.76"/><rect x="1359.6" y="950.5" width="1.1" height="10.5" fill="#0000ff" opacity="0.84"/><rect x="1360.9" y="950.5" width="1.2" height="10.5" fill="#2000ff" opacity="0.90"/><rect x="1363.2" y="950.5" width="1.3" height="10.5" fill="#000" opacity="0.89"/><rect x="1364.7" y="950.5" width="1.8" height="10.5" fill="#0000ff" opacity="0.90"/><rect x="1364.8" y="954.2" width="1.5" height="5.2" fill="#9010ff" opacity="0.78"/><rect x="1367.5" y="950.5" width="1.1" height="10.5" fill="#0000ff" opacity="0.78"/><rect x="1369.6" y="950.5" width="2.0" height="10.5" fill="#2000ff" opacity="0.88"/><rect x="1371.9" y="950.5" width="1.3" height="10.5" fill="#0000ff" opacity="0.94"/><rect x="1373.5" y="950.5" width="2.1" height="10.5" fill="#0000ff" opacity="0.88"/><rect x="1373.7" y="954.2" width="1.7" height="5.2" fill="#9010ff" opacity="0.76"/><rect x="1375.8" y="950.5" width="1.1" height="10.5" fill="#0000ff" opacity="0.79"/><rect x="1375.9" y="954.2" width="0.9" height="5.2" fill="#b028e8" opacity="0.61"/><rect x="1377.1" y="950.5" width="2.0" height="10.5" fill="#0000ff" opacity="0.81"/><rect x="1380.1" y="950.5" width="1.1" height="10.5" fill="#0000ff" opacity="0.90"/><rect x="1382.3" y="950.5" width="1.8" height="10.5" fill="#0000ff" opacity="0.77"/><rect x="1384.9" y="950.5" width="2.2" height="10.5" fill="#2000ff" opacity="0.98"/><rect x="1385.1" y="954.2" width="1.8" height="5.2" fill="#9010ff" opacity="0.78"/><rect x="1388.2" y="950.5" width="1.3" height="10.5" fill="#0000ff" opacity="0.94"/><rect x="1390.3" y="950.5" width="1.1" height="10.5" fill="#0000ff" opacity="0.75"/><rect x="1391.9" y="950.5" width="2.2" height="10.5" fill="#000" opacity="0.81"/><rect x="1394.6" y="950.5" width="2.1" height="10.5" fill="#0000ff" opacity="0.77"/><rect x="1394.8" y="954.2" width="1.6" height="5.2" fill="#ff56a9" opacity="0.64"/><rect x="1397.8" y="950.5" width="1.9" height="10.5" fill="#0000ff" opacity="0.79"/><rect x="1400.4" y="950.5" width="2.1" height="10.5" fill="#000" opacity="0.89"/><rect x="1403.2" y="950.5" width="1.9" height="10.5" fill="#2000ff" opacity="0.88"/><rect x="1405.7" y="950.5" width="1.5" height="10.5" fill="#0000ff" opacity="0.99"/><rect x="1407.1" y="950.5" width="1.0" height="10.5" fill="#2000ff" opacity="0.73"/><rect x="1408.4" y="950.5" width="1.1" height="10.5" fill="#2000ff" opacity="0.83"/><rect x="1409.6" y="950.5" width="1.2" height="10.5" fill="#000" opacity="0.81"/><rect x="1410.9" y="950.5" width="1.2" height="10.5" fill="#0000ff" opacity="0.99"/><rect x="1411.0" y="954.2" width="0.9" height="5.2" fill="#b028e8" opacity="0.79"/><rect x="1413.0" y="950.5" width="1.8" height="10.5" fill="#0000ff" opacity="0.90"/><rect x="1415.1" y="950.5" width="2.2" height="10.5" fill="#0000ff" opacity="0.97"/><rect x="1417.4" y="950.5" width="1.2" height="10.5" fill="#0000ff" opacity="0.72"/><rect x="1418.9" y="950.5" width="1.8" height="10.5" fill="#0000ff" opacity="0.98"/><rect x="1421.1" y="950.5" width="1.3" height="10.5" fill="#000" opacity="0.95"/><rect x="1422.6" y="950.5" width="2.2" height="10.5" fill="#2000ff" opacity="0.71"/><rect x="1422.8" y="954.2" width="1.8" height="5.2" fill="#9010ff" opacity="0.98"/><rect x="1425.4" y="950.5" width="1.2" height="10.5" fill="#000" opacity="0.94"/><rect x="1426.9" y="950.5" width="1.3" height="10.5" fill="#2000ff" opacity="0.75"/><rect x="1427.0" y="954.2" width="1.1" height="5.2" fill="#9010ff" opacity="0.80"/><rect x="1428.5" y="950.5" width="1.8" height="10.5" fill="#0000ff" opacity="0.87"/><rect x="1431.4" y="950.5" width="1.3" height="10.5" fill="#000" opacity="0.88"/><rect x="1433.4" y="950.5" width="2.3" height="10.5" fill="#0000ff" opacity="0.92"/><rect x="1436.1" y="950.5" width="1.4" height="10.5" fill="#000" opacity="0.97"/><rect x="1437.8" y="950.5" width="1.8" height="10.5" fill="#0000ff" opacity="0.74"/><rect x="1440.2" y="950.5" width="1.7" height="10.5" fill="#000" opacity="0.96"/><rect x="1442.9" y="950.5" width="1.1" height="10.5" fill="#0000ff" opacity="0.97"/><rect x="1445.0" y="950.5" width="2.2" height="10.5" fill="#0000ff" opacity="0.96"/><rect x="1447.3" y="950.5" width="1.4" height="10.5" fill="#000" opacity="0.83"/><rect x="1449.7" y="950.5" width="2.1" height="10.5" fill="#000" opacity="0.96"/><rect x="1452.2" y="950.5" width="1.0" height="10.5" fill="#0000ff" opacity="0.92"/><rect x="1453.3" y="950.5" width="2.2" height="10.5" fill="#0000ff" opacity="0.84"/><rect x="1455.8" y="950.5" width="2.2" height="10.5" fill="#000" opacity="0.94"/><rect x="1458.3" y="950.5" width="1.6" height="10.5" fill="#0000ff" opacity="0.82"/><rect x="1460.2" y="950.5" width="2.4" height="10.5" fill="#2000ff" opacity="0.95"/><rect x="1460.5" y="954.2" width="1.9" height="5.2" fill="#ff56a9" opacity="0.78"/><rect x="1463.0" y="950.5" width="2.4" height="10.5" fill="#000" opacity="0.96"/><rect x="1466.1" y="950.5" width="2.2" height="10.5" fill="#0000ff" opacity="0.74"/><rect x="1466.3" y="954.2" width="1.8" height="5.2" fill="#9010ff" opacity="0.99"/><rect x="1469.2" y="950.5" width="1.4" height="10.5" fill="#000" opacity="0.83"/><rect x="1470.7" y="950.5" width="1.7" height="10.5" fill="#0000ff" opacity="0.92"/><rect x="1473.4" y="950.5" width="1.4" height="10.5" fill="#000" opacity="0.94"/><rect x="1475.6" y="950.5" width="1.9" height="10.5" fill="#000" opacity="0.88"/><rect x="1478.6" y="950.5" width="1.9" height="10.5" fill="#0000ff" opacity="0.94"/><rect x="1481.0" y="950.5" width="1.2" height="10.5" fill="#0000ff" opacity="0.96"/><rect x="1483.0" y="950.5" width="1.2" height="10.5" fill="#000" opacity="0.95"/><rect x="1484.2" y="950.5" width="1.0" height="10.5" fill="#000" opacity="0.89"/><rect x="1485.5" y="950.5" width="1.4" height="10.5" fill="#0000ff" opacity="0.73"/><rect x="1488.0" y="950.5" width="2.1" height="10.5" fill="#0000ff" opacity="0.76"/><rect x="1488.2" y="954.2" width="1.7" height="5.2" fill="#c030e0" opacity="0.65"/><rect x="1490.9" y="950.5" width="2.0" height="10.5" fill="#000" opacity="0.97"/><rect x="1493.4" y="950.5" width="2.0" height="10.5" fill="#000" opacity="0.86"/><rect x="1495.6" y="950.5" width="1.4" height="10.5" fill="#0000ff" opacity="0.71"/><rect x="1495.7" y="954.2" width="1.1" height="5.2" fill="#b028e8" opacity="0.64"/><rect x="1497.3" y="950.5" width="2.2" height="10.5" fill="#2000ff" opacity="0.88"/><rect x="1497.5" y="954.2" width="1.8" height="5.2" fill="#b028e8" opacity="0.86"/><rect x="1499.6" y="950.5" width="1.9" height="10.5" fill="#0000ff" opacity="0.90"/><rect x="1499.8" y="954.2" width="1.5" height="5.2" fill="#ff56a9" opacity="0.78"/><rect x="1502.1" y="950.5" width="2.3" height="10.5" fill="#0000ff" opacity="0.77"/><rect x="1502.4" y="954.2" width="1.9" height="5.2" fill="#9010ff" opacity="0.89"/><rect x="1504.5" y="950.5" width="2.3" height="10.5" fill="#0000ff" opacity="0.90"/><rect x="1507.7" y="950.5" width="2.3" height="10.5" fill="#000" opacity="0.82"/><rect x="1510.5" y="950.5" width="2.1" height="10.5" fill="#0000ff" opacity="0.72"/><rect x="1510.7" y="954.2" width="1.7" height="5.2" fill="#ff56a9" opacity="0.98"/><rect x="1513.1" y="950.5" width="1.5" height="10.5" fill="#2000ff" opacity="0.84"/><rect x="1515.2" y="950.5" width="1.2" height="10.5" fill="#000" opacity="0.82"/><rect x="1517.0" y="950.5" width="2.2" height="10.5" fill="#2000ff" opacity="0.81"/><rect x="1519.5" y="950.5" width="2.4" height="10.5" fill="#000" opacity="0.90"/><rect x="1523.0" y="950.5" width="1.7" height="10.5" fill="#000" opacity="0.81"/><rect x="1525.6" y="950.5" width="2.2" height="10.5" fill="#000" opacity="0.92"/><rect x="1528.5" y="950.5" width="1.7" height="10.5" fill="#0000ff" opacity="0.83"/><rect x="1531.0" y="950.5" width="1.8" height="10.5" fill="#2000ff" opacity="0.80"/><rect x="1533.3" y="950.5" width="1.6" height="10.5" fill="#000" opacity="0.95"/><rect x="1535.6" y="950.5" width="1.0" height="10.5" fill="#2000ff" opacity="0.94"/><rect x="1536.8" y="950.5" width="2.4" height="10.5" fill="#0000ff" opacity="0.94"/><rect x="1540.1" y="950.5" width="1.1" height="10.5" fill="#0000ff" opacity="0.77"/><rect x="1540.2" y="954.2" width="0.9" height="5.2" fill="#9010ff" opacity="0.83"/><rect x="1541.6" y="950.5" width="2.3" height="10.5" fill="#0000ff" opacity="0.79"/><rect x="1544.0" y="950.5" width="1.6" height="10.5" fill="#0000ff" opacity="0.98"/><rect x="1546.7" y="950.5" width="1.2" height="10.5" fill="#000" opacity="0.88"/><rect x="1548.7" y="950.5" width="1.9" height="10.5" fill="#0000ff" opacity="0.99"/><rect x="1551.7" y="950.5" width="1.8" height="10.5" fill="#0000ff" opacity="0.85"/><rect x="1554.1" y="950.5" width="1.5" height="10.5" fill="#000" opacity="0.95"/><rect x="1555.8" y="950.5" width="2.0" height="10.5" fill="#2000ff" opacity="0.83"/><rect x="1558.7" y="950.5" width="1.4" height="10.5" fill="#0000ff" opacity="0.77"/><rect x="1558.9" y="954.2" width="1.1" height="5.2" fill="#c030e0" opacity="0.88"/><rect x="1561.2" y="950.5" width="2.0" height="10.5" fill="#2000ff" opacity="0.87"/><rect x="1561.4" y="954.2" width="1.6" height="5.2" fill="#ff56a9" opacity="0.94"/><rect x="1563.7" y="950.5" width="1.8" height="10.5" fill="#0000ff" opacity="0.80"/><rect x="1566.1" y="950.5" width="2.1" height="10.5" fill="#2000ff" opacity="0.76"/><rect x="1569.1" y="950.5" width="1.4" height="10.5" fill="#2000ff" opacity="0.74"/><rect x="1569.3" y="954.2" width="1.1" height="5.2" fill="#9010ff" opacity="0.60"/><rect x="1571.2" y="950.5" width="1.5" height="10.5" fill="#000" opacity="0.93"/><rect x="1572.7" y="950.5" width="2.0" height="10.5" fill="#2000ff" opacity="0.96"/><rect x="1575.5" y="950.5" width="1.6" height="10.5" fill="#0000ff" opacity="0.76"/><rect x="1577.4" y="950.5" width="2.1" height="10.5" fill="#0000ff" opacity="0.91"/><rect x="1577.6" y="954.2" width="1.7" height="5.2" fill="#b028e8" opacity="0.66"/><rect x="1579.9" y="950.5" width="2.3" height="10.5" fill="#0000ff" opacity="0.71"/><rect x="1580.2" y="954.2" width="1.8" height="5.2" fill="#9010ff" opacity="0.93"/><rect x="1582.4" y="950.5" width="1.2" height="10.5" fill="#000" opacity="0.85"/><rect x="1584.1" y="950.5" width="1.9" height="10.5" fill="#000" opacity="0.84"/><rect x="1586.0" y="950.5" width="1.5" height="10.5" fill="#000" opacity="0.95"/><rect x="1587.9" y="950.5" width="1.1" height="10.5" fill="#000" opacity="0.88"/><rect x="1590.1" y="950.5" width="1.7" height="10.5" fill="#000" opacity="0.92"/><rect x="1592.4" y="950.5" width="1.1" height="10.5" fill="#0000ff" opacity="0.72"/><rect x="1593.5" y="950.5" width="2.1" height="10.5" fill="#2000ff" opacity="0.85"/><rect x="1593.7" y="954.2" width="1.6" height="5.2" fill="#b028e8" opacity="0.87"/><rect x="1596.1" y="950.5" width="1.2" height="10.5" fill="#000" opacity="0.85"/><rect x="1597.7" y="950.5" width="1.1" height="10.5" fill="#000" opacity="0.88"/><rect x="1599.0" y="950.5" width="2.1" height="10.5" fill="#2000ff" opacity="0.90"/><rect x="1601.2" y="950.5" width="1.9" height="10.5" fill="#0000ff" opacity="0.88"/><rect x="1601.4" y="954.2" width="1.5" height="5.2" fill="#c030e0" opacity="0.64"/><rect x="1603.1" y="950.5" width="1.3" height="10.5" fill="#0000ff" opacity="0.95"/><rect x="1605.0" y="950.5" width="1.4" height="10.5" fill="#000" opacity="0.96"/><rect x="1606.5" y="950.5" width="1.3" height="10.5" fill="#0000ff" opacity="0.86"/><rect x="1606.6" y="954.2" width="1.1" height="5.2" fill="#c030e0" opacity="0.74"/><rect x="1608.0" y="950.5" width="1.9" height="10.5" fill="#000" opacity="0.84"/><rect x="1611.0" y="950.5" width="1.3" height="10.5" fill="#0000ff" opacity="0.75"/><rect x="1612.9" y="950.5" width="1.7" height="10.5" fill="#000" opacity="0.83"/><rect x="1614.7" y="950.5" width="1.0" height="10.5" fill="#2000ff" opacity="0.83"/><rect x="1614.8" y="954.2" width="0.8" height="5.2" fill="#ff56a9" opacity="0.75"/><rect x="1616.7" y="950.5" width="1.2" height="10.5" fill="#2000ff" opacity="0.80"/><rect x="1618.6" y="950.5" width="1.6" height="10.5" fill="#2000ff" opacity="0.74"/><rect x="1618.8" y="954.2" width="1.3" height="5.2" fill="#ff56a9" opacity="0.85"/><rect x="1620.7" y="950.5" width="1.4" height="10.5" fill="#0000ff" opacity="0.86"/><rect x="1622.4" y="950.5" width="1.8" height="10.5" fill="#0000ff" opacity="0.72"/><rect x="1625.3" y="950.5" width="2.0" height="10.5" fill="#000" opacity="0.91"/><rect x="1628.0" y="950.5" width="2.0" height="10.5" fill="#000" opacity="0.98"/><rect x="1630.1" y="950.5" width="1.9" height="10.5" fill="#000" opacity="0.82"/><rect x="1632.5" y="950.5" width="1.5" height="10.5" fill="#000" opacity="0.94"/><rect x="1634.8" y="950.5" width="2.2" height="10.5" fill="#0000ff" opacity="0.96"/><rect x="1637.1" y="950.5" width="1.9" height="10.5" fill="#000" opacity="0.80"/><rect x="1639.8" y="950.5" width="2.2" height="10.5" fill="#0000ff" opacity="0.87"/><rect x="1642.2" y="950.5" width="1.4" height="10.5" fill="#0000ff" opacity="0.71"/><rect x="1644.1" y="950.5" width="1.4" height="10.5" fill="#000" opacity="0.90"/><rect x="1645.7" y="950.5" width="2.0" height="10.5" fill="#2000ff" opacity="0.95"/><rect x="1648.3" y="950.5" width="1.8" height="10.5" fill="#2000ff" opacity="0.82"/><rect x="1648.5" y="954.2" width="1.4" height="5.2" fill="#b028e8" opacity="0.91"/><rect x="1650.3" y="950.5" width="1.9" height="10.5" fill="#2000ff" opacity="0.91"/><rect x="1650.5" y="954.2" width="1.5" height="5.2" fill="#ff56a9" opacity="1.00"/><rect x="1653.3" y="950.5" width="1.7" height="10.5" fill="#000" opacity="0.90"/><rect x="1655.5" y="950.5" width="2.1" height="10.5" fill="#2000ff" opacity="0.94"/><rect x="1658.3" y="950.5" width="1.4" height="10.5" fill="#000" opacity="0.82"/><rect x="1660.8" y="950.5" width="1.9" height="10.5" fill="#000" opacity="0.92"/><rect x="1662.8" y="950.5" width="1.1" height="10.5" fill="#000" opacity="0.95"/><rect x="1664.8" y="950.5" width="1.8" height="10.5" fill="#0000ff" opacity="0.89"/><rect x="1667.0" y="950.5" width="1.5" height="10.5" fill="#000" opacity="0.96"/><rect x="1669.2" y="950.5" width="1.9" height="10.5" fill="#000" opacity="0.86"/><rect x="1671.9" y="950.5" width="1.3" height="10.5" fill="#000" opacity="0.92"/><rect x="1674.4" y="950.5" width="2.3" height="10.5" fill="#000" opacity="0.84"/><rect x="1676.8" y="950.5" width="1.5" height="10.5" fill="#000" opacity="1.00"/><rect x="1678.5" y="950.5" width="2.2" height="10.5" fill="#0000ff" opacity="0.99"/><rect x="1681.6" y="950.5" width="2.4" height="10.5" fill="#000" opacity="1.00"/><rect x="1684.8" y="950.5" width="1.5" height="10.5" fill="#000" opacity="0.89"/><rect x="1686.8" y="950.5" width="1.9" height="10.5" fill="#000" opacity="0.82"/><rect x="1689.2" y="950.5" width="1.1" height="10.5" fill="#000" opacity="0.91"/><rect x="1690.3" y="950.5" width="2.0" height="10.5" fill="#0000ff" opacity="0.73"/><rect x="1693.1" y="950.5" width="1.5" height="10.5" fill="#0000ff" opacity="0.79"/><rect x="1693.2" y="954.2" width="1.2" height="5.2" fill="#b028e8" opacity="0.87"/><rect x="1695.1" y="950.5" width="1.7" height="10.5" fill="#000" opacity="0.83"/><rect x="1697.1" y="950.5" width="1.5" height="10.5" fill="#0000ff" opacity="0.94"/><rect x="1699.7" y="950.5" width="1.0" height="10.5" fill="#000" opacity="0.86"/><rect x="1701.1" y="950.5" width="2.1" height="10.5" fill="#2000ff" opacity="0.92"/><rect x="1701.4" y="954.2" width="1.7" height="5.2" fill="#b028e8" opacity="0.65"/><rect x="1703.5" y="950.5" width="2.3" height="10.5" fill="#000" opacity="0.86"/><rect x="1706.6" y="950.5" width="1.5" height="10.5" fill="#000" opacity="0.97"/><rect x="1708.2" y="950.5" width="2.4" height="10.5" fill="#000" opacity="0.92"/><rect x="1710.5" y="950.5" width="2.3" height="10.5" fill="#000" opacity="0.94"/><rect x="1713.3" y="950.5" width="1.1" height="10.5" fill="#2000ff" opacity="0.83"/><rect x="1714.7" y="950.5" width="1.6" height="10.5" fill="#000" opacity="0.92"/><rect x="1717.1" y="950.5" width="2.3" height="10.5" fill="#2000ff" opacity="0.78"/><rect x="1720.3" y="950.5" width="1.8" height="10.5" fill="#0000ff" opacity="0.71"/><rect x="1722.5" y="950.5" width="1.2" height="10.5" fill="#000" opacity="0.87"/><rect x="1724.8" y="950.5" width="1.5" height="10.5" fill="#000" opacity="0.84"/><rect x="1727.4" y="950.5" width="1.2" height="10.5" fill="#0000ff" opacity="0.73"/><rect x="1727.5" y="954.2" width="0.9" height="5.2" fill="#ff56a9" opacity="0.97"/><rect x="1729.1" y="950.5" width="1.6" height="10.5" fill="#000" opacity="0.83"/><rect x="1731.1" y="950.5" width="1.7" height="10.5" fill="#2000ff" opacity="0.88"/><rect x="1731.2" y="954.2" width="1.4" height="5.2" fill="#c030e0" opacity="0.72"/><rect x="1733.0" y="950.5" width="1.9" height="10.5" fill="#0000ff" opacity="0.77"/><rect x="1735.2" y="950.5" width="1.1" height="10.5" fill="#0000ff" opacity="0.88"/><rect x="1736.5" y="950.5" width="1.2" height="10.5" fill="#000" opacity="0.91"/><rect x="1738.5" y="950.5" width="1.9" height="10.5" fill="#2000ff" opacity="0.82"/><rect x="1741.2" y="950.5" width="1.1" height="10.5" fill="#2000ff" opacity="0.88"/><rect x="1743.1" y="950.5" width="2.1" height="10.5" fill="#0000ff" opacity="0.85"/><rect x="1745.6" y="950.5" width="1.4" height="10.5" fill="#2000ff" opacity="0.73"/><rect x="1747.8" y="950.5" width="1.5" height="10.5" fill="#000" opacity="0.85"/><rect x="1750.3" y="950.5" width="1.1" height="10.5" fill="#0000ff" opacity="0.84"/><rect x="1751.7" y="950.5" width="2.2" height="10.5" fill="#000" opacity="0.84"/><rect x="1754.5" y="950.5" width="2.4" height="10.5" fill="#2000ff" opacity="0.98"/><rect x="1757.8" y="950.5" width="1.4" height="10.5" fill="#000" opacity="0.91"/><rect x="1760.1" y="950.5" width="1.1" height="10.5" fill="#0000ff" opacity="0.70"/><rect x="1762.1" y="950.5" width="1.7" height="10.5" fill="#000" opacity="0.99"/><rect x="1764.1" y="950.5" width="1.4" height="10.5" fill="#000" opacity="0.87"/><rect x="1765.8" y="950.5" width="1.6" height="10.5" fill="#000" opacity="0.84"/><rect x="1768.3" y="950.5" width="2.2" height="10.5" fill="#000" opacity="0.99"/><rect x="1771.0" y="950.5" width="1.3" height="10.5" fill="#0000ff" opacity="0.90"/><rect x="1772.6" y="950.5" width="1.6" height="10.5" fill="#2000ff" opacity="0.94"/><rect x="1772.7" y="954.2" width="1.3" height="5.2" fill="#b028e8" opacity="1.00"/><rect x="1774.5" y="950.5" width="1.9" height="10.5" fill="#0000ff" opacity="0.94"/><rect x="1774.7" y="954.2" width="1.5" height="5.2" fill="#c030e0" opacity="0.92"/></g>
<g filter="url(#bl)"><rect x="102.3" y="761.0" width="1674.3" height="6.0" fill="#000000" opacity="0.15"/><rect x="102.3" y="761.0" width="5.6" height="6.0" fill="#0000ff" opacity="0.25"/><rect x="109.7" y="761.0" width="2.2" height="6.0" fill="#0000e0" opacity="0.43"/><rect x="114.9" y="761.0" width="4.4" height="6.0" fill="#000" opacity="0.38"/><rect x="120.7" y="761.0" width="5.9" height="6.0" fill="#0000ff" opacity="0.18"/><rect x="129.6" y="761.0" width="5.0" height="6.0" fill="#0000ff" opacity="0.50"/><rect x="140.4" y="761.0" width="2.8" height="6.0" fill="#0000ff" opacity="0.49"/><rect x="143.5" y="761.0" width="2.1" height="6.0" fill="#0000ff" opacity="0.40"/><rect x="148.9" y="761.0" width="4.4" height="6.0" fill="#0000e0" opacity="0.46"/><rect x="158.1" y="761.0" width="4.0" height="6.0" fill="#000" opacity="0.62"/><rect x="167.6" y="761.0" width="3.8" height="6.0" fill="#0000e0" opacity="0.22"/><rect x="174.7" y="761.0" width="2.2" height="6.0" fill="#0000e0" opacity="0.46"/><rect x="181.2" y="761.0" width="5.0" height="6.0" fill="#0000ff" opacity="0.46"/><rect x="191.7" y="761.0" width="2.6" height="6.0" fill="#0000e0" opacity="0.43"/><rect x="197.1" y="761.0" width="4.5" height="6.0" fill="#000" opacity="0.36"/><rect x="206.7" y="761.0" width="4.6" height="6.0" fill="#0000e0" opacity="0.42"/><rect x="216.5" y="761.0" width="2.9" height="6.0" fill="#0000ff" opacity="0.15"/><rect x="223.5" y="761.0" width="2.1" height="6.0" fill="#0000e0" opacity="0.29"/><rect x="225.7" y="761.0" width="3.5" height="6.0" fill="#0000e0" opacity="0.40"/><rect x="234.4" y="761.0" width="3.7" height="6.0" fill="#000" opacity="0.69"/><rect x="242.9" y="761.0" width="3.4" height="6.0" fill="#0000ff" opacity="0.20"/><rect x="251.4" y="761.0" width="2.1" height="6.0" fill="#0000ff" opacity="0.46"/><rect x="259.4" y="761.0" width="3.2" height="6.0" fill="#0000ff" opacity="0.33"/><rect x="263.0" y="761.0" width="2.7" height="6.0" fill="#0000ff" opacity="0.45"/><rect x="266.1" y="761.0" width="4.9" height="6.0" fill="#0000ff" opacity="0.23"/><rect x="274.9" y="761.0" width="2.8" height="6.0" fill="#0000ff" opacity="0.46"/><rect x="281.7" y="761.0" width="2.9" height="6.0" fill="#0000ff" opacity="0.36"/><rect x="290.0" y="761.0" width="3.8" height="6.0" fill="#000" opacity="0.54"/><rect x="297.8" y="761.0" width="5.8" height="6.0" fill="#000" opacity="0.45"/><rect x="307.7" y="761.0" width="4.3" height="6.0" fill="#000" opacity="0.66"/><rect x="315.5" y="761.0" width="5.9" height="6.0" fill="#000" opacity="0.43"/><rect x="322.3" y="761.0" width="5.8" height="6.0" fill="#0000ff" opacity="0.31"/><rect x="331.6" y="761.0" width="4.6" height="6.0" fill="#0000e0" opacity="0.41"/><rect x="339.6" y="761.0" width="5.7" height="6.0" fill="#000" opacity="0.30"/><rect x="346.8" y="761.0" width="3.9" height="6.0" fill="#0000ff" opacity="0.29"/><rect x="352.4" y="761.0" width="2.6" height="6.0" fill="#0000ff" opacity="0.44"/><rect x="356.9" y="761.0" width="3.3" height="6.0" fill="#0000ff" opacity="0.32"/><rect x="361.9" y="761.0" width="4.1" height="6.0" fill="#0000ff" opacity="0.39"/><rect x="367.4" y="761.0" width="5.2" height="6.0" fill="#0000e0" opacity="0.18"/><rect x="373.1" y="761.0" width="5.3" height="6.0" fill="#0000e0" opacity="0.25"/><rect x="383.1" y="761.0" width="3.1" height="6.0" fill="#0000e0" opacity="0.48"/><rect x="388.2" y="761.0" width="2.9" height="6.0" fill="#000" opacity="0.64"/><rect x="395.1" y="761.0" width="4.6" height="6.0" fill="#000" opacity="0.52"/><rect x="399.9" y="761.0" width="2.7" height="6.0" fill="#000" opacity="0.54"/><rect x="402.6" y="761.0" width="2.7" height="6.0" fill="#0000ff" opacity="0.33"/><rect x="405.9" y="761.0" width="2.2" height="6.0" fill="#000" opacity="0.31"/><rect x="408.8" y="761.0" width="3.2" height="6.0" fill="#0000ff" opacity="0.18"/><rect x="414.2" y="761.0" width="5.0" height="6.0" fill="#0000e0" opacity="0.35"/><rect x="424.3" y="761.0" width="3.7" height="6.0" fill="#0000e0" opacity="0.44"/><rect x="430.1" y="761.0" width="5.1" height="6.0" fill="#000" opacity="0.48"/><rect x="440.2" y="761.0" width="4.8" height="6.0" fill="#0000ff" opacity="0.34"/><rect x="449.7" y="761.0" width="4.8" height="6.0" fill="#000" opacity="0.38"/><rect x="457.3" y="761.0" width="2.2" height="6.0" fill="#0000e0" opacity="0.34"/><rect x="463.4" y="761.0" width="3.6" height="6.0" fill="#000" opacity="0.45"/><rect x="468.8" y="761.0" width="6.0" height="6.0" fill="#0000e0" opacity="0.30"/><rect x="479.8" y="761.0" width="3.8" height="6.0" fill="#0000e0" opacity="0.16"/><rect x="487.0" y="761.0" width="2.7" height="6.0" fill="#0000ff" opacity="0.43"/><rect x="490.7" y="761.0" width="2.7" height="6.0" fill="#0000e0" opacity="0.22"/><rect x="496.4" y="761.0" width="4.0" height="6.0" fill="#0000ff" opacity="0.30"/><rect x="501.2" y="761.0" width="4.6" height="6.0" fill="#0000e0" opacity="0.27"/><rect x="511.8" y="761.0" width="2.9" height="6.0" fill="#0000e0" opacity="0.39"/><rect x="516.2" y="761.0" width="2.6" height="6.0" fill="#0000e0" opacity="0.29"/><rect x="522.3" y="761.0" width="5.1" height="6.0" fill="#000" opacity="0.60"/><rect x="533.3" y="761.0" width="2.7" height="6.0" fill="#000" opacity="0.70"/><rect x="536.9" y="761.0" width="5.4" height="6.0" fill="#0000e0" opacity="0.48"/><rect x="546.5" y="761.0" width="5.3" height="6.0" fill="#000" opacity="0.61"/><rect x="552.6" y="761.0" width="5.8" height="6.0" fill="#0000ff" opacity="0.42"/><rect x="559.7" y="761.0" width="3.7" height="6.0" fill="#0000e0" opacity="0.21"/><rect x="563.8" y="761.0" width="2.4" height="6.0" fill="#0000ff" opacity="0.19"/><rect x="569.8" y="761.0" width="4.8" height="6.0" fill="#0000e0" opacity="0.31"/><rect x="576.0" y="761.0" width="5.3" height="6.0" fill="#000" opacity="0.43"/><rect x="583.1" y="761.0" width="4.3" height="6.0" fill="#000" opacity="0.41"/><rect x="590.0" y="761.0" width="4.1" height="6.0" fill="#000" opacity="0.65"/><rect x="595.7" y="761.0" width="4.2" height="6.0" fill="#000" opacity="0.35"/><rect x="604.3" y="761.0" width="2.9" height="6.0" fill="#0000e0" opacity="0.33"/><rect x="607.5" y="761.0" width="4.6" height="6.0" fill="#0000e0" opacity="0.42"/><rect x="613.9" y="761.0" width="4.5" height="6.0" fill="#0000e0" opacity="0.20"/><rect x="620.8" y="761.0" width="5.8" height="6.0" fill="#0000e0" opacity="0.35"/><rect x="627.4" y="761.0" width="2.1" height="6.0" fill="#000" opacity="0.62"/><rect x="633.7" y="761.0" width="4.7" height="6.0" fill="#0000e0" opacity="0.44"/><rect x="640.4" y="761.0" width="3.5" height="6.0" fill="#0000e0" opacity="0.30"/><rect x="644.6" y="761.0" width="2.4" height="6.0" fill="#0000e0" opacity="0.30"/><rect x="647.5" y="761.0" width="5.6" height="6.0" fill="#0000ff" opacity="0.23"/><rect x="658.3" y="761.0" width="3.9" height="6.0" fill="#0000ff" opacity="0.29"/><rect x="665.4" y="761.0" width="5.8" height="6.0" fill="#0000e0" opacity="0.46"/><rect x="671.7" y="761.0" width="5.1" height="6.0" fill="#0000e0" opacity="0.46"/><rect x="681.1" y="761.0" width="2.3" height="6.0" fill="#000" opacity="0.40"/><rect x="688.5" y="761.0" width="3.3" height="6.0" fill="#0000e0" opacity="0.25"/><rect x="695.0" y="761.0" width="3.1" height="6.0" fill="#0000ff" opacity="0.25"/><rect x="701.6" y="761.0" width="2.8" height="6.0" fill="#0000ff" opacity="0.41"/><rect x="706.2" y="761.0" width="6.0" height="6.0" fill="#0000ff" opacity="0.36"/><rect x="713.5" y="761.0" width="2.9" height="6.0" fill="#0000e0" opacity="0.16"/><rect x="719.9" y="761.0" width="5.0" height="6.0" fill="#0000ff" opacity="0.40"/><rect x="728.8" y="761.0" width="2.3" height="6.0" fill="#0000e0" opacity="0.21"/><rect x="735.9" y="761.0" width="3.6" height="6.0" fill="#000" opacity="0.49"/><rect x="739.9" y="761.0" width="2.9" height="6.0" fill="#000" opacity="0.68"/><rect x="745.4" y="761.0" width="5.8" height="6.0" fill="#000" opacity="0.45"/><rect x="754.3" y="761.0" width="5.9" height="6.0" fill="#000" opacity="0.70"/><rect x="765.4" y="761.0" width="5.7" height="6.0" fill="#000" opacity="0.53"/><rect x="776.2" y="761.0" width="4.9" height="6.0" fill="#0000ff" opacity="0.48"/><rect x="782.7" y="761.0" width="3.6" height="6.0" fill="#0000e0" opacity="0.16"/><rect x="791.4" y="761.0" width="4.9" height="6.0" fill="#0000e0" opacity="0.46"/><rect x="800.7" y="761.0" width="5.7" height="6.0" fill="#0000e0" opacity="0.48"/><rect x="810.8" y="761.0" width="2.1" height="6.0" fill="#0000ff" opacity="0.18"/><rect x="813.2" y="761.0" width="2.7" height="6.0" fill="#0000ff" opacity="0.22"/><rect x="819.4" y="761.0" width="6.0" height="6.0" fill="#0000ff" opacity="0.45"/><rect x="825.6" y="761.0" width="5.3" height="6.0" fill="#0000e0" opacity="0.43"/><rect x="832.1" y="761.0" width="4.7" height="6.0" fill="#0000ff" opacity="0.24"/><rect x="842.7" y="761.0" width="5.3" height="6.0" fill="#0000e0" opacity="0.36"/><rect x="853.8" y="761.0" width="5.0" height="6.0" fill="#000" opacity="0.45"/><rect x="862.1" y="761.0" width="5.8" height="6.0" fill="#0000ff" opacity="0.28"/><rect x="869.9" y="761.0" width="5.5" height="6.0" fill="#0000ff" opacity="0.38"/><rect x="881.2" y="761.0" width="5.9" height="6.0" fill="#000" opacity="0.56"/><rect x="892.2" y="761.0" width="3.9" height="6.0" fill="#0000e0" opacity="0.29"/><rect x="901.2" y="761.0" width="3.7" height="6.0" fill="#000" opacity="0.41"/><rect x="908.3" y="761.0" width="5.1" height="6.0" fill="#0000ff" opacity="0.50"/><rect x="919.3" y="761.0" width="3.0" height="6.0" fill="#000" opacity="0.59"/><rect x="926.3" y="761.0" width="2.0" height="6.0" fill="#0000ff" opacity="0.19"/><rect x="932.5" y="761.0" width="2.8" height="6.0" fill="#000" opacity="0.52"/><rect x="940.8" y="761.0" width="3.8" height="6.0" fill="#0000e0" opacity="0.21"/><rect x="948.4" y="761.0" width="2.5" height="6.0" fill="#0000ff" opacity="0.36"/><rect x="955.4" y="761.0" width="4.7" height="6.0" fill="#000" opacity="0.43"/><rect x="962.6" y="761.0" width="2.6" height="6.0" fill="#0000ff" opacity="0.36"/><rect x="967.8" y="761.0" width="4.2" height="6.0" fill="#0000e0" opacity="0.28"/><rect x="975.2" y="761.0" width="2.1" height="6.0" fill="#0000ff" opacity="0.42"/><rect x="977.9" y="761.0" width="2.5" height="6.0" fill="#0000ff" opacity="0.19"/><rect x="982.3" y="761.0" width="4.2" height="6.0" fill="#0000ff" opacity="0.38"/><rect x="991.5" y="761.0" width="5.6" height="6.0" fill="#0000ff" opacity="0.37"/><rect x="1001.0" y="761.0" width="5.6" height="6.0" fill="#0000ff" opacity="0.50"/><rect x="1007.8" y="761.0" width="5.8" height="6.0" fill="#0000e0" opacity="0.32"/><rect x="1018.0" y="761.0" width="5.7" height="6.0" fill="#0000ff" opacity="0.47"/><rect x="1029.0" y="761.0" width="2.8" height="6.0" fill="#0000ff" opacity="0.33"/><rect x="1035.7" y="761.0" width="4.5" height="6.0" fill="#0000e0" opacity="0.47"/><rect x="1040.2" y="761.0" width="3.1" height="6.0" fill="#0000e0" opacity="0.36"/><rect x="1048.2" y="761.0" width="5.9" height="6.0" fill="#0000e0" opacity="0.15"/><rect x="1059.9" y="761.0" width="5.0" height="6.0" fill="#0000e0" opacity="0.16"/><rect x="1069.9" y="761.0" width="5.5" height="6.0" fill="#000" opacity="0.46"/><rect x="1079.1" y="761.0" width="4.5" height="6.0" fill="#000" opacity="0.43"/><rect x="1084.2" y="761.0" width="4.3" height="6.0" fill="#000" opacity="0.42"/><rect x="1092.2" y="761.0" width="5.6" height="6.0" fill="#0000ff" opacity="0.17"/><rect x="1102.3" y="761.0" width="5.6" height="6.0" fill="#0000ff" opacity="0.23"/><rect x="1109.5" y="761.0" width="4.0" height="6.0" fill="#000" opacity="0.58"/><rect x="1117.7" y="761.0" width="4.2" height="6.0" fill="#0000e0" opacity="0.28"/><rect x="1122.5" y="761.0" width="2.8" height="6.0" fill="#0000ff" opacity="0.36"/><rect x="1125.5" y="761.0" width="3.8" height="6.0" fill="#0000ff" opacity="0.46"/><rect x="1129.9" y="761.0" width="5.5" height="6.0" fill="#0000e0" opacity="0.36"/><rect x="1140.7" y="761.0" width="5.8" height="6.0" fill="#0000ff" opacity="0.32"/><rect x="1147.8" y="761.0" width="4.0" height="6.0" fill="#0000e0" opacity="0.41"/><rect x="1156.8" y="761.0" width="2.1" height="6.0" fill="#0000ff" opacity="0.49"/><rect x="1163.6" y="761.0" width="3.2" height="6.0" fill="#0000e0" opacity="0.44"/><rect x="1167.9" y="761.0" width="3.0" height="6.0" fill="#0000ff" opacity="0.35"/><rect x="1171.9" y="761.0" width="4.8" height="6.0" fill="#0000e0" opacity="0.30"/><rect x="1178.1" y="761.0" width="5.5" height="6.0" fill="#000" opacity="0.69"/><rect x="1187.0" y="761.0" width="5.6" height="6.0" fill="#0000ff" opacity="0.17"/><rect x="1197.1" y="761.0" width="2.2" height="6.0" fill="#0000ff" opacity="0.29"/><rect x="1202.6" y="761.0" width="2.3" height="6.0" fill="#0000ff" opacity="0.42"/><rect x="1208.9" y="761.0" width="4.1" height="6.0" fill="#0000e0" opacity="0.26"/><rect x="1216.2" y="761.0" width="3.2" height="6.0" fill="#0000e0" opacity="0.25"/><rect x="1222.9" y="761.0" width="2.6" height="6.0" fill="#000" opacity="0.45"/><rect x="1228.3" y="761.0" width="3.0" height="6.0" fill="#0000ff" opacity="0.28"/><rect x="1231.4" y="761.0" width="5.7" height="6.0" fill="#0000ff" opacity="0.43"/><rect x="1237.9" y="761.0" width="4.1" height="6.0" fill="#000" opacity="0.31"/><rect x="1246.2" y="761.0" width="3.7" height="6.0" fill="#0000e0" opacity="0.49"/><rect x="1252.6" y="761.0" width="4.2" height="6.0" fill="#0000e0" opacity="0.39"/><rect x="1260.8" y="761.0" width="2.4" height="6.0" fill="#0000ff" opacity="0.36"/><rect x="1267.4" y="761.0" width="3.0" height="6.0" fill="#0000ff" opacity="0.16"/><rect x="1276.3" y="761.0" width="5.1" height="6.0" fill="#0000e0" opacity="0.40"/><rect x="1283.0" y="761.0" width="5.6" height="6.0" fill="#000" opacity="0.46"/><rect x="1291.6" y="761.0" width="4.3" height="6.0" fill="#0000ff" opacity="0.24"/><rect x="1296.4" y="761.0" width="5.8" height="6.0" fill="#0000e0" opacity="0.16"/><rect x="1303.2" y="761.0" width="2.4" height="6.0" fill="#0000e0" opacity="0.48"/><rect x="1310.1" y="761.0" width="3.0" height="6.0" fill="#000" opacity="0.34"/><rect x="1316.4" y="761.0" width="3.0" height="6.0" fill="#0000ff" opacity="0.49"/><rect x="1321.0" y="761.0" width="5.8" height="6.0" fill="#0000ff" opacity="0.15"/><rect x="1328.2" y="761.0" width="4.1" height="6.0" fill="#0000ff" opacity="0.28"/><rect x="1335.7" y="761.0" width="5.5" height="6.0" fill="#0000e0" opacity="0.39"/><rect x="1344.9" y="761.0" width="3.0" height="6.0" fill="#000" opacity="0.63"/><rect x="1349.5" y="761.0" width="2.3" height="6.0" fill="#0000ff" opacity="0.22"/><rect x="1356.3" y="761.0" width="5.6" height="6.0" fill="#000" opacity="0.34"/><rect x="1366.0" y="761.0" width="4.2" height="6.0" fill="#000" opacity="0.49"/><rect x="1375.5" y="761.0" width="4.3" height="6.0" fill="#0000e0" opacity="0.35"/><rect x="1383.7" y="761.0" width="5.3" height="6.0" fill="#0000e0" opacity="0.24"/><rect x="1392.8" y="761.0" width="4.7" height="6.0" fill="#0000ff" opacity="0.40"/><rect x="1399.9" y="761.0" width="4.9" height="6.0" fill="#0000e0" opacity="0.48"/><rect x="1407.7" y="761.0" width="2.9" height="6.0" fill="#0000ff" opacity="0.17"/><rect x="1414.9" y="761.0" width="5.0" height="6.0" fill="#0000ff" opacity="0.25"/><rect x="1421.4" y="761.0" width="3.2" height="6.0" fill="#000" opacity="0.35"/><rect x="1427.8" y="761.0" width="4.5" height="6.0" fill="#0000ff" opacity="0.42"/><rect x="1433.0" y="761.0" width="4.9" height="6.0" fill="#0000ff" opacity="0.32"/><rect x="1439.5" y="761.0" width="4.4" height="6.0" fill="#0000ff" opacity="0.49"/><rect x="1444.2" y="761.0" width="5.4" height="6.0" fill="#0000e0" opacity="0.31"/><rect x="1455.5" y="761.0" width="5.5" height="6.0" fill="#000" opacity="0.57"/><rect x="1466.0" y="761.0" width="3.9" height="6.0" fill="#0000ff" opacity="0.23"/><rect x="1474.4" y="761.0" width="4.7" height="6.0" fill="#0000e0" opacity="0.37"/><rect x="1484.7" y="761.0" width="2.6" height="6.0" fill="#0000ff" opacity="0.25"/><rect x="1489.5" y="761.0" width="5.0" height="6.0" fill="#0000e0" opacity="0.21"/><rect x="1498.0" y="761.0" width="2.3" height="6.0" fill="#0000e0" opacity="0.17"/><rect x="1501.8" y="761.0" width="4.7" height="6.0" fill="#000" opacity="0.40"/><rect x="1506.6" y="761.0" width="3.4" height="6.0" fill="#000" opacity="0.45"/><rect x="1515.2" y="761.0" width="3.8" height="6.0" fill="#0000ff" opacity="0.22"/><rect x="1521.0" y="761.0" width="3.4" height="6.0" fill="#000" opacity="0.32"/><rect x="1524.9" y="761.0" width="5.5" height="6.0" fill="#0000ff" opacity="0.17"/><rect x="1530.6" y="761.0" width="4.9" height="6.0" fill="#000" opacity="0.35"/><rect x="1537.7" y="761.0" width="4.3" height="6.0" fill="#000" opacity="0.35"/><rect x="1543.2" y="761.0" width="3.2" height="6.0" fill="#0000e0" opacity="0.41"/><rect x="1548.4" y="761.0" width="4.5" height="6.0" fill="#000" opacity="0.51"/><rect x="1556.9" y="761.0" width="2.1" height="6.0" fill="#0000e0" opacity="0.25"/><rect x="1563.7" y="761.0" width="3.5" height="6.0" fill="#0000ff" opacity="0.46"/><rect x="1568.0" y="761.0" width="2.7" height="6.0" fill="#000" opacity="0.51"/><rect x="1572.6" y="761.0" width="5.9" height="6.0" fill="#0000ff" opacity="0.20"/><rect x="1580.7" y="761.0" width="5.8" height="6.0" fill="#0000ff" opacity="0.44"/><rect x="1590.6" y="761.0" width="3.5" height="6.0" fill="#0000ff" opacity="0.16"/><rect x="1599.6" y="761.0" width="4.0" height="6.0" fill="#0000e0" opacity="0.38"/><rect x="1606.0" y="761.0" width="2.3" height="6.0" fill="#0000e0" opacity="0.35"/><rect x="1610.4" y="761.0" width="2.5" height="6.0" fill="#000" opacity="0.42"/><rect x="1614.5" y="761.0" width="4.3" height="6.0" fill="#0000e0" opacity="0.37"/><rect x="1622.5" y="761.0" width="4.5" height="6.0" fill="#0000ff" opacity="0.32"/><rect x="1627.9" y="761.0" width="3.2" height="6.0" fill="#000" opacity="0.56"/><rect x="1631.1" y="761.0" width="5.6" height="6.0" fill="#0000e0" opacity="0.43"/><rect x="1639.1" y="761.0" width="4.4" height="6.0" fill="#0000ff" opacity="0.38"/><rect x="1648.6" y="761.0" width="4.2" height="6.0" fill="#0000e0" opacity="0.20"/><rect x="1653.8" y="761.0" width="2.4" height="6.0" fill="#0000ff" opacity="0.35"/><rect x="1660.8" y="761.0" width="5.4" height="6.0" fill="#0000e0" opacity="0.31"/><rect x="1671.9" y="761.0" width="4.2" height="6.0" fill="#0000e0" opacity="0.20"/><rect x="1678.0" y="761.0" width="5.9" height="6.0" fill="#000" opacity="0.64"/><rect x="1684.3" y="761.0" width="2.5" height="6.0" fill="#0000ff" opacity="0.49"/><rect x="1689.1" y="761.0" width="4.6" height="6.0" fill="#0000e0" opacity="0.41"/><rect x="1698.4" y="761.0" width="3.5" height="6.0" fill="#000" opacity="0.47"/><rect x="1707.4" y="761.0" width="4.2" height="6.0" fill="#000" opacity="0.36"/><rect x="1716.7" y="761.0" width="4.9" height="6.0" fill="#000" opacity="0.51"/><rect x="1726.1" y="761.0" width="4.6" height="6.0" fill="#000" opacity="0.42"/><rect x="1732.2" y="761.0" width="4.5" height="6.0" fill="#0000ff" opacity="0.30"/><rect x="1737.9" y="761.0" width="4.5" height="6.0" fill="#0000e0" opacity="0.16"/><rect x="1744.9" y="761.0" width="5.5" height="6.0" fill="#0000ff" opacity="0.49"/><rect x="1753.3" y="761.0" width="5.4" height="6.0" fill="#0000e0" opacity="0.32"/><rect x="1762.0" y="761.0" width="5.9" height="6.0" fill="#0000ff" opacity="0.39"/><rect x="1768.0" y="761.0" width="3.3" height="6.0" fill="#000" opacity="0.36"/><rect x="1775.9" y="761.0" width="0.7" height="6.0" fill="#0000ff" opacity="0.47"/></g>
<g filter="url(#bl)"><rect x="102.3" y="887.0" width="30.7" height="10.0" fill="#5010ff" opacity="0.85"/><rect x="102.3" y="889.0" width="30.7" height="6.0" fill="#c040e0" opacity="0.5"/><rect x="165.0" y="888.0" width="25.0" height="9.0" fill="#0000ff" opacity="0.6"/><rect x="200.0" y="888.0" width="15.0" height="9.0" fill="#0000ff" opacity="0.6"/><rect x="225.0" y="888.0" width="20.0" height="9.0" fill="#0000ff" opacity="0.6"/><rect x="300.0" y="888.0" width="45.0" height="9.0" fill="#0000ff" opacity="0.6"/><rect x="380.0" y="888.0" width="40.0" height="9.0" fill="#0000ff" opacity="0.6"/><rect x="440.0" y="888.0" width="40.0" height="9.0" fill="#0000ff" opacity="0.6"/><rect x="510.0" y="888.0" width="50.0" height="9.0" fill="#0000ff" opacity="0.6"/><rect x="580.0" y="888.0" width="20.0" height="9.0" fill="#0000ff" opacity="0.6"/></g>
<g filter="url(#bl)"><rect x="527.8" y="763.5" width="2.4" height="7.0" fill="#0000ff" opacity="0.85"/><rect x="528.3" y="767.0" width="1.4" height="2.5" fill="#ff40c0" opacity="0.9"/><rect x="715.8" y="763.5" width="2.4" height="7.0" fill="#0000ff" opacity="0.85"/><rect x="217.8" y="759.5" width="2.4" height="7.0" fill="#0000ff" opacity="0.85"/><rect x="232.8" y="759.5" width="2.4" height="7.0" fill="#0000ff" opacity="0.85"/><rect x="233.3" y="763.0" width="1.4" height="2.5" fill="#ff40c0" opacity="0.9"/><rect x="308.8" y="759.5" width="2.4" height="7.0" fill="#0000ff" opacity="0.85"/><rect x="371.8" y="759.5" width="2.4" height="7.0" fill="#0000ff" opacity="0.85"/><rect x="372.3" y="763.0" width="1.4" height="2.5" fill="#ff40c0" opacity="0.9"/><rect x="382.8" y="759.5" width="2.4" height="7.0" fill="#0000ff" opacity="0.85"/><rect x="426.8" y="759.5" width="2.4" height="7.0" fill="#0000ff" opacity="0.85"/><rect x="470.8" y="759.5" width="2.4" height="7.0" fill="#0000ff" opacity="0.85"/><rect x="471.3" y="763.0" width="1.4" height="2.5" fill="#ff40c0" opacity="0.9"/><rect x="501.8" y="759.5" width="2.4" height="7.0" fill="#0000ff" opacity="0.85"/><rect x="502.3" y="763.0" width="1.4" height="2.5" fill="#ff40c0" opacity="0.9"/><rect x="513.8" y="759.5" width="2.4" height="7.0" fill="#0000ff" opacity="0.85"/><rect x="741.4" y="759.5" width="2.4" height="7.0" fill="#0000ff" opacity="0.85"/><rect x="741.9" y="763.0" width="1.4" height="2.5" fill="#ff40c0" opacity="0.9"/><rect x="969.8" y="759.5" width="2.4" height="7.0" fill="#0000ff" opacity="0.85"/><rect x="1004.5" y="759.5" width="2.4" height="7.0" fill="#0000ff" opacity="0.85"/><rect x="1028.8" y="759.5" width="2.4" height="7.0" fill="#0000ff" opacity="0.85"/><rect x="1029.3" y="763.0" width="1.4" height="2.5" fill="#ff40c0" opacity="0.9"/><rect x="1192.2" y="759.5" width="2.4" height="7.0" fill="#0000ff" opacity="0.85"/><rect x="1192.7" y="763.0" width="1.4" height="2.5" fill="#ff40c0" opacity="0.9"/><rect x="1252.8" y="759.5" width="2.4" height="7.0" fill="#0000ff" opacity="0.85"/><rect x="1313.8" y="759.5" width="2.4" height="7.0" fill="#0000ff" opacity="0.85"/><rect x="1321.8" y="759.5" width="2.4" height="7.0" fill="#0000ff" opacity="0.85"/><rect x="1330.8" y="759.5" width="2.4" height="7.0" fill="#0000ff" opacity="0.85"/><rect x="1701.8" y="759.5" width="2.4" height="7.0" fill="#0000ff" opacity="0.85"/><rect x="1702.3" y="763.0" width="1.4" height="2.5" fill="#ff40c0" opacity="0.9"/><rect x="115.2" y="782.5" width="2.4" height="9.0" fill="#0000ff" opacity="0.85"/><rect x="115.7" y="787.0" width="1.4" height="3.5" fill="#ff40c0" opacity="0.9"/><rect x="178.8" y="782.5" width="2.4" height="9.0" fill="#0000ff" opacity="0.85"/><rect x="230.8" y="782.5" width="2.4" height="9.0" fill="#0000ff" opacity="0.85"/><rect x="355.3" y="782.5" width="2.4" height="9.0" fill="#0000ff" opacity="0.85"/><rect x="355.8" y="787.0" width="1.4" height="3.5" fill="#ff40c0" opacity="0.9"/><rect x="429.8" y="782.5" width="2.4" height="9.0" fill="#0000ff" opacity="0.85"/><rect x="493.8" y="782.5" width="2.4" height="9.0" fill="#0000ff" opacity="0.85"/><rect x="494.3" y="787.0" width="1.4" height="3.5" fill="#ff40c0" opacity="0.9"/><rect x="556.8" y="782.5" width="2.4" height="9.0" fill="#0000ff" opacity="0.85"/><rect x="557.3" y="787.0" width="1.4" height="3.5" fill="#ff40c0" opacity="0.9"/><rect x="623.4" y="782.5" width="2.4" height="9.0" fill="#0000ff" opacity="0.85"/><rect x="623.9" y="787.0" width="1.4" height="3.5" fill="#ff40c0" opacity="0.9"/><rect x="685.8" y="782.5" width="2.4" height="9.0" fill="#0000ff" opacity="0.85"/><rect x="753.8" y="782.5" width="2.4" height="9.0" fill="#0000ff" opacity="0.85"/><rect x="819.8" y="782.5" width="2.4" height="9.0" fill="#0000ff" opacity="0.85"/><rect x="820.3" y="787.0" width="1.4" height="3.5" fill="#ff40c0" opacity="0.9"/><rect x="876.8" y="782.5" width="2.4" height="9.0" fill="#0000ff" opacity="0.85"/><rect x="877.3" y="787.0" width="1.4" height="3.5" fill="#ff40c0" opacity="0.9"/><rect x="942.8" y="782.5" width="2.4" height="9.0" fill="#0000ff" opacity="0.85"/><rect x="1004.4" y="782.5" width="2.4" height="9.0" fill="#0000ff" opacity="0.85"/><rect x="1065.8" y="782.5" width="2.4" height="9.0" fill="#0000ff" opacity="0.85"/><rect x="1119.3" y="782.5" width="2.4" height="9.0" fill="#0000ff" opacity="0.85"/><rect x="1119.8" y="787.0" width="1.4" height="3.5" fill="#ff40c0" opacity="0.9"/><rect x="1183.8" y="782.5" width="2.4" height="9.0" fill="#0000ff" opacity="0.85"/><rect x="1236.3" y="782.5" width="2.4" height="9.0" fill="#0000ff" opacity="0.85"/><rect x="1298.8" y="782.5" width="2.4" height="9.0" fill="#0000ff" opacity="0.85"/><rect x="1299.3" y="787.0" width="1.4" height="3.5" fill="#ff40c0" opacity="0.9"/><rect x="1481.8" y="782.5" width="2.4" height="9.0" fill="#0000ff" opacity="0.85"/><rect x="1557.8" y="782.5" width="2.4" height="9.0" fill="#0000ff" opacity="0.85"/><rect x="1558.3" y="787.0" width="1.4" height="3.5" fill="#ff40c0" opacity="0.9"/><rect x="1626.8" y="782.5" width="2.4" height="9.0" fill="#0000ff" opacity="0.85"/><rect x="1699.8" y="782.5" width="2.4" height="9.0" fill="#0000ff" opacity="0.85"/><rect x="1700.3" y="787.0" width="1.4" height="3.5" fill="#ff40c0" opacity="0.9"/></g>
<g filter="url(#bl2)"><rect x="336.0" y="818.5" width="184.0" height="5.0" fill="#0000ff" opacity="0.25"/><rect x="440.0" y="818.5" width="30.0" height="5.0" fill="#0000ff" opacity="0.2"/><rect x="914.0" y="817.5" width="26.0" height="5.0" fill="#0000ff" opacity="0.35"/><rect x="1108.0" y="818.5" width="39.0" height="5.0" fill="#0000ff" opacity="0.3"/><rect x="1137.0" y="745.5" width="20.5" height="5.0" fill="#0000ff" opacity="0.4"/><rect x="1026.0" y="745.5" width="14.0" height="5.0" fill="#0000ff" opacity="0.3"/><rect x="1450.0" y="746.5" width="70.0" height="5.0" fill="#0000ff" opacity="0.35"/><rect x="1637.0" y="745.5" width="23.0" height="5.0" fill="#0000ff" opacity="0.45"/><rect x="1695.0" y="746.5" width="20.0" height="5.0" fill="#0000ff" opacity="0.35"/></g>
<g filter="url(#bl)"><rect x="1675.0" y="870.0" width="2.2" height="10.0" fill="#2000ff" opacity="0.77"/><rect x="1679.2" y="870.0" width="1.1" height="10.0" fill="#0000ff" opacity="0.67"/><rect x="1680.4" y="870.0" width="2.0" height="10.0" fill="#2000ff" opacity="0.75"/><rect x="1684.0" y="870.0" width="1.1" height="10.0" fill="#2000ff" opacity="0.77"/><rect x="1685.7" y="870.0" width="1.9" height="10.0" fill="#0000ff" opacity="0.89"/><rect x="1687.8" y="870.0" width="1.4" height="10.0" fill="#2000ff" opacity="0.54"/><rect x="1690.8" y="870.0" width="2.3" height="10.0" fill="#2000ff" opacity="0.31"/><rect x="1693.7" y="870.0" width="2.1" height="10.0" fill="#2000ff" opacity="0.58"/><rect x="1696.2" y="870.0" width="2.0" height="10.0" fill="#2000ff" opacity="0.28"/><rect x="1699.5" y="870.0" width="1.6" height="10.0" fill="#2000ff" opacity="0.69"/><rect x="1701.4" y="870.0" width="2.5" height="10.0" fill="#2000ff" opacity="0.57"/><rect x="1704.5" y="870.0" width="2.3" height="10.0" fill="#0000ff" opacity="0.62"/><rect x="1706.8" y="870.0" width="1.1" height="10.0" fill="#2000ff" opacity="0.24"/><rect x="1709.8" y="870.0" width="1.8" height="10.0" fill="#0000ff" opacity="0.46"/><rect x="1713.5" y="870.0" width="1.8" height="10.0" fill="#2000ff" opacity="0.70"/><rect x="1716.9" y="870.0" width="2.2" height="10.0" fill="#2000ff" opacity="0.44"/><rect x="1720.3" y="870.0" width="2.0" height="10.0" fill="#0000ff" opacity="0.64"/><rect x="1723.2" y="870.0" width="1.3" height="10.0" fill="#0000ff" opacity="0.55"/><rect x="1725.6" y="870.0" width="1.6" height="10.0" fill="#2000ff" opacity="0.67"/><rect x="1727.6" y="870.0" width="2.1" height="10.0" fill="#0000ff" opacity="0.53"/><rect x="1730.4" y="870.0" width="2.3" height="10.0" fill="#2000ff" opacity="0.71"/><rect x="1734.2" y="870.0" width="1.9" height="10.0" fill="#0000ff" opacity="0.79"/><rect x="1737.6" y="870.0" width="2.5" height="10.0" fill="#2000ff" opacity="0.44"/><rect x="1741.0" y="870.0" width="2.1" height="10.0" fill="#2000ff" opacity="0.83"/><rect x="1743.9" y="870.0" width="1.7" height="10.0" fill="#0000ff" opacity="0.55"/><rect x="1745.9" y="870.0" width="2.0" height="10.0" fill="#2000ff" opacity="0.32"/><rect x="1749.5" y="870.0" width="1.2" height="10.0" fill="#2000ff" opacity="0.51"/><rect x="1751.3" y="870.0" width="1.8" height="10.0" fill="#0000ff" opacity="0.31"/><rect x="1754.1" y="870.0" width="1.1" height="10.0" fill="#0000ff" opacity="0.33"/><rect x="1756.6" y="870.0" width="1.8" height="10.0" fill="#0000ff" opacity="0.77"/><rect x="1759.2" y="870.0" width="1.7" height="10.0" fill="#0000ff" opacity="0.28"/><rect x="1762.8" y="870.0" width="2.1" height="10.0" fill="#0000ff" opacity="0.76"/><rect x="1766.5" y="870.0" width="2.2" height="10.0" fill="#0000ff" opacity="0.20"/><rect x="1769.6" y="870.0" width="1.3" height="10.0" fill="#0000ff" opacity="0.51"/><rect x="1771.4" y="870.0" width="2.3" height="10.0" fill="#2000ff" opacity="0.57"/><rect x="1774.3" y="870.0" width="1.8" height="10.0" fill="#0000ff" opacity="0.75"/></g>
<rect x="1675.0" y="872.0" width="101.6" height="17.5" fill="url(#gYel)"/>
<g filter="url(#bl)"><rect x="1676.0" y="873.3" width="1.4" height="4.7" fill="#6000ff" opacity="0.49"/><rect x="1676.0" y="878.0" width="1.4" height="4.0" fill="#ff9060" opacity="0.41"/><rect x="1678.4" y="872.8" width="2.3" height="5.2" fill="#3000ff" opacity="0.60"/><rect x="1678.4" y="878.0" width="2.3" height="4.0" fill="#ff9060" opacity="0.67"/><rect x="1683.2" y="873.7" width="1.3" height="4.3" fill="#6000ff" opacity="0.57"/><rect x="1683.2" y="878.0" width="1.3" height="4.0" fill="#ff9060" opacity="0.49"/><rect x="1687.7" y="873.8" width="1.3" height="4.2" fill="#3000ff" opacity="0.55"/><rect x="1687.7" y="878.0" width="1.3" height="4.0" fill="#ff9060" opacity="0.42"/><rect x="1692.3" y="871.7" width="1.1" height="6.3" fill="#0000ff" opacity="0.57"/><rect x="1692.3" y="878.0" width="1.1" height="4.0" fill="#ffb050" opacity="0.68"/><rect x="1695.5" y="873.6" width="2.3" height="4.4" fill="#6000ff" opacity="0.34"/><rect x="1695.5" y="878.0" width="2.3" height="4.0" fill="#ff9060" opacity="0.68"/><rect x="1701.0" y="872.8" width="1.6" height="5.2" fill="#0000ff" opacity="0.36"/><rect x="1706.2" y="873.8" width="2.4" height="4.2" fill="#0000ff" opacity="0.34"/><rect x="1706.2" y="878.0" width="2.4" height="4.0" fill="#ff9060" opacity="0.37"/><rect x="1709.8" y="874.9" width="1.8" height="3.1" fill="#3000ff" opacity="0.53"/><rect x="1713.9" y="874.3" width="1.9" height="3.7" fill="#0000ff" opacity="0.69"/><rect x="1713.9" y="878.0" width="1.9" height="4.0" fill="#ffb050" opacity="0.60"/><rect x="1717.1" y="873.3" width="2.3" height="4.7" fill="#6000ff" opacity="0.78"/><rect x="1717.1" y="883.0" width="3.3" height="3.5" fill="#ffff60" opacity="0.55"/><rect x="1721.5" y="873.7" width="1.9" height="4.3" fill="#0000ff" opacity="0.44"/><rect x="1721.5" y="878.0" width="1.9" height="4.0" fill="#ff9060" opacity="0.55"/><rect x="1727.1" y="874.7" width="1.5" height="3.3" fill="#3000ff" opacity="0.37"/><rect x="1731.3" y="874.1" width="1.5" height="3.9" fill="#6000ff" opacity="0.42"/><rect x="1737.4" y="874.3" width="1.7" height="3.7" fill="#0000ff" opacity="0.43"/><rect x="1737.4" y="878.0" width="1.7" height="4.0" fill="#ff9060" opacity="0.31"/><rect x="1741.6" y="873.9" width="1.5" height="4.1" fill="#0000ff" opacity="0.74"/><rect x="1741.6" y="878.0" width="1.5" height="4.0" fill="#ff9060" opacity="0.41"/><rect x="1746.1" y="873.2" width="1.4" height="4.8" fill="#3000ff" opacity="0.64"/><rect x="1751.7" y="873.0" width="1.3" height="5.0" fill="#3000ff" opacity="0.60"/><rect x="1751.7" y="878.0" width="1.3" height="4.0" fill="#ff9060" opacity="0.62"/><rect x="1756.3" y="871.4" width="2.4" height="6.6" fill="#0000ff" opacity="0.51"/><rect x="1762.7" y="872.1" width="1.9" height="5.9" fill="#6000ff" opacity="0.75"/><rect x="1766.5" y="873.2" width="1.2" height="4.8" fill="#0000ff" opacity="0.52"/><rect x="1766.5" y="878.0" width="1.2" height="4.0" fill="#ff9060" opacity="0.33"/><rect x="1766.5" y="883.0" width="2.2" height="3.5" fill="#ffffc0" opacity="0.72"/><rect x="1770.1" y="873.7" width="1.2" height="4.3" fill="#3000ff" opacity="0.59"/><rect x="1770.1" y="878.0" width="1.2" height="4.0" fill="#ff9060" opacity="0.50"/><rect x="1775.3" y="871.4" width="2.1" height="6.6" fill="#3000ff" opacity="0.58"/><rect x="1775.3" y="883.0" width="3.1" height="3.5" fill="#ffff60" opacity="0.51"/></g>
<rect x="1596.0" y="899.2" width="180.6" height="13.6" fill="#000"/>
<g filter="url(#bl2)"><rect x="1556.0" y="888.0" width="70.0" height="9.0" fill="#0000ff" opacity="0.6"/><rect x="1452.0" y="888.0" width="27.0" height="8.0" fill="#0000ff" opacity="0.35"/><rect x="1400.0" y="889.0" width="40.0" height="7.0" fill="#0000ff" opacity="0.2"/></g>
<g filter="url(#bl)"><rect x="1330.0" y="900.0" width="5.4" height="11.5" fill="#2000ff" opacity="0.85"/><rect x="1331.0" y="903.0" width="3.4" height="7.0" fill="#9020ff" opacity="0.77"/><rect x="1338.7" y="900.0" width="6.8" height="11.5" fill="#2000ff" opacity="0.85"/><rect x="1339.7" y="903.0" width="4.8" height="7.0" fill="#7010ff" opacity="0.74"/><rect x="1348.4" y="900.0" width="5.6" height="11.5" fill="#2000ff" opacity="0.85"/><rect x="1349.4" y="903.0" width="3.6" height="7.0" fill="#b030f0" opacity="0.63"/><rect x="1356.5" y="900.0" width="6.4" height="11.5" fill="#2000ff" opacity="0.85"/><rect x="1357.5" y="903.0" width="4.4" height="7.0" fill="#b030f0" opacity="0.58"/><rect x="1365.3" y="900.0" width="5.3" height="11.5" fill="#2000ff" opacity="0.85"/><rect x="1366.3" y="903.0" width="3.3" height="7.0" fill="#9020ff" opacity="0.83"/><rect x="1373.3" y="900.0" width="6.8" height="11.5" fill="#2000ff" opacity="0.85"/><rect x="1374.3" y="903.0" width="4.8" height="7.0" fill="#b030f0" opacity="0.84"/><rect x="1383.6" y="900.0" width="5.5" height="11.5" fill="#2000ff" opacity="0.85"/><rect x="1384.6" y="903.0" width="3.5" height="7.0" fill="#9020ff" opacity="0.62"/><rect x="1391.6" y="900.0" width="5.5" height="11.5" fill="#2000ff" opacity="0.85"/><rect x="1392.6" y="903.0" width="3.5" height="7.0" fill="#7010ff" opacity="0.82"/><rect x="1400.1" y="900.0" width="5.4" height="11.5" fill="#2000ff" opacity="0.85"/><rect x="1401.1" y="903.0" width="3.4" height="7.0" fill="#7010ff" opacity="0.86"/><rect x="1409.0" y="900.0" width="4.9" height="11.5" fill="#2000ff" opacity="0.85"/><rect x="1410.0" y="903.0" width="2.9" height="7.0" fill="#b030f0" opacity="0.72"/><rect x="1417.5" y="900.0" width="5.5" height="11.5" fill="#2000ff" opacity="0.85"/><rect x="1418.5" y="903.0" width="3.5" height="7.0" fill="#7010ff" opacity="0.72"/><rect x="1426.5" y="900.0" width="6.0" height="11.5" fill="#2000ff" opacity="0.85"/><rect x="1427.5" y="903.0" width="4.0" height="7.0" fill="#b030f0" opacity="0.86"/><rect x="1434.8" y="900.0" width="5.8" height="11.5" fill="#2000ff" opacity="0.85"/><rect x="1435.8" y="903.0" width="3.8" height="7.0" fill="#b030f0" opacity="0.55"/><rect x="1443.6" y="900.0" width="5.9" height="11.5" fill="#2000ff" opacity="0.85"/><rect x="1444.6" y="903.0" width="3.9" height="7.0" fill="#b030f0" opacity="0.62"/><rect x="1453.3" y="900.0" width="5.4" height="11.5" fill="#2000ff" opacity="0.85"/><rect x="1454.3" y="903.0" width="3.4" height="7.0" fill="#b030f0" opacity="0.60"/><rect x="1462.1" y="900.0" width="6.9" height="11.5" fill="#2000ff" opacity="0.85"/><rect x="1463.1" y="903.0" width="4.9" height="7.0" fill="#9020ff" opacity="0.82"/><rect x="1472.2" y="900.0" width="5.4" height="11.5" fill="#2000ff" opacity="0.85"/><rect x="1473.2" y="903.0" width="3.4" height="7.0" fill="#9020ff" opacity="0.85"/><rect x="1481.6" y="900.0" width="6.7" height="11.5" fill="#2000ff" opacity="0.85"/><rect x="1482.6" y="903.0" width="4.7" height="7.0" fill="#b030f0" opacity="0.76"/><rect x="1491.7" y="900.0" width="5.0" height="11.5" fill="#2000ff" opacity="0.85"/><rect x="1492.7" y="903.0" width="3.0" height="7.0" fill="#9020ff" opacity="0.89"/><rect x="1500.2" y="900.0" width="6.5" height="11.5" fill="#2000ff" opacity="0.85"/><rect x="1501.2" y="903.0" width="4.5" height="7.0" fill="#b030f0" opacity="0.55"/><rect x="1509.4" y="900.0" width="5.2" height="11.5" fill="#2000ff" opacity="0.85"/><rect x="1510.4" y="903.0" width="3.2" height="7.0" fill="#7010ff" opacity="0.64"/><rect x="1516.8" y="900.0" width="5.6" height="11.5" fill="#2000ff" opacity="0.85"/><rect x="1517.8" y="903.0" width="3.6" height="7.0" fill="#9020ff" opacity="0.72"/><rect x="1525.7" y="900.0" width="5.6" height="11.5" fill="#2000ff" opacity="0.85"/><rect x="1526.7" y="903.0" width="3.6" height="7.0" fill="#7010ff" opacity="0.73"/><rect x="1533.3" y="900.0" width="5.0" height="11.5" fill="#2000ff" opacity="0.85"/><rect x="1534.3" y="903.0" width="3.0" height="7.0" fill="#7010ff" opacity="0.59"/></g>
</g>
<rect x="102.3" y="51.4" width="1674.3" height="924.0" fill="none" stroke="#000" stroke-width="1.4"/>
<line x1="96.0" y1="975.3" x2="102.3" y2="975.3" stroke="#000" stroke-width="1.4"/>
<text transform="translate(90.64,985.80) scale(0.9733,1)" font-size="31.80" x="-38.42 -18.66" y="0">10</text>
<line x1="96.0" y1="846.8" x2="102.3" y2="846.8" stroke="#000" stroke-width="1.4"/>
<text transform="translate(90.64,857.26) scale(0.9769,1)" font-size="31.80" x="-38.56 -18.62" y="0">20</text>
<line x1="96.0" y1="718.2" x2="102.3" y2="718.2" stroke="#000" stroke-width="1.4"/>
<text transform="translate(90.64,728.72) scale(0.9748,1)" font-size="31.80" x="-38.18 -18.64" y="0">30</text>
<line x1="96.0" y1="589.7" x2="102.3" y2="589.7" stroke="#000" stroke-width="1.4"/>
<text transform="translate(90.64,600.18) scale(0.9945,1)" font-size="31.80" x="-37.64 -18.45" y="0">40</text>
<line x1="96.0" y1="461.1" x2="102.3" y2="461.1" stroke="#000" stroke-width="1.4"/>
<text transform="translate(90.64,471.64) scale(0.9666,1)" font-size="31.80" x="-38.59 -18.72" y="0">50</text>
<line x1="96.0" y1="332.6" x2="102.3" y2="332.6" stroke="#000" stroke-width="1.4"/>
<text transform="translate(90.64,343.10) scale(1.0116,1)" font-size="31.80" x="-37.15 -18.28" y="0">60</text>
<line x1="96.0" y1="204.1" x2="102.3" y2="204.1" stroke="#000" stroke-width="1.4"/>
<text transform="translate(90.64,214.56) scale(0.9839,1)" font-size="31.80" x="-38.01 -18.55" y="0">70</text>
<line x1="96.0" y1="75.5" x2="102.3" y2="75.5" stroke="#000" stroke-width="1.4"/>
<text transform="translate(90.64,86.02) scale(0.9998,1)" font-size="31.80" x="-37.49 -18.40" y="0">80</text>
<line x1="102.3" y1="975.4" x2="102.3" y2="981.7" stroke="#000" stroke-width="1.4"/>
<text transform="translate(102.30,1010.10) scale(0.9744,1)" font-size="31.80" x="-43.83 -23.83 -4.41 6.13 25.60" y="0">20:45</text>
<line x1="213.9" y1="975.4" x2="213.9" y2="981.7" stroke="#000" stroke-width="1.4"/>
<text transform="translate(213.92,1010.10) scale(0.9956,1)" font-size="31.80" x="-43.08 -23.51 -4.41 5.81 24.98" y="0">20:46</text>
<line x1="325.5" y1="975.4" x2="325.5" y2="981.7" stroke="#000" stroke-width="1.4"/>
<text transform="translate(325.54,1010.10) scale(0.9826,1)" font-size="31.80" x="-43.53 -23.71 -4.41 6.00 25.37" y="0">20:47</text>
<line x1="437.2" y1="975.4" x2="437.2" y2="981.7" stroke="#000" stroke-width="1.4"/>
<text transform="translate(437.16,1010.10) scale(0.9901,1)" font-size="31.80" x="-43.27 -23.59 -4.41 5.89 25.17" y="0">20:48</text>
<line x1="548.8" y1="975.4" x2="548.8" y2="981.7" stroke="#000" stroke-width="1.4"/>
<text transform="translate(548.78,1010.10) scale(0.9951,1)" font-size="31.80" x="-43.10 -23.52 -4.41 5.82 24.90" y="0">20:49</text>
<line x1="660.4" y1="975.4" x2="660.4" y2="981.7" stroke="#000" stroke-width="1.4"/>
<text transform="translate(660.40,1010.10) scale(0.9741,1)" font-size="31.80" x="-43.84 -23.84 -4.41 6.02 25.73" y="0">20:50</text>
<line x1="772.0" y1="975.4" x2="772.0" y2="981.7" stroke="#000" stroke-width="1.4"/>
<text transform="translate(772.02,1010.10) scale(0.9636,1)" font-size="31.80" x="-44.22 -24.00 -4.41 6.18 25.95" y="0">20:51</text>
<line x1="883.6" y1="975.4" x2="883.6" y2="981.7" stroke="#000" stroke-width="1.4"/>
<text transform="translate(883.64,1010.10) scale(0.9655,1)" font-size="31.80" x="-44.15 -23.97 -4.41 6.15 25.63" y="0">20:52</text>
<line x1="995.3" y1="975.4" x2="995.3" y2="981.7" stroke="#000" stroke-width="1.4"/>
<text transform="translate(995.26,1010.10) scale(0.9646,1)" font-size="31.80" x="-44.18 -23.98 -4.41 6.16 26.11" y="0">20:53</text>
<line x1="1106.9" y1="975.4" x2="1106.9" y2="981.7" stroke="#000" stroke-width="1.4"/>
<text transform="translate(1106.88,1010.10) scale(0.9744,1)" font-size="31.80" x="-43.83 -23.83 -4.41 6.01 25.72" y="0">20:54</text>
<line x1="1218.5" y1="975.4" x2="1218.5" y2="981.7" stroke="#000" stroke-width="1.4"/>
<text transform="translate(1218.50,1010.10) scale(0.9606,1)" font-size="31.80" x="-44.33 -24.05 -4.41 6.22 26.09" y="0">20:55</text>
<line x1="1330.1" y1="975.4" x2="1330.1" y2="981.7" stroke="#000" stroke-width="1.4"/>
<text transform="translate(1330.12,1010.10) scale(0.9821,1)" font-size="31.80" x="-43.55 -23.71 -4.41 5.90 25.45" y="0">20:56</text>
<line x1="1441.7" y1="975.4" x2="1441.7" y2="981.7" stroke="#000" stroke-width="1.4"/>
<text transform="translate(1441.74,1010.10) scale(0.9688,1)" font-size="31.80" x="-44.03 -23.92 -4.41 6.10 25.86" y="0">20:57</text>
<line x1="1553.4" y1="975.4" x2="1553.4" y2="981.7" stroke="#000" stroke-width="1.4"/>
<text transform="translate(1553.36,1010.10) scale(0.9766,1)" font-size="31.80" x="-43.75 -23.80 -4.41 5.98 25.64" y="0">20:58</text>
<line x1="1665.0" y1="975.4" x2="1665.0" y2="981.7" stroke="#000" stroke-width="1.4"/>
<text transform="translate(1664.98,1010.10) scale(0.9816,1)" font-size="31.80" x="-43.57 -23.72 -4.41 5.90 25.37" y="0">20:59</text>
<text transform="translate(210.20,41.00) scale(0.9687,1)" font-size="38.87" x="0.73 25.31 48.90 73.33 97.32 110.13 134.22 158.24 170.75 195.33 242.00 267.95 291.90 315.92 326.26 362.43 374.94 385.62 409.91 443.91 467.89 491.54 514.67 534.94 546.43 560.82 581.98 606.73 629.46 641.74 669.17 695.64 716.73 737.46 747.70 772.17 795.38 837.36 852.31 881.60 906.80 919.80 955.31 979.35 990.06 1016.61 1041.32 1064.70 1089.92 1101.26 1115.18 1144.26 1164.54 1193.00 1206.10 1228.90 1252.50 1273.78 1295.45 1318.74 1338.31 1359.65 1383.00 1406.98 1430.34 1455.37 1479.50" y="0">2025/11/28Radiofluxdensity,e-CALLISTO(NZ-WAIRAKEI-DLR),Focuscode:63</text>
<text transform="translate(742.50,1048.70) scale(1.0003,1)" font-size="35.51" x="-0.62 27.32 47.70 65.56 87.28 100.47 118.37 141.32 153.63 162.59 183.51 216.11 228.43 238.62 270.12 301.16 313.38 337.85 357.59 383.25" y="0">Observationtime[UTC]</text>
<text transform="translate(37.00,653.70) rotate(-90) scale(0.9847,1)" font-size="35.51" x="-1.13 21.31 31.74 51.97 73.70 95.08 116.34 136.99 156.81 186.96 199.74 229.16 255.00 275.66" y="0">Frequency[MHz]</text>
<rect x="1916.4" y="27.3" width="43.0" height="960.2" fill="url(#cb)" stroke="#000" stroke-width="1.4"/>
<line x1="1959.4" y1="987.5" x2="1965.7" y2="987.5" stroke="#000" stroke-width="1.4"/>
<text transform="translate(1971.06,992.90) scale(1.0912,1)" font-size="17.67" x="1.24 12.54" y="0">−2</text>
<line x1="1959.4" y1="874.5" x2="1965.7" y2="874.5" stroke="#000" stroke-width="1.4"/>
<text transform="translate(1971.06,879.94) scale(0.9945,1)" font-size="17.67" x="0.41" y="0">0</text>
<line x1="1959.4" y1="761.6" x2="1965.7" y2="761.6" stroke="#000" stroke-width="1.4"/>
<text transform="translate(1971.06,766.97) scale(0.9586,1)" font-size="17.67" x="0.39" y="0">2</text>
<line x1="1959.4" y1="648.6" x2="1965.7" y2="648.6" stroke="#000" stroke-width="1.4"/>
<text transform="translate(1971.06,654.01) scale(0.9946,1)" font-size="17.67" x="0.41" y="0">4</text>
<line x1="1959.4" y1="535.6" x2="1965.7" y2="535.6" stroke="#000" stroke-width="1.4"/>
<text transform="translate(1971.06,541.04) scale(1.0293,1)" font-size="17.67" x="0.23" y="0">6</text>
<line x1="1959.4" y1="422.7" x2="1965.7" y2="422.7" stroke="#000" stroke-width="1.4"/>
<text transform="translate(1971.06,428.08) scale(1.0052,1)" font-size="17.67" x="0.36" y="0">8</text>
<line x1="1959.4" y1="309.7" x2="1965.7" y2="309.7" stroke="#000" stroke-width="1.4"/>
<text transform="translate(1971.06,315.11) scale(0.9733,1)" font-size="17.67" x="0.44 11.43" y="0">10</text>
<line x1="1959.4" y1="196.7" x2="1965.7" y2="196.7" stroke="#000" stroke-width="1.4"/>
<text transform="translate(1971.06,202.15) scale(0.9543,1)" font-size="17.67" x="0.56 11.52" y="0">12</text>
<line x1="1959.4" y1="83.8" x2="1965.7" y2="83.8" stroke="#000" stroke-width="1.4"/>
<text transform="translate(1971.06,89.18) scale(0.9739,1)" font-size="17.67" x="0.44 11.41" y="0">14</text>
<text transform="translate(2027.00,507.40) rotate(-90) scale(0.9929,1)" font-size="35.51" x="-183.88 -163.42 -130.03 -107.50 -86.68 -65.38 -45.95 -14.00 5.56 27.05 46.75 65.77 88.22 100.88 121.07 142.60 163.72" y="0">dBabovebackground</text>
</svg></body></html>
